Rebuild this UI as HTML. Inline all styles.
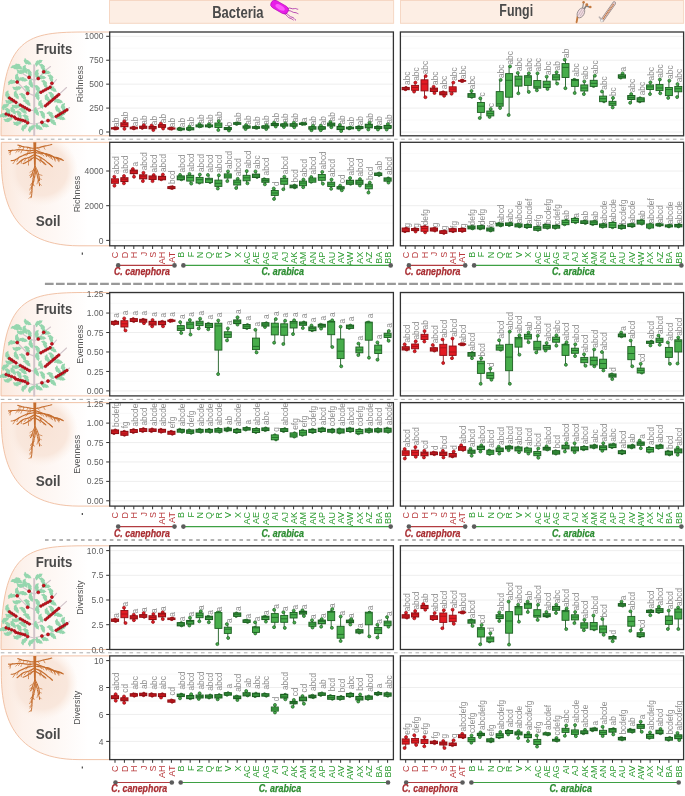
<!DOCTYPE html><html><head><meta charset="utf-8"><style>
html,body{margin:0;padding:0;background:#fff;width:685px;height:796px;overflow:hidden}
svg{display:block;will-change:transform}
text{font-family:"Liberation Sans",sans-serif}
</style></head><body>
<svg width="685" height="796" viewBox="0 0 685 796">
<defs>
<linearGradient id="pg" x1="0" y1="0" x2="1" y2="0">
<stop offset="0" stop-color="#fbe8dc"/><stop offset="0.2" stop-color="#fdf2ec"/><stop offset="0.5" stop-color="#fef8f5"/><stop offset="0.8" stop-color="#ffffff"/></linearGradient>
<radialGradient id="glow" cx="0.5" cy="0.5" r="0.5">
<stop offset="0" stop-color="#f8e3d6"/><stop offset="0.7" stop-color="#f9e7dc"/><stop offset="1" stop-color="#fcf0e8" stop-opacity="0"/></radialGradient>
</defs>
<rect x="109.5" y="0.5" width="284.1" height="22.8" fill="#fdeee4" stroke="#f6d7c4" stroke-width="1"/>
<rect x="400.5" y="0.5" width="283.1" height="22.8" fill="#fdeee4" stroke="#f6d7c4" stroke-width="1"/>
<text x="212.2" y="17.6" font-size="15.8" font-weight="bold" fill="#4a4a4a" textLength="51.4" lengthAdjust="spacingAndGlyphs">Bacteria</text>
<text x="499.3" y="16.0" font-size="15.8" font-weight="bold" fill="#4a4a4a" textLength="33.8" lengthAdjust="spacingAndGlyphs">Fungi</text>
<defs><g id="tree"><line x1="34.2" y1="32.4" x2="34.2" y2="104" stroke="#d2c4ca" stroke-width="2.0"/>
<line x1="34.2" y1="48.5" x2="29.1" y2="45.4" stroke="#d2c4ca" stroke-width="1.15" stroke-linecap="round"/>
<line x1="34.2" y1="48.5" x2="38.3" y2="46.5" stroke="#d2c4ca" stroke-width="1.15" stroke-linecap="round"/>
<line x1="34.2" y1="63.6" x2="27.6" y2="61.0" stroke="#d2c4ca" stroke-width="1.15" stroke-linecap="round"/>
<line x1="34.2" y1="63.6" x2="40.9" y2="60.3" stroke="#d2c4ca" stroke-width="1.15" stroke-linecap="round"/>
<line x1="34.2" y1="78.4" x2="29.6" y2="78.4" stroke="#d2c4ca" stroke-width="1.15" stroke-linecap="round"/>
<line x1="34.2" y1="78.4" x2="45.5" y2="73.8" stroke="#d2c4ca" stroke-width="1.15" stroke-linecap="round"/>
<line x1="34.2" y1="92.2" x2="27.6" y2="90.7" stroke="#d2c4ca" stroke-width="1.15" stroke-linecap="round"/>
<line x1="34.2" y1="92.2" x2="41.9" y2="90.2" stroke="#d2c4ca" stroke-width="1.15" stroke-linecap="round"/>
<line x1="41.9" y1="90.2" x2="48.0" y2="88.6" stroke="#d2c4ca" stroke-width="1.15" stroke-linecap="round"/>
<line x1="29.1" y1="45.4" x2="22.5" y2="41.5" stroke="#d2c4ca" stroke-width="1.15" stroke-linecap="round"/>
<line x1="38.3" y1="46.5" x2="43.7" y2="39.8" stroke="#d2c4ca" stroke-width="1.15" stroke-linecap="round"/>
<line x1="43.7" y1="39.8" x2="50.5" y2="34.5" stroke="#d2c4ca" stroke-width="1.15" stroke-linecap="round"/>
<line x1="27.6" y1="61.0" x2="17.2" y2="50.0" stroke="#d2c4ca" stroke-width="1.15" stroke-linecap="round"/>
<line x1="40.9" y1="60.3" x2="50.1" y2="55.2" stroke="#d2c4ca" stroke-width="1.15" stroke-linecap="round"/>
<line x1="50.1" y1="55.2" x2="56.5" y2="47.5" stroke="#d2c4ca" stroke-width="1.15" stroke-linecap="round"/>
<line x1="29.6" y1="78.4" x2="9.7" y2="65.6" stroke="#d2c4ca" stroke-width="1.15" stroke-linecap="round"/>
<line x1="45.5" y1="73.8" x2="58.8" y2="62.6" stroke="#d2c4ca" stroke-width="1.15" stroke-linecap="round"/>
<line x1="58.8" y1="62.6" x2="66.5" y2="55.5" stroke="#d2c4ca" stroke-width="1.15" stroke-linecap="round"/>
<line x1="27.6" y1="90.7" x2="6.1" y2="82.0" stroke="#d2c4ca" stroke-width="1.15" stroke-linecap="round"/>
<line x1="48.0" y1="88.6" x2="66.9" y2="77.9" stroke="#d2c4ca" stroke-width="1.15" stroke-linecap="round"/>
<line x1="66.9" y1="77.9" x2="69.5" y2="75.5" stroke="#d2c4ca" stroke-width="1.15" stroke-linecap="round"/>
<defs><path id="leaf" d="M-4.60,-0.00 L-3.29,-1.06 L-1.97,-1.30 L-0.66,-2.20 L0.66,-1.58 L1.97,-1.80 L3.29,-0.76 L4.60,-0.00 L4.60,0.00 L3.29,0.76 L1.97,1.80 L0.66,1.58 L-0.66,2.20 L-1.97,1.30 L-3.29,1.06 L-4.60,0.00Z" fill="#95d6ae"/></defs>
<use href="#leaf" transform="translate(25.66,29.27) rotate(78) scale(0.75)"/>
<use href="#leaf" transform="translate(27.6,30.3) rotate(28)"/>
<use href="#leaf" transform="translate(36.89,31.40) rotate(-82) scale(0.75)"/>
<use href="#leaf" transform="translate(38.8,30.3) rotate(-30)"/>
<use href="#leaf" transform="translate(17.21,33.29) rotate(-8) scale(0.75)"/>
<use href="#leaf" transform="translate(18.9,34.7) rotate(40)"/>
<use href="#leaf" transform="translate(13.73,34.75) rotate(-17) scale(0.75)"/>
<use href="#leaf" transform="translate(15.8,35.5) rotate(20)"/>
<use href="#leaf" transform="translate(24.07,35.81) rotate(117) scale(0.75)"/>
<use href="#leaf" transform="translate(25.0,37.8) rotate(65)"/>
<use href="#leaf" transform="translate(19.31,39.99) rotate(41) scale(0.75)"/>
<use href="#leaf" transform="translate(21.5,39.8) rotate(-5)"/>
<use href="#leaf" transform="translate(29.03,39.27) rotate(40) scale(0.75)"/>
<use href="#leaf" transform="translate(29.6,41.4) rotate(75)"/>
<use href="#leaf" transform="translate(41.97,33.71) rotate(22) scale(0.75)"/>
<use href="#leaf" transform="translate(42.9,35.7) rotate(65)"/>
<use href="#leaf" transform="translate(44.32,39.99) rotate(-45) scale(0.75)"/>
<use href="#leaf" transform="translate(46.5,40.3) rotate(8)"/>
<use href="#leaf" transform="translate(36.61,40.21) rotate(123) scale(0.75)"/>
<use href="#leaf" transform="translate(36.8,42.4) rotate(85)"/>
<use href="#leaf" transform="translate(39.71,45.21) rotate(-33) scale(0.75)"/>
<use href="#leaf" transform="translate(41.9,45.4) rotate(5)"/>
<use href="#leaf" transform="translate(16.65,44.43) rotate(108) scale(0.75)"/>
<use href="#leaf" transform="translate(17.4,46.5) rotate(70)"/>
<use href="#leaf" transform="translate(10.11,50.19) rotate(-59) scale(0.75)"/>
<use href="#leaf" transform="translate(12.3,50.0) rotate(-5)"/>
<use href="#leaf" transform="translate(21.37,46.93) rotate(-24) scale(0.75)"/>
<use href="#leaf" transform="translate(23.5,47.5) rotate(15)"/>
<use href="#leaf" transform="translate(50.53,44.37) rotate(21) scale(0.75)"/>
<use href="#leaf" transform="translate(51.1,46.5) rotate(75)"/>
<use href="#leaf" transform="translate(26.67,55.21) rotate(13) scale(0.75)"/>
<use href="#leaf" transform="translate(27.6,57.2) rotate(65)"/>
<use href="#leaf" transform="translate(15.23,56.58) rotate(31) scale(0.75)"/>
<use href="#leaf" transform="translate(17.4,56.2) rotate(-10)"/>
<use href="#leaf" transform="translate(44.25,50.03) rotate(24) scale(0.75)"/>
<use href="#leaf" transform="translate(45.0,52.1) rotate(70)"/>
<use href="#leaf" transform="translate(37.05,55.13) rotate(31) scale(0.75)"/>
<use href="#leaf" transform="translate(37.8,57.2) rotate(70)"/>
<use href="#leaf" transform="translate(51.30,55.94) rotate(-19) scale(0.75)"/>
<use href="#leaf" transform="translate(53.1,57.2) rotate(35)"/>
<use href="#leaf" transform="translate(6.95,61.53) rotate(111) scale(0.75)"/>
<use href="#leaf" transform="translate(7.7,63.6) rotate(70)"/>
<use href="#leaf" transform="translate(15.30,61.69) rotate(103) scale(0.75)"/>
<use href="#leaf" transform="translate(16.4,63.6) rotate(60)"/>
<use href="#leaf" transform="translate(22.24,62.80) rotate(15) scale(0.75)"/>
<use href="#leaf" transform="translate(23.5,64.6) rotate(55)"/>
<use href="#leaf" transform="translate(8.02,70.01) rotate(33) scale(0.75)"/>
<use href="#leaf" transform="translate(10.2,69.7) rotate(-8)"/>
<use href="#leaf" transform="translate(26.19,69.01) rotate(3) scale(0.75)"/>
<use href="#leaf" transform="translate(27.6,70.7) rotate(50)"/>
<use href="#leaf" transform="translate(14.72,74.61) rotate(28) scale(0.75)"/>
<use href="#leaf" transform="translate(16.9,74.3) rotate(-8)"/>
<use href="#leaf" transform="translate(39.97,70.81) rotate(116) scale(0.75)"/>
<use href="#leaf" transform="translate(40.9,72.8) rotate(65)"/>
<use href="#leaf" transform="translate(46.24,64.90) rotate(104) scale(0.75)"/>
<use href="#leaf" transform="translate(47.5,66.7) rotate(55)"/>
<use href="#leaf" transform="translate(56.67,68.63) rotate(-30) scale(0.75)"/>
<use href="#leaf" transform="translate(58.8,69.2) rotate(15)"/>
<use href="#leaf" transform="translate(21.81,77.49) rotate(4) scale(0.75)"/>
<use href="#leaf" transform="translate(23.5,78.9) rotate(40)"/>
<use href="#leaf" transform="translate(7.45,77.83) rotate(16) scale(0.75)"/>
<use href="#leaf" transform="translate(8.2,79.9) rotate(70)"/>
<use href="#leaf" transform="translate(12.04,77.10) rotate(107) scale(0.75)"/>
<use href="#leaf" transform="translate(13.3,78.9) rotate(55)"/>
<use href="#leaf" transform="translate(1.91,83.31) rotate(-41) scale(0.75)"/>
<use href="#leaf" transform="translate(4.1,83.5) rotate(5)"/>
<use href="#leaf" transform="translate(6.63,88.35) rotate(22) scale(0.75)"/>
<use href="#leaf" transform="translate(8.7,87.6) rotate(-20)"/>
<use href="#leaf" transform="translate(18.47,80.51) rotate(21) scale(0.75)"/>
<use href="#leaf" transform="translate(19.4,82.5) rotate(65)"/>
<use href="#leaf" transform="translate(25.50,84.19) rotate(13) scale(0.75)"/>
<use href="#leaf" transform="translate(26.6,86.1) rotate(60)"/>
<use href="#leaf" transform="translate(42.15,80.93) rotate(33) scale(0.75)"/>
<use href="#leaf" transform="translate(42.9,83.0) rotate(70)"/>
<use href="#leaf" transform="translate(49.84,81.20) rotate(1) scale(0.75)"/>
<use href="#leaf" transform="translate(51.1,83.0) rotate(55)"/>
<use href="#leaf" transform="translate(56.79,76.21) rotate(92) scale(0.75)"/>
<use href="#leaf" transform="translate(58.2,77.9) rotate(50)"/>
<use href="#leaf" transform="translate(62.83,73.77) rotate(128) scale(0.75)"/>
<use href="#leaf" transform="translate(63.4,75.9) rotate(75)"/>
<use href="#leaf" transform="translate(15.77,91.77) rotate(36) scale(0.75)"/>
<use href="#leaf" transform="translate(17.9,91.2) rotate(-15)"/>
<use href="#leaf" transform="translate(22.94,96.36) rotate(-92) scale(0.75)"/>
<use href="#leaf" transform="translate(24.5,94.8) rotate(-45)"/>
<use href="#leaf" transform="translate(42.93,92.45) rotate(72) scale(0.75)"/>
<use href="#leaf" transform="translate(45.0,93.2) rotate(20)"/>
<use href="#leaf" transform="translate(51.54,88.64) rotate(1) scale(0.75)"/>
<use href="#leaf" transform="translate(53.1,90.2) rotate(45)"/>
<use href="#leaf" transform="translate(59.17,85.53) rotate(-24) scale(0.75)"/>
<use href="#leaf" transform="translate(61.3,86.1) rotate(15)"/>
<use href="#leaf" transform="translate(36.93,62.37) rotate(128) scale(0.75)"/>
<use href="#leaf" transform="translate(37.5,64.5) rotate(75)"/>
<use href="#leaf" transform="translate(30.25,49.93) rotate(111) scale(0.75)"/>
<use href="#leaf" transform="translate(31.0,52.0) rotate(70)"/>
<use href="#leaf" transform="translate(51.25,61.93) rotate(29) scale(0.75)"/>
<use href="#leaf" transform="translate(52.0,64.0) rotate(70)"/>
<use href="#leaf" transform="translate(35.40,78.09) rotate(101) scale(0.75)"/>
<use href="#leaf" transform="translate(36.5,80.0) rotate(60)"/>
<use href="#leaf" transform="translate(29.81,97.41) rotate(-88) scale(0.75)"/>
<use href="#leaf" transform="translate(31.5,96.0) rotate(-40)"/>
<use href="#leaf" transform="translate(37.09,94.40) rotate(85) scale(0.75)"/>
<use href="#leaf" transform="translate(39.0,95.5) rotate(30)"/>
<use href="#leaf" transform="translate(3.59,75.10) rotate(-79) scale(0.75)"/>
<use href="#leaf" transform="translate(5.5,74.0) rotate(-30)"/>
<use href="#leaf" transform="translate(59.93,82.75) rotate(-75) scale(0.75)"/>
<use href="#leaf" transform="translate(62.0,82.0) rotate(-20)"/>
<circle cx="29.1" cy="45.4" r="1.55" fill="#cf101b" stroke="#850810" stroke-width="0.5"/>
<circle cx="38.3" cy="46.5" r="1.55" fill="#cf101b" stroke="#850810" stroke-width="0.5"/>
<circle cx="43.7" cy="39.8" r="1.55" fill="#cf101b" stroke="#850810" stroke-width="0.5"/>
<circle cx="17.2" cy="50.0" r="1.55" fill="#cf101b" stroke="#850810" stroke-width="0.5"/>
<circle cx="51.9" cy="51.3" r="1.55" fill="#cf101b" stroke="#850810" stroke-width="0.5"/>
<circle cx="27.6" cy="61.4" r="1.55" fill="#cf101b" stroke="#850810" stroke-width="0.5"/>
<circle cx="27.6" cy="90.7" r="1.55" fill="#cf101b" stroke="#850810" stroke-width="0.5"/>
<circle cx="41.9" cy="90.2" r="1.55" fill="#cf101b" stroke="#850810" stroke-width="0.5"/>
<circle cx="48.0" cy="88.6" r="1.55" fill="#cf101b" stroke="#850810" stroke-width="0.5"/>
<circle cx="40.90" cy="60.30" r="1.35" fill="#cf101b" stroke="#850810" stroke-width="0.6"/>
<circle cx="43.20" cy="59.02" r="1.35" fill="#cf101b" stroke="#850810" stroke-width="0.6"/>
<circle cx="45.50" cy="57.75" r="1.35" fill="#cf101b" stroke="#850810" stroke-width="0.6"/>
<circle cx="47.80" cy="56.48" r="1.35" fill="#cf101b" stroke="#850810" stroke-width="0.6"/>
<circle cx="50.10" cy="55.20" r="1.35" fill="#cf101b" stroke="#850810" stroke-width="0.6"/>
<circle cx="9.50" cy="66.00" r="1.35" fill="#cf101b" stroke="#850810" stroke-width="0.6"/>
<circle cx="11.67" cy="67.47" r="1.35" fill="#cf101b" stroke="#850810" stroke-width="0.6"/>
<circle cx="13.83" cy="68.93" r="1.35" fill="#cf101b" stroke="#850810" stroke-width="0.6"/>
<circle cx="16.00" cy="70.40" r="1.35" fill="#cf101b" stroke="#850810" stroke-width="0.6"/>
<circle cx="20.30" cy="73.00" r="1.35" fill="#cf101b" stroke="#850810" stroke-width="0.6"/>
<circle cx="22.57" cy="74.30" r="1.35" fill="#cf101b" stroke="#850810" stroke-width="0.6"/>
<circle cx="24.85" cy="75.60" r="1.35" fill="#cf101b" stroke="#850810" stroke-width="0.6"/>
<circle cx="27.12" cy="76.90" r="1.35" fill="#cf101b" stroke="#850810" stroke-width="0.6"/>
<circle cx="29.40" cy="78.20" r="1.35" fill="#cf101b" stroke="#850810" stroke-width="0.6"/>
<circle cx="45.50" cy="73.80" r="1.35" fill="#cf101b" stroke="#850810" stroke-width="0.6"/>
<circle cx="47.40" cy="72.20" r="1.35" fill="#cf101b" stroke="#850810" stroke-width="0.6"/>
<circle cx="49.30" cy="70.60" r="1.35" fill="#cf101b" stroke="#850810" stroke-width="0.6"/>
<circle cx="51.20" cy="69.00" r="1.35" fill="#cf101b" stroke="#850810" stroke-width="0.6"/>
<circle cx="53.10" cy="67.40" r="1.35" fill="#cf101b" stroke="#850810" stroke-width="0.6"/>
<circle cx="55.00" cy="65.80" r="1.35" fill="#cf101b" stroke="#850810" stroke-width="0.6"/>
<circle cx="56.90" cy="64.20" r="1.35" fill="#cf101b" stroke="#850810" stroke-width="0.6"/>
<circle cx="58.80" cy="62.60" r="1.35" fill="#cf101b" stroke="#850810" stroke-width="0.6"/>
<circle cx="6.10" cy="82.00" r="1.35" fill="#cf101b" stroke="#850810" stroke-width="0.6"/>
<circle cx="8.83" cy="83.00" r="1.35" fill="#cf101b" stroke="#850810" stroke-width="0.6"/>
<circle cx="11.57" cy="84.00" r="1.35" fill="#cf101b" stroke="#850810" stroke-width="0.6"/>
<circle cx="14.30" cy="85.00" r="1.35" fill="#cf101b" stroke="#850810" stroke-width="0.6"/>
<circle cx="15.80" cy="86.60" r="1.35" fill="#cf101b" stroke="#850810" stroke-width="0.6"/>
<circle cx="18.10" cy="87.22" r="1.35" fill="#cf101b" stroke="#850810" stroke-width="0.6"/>
<circle cx="20.40" cy="87.85" r="1.35" fill="#cf101b" stroke="#850810" stroke-width="0.6"/>
<circle cx="22.70" cy="88.47" r="1.35" fill="#cf101b" stroke="#850810" stroke-width="0.6"/>
<circle cx="25.00" cy="89.10" r="1.35" fill="#cf101b" stroke="#850810" stroke-width="0.6"/>
<circle cx="56.20" cy="84.50" r="1.35" fill="#cf101b" stroke="#850810" stroke-width="0.6"/>
<circle cx="58.34" cy="83.18" r="1.35" fill="#cf101b" stroke="#850810" stroke-width="0.6"/>
<circle cx="60.48" cy="81.86" r="1.35" fill="#cf101b" stroke="#850810" stroke-width="0.6"/>
<circle cx="62.62" cy="80.54" r="1.35" fill="#cf101b" stroke="#850810" stroke-width="0.6"/>
<circle cx="64.76" cy="79.22" r="1.35" fill="#cf101b" stroke="#850810" stroke-width="0.6"/>
<circle cx="66.90" cy="77.90" r="1.35" fill="#cf101b" stroke="#850810" stroke-width="0.6"/></g><g id="root"><path d="M33.3,0 L36.3,0 L36.0,10 L35.8,22 L35.4,30 L34.6,30 L34.0,22 L33.6,10 Z" fill="#c56d2e"/>
<path d="M34.40,6.00 L32.28,5.91 L30.18,5.56 L28.11,5.10 L26.02,4.68 L23.90,4.52 L21.83,4.04 L19.82,3.36 L17.78,2.77" fill="none" stroke="#c56d2e" stroke-width="1.15" stroke-linecap="round" stroke-linejoin="round"/>
<path d="M30.18,5.56 L30.06,6.53 L30.12,7.50 L30.01,8.47" fill="none" stroke="#c56d2e" stroke-width="0.75" stroke-linecap="round" stroke-linejoin="round"/>
<path d="M28.11,5.10 L27.79,5.72 L27.46,6.34 L27.09,6.94" fill="none" stroke="#c56d2e" stroke-width="0.75" stroke-linecap="round" stroke-linejoin="round"/>
<path d="M23.90,4.52 L23.69,5.58 L23.25,6.56 L22.88,7.58" fill="none" stroke="#c56d2e" stroke-width="0.75" stroke-linecap="round" stroke-linejoin="round"/>
<path d="M21.83,4.04 L21.23,4.52 L20.67,5.05 L20.11,5.58" fill="none" stroke="#c56d2e" stroke-width="0.75" stroke-linecap="round" stroke-linejoin="round"/>
<path d="M19.82,3.36 L19.59,4.15 L19.20,4.87 L18.89,5.63" fill="none" stroke="#c56d2e" stroke-width="0.75" stroke-linecap="round" stroke-linejoin="round"/>
<path d="M34.40,8.00 L32.40,8.06 L30.43,8.42 L28.43,8.39 L26.45,8.16 L24.46,7.91 L22.48,7.64 L20.49,7.50 L18.49,7.33 L16.51,7.61 L14.54,7.91 L12.54,7.94 L10.57,8.30 L8.57,8.29" fill="none" stroke="#c56d2e" stroke-width="1.15" stroke-linecap="round" stroke-linejoin="round"/>
<path d="M30.43,8.42 L30.10,9.41 L29.56,10.31 L29.12,11.25" fill="none" stroke="#c56d2e" stroke-width="0.75" stroke-linecap="round" stroke-linejoin="round"/>
<path d="M28.43,8.39 L28.00,9.58 L27.64,10.79 L27.35,12.02" fill="none" stroke="#c56d2e" stroke-width="0.75" stroke-linecap="round" stroke-linejoin="round"/>
<path d="M22.48,7.64 L21.83,8.57 L21.32,9.58 L20.90,10.63" fill="none" stroke="#c56d2e" stroke-width="0.75" stroke-linecap="round" stroke-linejoin="round"/>
<path d="M20.49,7.50 L19.77,8.13 L19.10,8.82 L18.54,9.59" fill="none" stroke="#c56d2e" stroke-width="0.75" stroke-linecap="round" stroke-linejoin="round"/>
<path d="M18.49,7.33 L17.67,8.35 L16.76,9.30 L15.80,10.20" fill="none" stroke="#c56d2e" stroke-width="0.75" stroke-linecap="round" stroke-linejoin="round"/>
<path d="M12.54,7.94 L11.39,8.86 L10.12,9.60 L8.91,10.43" fill="none" stroke="#c56d2e" stroke-width="0.75" stroke-linecap="round" stroke-linejoin="round"/>
<path d="M10.57,8.30 L10.36,9.68 L10.32,11.07 L9.99,12.43" fill="none" stroke="#c56d2e" stroke-width="0.75" stroke-linecap="round" stroke-linejoin="round"/>
<path d="M34.40,10.00 L32.35,10.36 L30.31,10.80 L28.24,11.03 L26.28,11.73 L24.37,12.56 L22.49,13.47 L20.59,14.32 L18.76,15.32 L17.03,16.48 L15.25,17.56 L13.26,18.17 L11.19,18.38" fill="none" stroke="#c56d2e" stroke-width="1.15" stroke-linecap="round" stroke-linejoin="round"/>
<path d="M28.24,11.03 L27.36,11.69 L26.63,12.52 L25.97,13.40" fill="none" stroke="#c56d2e" stroke-width="0.75" stroke-linecap="round" stroke-linejoin="round"/>
<path d="M18.76,15.32 L18.14,16.54 L17.47,17.75 L16.90,18.99" fill="none" stroke="#c56d2e" stroke-width="0.75" stroke-linecap="round" stroke-linejoin="round"/>
<path d="M15.25,17.56 L14.63,18.88 L13.88,20.13 L13.02,21.32" fill="none" stroke="#c56d2e" stroke-width="0.75" stroke-linecap="round" stroke-linejoin="round"/>
<path d="M34.40,12.50 L32.55,13.25 L30.78,14.20 L29.03,15.16 L27.12,15.74 L25.15,16.10 L23.31,16.89 L21.63,17.97 L20.07,19.22 L18.63,20.61 L17.06,21.85" fill="none" stroke="#c56d2e" stroke-width="1.15" stroke-linecap="round" stroke-linejoin="round"/>
<path d="M32.55,13.25 L31.84,14.24 L31.07,15.17 L30.34,16.14" fill="none" stroke="#c56d2e" stroke-width="0.75" stroke-linecap="round" stroke-linejoin="round"/>
<path d="M29.03,15.16 L28.89,15.97 L28.68,16.76 L28.46,17.55" fill="none" stroke="#c56d2e" stroke-width="0.75" stroke-linecap="round" stroke-linejoin="round"/>
<path d="M27.12,15.74 L26.17,16.76 L25.14,17.71 L24.38,18.88" fill="none" stroke="#c56d2e" stroke-width="0.75" stroke-linecap="round" stroke-linejoin="round"/>
<path d="M23.31,16.89 L22.75,17.48 L22.26,18.13 L21.71,18.73" fill="none" stroke="#c56d2e" stroke-width="0.75" stroke-linecap="round" stroke-linejoin="round"/>
<path d="M21.63,17.97 L21.58,18.96 L21.36,19.93 L21.25,20.91" fill="none" stroke="#c56d2e" stroke-width="0.75" stroke-linecap="round" stroke-linejoin="round"/>
<path d="M34.40,15.00 L32.42,15.88 L30.68,17.17 L28.87,18.36 L27.06,19.55 L25.15,20.58 L23.11,21.32" fill="none" stroke="#c56d2e" stroke-width="1.15" stroke-linecap="round" stroke-linejoin="round"/>
<path d="M32.42,15.88 L31.74,16.75 L31.23,17.73 L30.55,18.61" fill="none" stroke="#c56d2e" stroke-width="0.75" stroke-linecap="round" stroke-linejoin="round"/>
<path d="M28.87,18.36 L28.59,19.83 L28.49,21.32 L28.49,22.81" fill="none" stroke="#c56d2e" stroke-width="0.75" stroke-linecap="round" stroke-linejoin="round"/>
<path d="M35.20,6.00 L37.28,5.59 L39.39,5.29 L41.39,4.58 L43.46,4.11 L45.53,3.62 L47.61,3.19 L49.68,2.70 L51.74,2.16" fill="none" stroke="#c56d2e" stroke-width="1.15" stroke-linecap="round" stroke-linejoin="round"/>
<path d="M37.28,5.59 L38.11,6.20 L38.86,6.90 L39.52,7.69" fill="none" stroke="#c56d2e" stroke-width="0.75" stroke-linecap="round" stroke-linejoin="round"/>
<path d="M43.46,4.11 L44.00,5.04 L44.37,6.05 L44.97,6.93" fill="none" stroke="#c56d2e" stroke-width="0.75" stroke-linecap="round" stroke-linejoin="round"/>
<path d="M35.20,8.00 L37.12,8.58 L39.00,9.26 L40.89,9.89 L42.76,10.60 L44.64,11.28 L46.47,12.09 L48.32,12.86 L50.18,13.60 L52.14,13.99 L54.02,14.65 L55.97,15.10 L57.92,15.57 L59.81,16.22 L61.61,17.08 L63.34,18.09" fill="none" stroke="#c56d2e" stroke-width="1.15" stroke-linecap="round" stroke-linejoin="round"/>
<path d="M37.12,8.58 L37.69,9.30 L38.35,9.95 L38.96,10.65" fill="none" stroke="#c56d2e" stroke-width="0.75" stroke-linecap="round" stroke-linejoin="round"/>
<path d="M39.00,9.26 L39.74,10.50 L40.55,11.71 L41.55,12.77" fill="none" stroke="#c56d2e" stroke-width="0.75" stroke-linecap="round" stroke-linejoin="round"/>
<path d="M44.64,11.28 L45.26,12.31 L45.99,13.27 L46.53,14.34" fill="none" stroke="#c56d2e" stroke-width="0.75" stroke-linecap="round" stroke-linejoin="round"/>
<path d="M46.47,12.09 L47.46,13.04 L48.34,14.09 L49.32,15.05" fill="none" stroke="#c56d2e" stroke-width="0.75" stroke-linecap="round" stroke-linejoin="round"/>
<path d="M50.18,13.60 L50.98,14.81 L51.81,16.00 L52.57,17.23" fill="none" stroke="#c56d2e" stroke-width="0.75" stroke-linecap="round" stroke-linejoin="round"/>
<path d="M52.14,13.99 L52.86,14.66 L53.65,15.26 L54.26,16.03" fill="none" stroke="#c56d2e" stroke-width="0.75" stroke-linecap="round" stroke-linejoin="round"/>
<path d="M54.02,14.65 L54.25,16.08 L54.78,17.43 L55.24,18.80" fill="none" stroke="#c56d2e" stroke-width="0.75" stroke-linecap="round" stroke-linejoin="round"/>
<path d="M55.97,15.10 L56.57,16.20 L57.33,17.19 L57.98,18.26" fill="none" stroke="#c56d2e" stroke-width="0.75" stroke-linecap="round" stroke-linejoin="round"/>
<path d="M57.92,15.57 L58.40,16.50 L58.97,17.37 L59.67,18.15" fill="none" stroke="#c56d2e" stroke-width="0.75" stroke-linecap="round" stroke-linejoin="round"/>
<path d="M35.20,10.00 L37.12,10.57 L39.10,10.79 L41.10,10.89 L43.09,11.07 L45.06,11.42 L47.05,11.64 L48.97,12.20 L50.80,13.01 L52.52,14.02 L54.18,15.15 L56.09,15.73 L57.99,16.36 L59.97,16.65 L61.85,17.33" fill="none" stroke="#c56d2e" stroke-width="1.15" stroke-linecap="round" stroke-linejoin="round"/>
<path d="M41.10,10.89 L42.05,11.84 L42.97,12.83 L43.93,13.77" fill="none" stroke="#c56d2e" stroke-width="0.75" stroke-linecap="round" stroke-linejoin="round"/>
<path d="M45.06,11.42 L45.71,12.13 L46.30,12.89 L46.77,13.73" fill="none" stroke="#c56d2e" stroke-width="0.75" stroke-linecap="round" stroke-linejoin="round"/>
<path d="M47.05,11.64 L47.80,12.44 L48.65,13.12 L49.54,13.75" fill="none" stroke="#c56d2e" stroke-width="0.75" stroke-linecap="round" stroke-linejoin="round"/>
<path d="M48.97,12.20 L49.72,12.97 L50.45,13.77 L51.30,14.43" fill="none" stroke="#c56d2e" stroke-width="0.75" stroke-linecap="round" stroke-linejoin="round"/>
<path d="M50.80,13.01 L51.00,14.10 L51.10,15.22 L51.12,16.33" fill="none" stroke="#c56d2e" stroke-width="0.75" stroke-linecap="round" stroke-linejoin="round"/>
<path d="M54.18,15.15 L54.51,15.92 L54.83,16.70 L55.10,17.50" fill="none" stroke="#c56d2e" stroke-width="0.75" stroke-linecap="round" stroke-linejoin="round"/>
<path d="M57.99,16.36 L58.45,17.33 L58.74,18.37 L58.91,19.44" fill="none" stroke="#c56d2e" stroke-width="0.75" stroke-linecap="round" stroke-linejoin="round"/>
<path d="M35.20,12.50 L37.05,13.49 L39.02,14.21 L40.88,15.19 L42.59,16.41 L44.37,17.53 L46.01,18.84 L47.53,20.29 L49.26,21.48 L50.85,22.85 L52.35,24.33" fill="none" stroke="#c56d2e" stroke-width="1.15" stroke-linecap="round" stroke-linejoin="round"/>
<path d="M39.02,14.21 L39.64,15.22 L40.18,16.27 L40.70,17.32" fill="none" stroke="#c56d2e" stroke-width="0.75" stroke-linecap="round" stroke-linejoin="round"/>
<path d="M40.88,15.19 L40.87,16.31 L41.05,17.41 L41.00,18.52" fill="none" stroke="#c56d2e" stroke-width="0.75" stroke-linecap="round" stroke-linejoin="round"/>
<path d="M49.26,21.48 L50.06,22.08 L50.84,22.73 L51.50,23.48" fill="none" stroke="#c56d2e" stroke-width="0.75" stroke-linecap="round" stroke-linejoin="round"/>
<path d="M50.85,22.85 L51.34,23.33 L51.82,23.83 L52.38,24.23" fill="none" stroke="#c56d2e" stroke-width="0.75" stroke-linecap="round" stroke-linejoin="round"/>
<path d="M35.20,15.00 L36.91,16.32 L38.79,17.41 L40.79,18.24 L42.54,19.52 L44.30,20.79 L45.85,22.29" fill="none" stroke="#c56d2e" stroke-width="1.15" stroke-linecap="round" stroke-linejoin="round"/>
<path d="M38.79,17.41 L39.39,18.23 L39.92,19.10 L40.40,20.00" fill="none" stroke="#c56d2e" stroke-width="0.75" stroke-linecap="round" stroke-linejoin="round"/>
<path d="M42.54,19.52 L43.05,20.36 L43.62,21.15 L44.16,21.97" fill="none" stroke="#c56d2e" stroke-width="0.75" stroke-linecap="round" stroke-linejoin="round"/>
<path d="M35.00,28.00 L35.22,29.99 L35.07,31.98 L34.85,33.97 L34.43,35.92 L33.92,37.86 L33.37,39.78 L32.59,41.62 L32.12,43.57 L31.85,45.55 L32.01,47.54 L31.94,49.54 L31.78,51.54 L31.57,53.52 L31.00,55.44" fill="none" stroke="#c56d2e" stroke-width="1.00" stroke-linecap="round" stroke-linejoin="round"/>
<path d="M35.22,29.99 L35.92,30.88 L36.58,31.79 L37.44,32.52" fill="none" stroke="#c56d2e" stroke-width="0.65" stroke-linecap="round" stroke-linejoin="round"/>
<path d="M34.85,33.97 L34.17,34.69 L33.48,35.41 L32.76,36.08" fill="none" stroke="#c56d2e" stroke-width="0.65" stroke-linecap="round" stroke-linejoin="round"/>
<path d="M33.37,39.78 L32.70,40.59 L31.88,41.25 L31.05,41.89" fill="none" stroke="#c56d2e" stroke-width="0.65" stroke-linecap="round" stroke-linejoin="round"/>
<path d="M32.59,41.62 L33.25,42.20 L33.81,42.87 L34.25,43.63" fill="none" stroke="#c56d2e" stroke-width="0.65" stroke-linecap="round" stroke-linejoin="round"/>
<path d="M32.12,43.57 L31.46,44.44 L30.67,45.20 L29.89,45.96" fill="none" stroke="#c56d2e" stroke-width="0.65" stroke-linecap="round" stroke-linejoin="round"/>
<path d="M31.85,45.55 L31.11,46.36 L30.22,47.02 L29.39,47.74" fill="none" stroke="#c56d2e" stroke-width="0.65" stroke-linecap="round" stroke-linejoin="round"/>
<path d="M32.01,47.54 L31.35,48.66 L30.69,49.78 L29.84,50.76" fill="none" stroke="#c56d2e" stroke-width="0.65" stroke-linecap="round" stroke-linejoin="round"/>
<path d="M31.94,49.54 L31.19,50.37 L30.48,51.22 L29.92,52.19" fill="none" stroke="#c56d2e" stroke-width="0.65" stroke-linecap="round" stroke-linejoin="round"/>
<path d="M31.57,53.52 L30.69,54.33 L29.79,55.13 L28.99,56.02" fill="none" stroke="#c56d2e" stroke-width="0.65" stroke-linecap="round" stroke-linejoin="round"/>
<path d="M35.00,27.00 L34.33,28.89 L34.11,30.87 L33.69,32.83 L33.30,34.79 L33.10,36.78 L32.75,38.75 L32.30,40.70 L32.17,42.69 L31.93,44.68 L31.88,46.68" fill="none" stroke="#c56d2e" stroke-width="1.00" stroke-linecap="round" stroke-linejoin="round"/>
<path d="M34.11,30.87 L33.10,31.94 L32.21,33.11 L31.50,34.40" fill="none" stroke="#c56d2e" stroke-width="0.65" stroke-linecap="round" stroke-linejoin="round"/>
<path d="M33.69,32.83 L33.90,33.56 L34.21,34.25 L34.51,34.95" fill="none" stroke="#c56d2e" stroke-width="0.65" stroke-linecap="round" stroke-linejoin="round"/>
<path d="M33.10,36.78 L33.48,37.41 L33.82,38.07 L34.24,38.67" fill="none" stroke="#c56d2e" stroke-width="0.65" stroke-linecap="round" stroke-linejoin="round"/>
<path d="M32.75,38.75 L33.12,40.17 L33.44,41.60 L33.62,43.05" fill="none" stroke="#c56d2e" stroke-width="0.65" stroke-linecap="round" stroke-linejoin="round"/>
<path d="M32.30,40.70 L31.60,41.42 L30.94,42.17 L30.44,43.05" fill="none" stroke="#c56d2e" stroke-width="0.65" stroke-linecap="round" stroke-linejoin="round"/>
<path d="M35.40,26.00 L35.93,27.93 L36.42,29.87 L37.04,31.77 L37.32,33.75 L37.78,35.70 L38.30,37.63 L38.77,39.57 L39.37,41.48 L39.57,43.47" fill="none" stroke="#c56d2e" stroke-width="1.00" stroke-linecap="round" stroke-linejoin="round"/>
<path d="M35.93,27.93 L36.46,28.45 L36.91,29.04 L37.31,29.67" fill="none" stroke="#c56d2e" stroke-width="0.65" stroke-linecap="round" stroke-linejoin="round"/>
<path d="M36.42,29.87 L36.00,30.65 L35.48,31.38 L35.15,32.21" fill="none" stroke="#c56d2e" stroke-width="0.65" stroke-linecap="round" stroke-linejoin="round"/>
<path d="M38.30,37.63 L37.73,38.91 L37.43,40.28 L37.00,41.61" fill="none" stroke="#c56d2e" stroke-width="0.65" stroke-linecap="round" stroke-linejoin="round"/>
<path d="M39.37,41.48 L40.06,41.95 L40.77,42.39 L41.36,42.97" fill="none" stroke="#c56d2e" stroke-width="0.65" stroke-linecap="round" stroke-linejoin="round"/>
<path d="M34.80,24.00 L34.17,25.90 L33.38,27.73 L32.80,29.65 L32.05,31.50 L31.33,33.37 L30.44,35.16" fill="none" stroke="#c56d2e" stroke-width="1.00" stroke-linecap="round" stroke-linejoin="round"/>
<path d="M33.38,27.73 L32.18,28.49 L30.98,29.25 L29.87,30.12" fill="none" stroke="#c56d2e" stroke-width="0.65" stroke-linecap="round" stroke-linejoin="round"/>
<path d="M32.80,29.65 L32.90,30.94 L32.93,32.23 L33.23,33.48" fill="none" stroke="#c56d2e" stroke-width="0.65" stroke-linecap="round" stroke-linejoin="round"/>
<path d="M32.05,31.50 L31.16,31.92 L30.36,32.50 L29.59,33.11" fill="none" stroke="#c56d2e" stroke-width="0.65" stroke-linecap="round" stroke-linejoin="round"/>
<path d="M35.30,24.00 L36.21,25.94 L37.23,27.82 L37.93,29.85 L38.55,31.90 L39.01,33.99 L39.33,36.11 L39.49,38.25" fill="none" stroke="#c56d2e" stroke-width="1.00" stroke-linecap="round" stroke-linejoin="round"/>
<path d="M38.55,31.90 L39.70,32.27 L40.83,32.73 L41.99,33.07" fill="none" stroke="#c56d2e" stroke-width="0.65" stroke-linecap="round" stroke-linejoin="round"/>
<path d="M39.01,33.99 L38.79,35.24 L38.78,36.50 L38.93,37.75" fill="none" stroke="#c56d2e" stroke-width="0.65" stroke-linecap="round" stroke-linejoin="round"/>
<path d="M39.33,36.11 L39.99,36.48 L40.69,36.80 L41.38,37.11" fill="none" stroke="#c56d2e" stroke-width="0.65" stroke-linecap="round" stroke-linejoin="round"/></g></defs>
<path d="M110,32.0 L88,32.0 C27,32.0 1,35.0 1,134.8 L1,135.8 L110,135.8 Z" fill="url(#pg)"/>
<path d="M110,32.0 L88,32.0 C27,32.0 1,35.0 1,134.8 L1,135.8 L110,135.8" fill="none" stroke="#efbc9e" stroke-width="0.9"/>
<use href="#tree" transform="translate(0,32.0)"/>
<text x="35.7" y="53.6" font-size="14.2" font-weight="bold" fill="#4a4a4a" textLength="36.6" lengthAdjust="spacingAndGlyphs">Fruits</text>
<path d="M110,292.5 L88,292.5 C27,292.5 1,295.5 1,394.9 L1,395.9 L110,395.9 Z" fill="url(#pg)"/>
<path d="M110,292.5 L88,292.5 C27,292.5 1,295.5 1,394.9 L1,395.9 L110,395.9" fill="none" stroke="#efbc9e" stroke-width="0.9"/>
<use href="#tree" transform="translate(0,292.5)"/>
<text x="35.7" y="314.1" font-size="14.2" font-weight="bold" fill="#4a4a4a" textLength="36.6" lengthAdjust="spacingAndGlyphs">Fruits</text>
<path d="M110,545.8 L88,545.8 C27,545.8 1,548.8 1,648.5 L1,649.5 L110,649.5 Z" fill="url(#pg)"/>
<path d="M110,545.8 L88,545.8 C27,545.8 1,548.8 1,648.5 L1,649.5 L110,649.5" fill="none" stroke="#efbc9e" stroke-width="0.9"/>
<use href="#tree" transform="translate(0,545.8)"/>
<text x="35.7" y="567.4" font-size="14.2" font-weight="bold" fill="#4a4a4a" textLength="36.6" lengthAdjust="spacingAndGlyphs">Fruits</text>
<path d="M110,142.3 L1.3,142.3 L1.3,156.8 C1.3,191.8 6,245.8 79,245.8 L110,245.8 Z" fill="url(#pg)"/>
<circle cx="42" cy="170.3" r="36" fill="url(#glow)"/>
<path d="M110,142.3 L1.3,142.3 L1.3,156.8 C1.3,191.8 6,245.8 79,245.8 L110,245.8" fill="none" stroke="#efbc9e" stroke-width="0.9"/>
<use href="#root" transform="translate(0,142.3)"/>
<text x="35.8" y="225.5" font-size="14.3" font-weight="bold" fill="#4a4a4a" textLength="24.8" lengthAdjust="spacingAndGlyphs">Soil</text>
<path d="M110,402.6 L1.3,402.6 L1.3,417.1 C1.3,452.1 6,506.1 79,506.1 L110,506.1 Z" fill="url(#pg)"/>
<circle cx="42" cy="430.6" r="36" fill="url(#glow)"/>
<path d="M110,402.6 L1.3,402.6 L1.3,417.1 C1.3,452.1 6,506.1 79,506.1 L110,506.1" fill="none" stroke="#efbc9e" stroke-width="0.9"/>
<use href="#root" transform="translate(0,402.6)"/>
<text x="35.8" y="485.8" font-size="14.3" font-weight="bold" fill="#4a4a4a" textLength="24.8" lengthAdjust="spacingAndGlyphs">Soil</text>
<path d="M110,655.9 L1.3,655.9 L1.3,670.6 C1.3,705.6 6,759.6 79,759.6 L110,759.6 Z" fill="url(#pg)"/>
<circle cx="42" cy="683.9" r="36" fill="url(#glow)"/>
<path d="M110,655.9 L1.3,655.9 L1.3,670.6 C1.3,705.6 6,759.6 79,759.6 L110,759.6" fill="none" stroke="#efbc9e" stroke-width="0.9"/>
<use href="#root" transform="translate(0,655.9)"/>
<text x="35.8" y="739.1" font-size="14.3" font-weight="bold" fill="#4a4a4a" textLength="24.8" lengthAdjust="spacingAndGlyphs">Soil</text>
<rect x="109.7" y="32.0" width="283.70" height="103.80" fill="#fff"/>
<line x1="109.7" x2="393.4" y1="120.04" y2="120.04" stroke="#f5f5f5" stroke-width="0.6"/>
<line x1="109.7" x2="393.4" y1="96.11" y2="96.11" stroke="#f5f5f5" stroke-width="0.6"/>
<line x1="109.7" x2="393.4" y1="72.19" y2="72.19" stroke="#f5f5f5" stroke-width="0.6"/>
<line x1="109.7" x2="393.4" y1="48.26" y2="48.26" stroke="#f5f5f5" stroke-width="0.6"/>
<line x1="109.7" x2="393.4" y1="132.00" y2="132.00" stroke="#ececec" stroke-width="0.9"/>
<line x1="109.7" x2="393.4" y1="108.08" y2="108.08" stroke="#ececec" stroke-width="0.9"/>
<line x1="109.7" x2="393.4" y1="84.15" y2="84.15" stroke="#ececec" stroke-width="0.9"/>
<line x1="109.7" x2="393.4" y1="60.22" y2="60.22" stroke="#ececec" stroke-width="0.9"/>
<line x1="109.7" x2="393.4" y1="36.30" y2="36.30" stroke="#ececec" stroke-width="0.9"/>
<rect x="400.4" y="32.0" width="283.20" height="103.80" fill="#fff"/>
<line x1="400.4" x2="683.6" y1="120.04" y2="120.04" stroke="#f5f5f5" stroke-width="0.6"/>
<line x1="400.4" x2="683.6" y1="96.11" y2="96.11" stroke="#f5f5f5" stroke-width="0.6"/>
<line x1="400.4" x2="683.6" y1="72.19" y2="72.19" stroke="#f5f5f5" stroke-width="0.6"/>
<line x1="400.4" x2="683.6" y1="48.26" y2="48.26" stroke="#f5f5f5" stroke-width="0.6"/>
<line x1="400.4" x2="683.6" y1="132.00" y2="132.00" stroke="#ececec" stroke-width="0.9"/>
<line x1="400.4" x2="683.6" y1="108.08" y2="108.08" stroke="#ececec" stroke-width="0.9"/>
<line x1="400.4" x2="683.6" y1="84.15" y2="84.15" stroke="#ececec" stroke-width="0.9"/>
<line x1="400.4" x2="683.6" y1="60.22" y2="60.22" stroke="#ececec" stroke-width="0.9"/>
<line x1="400.4" x2="683.6" y1="36.30" y2="36.30" stroke="#ececec" stroke-width="0.9"/>
<rect x="109.7" y="142.3" width="283.70" height="103.50" fill="#fff"/>
<line x1="109.7" x2="393.4" y1="223.05" y2="223.05" stroke="#f5f5f5" stroke-width="0.6"/>
<line x1="109.7" x2="393.4" y1="188.35" y2="188.35" stroke="#f5f5f5" stroke-width="0.6"/>
<line x1="109.7" x2="393.4" y1="153.65" y2="153.65" stroke="#f5f5f5" stroke-width="0.6"/>
<line x1="109.7" x2="393.4" y1="240.40" y2="240.40" stroke="#ececec" stroke-width="0.9"/>
<line x1="109.7" x2="393.4" y1="205.70" y2="205.70" stroke="#ececec" stroke-width="0.9"/>
<line x1="109.7" x2="393.4" y1="171.00" y2="171.00" stroke="#ececec" stroke-width="0.9"/>
<rect x="400.4" y="142.3" width="283.20" height="103.50" fill="#fff"/>
<line x1="400.4" x2="683.6" y1="223.05" y2="223.05" stroke="#f5f5f5" stroke-width="0.6"/>
<line x1="400.4" x2="683.6" y1="188.35" y2="188.35" stroke="#f5f5f5" stroke-width="0.6"/>
<line x1="400.4" x2="683.6" y1="153.65" y2="153.65" stroke="#f5f5f5" stroke-width="0.6"/>
<line x1="400.4" x2="683.6" y1="240.40" y2="240.40" stroke="#ececec" stroke-width="0.9"/>
<line x1="400.4" x2="683.6" y1="205.70" y2="205.70" stroke="#ececec" stroke-width="0.9"/>
<line x1="400.4" x2="683.6" y1="171.00" y2="171.00" stroke="#ececec" stroke-width="0.9"/>
<rect x="109.7" y="292.5" width="283.70" height="103.40" fill="#fff"/>
<line x1="109.7" x2="393.4" y1="381.17" y2="381.17" stroke="#f5f5f5" stroke-width="0.6"/>
<line x1="109.7" x2="393.4" y1="361.71" y2="361.71" stroke="#f5f5f5" stroke-width="0.6"/>
<line x1="109.7" x2="393.4" y1="342.25" y2="342.25" stroke="#f5f5f5" stroke-width="0.6"/>
<line x1="109.7" x2="393.4" y1="322.79" y2="322.79" stroke="#f5f5f5" stroke-width="0.6"/>
<line x1="109.7" x2="393.4" y1="303.33" y2="303.33" stroke="#f5f5f5" stroke-width="0.6"/>
<line x1="109.7" x2="393.4" y1="390.90" y2="390.90" stroke="#ececec" stroke-width="0.9"/>
<line x1="109.7" x2="393.4" y1="371.44" y2="371.44" stroke="#ececec" stroke-width="0.9"/>
<line x1="109.7" x2="393.4" y1="351.98" y2="351.98" stroke="#ececec" stroke-width="0.9"/>
<line x1="109.7" x2="393.4" y1="332.52" y2="332.52" stroke="#ececec" stroke-width="0.9"/>
<line x1="109.7" x2="393.4" y1="313.06" y2="313.06" stroke="#ececec" stroke-width="0.9"/>
<line x1="109.7" x2="393.4" y1="293.60" y2="293.60" stroke="#ececec" stroke-width="0.9"/>
<rect x="400.4" y="292.5" width="283.20" height="103.40" fill="#fff"/>
<line x1="400.4" x2="683.6" y1="381.17" y2="381.17" stroke="#f5f5f5" stroke-width="0.6"/>
<line x1="400.4" x2="683.6" y1="361.71" y2="361.71" stroke="#f5f5f5" stroke-width="0.6"/>
<line x1="400.4" x2="683.6" y1="342.25" y2="342.25" stroke="#f5f5f5" stroke-width="0.6"/>
<line x1="400.4" x2="683.6" y1="322.79" y2="322.79" stroke="#f5f5f5" stroke-width="0.6"/>
<line x1="400.4" x2="683.6" y1="303.33" y2="303.33" stroke="#f5f5f5" stroke-width="0.6"/>
<line x1="400.4" x2="683.6" y1="390.90" y2="390.90" stroke="#ececec" stroke-width="0.9"/>
<line x1="400.4" x2="683.6" y1="371.44" y2="371.44" stroke="#ececec" stroke-width="0.9"/>
<line x1="400.4" x2="683.6" y1="351.98" y2="351.98" stroke="#ececec" stroke-width="0.9"/>
<line x1="400.4" x2="683.6" y1="332.52" y2="332.52" stroke="#ececec" stroke-width="0.9"/>
<line x1="400.4" x2="683.6" y1="313.06" y2="313.06" stroke="#ececec" stroke-width="0.9"/>
<line x1="400.4" x2="683.6" y1="293.60" y2="293.60" stroke="#ececec" stroke-width="0.9"/>
<rect x="109.7" y="402.6" width="283.70" height="103.50" fill="#fff"/>
<line x1="109.7" x2="393.4" y1="491.09" y2="491.09" stroke="#f5f5f5" stroke-width="0.6"/>
<line x1="109.7" x2="393.4" y1="471.67" y2="471.67" stroke="#f5f5f5" stroke-width="0.6"/>
<line x1="109.7" x2="393.4" y1="452.25" y2="452.25" stroke="#f5f5f5" stroke-width="0.6"/>
<line x1="109.7" x2="393.4" y1="432.83" y2="432.83" stroke="#f5f5f5" stroke-width="0.6"/>
<line x1="109.7" x2="393.4" y1="413.41" y2="413.41" stroke="#f5f5f5" stroke-width="0.6"/>
<line x1="109.7" x2="393.4" y1="500.80" y2="500.80" stroke="#ececec" stroke-width="0.9"/>
<line x1="109.7" x2="393.4" y1="481.38" y2="481.38" stroke="#ececec" stroke-width="0.9"/>
<line x1="109.7" x2="393.4" y1="461.96" y2="461.96" stroke="#ececec" stroke-width="0.9"/>
<line x1="109.7" x2="393.4" y1="442.54" y2="442.54" stroke="#ececec" stroke-width="0.9"/>
<line x1="109.7" x2="393.4" y1="423.12" y2="423.12" stroke="#ececec" stroke-width="0.9"/>
<line x1="109.7" x2="393.4" y1="403.70" y2="403.70" stroke="#ececec" stroke-width="0.9"/>
<rect x="400.4" y="402.6" width="283.20" height="103.50" fill="#fff"/>
<line x1="400.4" x2="683.6" y1="491.09" y2="491.09" stroke="#f5f5f5" stroke-width="0.6"/>
<line x1="400.4" x2="683.6" y1="471.67" y2="471.67" stroke="#f5f5f5" stroke-width="0.6"/>
<line x1="400.4" x2="683.6" y1="452.25" y2="452.25" stroke="#f5f5f5" stroke-width="0.6"/>
<line x1="400.4" x2="683.6" y1="432.83" y2="432.83" stroke="#f5f5f5" stroke-width="0.6"/>
<line x1="400.4" x2="683.6" y1="413.41" y2="413.41" stroke="#f5f5f5" stroke-width="0.6"/>
<line x1="400.4" x2="683.6" y1="500.80" y2="500.80" stroke="#ececec" stroke-width="0.9"/>
<line x1="400.4" x2="683.6" y1="481.38" y2="481.38" stroke="#ececec" stroke-width="0.9"/>
<line x1="400.4" x2="683.6" y1="461.96" y2="461.96" stroke="#ececec" stroke-width="0.9"/>
<line x1="400.4" x2="683.6" y1="442.54" y2="442.54" stroke="#ececec" stroke-width="0.9"/>
<line x1="400.4" x2="683.6" y1="423.12" y2="423.12" stroke="#ececec" stroke-width="0.9"/>
<line x1="400.4" x2="683.6" y1="403.70" y2="403.70" stroke="#ececec" stroke-width="0.9"/>
<rect x="109.7" y="545.8" width="283.70" height="103.70" fill="#fff"/>
<line x1="109.7" x2="393.4" y1="637.05" y2="637.05" stroke="#f5f5f5" stroke-width="0.6"/>
<line x1="109.7" x2="393.4" y1="612.35" y2="612.35" stroke="#f5f5f5" stroke-width="0.6"/>
<line x1="109.7" x2="393.4" y1="587.65" y2="587.65" stroke="#f5f5f5" stroke-width="0.6"/>
<line x1="109.7" x2="393.4" y1="562.95" y2="562.95" stroke="#f5f5f5" stroke-width="0.6"/>
<line x1="109.7" x2="393.4" y1="649.40" y2="649.40" stroke="#ececec" stroke-width="0.9"/>
<line x1="109.7" x2="393.4" y1="624.70" y2="624.70" stroke="#ececec" stroke-width="0.9"/>
<line x1="109.7" x2="393.4" y1="600.00" y2="600.00" stroke="#ececec" stroke-width="0.9"/>
<line x1="109.7" x2="393.4" y1="575.30" y2="575.30" stroke="#ececec" stroke-width="0.9"/>
<line x1="109.7" x2="393.4" y1="550.60" y2="550.60" stroke="#ececec" stroke-width="0.9"/>
<rect x="400.4" y="545.8" width="283.20" height="103.70" fill="#fff"/>
<line x1="400.4" x2="683.6" y1="637.05" y2="637.05" stroke="#f5f5f5" stroke-width="0.6"/>
<line x1="400.4" x2="683.6" y1="612.35" y2="612.35" stroke="#f5f5f5" stroke-width="0.6"/>
<line x1="400.4" x2="683.6" y1="587.65" y2="587.65" stroke="#f5f5f5" stroke-width="0.6"/>
<line x1="400.4" x2="683.6" y1="562.95" y2="562.95" stroke="#f5f5f5" stroke-width="0.6"/>
<line x1="400.4" x2="683.6" y1="649.40" y2="649.40" stroke="#ececec" stroke-width="0.9"/>
<line x1="400.4" x2="683.6" y1="624.70" y2="624.70" stroke="#ececec" stroke-width="0.9"/>
<line x1="400.4" x2="683.6" y1="600.00" y2="600.00" stroke="#ececec" stroke-width="0.9"/>
<line x1="400.4" x2="683.6" y1="575.30" y2="575.30" stroke="#ececec" stroke-width="0.9"/>
<line x1="400.4" x2="683.6" y1="550.60" y2="550.60" stroke="#ececec" stroke-width="0.9"/>
<rect x="109.7" y="655.9" width="283.70" height="103.70" fill="#fff"/>
<line x1="109.7" x2="393.4" y1="754.87" y2="754.87" stroke="#f5f5f5" stroke-width="0.6"/>
<line x1="109.7" x2="393.4" y1="727.93" y2="727.93" stroke="#f5f5f5" stroke-width="0.6"/>
<line x1="109.7" x2="393.4" y1="701.00" y2="701.00" stroke="#f5f5f5" stroke-width="0.6"/>
<line x1="109.7" x2="393.4" y1="674.07" y2="674.07" stroke="#f5f5f5" stroke-width="0.6"/>
<line x1="109.7" x2="393.4" y1="741.40" y2="741.40" stroke="#ececec" stroke-width="0.9"/>
<line x1="109.7" x2="393.4" y1="714.47" y2="714.47" stroke="#ececec" stroke-width="0.9"/>
<line x1="109.7" x2="393.4" y1="687.53" y2="687.53" stroke="#ececec" stroke-width="0.9"/>
<line x1="109.7" x2="393.4" y1="660.60" y2="660.60" stroke="#ececec" stroke-width="0.9"/>
<rect x="400.4" y="655.9" width="283.20" height="103.70" fill="#fff"/>
<line x1="400.4" x2="683.6" y1="754.87" y2="754.87" stroke="#f5f5f5" stroke-width="0.6"/>
<line x1="400.4" x2="683.6" y1="727.93" y2="727.93" stroke="#f5f5f5" stroke-width="0.6"/>
<line x1="400.4" x2="683.6" y1="701.00" y2="701.00" stroke="#f5f5f5" stroke-width="0.6"/>
<line x1="400.4" x2="683.6" y1="674.07" y2="674.07" stroke="#f5f5f5" stroke-width="0.6"/>
<line x1="400.4" x2="683.6" y1="741.40" y2="741.40" stroke="#ececec" stroke-width="0.9"/>
<line x1="400.4" x2="683.6" y1="714.47" y2="714.47" stroke="#ececec" stroke-width="0.9"/>
<line x1="400.4" x2="683.6" y1="687.53" y2="687.53" stroke="#ececec" stroke-width="0.9"/>
<line x1="400.4" x2="683.6" y1="660.60" y2="660.60" stroke="#ececec" stroke-width="0.9"/>
<line x1="106.2" x2="109.4" y1="132.00" y2="132.00" stroke="#333" stroke-width="1"/>
<text x="103.4" y="135.10" font-size="9" fill="#5e5e5e" text-anchor="end" textLength="4.73" lengthAdjust="spacingAndGlyphs">0</text>
<line x1="106.2" x2="109.4" y1="108.08" y2="108.08" stroke="#333" stroke-width="1"/>
<text x="103.4" y="111.17" font-size="9" fill="#5e5e5e" text-anchor="end" textLength="14.19" lengthAdjust="spacingAndGlyphs">250</text>
<line x1="106.2" x2="109.4" y1="84.15" y2="84.15" stroke="#333" stroke-width="1"/>
<text x="103.4" y="87.25" font-size="9" fill="#5e5e5e" text-anchor="end" textLength="14.19" lengthAdjust="spacingAndGlyphs">500</text>
<line x1="106.2" x2="109.4" y1="60.22" y2="60.22" stroke="#333" stroke-width="1"/>
<text x="103.4" y="63.32" font-size="9" fill="#5e5e5e" text-anchor="end" textLength="14.19" lengthAdjust="spacingAndGlyphs">750</text>
<line x1="106.2" x2="109.4" y1="36.30" y2="36.30" stroke="#333" stroke-width="1"/>
<text x="103.4" y="39.40" font-size="9" fill="#5e5e5e" text-anchor="end" textLength="18.92" lengthAdjust="spacingAndGlyphs">1000</text>
<text transform="translate(82.9,83.90) rotate(-90)" font-size="8.9" fill="#505050" text-anchor="middle">Richness</text>
<line x1="106.2" x2="109.4" y1="240.40" y2="240.40" stroke="#333" stroke-width="1"/>
<text x="103.4" y="243.50" font-size="9" fill="#5e5e5e" text-anchor="end" textLength="4.73" lengthAdjust="spacingAndGlyphs">0</text>
<line x1="106.2" x2="109.4" y1="205.70" y2="205.70" stroke="#333" stroke-width="1"/>
<text x="103.4" y="208.80" font-size="9" fill="#5e5e5e" text-anchor="end" textLength="18.92" lengthAdjust="spacingAndGlyphs">2000</text>
<line x1="106.2" x2="109.4" y1="171.00" y2="171.00" stroke="#333" stroke-width="1"/>
<text x="103.4" y="174.10" font-size="9" fill="#5e5e5e" text-anchor="end" textLength="18.92" lengthAdjust="spacingAndGlyphs">4000</text>
<text transform="translate(79.9,194.05) rotate(-90)" font-size="8.9" fill="#505050" text-anchor="middle">Richness</text>
<line x1="106.2" x2="109.4" y1="390.90" y2="390.90" stroke="#333" stroke-width="1"/>
<text x="103.4" y="394.00" font-size="9" fill="#5e5e5e" text-anchor="end" textLength="16.55" lengthAdjust="spacingAndGlyphs">0.00</text>
<line x1="106.2" x2="109.4" y1="371.44" y2="371.44" stroke="#333" stroke-width="1"/>
<text x="103.4" y="374.54" font-size="9" fill="#5e5e5e" text-anchor="end" textLength="16.55" lengthAdjust="spacingAndGlyphs">0.25</text>
<line x1="106.2" x2="109.4" y1="351.98" y2="351.98" stroke="#333" stroke-width="1"/>
<text x="103.4" y="355.08" font-size="9" fill="#5e5e5e" text-anchor="end" textLength="16.55" lengthAdjust="spacingAndGlyphs">0.50</text>
<line x1="106.2" x2="109.4" y1="332.52" y2="332.52" stroke="#333" stroke-width="1"/>
<text x="103.4" y="335.62" font-size="9" fill="#5e5e5e" text-anchor="end" textLength="16.55" lengthAdjust="spacingAndGlyphs">0.75</text>
<line x1="106.2" x2="109.4" y1="313.06" y2="313.06" stroke="#333" stroke-width="1"/>
<text x="103.4" y="316.16" font-size="9" fill="#5e5e5e" text-anchor="end" textLength="16.55" lengthAdjust="spacingAndGlyphs">1.00</text>
<line x1="106.2" x2="109.4" y1="293.60" y2="293.60" stroke="#333" stroke-width="1"/>
<text x="103.4" y="296.70" font-size="9" fill="#5e5e5e" text-anchor="end" textLength="16.55" lengthAdjust="spacingAndGlyphs">1.25</text>
<text transform="translate(82.9,344.20) rotate(-90)" font-size="8.9" fill="#505050" text-anchor="middle">Evenness</text>
<line x1="106.2" x2="109.4" y1="500.80" y2="500.80" stroke="#333" stroke-width="1"/>
<text x="103.4" y="503.90" font-size="9" fill="#5e5e5e" text-anchor="end" textLength="16.55" lengthAdjust="spacingAndGlyphs">0.00</text>
<line x1="106.2" x2="109.4" y1="481.38" y2="481.38" stroke="#333" stroke-width="1"/>
<text x="103.4" y="484.48" font-size="9" fill="#5e5e5e" text-anchor="end" textLength="16.55" lengthAdjust="spacingAndGlyphs">0.25</text>
<line x1="106.2" x2="109.4" y1="461.96" y2="461.96" stroke="#333" stroke-width="1"/>
<text x="103.4" y="465.06" font-size="9" fill="#5e5e5e" text-anchor="end" textLength="16.55" lengthAdjust="spacingAndGlyphs">0.50</text>
<line x1="106.2" x2="109.4" y1="442.54" y2="442.54" stroke="#333" stroke-width="1"/>
<text x="103.4" y="445.64" font-size="9" fill="#5e5e5e" text-anchor="end" textLength="16.55" lengthAdjust="spacingAndGlyphs">0.75</text>
<line x1="106.2" x2="109.4" y1="423.12" y2="423.12" stroke="#333" stroke-width="1"/>
<text x="103.4" y="426.22" font-size="9" fill="#5e5e5e" text-anchor="end" textLength="16.55" lengthAdjust="spacingAndGlyphs">1.00</text>
<line x1="106.2" x2="109.4" y1="403.70" y2="403.70" stroke="#333" stroke-width="1"/>
<text x="103.4" y="406.80" font-size="9" fill="#5e5e5e" text-anchor="end" textLength="16.55" lengthAdjust="spacingAndGlyphs">1.25</text>
<text transform="translate(79.9,454.35) rotate(-90)" font-size="8.9" fill="#505050" text-anchor="middle">Evenness</text>
<line x1="106.2" x2="109.4" y1="649.40" y2="649.40" stroke="#333" stroke-width="1"/>
<text x="103.4" y="652.50" font-size="9" fill="#5e5e5e" text-anchor="end" textLength="11.82" lengthAdjust="spacingAndGlyphs">0.0</text>
<line x1="106.2" x2="109.4" y1="624.70" y2="624.70" stroke="#333" stroke-width="1"/>
<text x="103.4" y="627.80" font-size="9" fill="#5e5e5e" text-anchor="end" textLength="11.82" lengthAdjust="spacingAndGlyphs">2.5</text>
<line x1="106.2" x2="109.4" y1="600.00" y2="600.00" stroke="#333" stroke-width="1"/>
<text x="103.4" y="603.10" font-size="9" fill="#5e5e5e" text-anchor="end" textLength="11.82" lengthAdjust="spacingAndGlyphs">5.0</text>
<line x1="106.2" x2="109.4" y1="575.30" y2="575.30" stroke="#333" stroke-width="1"/>
<text x="103.4" y="578.40" font-size="9" fill="#5e5e5e" text-anchor="end" textLength="11.82" lengthAdjust="spacingAndGlyphs">7.5</text>
<line x1="106.2" x2="109.4" y1="550.60" y2="550.60" stroke="#333" stroke-width="1"/>
<text x="103.4" y="553.70" font-size="9" fill="#5e5e5e" text-anchor="end" textLength="16.55" lengthAdjust="spacingAndGlyphs">10.0</text>
<text transform="translate(82.9,597.65) rotate(-90)" font-size="8.9" fill="#505050" text-anchor="middle">Diversity</text>
<line x1="106.2" x2="109.4" y1="741.40" y2="741.40" stroke="#333" stroke-width="1"/>
<text x="103.4" y="744.50" font-size="9" fill="#5e5e5e" text-anchor="end" textLength="4.73" lengthAdjust="spacingAndGlyphs">4</text>
<line x1="106.2" x2="109.4" y1="714.47" y2="714.47" stroke="#333" stroke-width="1"/>
<text x="103.4" y="717.57" font-size="9" fill="#5e5e5e" text-anchor="end" textLength="4.73" lengthAdjust="spacingAndGlyphs">6</text>
<line x1="106.2" x2="109.4" y1="687.53" y2="687.53" stroke="#333" stroke-width="1"/>
<text x="103.4" y="690.63" font-size="9" fill="#5e5e5e" text-anchor="end" textLength="4.73" lengthAdjust="spacingAndGlyphs">8</text>
<line x1="106.2" x2="109.4" y1="660.60" y2="660.60" stroke="#333" stroke-width="1"/>
<text x="103.4" y="663.70" font-size="9" fill="#5e5e5e" text-anchor="end" textLength="9.46" lengthAdjust="spacingAndGlyphs">10</text>
<text transform="translate(79.9,707.75) rotate(-90)" font-size="8.9" fill="#505050" text-anchor="middle">Diversity</text>
<line x1="115.00" x2="115.00" y1="245.8" y2="249.0" stroke="#333" stroke-width="1"/>
<text transform="translate(118.30,251.8) rotate(-90)" font-size="9" fill="#b8393c" text-anchor="end">C</text>
<line x1="124.40" x2="124.40" y1="245.8" y2="249.0" stroke="#333" stroke-width="1"/>
<text transform="translate(127.70,251.8) rotate(-90)" font-size="9" fill="#b8393c" text-anchor="end">D</text>
<line x1="133.80" x2="133.80" y1="245.8" y2="249.0" stroke="#333" stroke-width="1"/>
<text transform="translate(137.10,251.8) rotate(-90)" font-size="9" fill="#b8393c" text-anchor="end">H</text>
<line x1="143.20" x2="143.20" y1="245.8" y2="249.0" stroke="#333" stroke-width="1"/>
<text transform="translate(146.50,251.8) rotate(-90)" font-size="9" fill="#b8393c" text-anchor="end">J</text>
<line x1="152.60" x2="152.60" y1="245.8" y2="249.0" stroke="#333" stroke-width="1"/>
<text transform="translate(155.90,251.8) rotate(-90)" font-size="9" fill="#b8393c" text-anchor="end">S</text>
<line x1="162.00" x2="162.00" y1="245.8" y2="249.0" stroke="#333" stroke-width="1"/>
<text transform="translate(165.30,251.8) rotate(-90)" font-size="9" fill="#b8393c" text-anchor="end">AH</text>
<line x1="171.40" x2="171.40" y1="245.8" y2="249.0" stroke="#333" stroke-width="1"/>
<text transform="translate(174.70,251.8) rotate(-90)" font-size="9" fill="#b8393c" text-anchor="end">AT</text>
<line x1="180.80" x2="180.80" y1="245.8" y2="249.0" stroke="#333" stroke-width="1"/>
<text transform="translate(184.10,251.8) rotate(-90)" font-size="9" fill="#2a9a2e" text-anchor="end">B</text>
<line x1="190.20" x2="190.20" y1="245.8" y2="249.0" stroke="#333" stroke-width="1"/>
<text transform="translate(193.50,251.8) rotate(-90)" font-size="9" fill="#2a9a2e" text-anchor="end">F</text>
<line x1="199.60" x2="199.60" y1="245.8" y2="249.0" stroke="#333" stroke-width="1"/>
<text transform="translate(202.90,251.8) rotate(-90)" font-size="9" fill="#2a9a2e" text-anchor="end">N</text>
<line x1="209.00" x2="209.00" y1="245.8" y2="249.0" stroke="#333" stroke-width="1"/>
<text transform="translate(212.30,251.8) rotate(-90)" font-size="9" fill="#2a9a2e" text-anchor="end">Q</text>
<line x1="218.40" x2="218.40" y1="245.8" y2="249.0" stroke="#333" stroke-width="1"/>
<text transform="translate(221.70,251.8) rotate(-90)" font-size="9" fill="#2a9a2e" text-anchor="end">R</text>
<line x1="227.80" x2="227.80" y1="245.8" y2="249.0" stroke="#333" stroke-width="1"/>
<text transform="translate(231.10,251.8) rotate(-90)" font-size="9" fill="#2a9a2e" text-anchor="end">V</text>
<line x1="237.20" x2="237.20" y1="245.8" y2="249.0" stroke="#333" stroke-width="1"/>
<text transform="translate(240.50,251.8) rotate(-90)" font-size="9" fill="#2a9a2e" text-anchor="end">X</text>
<line x1="246.60" x2="246.60" y1="245.8" y2="249.0" stroke="#333" stroke-width="1"/>
<text transform="translate(249.90,251.8) rotate(-90)" font-size="9" fill="#2a9a2e" text-anchor="end">AC</text>
<line x1="256.00" x2="256.00" y1="245.8" y2="249.0" stroke="#333" stroke-width="1"/>
<text transform="translate(259.30,251.8) rotate(-90)" font-size="9" fill="#2a9a2e" text-anchor="end">AE</text>
<line x1="265.40" x2="265.40" y1="245.8" y2="249.0" stroke="#333" stroke-width="1"/>
<text transform="translate(268.70,251.8) rotate(-90)" font-size="9" fill="#2a9a2e" text-anchor="end">AG</text>
<line x1="274.80" x2="274.80" y1="245.8" y2="249.0" stroke="#333" stroke-width="1"/>
<text transform="translate(278.10,251.8) rotate(-90)" font-size="9" fill="#2a9a2e" text-anchor="end">AI</text>
<line x1="284.20" x2="284.20" y1="245.8" y2="249.0" stroke="#333" stroke-width="1"/>
<text transform="translate(287.50,251.8) rotate(-90)" font-size="9" fill="#2a9a2e" text-anchor="end">AJ</text>
<line x1="293.60" x2="293.60" y1="245.8" y2="249.0" stroke="#333" stroke-width="1"/>
<text transform="translate(296.90,251.8) rotate(-90)" font-size="9" fill="#2a9a2e" text-anchor="end">AK</text>
<line x1="303.00" x2="303.00" y1="245.8" y2="249.0" stroke="#333" stroke-width="1"/>
<text transform="translate(306.30,251.8) rotate(-90)" font-size="9" fill="#2a9a2e" text-anchor="end">AM</text>
<line x1="312.40" x2="312.40" y1="245.8" y2="249.0" stroke="#333" stroke-width="1"/>
<text transform="translate(315.70,251.8) rotate(-90)" font-size="9" fill="#2a9a2e" text-anchor="end">AN</text>
<line x1="321.80" x2="321.80" y1="245.8" y2="249.0" stroke="#333" stroke-width="1"/>
<text transform="translate(325.10,251.8) rotate(-90)" font-size="9" fill="#2a9a2e" text-anchor="end">AP</text>
<line x1="331.20" x2="331.20" y1="245.8" y2="249.0" stroke="#333" stroke-width="1"/>
<text transform="translate(334.50,251.8) rotate(-90)" font-size="9" fill="#2a9a2e" text-anchor="end">AU</text>
<line x1="340.60" x2="340.60" y1="245.8" y2="249.0" stroke="#333" stroke-width="1"/>
<text transform="translate(343.90,251.8) rotate(-90)" font-size="9" fill="#2a9a2e" text-anchor="end">AV</text>
<line x1="350.00" x2="350.00" y1="245.8" y2="249.0" stroke="#333" stroke-width="1"/>
<text transform="translate(353.30,251.8) rotate(-90)" font-size="9" fill="#2a9a2e" text-anchor="end">AW</text>
<line x1="359.40" x2="359.40" y1="245.8" y2="249.0" stroke="#333" stroke-width="1"/>
<text transform="translate(362.70,251.8) rotate(-90)" font-size="9" fill="#2a9a2e" text-anchor="end">AX</text>
<line x1="368.80" x2="368.80" y1="245.8" y2="249.0" stroke="#333" stroke-width="1"/>
<text transform="translate(372.10,251.8) rotate(-90)" font-size="9" fill="#2a9a2e" text-anchor="end">AZ</text>
<line x1="378.20" x2="378.20" y1="245.8" y2="249.0" stroke="#333" stroke-width="1"/>
<text transform="translate(381.50,251.8) rotate(-90)" font-size="9" fill="#2a9a2e" text-anchor="end">BA</text>
<line x1="387.60" x2="387.60" y1="245.8" y2="249.0" stroke="#333" stroke-width="1"/>
<text transform="translate(390.90,251.8) rotate(-90)" font-size="9" fill="#2a9a2e" text-anchor="end">BB</text>
<line x1="118.20" x2="174.50" y1="265.4" y2="265.4" stroke="#b23c40" stroke-width="1.2"/>
<line x1="183.40" x2="390.70" y1="265.4" y2="265.4" stroke="#3ea043" stroke-width="1.2"/>
<circle cx="118.20" cy="265.4" r="2.3" fill="#5c5c5c"/>
<circle cx="174.50" cy="265.4" r="2.3" fill="#5c5c5c"/>
<circle cx="183.40" cy="265.4" r="2.3" fill="#5c5c5c"/>
<circle cx="390.70" cy="265.4" r="2.3" fill="#5c5c5c"/>
<text x="114.00" y="274.8" font-size="10" font-weight="bold" font-style="italic" fill="#a82c31" stroke="#a82c31" stroke-width="0.25" textLength="55.8" lengthAdjust="spacingAndGlyphs">C. canephora</text>
<text x="261.40" y="274.8" font-size="10" font-weight="bold" font-style="italic" fill="#2b8c30" stroke="#2b8c30" stroke-width="0.25" textLength="42.6" lengthAdjust="spacingAndGlyphs">C. arabica</text>
<line x1="405.70" x2="405.70" y1="245.8" y2="249.0" stroke="#333" stroke-width="1"/>
<text transform="translate(409.00,251.8) rotate(-90)" font-size="9" fill="#b8393c" text-anchor="end">C</text>
<line x1="415.10" x2="415.10" y1="245.8" y2="249.0" stroke="#333" stroke-width="1"/>
<text transform="translate(418.40,251.8) rotate(-90)" font-size="9" fill="#b8393c" text-anchor="end">D</text>
<line x1="424.50" x2="424.50" y1="245.8" y2="249.0" stroke="#333" stroke-width="1"/>
<text transform="translate(427.80,251.8) rotate(-90)" font-size="9" fill="#b8393c" text-anchor="end">H</text>
<line x1="433.90" x2="433.90" y1="245.8" y2="249.0" stroke="#333" stroke-width="1"/>
<text transform="translate(437.20,251.8) rotate(-90)" font-size="9" fill="#b8393c" text-anchor="end">J</text>
<line x1="443.30" x2="443.30" y1="245.8" y2="249.0" stroke="#333" stroke-width="1"/>
<text transform="translate(446.60,251.8) rotate(-90)" font-size="9" fill="#b8393c" text-anchor="end">S</text>
<line x1="452.70" x2="452.70" y1="245.8" y2="249.0" stroke="#333" stroke-width="1"/>
<text transform="translate(456.00,251.8) rotate(-90)" font-size="9" fill="#b8393c" text-anchor="end">AH</text>
<line x1="462.10" x2="462.10" y1="245.8" y2="249.0" stroke="#333" stroke-width="1"/>
<text transform="translate(465.40,251.8) rotate(-90)" font-size="9" fill="#b8393c" text-anchor="end">AT</text>
<line x1="471.50" x2="471.50" y1="245.8" y2="249.0" stroke="#333" stroke-width="1"/>
<text transform="translate(474.80,251.8) rotate(-90)" font-size="9" fill="#2a9a2e" text-anchor="end">B</text>
<line x1="480.90" x2="480.90" y1="245.8" y2="249.0" stroke="#333" stroke-width="1"/>
<text transform="translate(484.20,251.8) rotate(-90)" font-size="9" fill="#2a9a2e" text-anchor="end">F</text>
<line x1="490.30" x2="490.30" y1="245.8" y2="249.0" stroke="#333" stroke-width="1"/>
<text transform="translate(493.60,251.8) rotate(-90)" font-size="9" fill="#2a9a2e" text-anchor="end">N</text>
<line x1="499.70" x2="499.70" y1="245.8" y2="249.0" stroke="#333" stroke-width="1"/>
<text transform="translate(503.00,251.8) rotate(-90)" font-size="9" fill="#2a9a2e" text-anchor="end">Q</text>
<line x1="509.10" x2="509.10" y1="245.8" y2="249.0" stroke="#333" stroke-width="1"/>
<text transform="translate(512.40,251.8) rotate(-90)" font-size="9" fill="#2a9a2e" text-anchor="end">R</text>
<line x1="518.50" x2="518.50" y1="245.8" y2="249.0" stroke="#333" stroke-width="1"/>
<text transform="translate(521.80,251.8) rotate(-90)" font-size="9" fill="#2a9a2e" text-anchor="end">V</text>
<line x1="527.90" x2="527.90" y1="245.8" y2="249.0" stroke="#333" stroke-width="1"/>
<text transform="translate(531.20,251.8) rotate(-90)" font-size="9" fill="#2a9a2e" text-anchor="end">X</text>
<line x1="537.30" x2="537.30" y1="245.8" y2="249.0" stroke="#333" stroke-width="1"/>
<text transform="translate(540.60,251.8) rotate(-90)" font-size="9" fill="#2a9a2e" text-anchor="end">AC</text>
<line x1="546.70" x2="546.70" y1="245.8" y2="249.0" stroke="#333" stroke-width="1"/>
<text transform="translate(550.00,251.8) rotate(-90)" font-size="9" fill="#2a9a2e" text-anchor="end">AE</text>
<line x1="556.10" x2="556.10" y1="245.8" y2="249.0" stroke="#333" stroke-width="1"/>
<text transform="translate(559.40,251.8) rotate(-90)" font-size="9" fill="#2a9a2e" text-anchor="end">AG</text>
<line x1="565.50" x2="565.50" y1="245.8" y2="249.0" stroke="#333" stroke-width="1"/>
<text transform="translate(568.80,251.8) rotate(-90)" font-size="9" fill="#2a9a2e" text-anchor="end">AI</text>
<line x1="574.90" x2="574.90" y1="245.8" y2="249.0" stroke="#333" stroke-width="1"/>
<text transform="translate(578.20,251.8) rotate(-90)" font-size="9" fill="#2a9a2e" text-anchor="end">AJ</text>
<line x1="584.30" x2="584.30" y1="245.8" y2="249.0" stroke="#333" stroke-width="1"/>
<text transform="translate(587.60,251.8) rotate(-90)" font-size="9" fill="#2a9a2e" text-anchor="end">AK</text>
<line x1="593.70" x2="593.70" y1="245.8" y2="249.0" stroke="#333" stroke-width="1"/>
<text transform="translate(597.00,251.8) rotate(-90)" font-size="9" fill="#2a9a2e" text-anchor="end">AM</text>
<line x1="603.10" x2="603.10" y1="245.8" y2="249.0" stroke="#333" stroke-width="1"/>
<text transform="translate(606.40,251.8) rotate(-90)" font-size="9" fill="#2a9a2e" text-anchor="end">AN</text>
<line x1="612.50" x2="612.50" y1="245.8" y2="249.0" stroke="#333" stroke-width="1"/>
<text transform="translate(615.80,251.8) rotate(-90)" font-size="9" fill="#2a9a2e" text-anchor="end">AP</text>
<line x1="621.90" x2="621.90" y1="245.8" y2="249.0" stroke="#333" stroke-width="1"/>
<text transform="translate(625.20,251.8) rotate(-90)" font-size="9" fill="#2a9a2e" text-anchor="end">AU</text>
<line x1="631.30" x2="631.30" y1="245.8" y2="249.0" stroke="#333" stroke-width="1"/>
<text transform="translate(634.60,251.8) rotate(-90)" font-size="9" fill="#2a9a2e" text-anchor="end">AV</text>
<line x1="640.70" x2="640.70" y1="245.8" y2="249.0" stroke="#333" stroke-width="1"/>
<text transform="translate(644.00,251.8) rotate(-90)" font-size="9" fill="#2a9a2e" text-anchor="end">AW</text>
<line x1="650.10" x2="650.10" y1="245.8" y2="249.0" stroke="#333" stroke-width="1"/>
<text transform="translate(653.40,251.8) rotate(-90)" font-size="9" fill="#2a9a2e" text-anchor="end">AX</text>
<line x1="659.50" x2="659.50" y1="245.8" y2="249.0" stroke="#333" stroke-width="1"/>
<text transform="translate(662.80,251.8) rotate(-90)" font-size="9" fill="#2a9a2e" text-anchor="end">AZ</text>
<line x1="668.90" x2="668.90" y1="245.8" y2="249.0" stroke="#333" stroke-width="1"/>
<text transform="translate(672.20,251.8) rotate(-90)" font-size="9" fill="#2a9a2e" text-anchor="end">BA</text>
<line x1="678.30" x2="678.30" y1="245.8" y2="249.0" stroke="#333" stroke-width="1"/>
<text transform="translate(681.60,251.8) rotate(-90)" font-size="9" fill="#2a9a2e" text-anchor="end">BB</text>
<line x1="408.90" x2="465.20" y1="265.4" y2="265.4" stroke="#b23c40" stroke-width="1.2"/>
<line x1="474.10" x2="681.40" y1="265.4" y2="265.4" stroke="#3ea043" stroke-width="1.2"/>
<circle cx="408.90" cy="265.4" r="2.3" fill="#5c5c5c"/>
<circle cx="465.20" cy="265.4" r="2.3" fill="#5c5c5c"/>
<circle cx="474.10" cy="265.4" r="2.3" fill="#5c5c5c"/>
<circle cx="681.40" cy="265.4" r="2.3" fill="#5c5c5c"/>
<text x="404.70" y="274.8" font-size="10" font-weight="bold" font-style="italic" fill="#a82c31" stroke="#a82c31" stroke-width="0.25" textLength="55.8" lengthAdjust="spacingAndGlyphs">C. canephora</text>
<text x="552.10" y="274.8" font-size="10" font-weight="bold" font-style="italic" fill="#2b8c30" stroke="#2b8c30" stroke-width="0.25" textLength="42.6" lengthAdjust="spacingAndGlyphs">C. arabica</text>
<line x1="82.3" x2="82.3" y1="252.60000000000002" y2="254.8" stroke="#333" stroke-width="1.1"/>
<line x1="115.00" x2="115.00" y1="506.1" y2="509.3" stroke="#333" stroke-width="1"/>
<text transform="translate(118.30,512.1) rotate(-90)" font-size="9" fill="#b8393c" text-anchor="end">C</text>
<line x1="124.40" x2="124.40" y1="506.1" y2="509.3" stroke="#333" stroke-width="1"/>
<text transform="translate(127.70,512.1) rotate(-90)" font-size="9" fill="#b8393c" text-anchor="end">D</text>
<line x1="133.80" x2="133.80" y1="506.1" y2="509.3" stroke="#333" stroke-width="1"/>
<text transform="translate(137.10,512.1) rotate(-90)" font-size="9" fill="#b8393c" text-anchor="end">H</text>
<line x1="143.20" x2="143.20" y1="506.1" y2="509.3" stroke="#333" stroke-width="1"/>
<text transform="translate(146.50,512.1) rotate(-90)" font-size="9" fill="#b8393c" text-anchor="end">J</text>
<line x1="152.60" x2="152.60" y1="506.1" y2="509.3" stroke="#333" stroke-width="1"/>
<text transform="translate(155.90,512.1) rotate(-90)" font-size="9" fill="#b8393c" text-anchor="end">S</text>
<line x1="162.00" x2="162.00" y1="506.1" y2="509.3" stroke="#333" stroke-width="1"/>
<text transform="translate(165.30,512.1) rotate(-90)" font-size="9" fill="#b8393c" text-anchor="end">AH</text>
<line x1="171.40" x2="171.40" y1="506.1" y2="509.3" stroke="#333" stroke-width="1"/>
<text transform="translate(174.70,512.1) rotate(-90)" font-size="9" fill="#b8393c" text-anchor="end">AT</text>
<line x1="180.80" x2="180.80" y1="506.1" y2="509.3" stroke="#333" stroke-width="1"/>
<text transform="translate(184.10,512.1) rotate(-90)" font-size="9" fill="#2a9a2e" text-anchor="end">B</text>
<line x1="190.20" x2="190.20" y1="506.1" y2="509.3" stroke="#333" stroke-width="1"/>
<text transform="translate(193.50,512.1) rotate(-90)" font-size="9" fill="#2a9a2e" text-anchor="end">F</text>
<line x1="199.60" x2="199.60" y1="506.1" y2="509.3" stroke="#333" stroke-width="1"/>
<text transform="translate(202.90,512.1) rotate(-90)" font-size="9" fill="#2a9a2e" text-anchor="end">N</text>
<line x1="209.00" x2="209.00" y1="506.1" y2="509.3" stroke="#333" stroke-width="1"/>
<text transform="translate(212.30,512.1) rotate(-90)" font-size="9" fill="#2a9a2e" text-anchor="end">Q</text>
<line x1="218.40" x2="218.40" y1="506.1" y2="509.3" stroke="#333" stroke-width="1"/>
<text transform="translate(221.70,512.1) rotate(-90)" font-size="9" fill="#2a9a2e" text-anchor="end">R</text>
<line x1="227.80" x2="227.80" y1="506.1" y2="509.3" stroke="#333" stroke-width="1"/>
<text transform="translate(231.10,512.1) rotate(-90)" font-size="9" fill="#2a9a2e" text-anchor="end">V</text>
<line x1="237.20" x2="237.20" y1="506.1" y2="509.3" stroke="#333" stroke-width="1"/>
<text transform="translate(240.50,512.1) rotate(-90)" font-size="9" fill="#2a9a2e" text-anchor="end">X</text>
<line x1="246.60" x2="246.60" y1="506.1" y2="509.3" stroke="#333" stroke-width="1"/>
<text transform="translate(249.90,512.1) rotate(-90)" font-size="9" fill="#2a9a2e" text-anchor="end">AC</text>
<line x1="256.00" x2="256.00" y1="506.1" y2="509.3" stroke="#333" stroke-width="1"/>
<text transform="translate(259.30,512.1) rotate(-90)" font-size="9" fill="#2a9a2e" text-anchor="end">AE</text>
<line x1="265.40" x2="265.40" y1="506.1" y2="509.3" stroke="#333" stroke-width="1"/>
<text transform="translate(268.70,512.1) rotate(-90)" font-size="9" fill="#2a9a2e" text-anchor="end">AG</text>
<line x1="274.80" x2="274.80" y1="506.1" y2="509.3" stroke="#333" stroke-width="1"/>
<text transform="translate(278.10,512.1) rotate(-90)" font-size="9" fill="#2a9a2e" text-anchor="end">AI</text>
<line x1="284.20" x2="284.20" y1="506.1" y2="509.3" stroke="#333" stroke-width="1"/>
<text transform="translate(287.50,512.1) rotate(-90)" font-size="9" fill="#2a9a2e" text-anchor="end">AJ</text>
<line x1="293.60" x2="293.60" y1="506.1" y2="509.3" stroke="#333" stroke-width="1"/>
<text transform="translate(296.90,512.1) rotate(-90)" font-size="9" fill="#2a9a2e" text-anchor="end">AK</text>
<line x1="303.00" x2="303.00" y1="506.1" y2="509.3" stroke="#333" stroke-width="1"/>
<text transform="translate(306.30,512.1) rotate(-90)" font-size="9" fill="#2a9a2e" text-anchor="end">AM</text>
<line x1="312.40" x2="312.40" y1="506.1" y2="509.3" stroke="#333" stroke-width="1"/>
<text transform="translate(315.70,512.1) rotate(-90)" font-size="9" fill="#2a9a2e" text-anchor="end">AN</text>
<line x1="321.80" x2="321.80" y1="506.1" y2="509.3" stroke="#333" stroke-width="1"/>
<text transform="translate(325.10,512.1) rotate(-90)" font-size="9" fill="#2a9a2e" text-anchor="end">AP</text>
<line x1="331.20" x2="331.20" y1="506.1" y2="509.3" stroke="#333" stroke-width="1"/>
<text transform="translate(334.50,512.1) rotate(-90)" font-size="9" fill="#2a9a2e" text-anchor="end">AU</text>
<line x1="340.60" x2="340.60" y1="506.1" y2="509.3" stroke="#333" stroke-width="1"/>
<text transform="translate(343.90,512.1) rotate(-90)" font-size="9" fill="#2a9a2e" text-anchor="end">AV</text>
<line x1="350.00" x2="350.00" y1="506.1" y2="509.3" stroke="#333" stroke-width="1"/>
<text transform="translate(353.30,512.1) rotate(-90)" font-size="9" fill="#2a9a2e" text-anchor="end">AW</text>
<line x1="359.40" x2="359.40" y1="506.1" y2="509.3" stroke="#333" stroke-width="1"/>
<text transform="translate(362.70,512.1) rotate(-90)" font-size="9" fill="#2a9a2e" text-anchor="end">AX</text>
<line x1="368.80" x2="368.80" y1="506.1" y2="509.3" stroke="#333" stroke-width="1"/>
<text transform="translate(372.10,512.1) rotate(-90)" font-size="9" fill="#2a9a2e" text-anchor="end">AZ</text>
<line x1="378.20" x2="378.20" y1="506.1" y2="509.3" stroke="#333" stroke-width="1"/>
<text transform="translate(381.50,512.1) rotate(-90)" font-size="9" fill="#2a9a2e" text-anchor="end">BA</text>
<line x1="387.60" x2="387.60" y1="506.1" y2="509.3" stroke="#333" stroke-width="1"/>
<text transform="translate(390.90,512.1) rotate(-90)" font-size="9" fill="#2a9a2e" text-anchor="end">BB</text>
<line x1="118.20" x2="174.50" y1="526.6" y2="526.6" stroke="#b23c40" stroke-width="1.2"/>
<line x1="183.40" x2="390.70" y1="526.6" y2="526.6" stroke="#3ea043" stroke-width="1.2"/>
<circle cx="118.20" cy="526.6" r="2.3" fill="#5c5c5c"/>
<circle cx="174.50" cy="526.6" r="2.3" fill="#5c5c5c"/>
<circle cx="183.40" cy="526.6" r="2.3" fill="#5c5c5c"/>
<circle cx="390.70" cy="526.6" r="2.3" fill="#5c5c5c"/>
<text x="114.00" y="536.5" font-size="10" font-weight="bold" font-style="italic" fill="#a82c31" stroke="#a82c31" stroke-width="0.25" textLength="55.8" lengthAdjust="spacingAndGlyphs">C. canephora</text>
<text x="261.40" y="536.5" font-size="10" font-weight="bold" font-style="italic" fill="#2b8c30" stroke="#2b8c30" stroke-width="0.25" textLength="42.6" lengthAdjust="spacingAndGlyphs">C. arabica</text>
<line x1="405.70" x2="405.70" y1="506.1" y2="509.3" stroke="#333" stroke-width="1"/>
<text transform="translate(409.00,512.1) rotate(-90)" font-size="9" fill="#b8393c" text-anchor="end">C</text>
<line x1="415.10" x2="415.10" y1="506.1" y2="509.3" stroke="#333" stroke-width="1"/>
<text transform="translate(418.40,512.1) rotate(-90)" font-size="9" fill="#b8393c" text-anchor="end">D</text>
<line x1="424.50" x2="424.50" y1="506.1" y2="509.3" stroke="#333" stroke-width="1"/>
<text transform="translate(427.80,512.1) rotate(-90)" font-size="9" fill="#b8393c" text-anchor="end">H</text>
<line x1="433.90" x2="433.90" y1="506.1" y2="509.3" stroke="#333" stroke-width="1"/>
<text transform="translate(437.20,512.1) rotate(-90)" font-size="9" fill="#b8393c" text-anchor="end">J</text>
<line x1="443.30" x2="443.30" y1="506.1" y2="509.3" stroke="#333" stroke-width="1"/>
<text transform="translate(446.60,512.1) rotate(-90)" font-size="9" fill="#b8393c" text-anchor="end">S</text>
<line x1="452.70" x2="452.70" y1="506.1" y2="509.3" stroke="#333" stroke-width="1"/>
<text transform="translate(456.00,512.1) rotate(-90)" font-size="9" fill="#b8393c" text-anchor="end">AH</text>
<line x1="462.10" x2="462.10" y1="506.1" y2="509.3" stroke="#333" stroke-width="1"/>
<text transform="translate(465.40,512.1) rotate(-90)" font-size="9" fill="#b8393c" text-anchor="end">AT</text>
<line x1="471.50" x2="471.50" y1="506.1" y2="509.3" stroke="#333" stroke-width="1"/>
<text transform="translate(474.80,512.1) rotate(-90)" font-size="9" fill="#2a9a2e" text-anchor="end">B</text>
<line x1="480.90" x2="480.90" y1="506.1" y2="509.3" stroke="#333" stroke-width="1"/>
<text transform="translate(484.20,512.1) rotate(-90)" font-size="9" fill="#2a9a2e" text-anchor="end">F</text>
<line x1="490.30" x2="490.30" y1="506.1" y2="509.3" stroke="#333" stroke-width="1"/>
<text transform="translate(493.60,512.1) rotate(-90)" font-size="9" fill="#2a9a2e" text-anchor="end">N</text>
<line x1="499.70" x2="499.70" y1="506.1" y2="509.3" stroke="#333" stroke-width="1"/>
<text transform="translate(503.00,512.1) rotate(-90)" font-size="9" fill="#2a9a2e" text-anchor="end">Q</text>
<line x1="509.10" x2="509.10" y1="506.1" y2="509.3" stroke="#333" stroke-width="1"/>
<text transform="translate(512.40,512.1) rotate(-90)" font-size="9" fill="#2a9a2e" text-anchor="end">R</text>
<line x1="518.50" x2="518.50" y1="506.1" y2="509.3" stroke="#333" stroke-width="1"/>
<text transform="translate(521.80,512.1) rotate(-90)" font-size="9" fill="#2a9a2e" text-anchor="end">V</text>
<line x1="527.90" x2="527.90" y1="506.1" y2="509.3" stroke="#333" stroke-width="1"/>
<text transform="translate(531.20,512.1) rotate(-90)" font-size="9" fill="#2a9a2e" text-anchor="end">X</text>
<line x1="537.30" x2="537.30" y1="506.1" y2="509.3" stroke="#333" stroke-width="1"/>
<text transform="translate(540.60,512.1) rotate(-90)" font-size="9" fill="#2a9a2e" text-anchor="end">AC</text>
<line x1="546.70" x2="546.70" y1="506.1" y2="509.3" stroke="#333" stroke-width="1"/>
<text transform="translate(550.00,512.1) rotate(-90)" font-size="9" fill="#2a9a2e" text-anchor="end">AE</text>
<line x1="556.10" x2="556.10" y1="506.1" y2="509.3" stroke="#333" stroke-width="1"/>
<text transform="translate(559.40,512.1) rotate(-90)" font-size="9" fill="#2a9a2e" text-anchor="end">AG</text>
<line x1="565.50" x2="565.50" y1="506.1" y2="509.3" stroke="#333" stroke-width="1"/>
<text transform="translate(568.80,512.1) rotate(-90)" font-size="9" fill="#2a9a2e" text-anchor="end">AI</text>
<line x1="574.90" x2="574.90" y1="506.1" y2="509.3" stroke="#333" stroke-width="1"/>
<text transform="translate(578.20,512.1) rotate(-90)" font-size="9" fill="#2a9a2e" text-anchor="end">AJ</text>
<line x1="584.30" x2="584.30" y1="506.1" y2="509.3" stroke="#333" stroke-width="1"/>
<text transform="translate(587.60,512.1) rotate(-90)" font-size="9" fill="#2a9a2e" text-anchor="end">AK</text>
<line x1="593.70" x2="593.70" y1="506.1" y2="509.3" stroke="#333" stroke-width="1"/>
<text transform="translate(597.00,512.1) rotate(-90)" font-size="9" fill="#2a9a2e" text-anchor="end">AM</text>
<line x1="603.10" x2="603.10" y1="506.1" y2="509.3" stroke="#333" stroke-width="1"/>
<text transform="translate(606.40,512.1) rotate(-90)" font-size="9" fill="#2a9a2e" text-anchor="end">AN</text>
<line x1="612.50" x2="612.50" y1="506.1" y2="509.3" stroke="#333" stroke-width="1"/>
<text transform="translate(615.80,512.1) rotate(-90)" font-size="9" fill="#2a9a2e" text-anchor="end">AP</text>
<line x1="621.90" x2="621.90" y1="506.1" y2="509.3" stroke="#333" stroke-width="1"/>
<text transform="translate(625.20,512.1) rotate(-90)" font-size="9" fill="#2a9a2e" text-anchor="end">AU</text>
<line x1="631.30" x2="631.30" y1="506.1" y2="509.3" stroke="#333" stroke-width="1"/>
<text transform="translate(634.60,512.1) rotate(-90)" font-size="9" fill="#2a9a2e" text-anchor="end">AV</text>
<line x1="640.70" x2="640.70" y1="506.1" y2="509.3" stroke="#333" stroke-width="1"/>
<text transform="translate(644.00,512.1) rotate(-90)" font-size="9" fill="#2a9a2e" text-anchor="end">AW</text>
<line x1="650.10" x2="650.10" y1="506.1" y2="509.3" stroke="#333" stroke-width="1"/>
<text transform="translate(653.40,512.1) rotate(-90)" font-size="9" fill="#2a9a2e" text-anchor="end">AX</text>
<line x1="659.50" x2="659.50" y1="506.1" y2="509.3" stroke="#333" stroke-width="1"/>
<text transform="translate(662.80,512.1) rotate(-90)" font-size="9" fill="#2a9a2e" text-anchor="end">AZ</text>
<line x1="668.90" x2="668.90" y1="506.1" y2="509.3" stroke="#333" stroke-width="1"/>
<text transform="translate(672.20,512.1) rotate(-90)" font-size="9" fill="#2a9a2e" text-anchor="end">BA</text>
<line x1="678.30" x2="678.30" y1="506.1" y2="509.3" stroke="#333" stroke-width="1"/>
<text transform="translate(681.60,512.1) rotate(-90)" font-size="9" fill="#2a9a2e" text-anchor="end">BB</text>
<line x1="408.90" x2="465.20" y1="526.6" y2="526.6" stroke="#b23c40" stroke-width="1.2"/>
<line x1="474.10" x2="681.40" y1="526.6" y2="526.6" stroke="#3ea043" stroke-width="1.2"/>
<circle cx="408.90" cy="526.6" r="2.3" fill="#5c5c5c"/>
<circle cx="465.20" cy="526.6" r="2.3" fill="#5c5c5c"/>
<circle cx="474.10" cy="526.6" r="2.3" fill="#5c5c5c"/>
<circle cx="681.40" cy="526.6" r="2.3" fill="#5c5c5c"/>
<text x="404.70" y="536.5" font-size="10" font-weight="bold" font-style="italic" fill="#a82c31" stroke="#a82c31" stroke-width="0.25" textLength="55.8" lengthAdjust="spacingAndGlyphs">C. canephora</text>
<text x="552.10" y="536.5" font-size="10" font-weight="bold" font-style="italic" fill="#2b8c30" stroke="#2b8c30" stroke-width="0.25" textLength="42.6" lengthAdjust="spacingAndGlyphs">C. arabica</text>
<line x1="82.3" x2="82.3" y1="512.9" y2="515.1" stroke="#333" stroke-width="1.1"/>
<line x1="115.00" x2="115.00" y1="759.6" y2="762.8000000000001" stroke="#333" stroke-width="1"/>
<text transform="translate(118.30,765.6) rotate(-90)" font-size="9" fill="#b8393c" text-anchor="end">C</text>
<line x1="124.40" x2="124.40" y1="759.6" y2="762.8000000000001" stroke="#333" stroke-width="1"/>
<text transform="translate(127.70,765.6) rotate(-90)" font-size="9" fill="#b8393c" text-anchor="end">D</text>
<line x1="133.80" x2="133.80" y1="759.6" y2="762.8000000000001" stroke="#333" stroke-width="1"/>
<text transform="translate(137.10,765.6) rotate(-90)" font-size="9" fill="#b8393c" text-anchor="end">H</text>
<line x1="143.20" x2="143.20" y1="759.6" y2="762.8000000000001" stroke="#333" stroke-width="1"/>
<text transform="translate(146.50,765.6) rotate(-90)" font-size="9" fill="#b8393c" text-anchor="end">J</text>
<line x1="152.60" x2="152.60" y1="759.6" y2="762.8000000000001" stroke="#333" stroke-width="1"/>
<text transform="translate(155.90,765.6) rotate(-90)" font-size="9" fill="#b8393c" text-anchor="end">S</text>
<line x1="162.00" x2="162.00" y1="759.6" y2="762.8000000000001" stroke="#333" stroke-width="1"/>
<text transform="translate(165.30,765.6) rotate(-90)" font-size="9" fill="#b8393c" text-anchor="end">AH</text>
<line x1="171.40" x2="171.40" y1="759.6" y2="762.8000000000001" stroke="#333" stroke-width="1"/>
<text transform="translate(174.70,765.6) rotate(-90)" font-size="9" fill="#b8393c" text-anchor="end">AT</text>
<line x1="180.80" x2="180.80" y1="759.6" y2="762.8000000000001" stroke="#333" stroke-width="1"/>
<text transform="translate(184.10,765.6) rotate(-90)" font-size="9" fill="#2a9a2e" text-anchor="end">B</text>
<line x1="190.20" x2="190.20" y1="759.6" y2="762.8000000000001" stroke="#333" stroke-width="1"/>
<text transform="translate(193.50,765.6) rotate(-90)" font-size="9" fill="#2a9a2e" text-anchor="end">F</text>
<line x1="199.60" x2="199.60" y1="759.6" y2="762.8000000000001" stroke="#333" stroke-width="1"/>
<text transform="translate(202.90,765.6) rotate(-90)" font-size="9" fill="#2a9a2e" text-anchor="end">N</text>
<line x1="209.00" x2="209.00" y1="759.6" y2="762.8000000000001" stroke="#333" stroke-width="1"/>
<text transform="translate(212.30,765.6) rotate(-90)" font-size="9" fill="#2a9a2e" text-anchor="end">Q</text>
<line x1="218.40" x2="218.40" y1="759.6" y2="762.8000000000001" stroke="#333" stroke-width="1"/>
<text transform="translate(221.70,765.6) rotate(-90)" font-size="9" fill="#2a9a2e" text-anchor="end">R</text>
<line x1="227.80" x2="227.80" y1="759.6" y2="762.8000000000001" stroke="#333" stroke-width="1"/>
<text transform="translate(231.10,765.6) rotate(-90)" font-size="9" fill="#2a9a2e" text-anchor="end">V</text>
<line x1="237.20" x2="237.20" y1="759.6" y2="762.8000000000001" stroke="#333" stroke-width="1"/>
<text transform="translate(240.50,765.6) rotate(-90)" font-size="9" fill="#2a9a2e" text-anchor="end">X</text>
<line x1="246.60" x2="246.60" y1="759.6" y2="762.8000000000001" stroke="#333" stroke-width="1"/>
<text transform="translate(249.90,765.6) rotate(-90)" font-size="9" fill="#2a9a2e" text-anchor="end">AC</text>
<line x1="256.00" x2="256.00" y1="759.6" y2="762.8000000000001" stroke="#333" stroke-width="1"/>
<text transform="translate(259.30,765.6) rotate(-90)" font-size="9" fill="#2a9a2e" text-anchor="end">AE</text>
<line x1="265.40" x2="265.40" y1="759.6" y2="762.8000000000001" stroke="#333" stroke-width="1"/>
<text transform="translate(268.70,765.6) rotate(-90)" font-size="9" fill="#2a9a2e" text-anchor="end">AG</text>
<line x1="274.80" x2="274.80" y1="759.6" y2="762.8000000000001" stroke="#333" stroke-width="1"/>
<text transform="translate(278.10,765.6) rotate(-90)" font-size="9" fill="#2a9a2e" text-anchor="end">AI</text>
<line x1="284.20" x2="284.20" y1="759.6" y2="762.8000000000001" stroke="#333" stroke-width="1"/>
<text transform="translate(287.50,765.6) rotate(-90)" font-size="9" fill="#2a9a2e" text-anchor="end">AJ</text>
<line x1="293.60" x2="293.60" y1="759.6" y2="762.8000000000001" stroke="#333" stroke-width="1"/>
<text transform="translate(296.90,765.6) rotate(-90)" font-size="9" fill="#2a9a2e" text-anchor="end">AK</text>
<line x1="303.00" x2="303.00" y1="759.6" y2="762.8000000000001" stroke="#333" stroke-width="1"/>
<text transform="translate(306.30,765.6) rotate(-90)" font-size="9" fill="#2a9a2e" text-anchor="end">AM</text>
<line x1="312.40" x2="312.40" y1="759.6" y2="762.8000000000001" stroke="#333" stroke-width="1"/>
<text transform="translate(315.70,765.6) rotate(-90)" font-size="9" fill="#2a9a2e" text-anchor="end">AN</text>
<line x1="321.80" x2="321.80" y1="759.6" y2="762.8000000000001" stroke="#333" stroke-width="1"/>
<text transform="translate(325.10,765.6) rotate(-90)" font-size="9" fill="#2a9a2e" text-anchor="end">AP</text>
<line x1="331.20" x2="331.20" y1="759.6" y2="762.8000000000001" stroke="#333" stroke-width="1"/>
<text transform="translate(334.50,765.6) rotate(-90)" font-size="9" fill="#2a9a2e" text-anchor="end">AU</text>
<line x1="340.60" x2="340.60" y1="759.6" y2="762.8000000000001" stroke="#333" stroke-width="1"/>
<text transform="translate(343.90,765.6) rotate(-90)" font-size="9" fill="#2a9a2e" text-anchor="end">AV</text>
<line x1="350.00" x2="350.00" y1="759.6" y2="762.8000000000001" stroke="#333" stroke-width="1"/>
<text transform="translate(353.30,765.6) rotate(-90)" font-size="9" fill="#2a9a2e" text-anchor="end">AW</text>
<line x1="359.40" x2="359.40" y1="759.6" y2="762.8000000000001" stroke="#333" stroke-width="1"/>
<text transform="translate(362.70,765.6) rotate(-90)" font-size="9" fill="#2a9a2e" text-anchor="end">AX</text>
<line x1="368.80" x2="368.80" y1="759.6" y2="762.8000000000001" stroke="#333" stroke-width="1"/>
<text transform="translate(372.10,765.6) rotate(-90)" font-size="9" fill="#2a9a2e" text-anchor="end">AZ</text>
<line x1="378.20" x2="378.20" y1="759.6" y2="762.8000000000001" stroke="#333" stroke-width="1"/>
<text transform="translate(381.50,765.6) rotate(-90)" font-size="9" fill="#2a9a2e" text-anchor="end">BA</text>
<line x1="387.60" x2="387.60" y1="759.6" y2="762.8000000000001" stroke="#333" stroke-width="1"/>
<text transform="translate(390.90,765.6) rotate(-90)" font-size="9" fill="#2a9a2e" text-anchor="end">BB</text>
<line x1="115.50" x2="171.80" y1="782.5" y2="782.5" stroke="#b23c40" stroke-width="1.2"/>
<line x1="180.70" x2="388.00" y1="782.5" y2="782.5" stroke="#3ea043" stroke-width="1.2"/>
<circle cx="115.50" cy="782.5" r="2.3" fill="#5c5c5c"/>
<circle cx="171.80" cy="782.5" r="2.3" fill="#5c5c5c"/>
<circle cx="180.70" cy="782.5" r="2.3" fill="#5c5c5c"/>
<circle cx="388.00" cy="782.5" r="2.3" fill="#5c5c5c"/>
<text x="111.30" y="792.4" font-size="10" font-weight="bold" font-style="italic" fill="#a82c31" stroke="#a82c31" stroke-width="0.25" textLength="55.8" lengthAdjust="spacingAndGlyphs">C. canephora</text>
<text x="258.70" y="792.4" font-size="10" font-weight="bold" font-style="italic" fill="#2b8c30" stroke="#2b8c30" stroke-width="0.25" textLength="42.6" lengthAdjust="spacingAndGlyphs">C. arabica</text>
<line x1="405.70" x2="405.70" y1="759.6" y2="762.8000000000001" stroke="#333" stroke-width="1"/>
<text transform="translate(409.00,765.6) rotate(-90)" font-size="9" fill="#b8393c" text-anchor="end">C</text>
<line x1="415.10" x2="415.10" y1="759.6" y2="762.8000000000001" stroke="#333" stroke-width="1"/>
<text transform="translate(418.40,765.6) rotate(-90)" font-size="9" fill="#b8393c" text-anchor="end">D</text>
<line x1="424.50" x2="424.50" y1="759.6" y2="762.8000000000001" stroke="#333" stroke-width="1"/>
<text transform="translate(427.80,765.6) rotate(-90)" font-size="9" fill="#b8393c" text-anchor="end">H</text>
<line x1="433.90" x2="433.90" y1="759.6" y2="762.8000000000001" stroke="#333" stroke-width="1"/>
<text transform="translate(437.20,765.6) rotate(-90)" font-size="9" fill="#b8393c" text-anchor="end">J</text>
<line x1="443.30" x2="443.30" y1="759.6" y2="762.8000000000001" stroke="#333" stroke-width="1"/>
<text transform="translate(446.60,765.6) rotate(-90)" font-size="9" fill="#b8393c" text-anchor="end">S</text>
<line x1="452.70" x2="452.70" y1="759.6" y2="762.8000000000001" stroke="#333" stroke-width="1"/>
<text transform="translate(456.00,765.6) rotate(-90)" font-size="9" fill="#b8393c" text-anchor="end">AH</text>
<line x1="462.10" x2="462.10" y1="759.6" y2="762.8000000000001" stroke="#333" stroke-width="1"/>
<text transform="translate(465.40,765.6) rotate(-90)" font-size="9" fill="#b8393c" text-anchor="end">AT</text>
<line x1="471.50" x2="471.50" y1="759.6" y2="762.8000000000001" stroke="#333" stroke-width="1"/>
<text transform="translate(474.80,765.6) rotate(-90)" font-size="9" fill="#2a9a2e" text-anchor="end">B</text>
<line x1="480.90" x2="480.90" y1="759.6" y2="762.8000000000001" stroke="#333" stroke-width="1"/>
<text transform="translate(484.20,765.6) rotate(-90)" font-size="9" fill="#2a9a2e" text-anchor="end">F</text>
<line x1="490.30" x2="490.30" y1="759.6" y2="762.8000000000001" stroke="#333" stroke-width="1"/>
<text transform="translate(493.60,765.6) rotate(-90)" font-size="9" fill="#2a9a2e" text-anchor="end">N</text>
<line x1="499.70" x2="499.70" y1="759.6" y2="762.8000000000001" stroke="#333" stroke-width="1"/>
<text transform="translate(503.00,765.6) rotate(-90)" font-size="9" fill="#2a9a2e" text-anchor="end">Q</text>
<line x1="509.10" x2="509.10" y1="759.6" y2="762.8000000000001" stroke="#333" stroke-width="1"/>
<text transform="translate(512.40,765.6) rotate(-90)" font-size="9" fill="#2a9a2e" text-anchor="end">R</text>
<line x1="518.50" x2="518.50" y1="759.6" y2="762.8000000000001" stroke="#333" stroke-width="1"/>
<text transform="translate(521.80,765.6) rotate(-90)" font-size="9" fill="#2a9a2e" text-anchor="end">V</text>
<line x1="527.90" x2="527.90" y1="759.6" y2="762.8000000000001" stroke="#333" stroke-width="1"/>
<text transform="translate(531.20,765.6) rotate(-90)" font-size="9" fill="#2a9a2e" text-anchor="end">X</text>
<line x1="537.30" x2="537.30" y1="759.6" y2="762.8000000000001" stroke="#333" stroke-width="1"/>
<text transform="translate(540.60,765.6) rotate(-90)" font-size="9" fill="#2a9a2e" text-anchor="end">AC</text>
<line x1="546.70" x2="546.70" y1="759.6" y2="762.8000000000001" stroke="#333" stroke-width="1"/>
<text transform="translate(550.00,765.6) rotate(-90)" font-size="9" fill="#2a9a2e" text-anchor="end">AE</text>
<line x1="556.10" x2="556.10" y1="759.6" y2="762.8000000000001" stroke="#333" stroke-width="1"/>
<text transform="translate(559.40,765.6) rotate(-90)" font-size="9" fill="#2a9a2e" text-anchor="end">AG</text>
<line x1="565.50" x2="565.50" y1="759.6" y2="762.8000000000001" stroke="#333" stroke-width="1"/>
<text transform="translate(568.80,765.6) rotate(-90)" font-size="9" fill="#2a9a2e" text-anchor="end">AI</text>
<line x1="574.90" x2="574.90" y1="759.6" y2="762.8000000000001" stroke="#333" stroke-width="1"/>
<text transform="translate(578.20,765.6) rotate(-90)" font-size="9" fill="#2a9a2e" text-anchor="end">AJ</text>
<line x1="584.30" x2="584.30" y1="759.6" y2="762.8000000000001" stroke="#333" stroke-width="1"/>
<text transform="translate(587.60,765.6) rotate(-90)" font-size="9" fill="#2a9a2e" text-anchor="end">AK</text>
<line x1="593.70" x2="593.70" y1="759.6" y2="762.8000000000001" stroke="#333" stroke-width="1"/>
<text transform="translate(597.00,765.6) rotate(-90)" font-size="9" fill="#2a9a2e" text-anchor="end">AM</text>
<line x1="603.10" x2="603.10" y1="759.6" y2="762.8000000000001" stroke="#333" stroke-width="1"/>
<text transform="translate(606.40,765.6) rotate(-90)" font-size="9" fill="#2a9a2e" text-anchor="end">AN</text>
<line x1="612.50" x2="612.50" y1="759.6" y2="762.8000000000001" stroke="#333" stroke-width="1"/>
<text transform="translate(615.80,765.6) rotate(-90)" font-size="9" fill="#2a9a2e" text-anchor="end">AP</text>
<line x1="621.90" x2="621.90" y1="759.6" y2="762.8000000000001" stroke="#333" stroke-width="1"/>
<text transform="translate(625.20,765.6) rotate(-90)" font-size="9" fill="#2a9a2e" text-anchor="end">AU</text>
<line x1="631.30" x2="631.30" y1="759.6" y2="762.8000000000001" stroke="#333" stroke-width="1"/>
<text transform="translate(634.60,765.6) rotate(-90)" font-size="9" fill="#2a9a2e" text-anchor="end">AV</text>
<line x1="640.70" x2="640.70" y1="759.6" y2="762.8000000000001" stroke="#333" stroke-width="1"/>
<text transform="translate(644.00,765.6) rotate(-90)" font-size="9" fill="#2a9a2e" text-anchor="end">AW</text>
<line x1="650.10" x2="650.10" y1="759.6" y2="762.8000000000001" stroke="#333" stroke-width="1"/>
<text transform="translate(653.40,765.6) rotate(-90)" font-size="9" fill="#2a9a2e" text-anchor="end">AX</text>
<line x1="659.50" x2="659.50" y1="759.6" y2="762.8000000000001" stroke="#333" stroke-width="1"/>
<text transform="translate(662.80,765.6) rotate(-90)" font-size="9" fill="#2a9a2e" text-anchor="end">AZ</text>
<line x1="668.90" x2="668.90" y1="759.6" y2="762.8000000000001" stroke="#333" stroke-width="1"/>
<text transform="translate(672.20,765.6) rotate(-90)" font-size="9" fill="#2a9a2e" text-anchor="end">BA</text>
<line x1="678.30" x2="678.30" y1="759.6" y2="762.8000000000001" stroke="#333" stroke-width="1"/>
<text transform="translate(681.60,765.6) rotate(-90)" font-size="9" fill="#2a9a2e" text-anchor="end">BB</text>
<line x1="406.20" x2="462.50" y1="782.5" y2="782.5" stroke="#b23c40" stroke-width="1.2"/>
<line x1="471.40" x2="678.70" y1="782.5" y2="782.5" stroke="#3ea043" stroke-width="1.2"/>
<circle cx="406.20" cy="782.5" r="2.3" fill="#5c5c5c"/>
<circle cx="462.50" cy="782.5" r="2.3" fill="#5c5c5c"/>
<circle cx="471.40" cy="782.5" r="2.3" fill="#5c5c5c"/>
<circle cx="678.70" cy="782.5" r="2.3" fill="#5c5c5c"/>
<text x="402.00" y="792.4" font-size="10" font-weight="bold" font-style="italic" fill="#a82c31" stroke="#a82c31" stroke-width="0.25" textLength="55.8" lengthAdjust="spacingAndGlyphs">C. canephora</text>
<text x="549.40" y="792.4" font-size="10" font-weight="bold" font-style="italic" fill="#2b8c30" stroke="#2b8c30" stroke-width="0.25" textLength="42.6" lengthAdjust="spacingAndGlyphs">C. arabica</text>
<line x1="82.3" x2="82.3" y1="766.4" y2="768.6" stroke="#333" stroke-width="1.1"/>
<line x1="0" x2="685" y1="139.2" y2="139.2" stroke="#adadad" stroke-width="1" stroke-dasharray="3.6 3.55" stroke-dashoffset="-0.8"/>
<line x1="0" x2="685" y1="399.4" y2="399.4" stroke="#adadad" stroke-width="1" stroke-dasharray="3.6 3.55" stroke-dashoffset="-0.8"/>
<line x1="0" x2="685" y1="652.8" y2="652.8" stroke="#adadad" stroke-width="1" stroke-dasharray="3.6 3.55" stroke-dashoffset="-0.8"/>
<line x1="44.9" x2="683" y1="283.9" y2="283.9" stroke="#999" stroke-width="2.2" stroke-dasharray="8.74 2.3"/>
<line x1="45" x2="683" y1="540.0" y2="540.0" stroke="#9c9c9c" stroke-width="1.4" stroke-dasharray="3.6 3.6"/>
<g transform="translate(279.6,7.1) rotate(30)">
<rect x="-9.6" y="-4.1" width="19.2" height="8.2" rx="4.1" fill="#e81ee8" stroke="#b312b3" stroke-width="0.6"/>
<ellipse cx="0.6" cy="0" rx="5.2" ry="2.3" fill="#fb5cfb"/>
</g>
<path d="M287.6,8.6 C290,6.8 292,9.8 294.5,8.6 C296,8 297,9.6 298.2,9.2 M288.2,10.6 C291,10.2 292.5,12.8 295,12.6 C296.5,12.5 297.3,13.6 298.4,13.8 M285.8,12.9 C288.5,14.5 289.5,17 292,17.2 C293.8,17.4 294.5,19.4 296,20.4 M284.6,13.4 C287,15.4 287.6,17.6 290,18.2 C291.8,18.6 292.6,19.6 293.6,20.2" fill="none" stroke="#a21aa2" stroke-width="0.75"/>
<g>
<path d="M582.6,8.5 L583.5,2.6" stroke="#8a8282" stroke-width="1.1"/>
<path d="M583.8,9.5 L586.3,5.8 L589.8,7.2" stroke="#858080" stroke-width="1.6" fill="none" stroke-linejoin="round"/>
<circle cx="583.6" cy="2.3" r="1.25" fill="#c47a40"/>
<circle cx="586.8" cy="4.8" r="1.45" fill="#c47a40"/>
<circle cx="590.3" cy="7.0" r="1.3" fill="#c47a40"/>
<path d="M577.6,16.6 L576.6,22.2" stroke="#c47a40" stroke-width="1.9" stroke-linecap="round"/>
<ellipse cx="580.9" cy="12.9" rx="5.3" ry="3.3" transform="rotate(-62 580.9 12.9)" fill="#f2dae2" stroke="#7f7a7a" stroke-width="0.7"/>
<path d="M578.2,15.6 L582.4,8.6 M580.2,16.2 L583.9,10" stroke="#9a9090" stroke-width="0.45" fill="none"/>
<path d="M602.2,20.2 L614.2,3.2" stroke="#8a8080" stroke-width="3.6" stroke-linecap="round"/>
<path d="M602.2,20.2 L614.2,3.2" stroke="#e2c8c8" stroke-width="2.4" stroke-linecap="round"/>
<path d="M603,19 L613.6,4.2" stroke="#c27a42" stroke-width="1.5" stroke-dasharray="1.3 0.6"/>
<path d="M599.4,17.2 L601.8,19.8" stroke="#b8b0b0" stroke-width="1.6" stroke-linecap="round"/>
<circle cx="601.8" cy="20.8" r="1.3" fill="#f6f6f6" stroke="#bbb" stroke-width="0.4"/>
</g>
<defs>
<clipPath id="cpRFB"><rect x="109.7" y="32.0" width="283.70" height="103.80"/></clipPath>
<clipPath id="cpRFF"><rect x="400.4" y="32.0" width="283.20" height="103.80"/></clipPath>
<clipPath id="cpRSB"><rect x="109.7" y="142.3" width="283.70" height="103.50"/></clipPath>
<clipPath id="cpRSF"><rect x="400.4" y="142.3" width="283.20" height="103.50"/></clipPath>
<clipPath id="cpEFB"><rect x="109.7" y="292.5" width="283.70" height="103.40"/></clipPath>
<clipPath id="cpEFF"><rect x="400.4" y="292.5" width="283.20" height="103.40"/></clipPath>
<clipPath id="cpESB"><rect x="109.7" y="402.6" width="283.70" height="103.50"/></clipPath>
<clipPath id="cpESF"><rect x="400.4" y="402.6" width="283.20" height="103.50"/></clipPath>
<clipPath id="cpDFB"><rect x="109.7" y="545.8" width="283.70" height="103.70"/></clipPath>
<clipPath id="cpDFF"><rect x="400.4" y="545.8" width="283.20" height="103.70"/></clipPath>
<clipPath id="cpDSB"><rect x="109.7" y="655.9" width="283.70" height="103.70"/></clipPath>
<clipPath id="cpDSF"><rect x="400.4" y="655.9" width="283.20" height="103.70"/></clipPath>
</defs>
<g clip-path="url(#cpRFB)">
<line x1="115.00" x2="115.00" y1="128.20" y2="128.50" stroke="#8e0f14" stroke-width="0.9"/>
<circle cx="114.89" cy="128.20" r="1.5" fill="#e31b23" stroke="#8e0f14" stroke-width="0.7"/>
<circle cx="115.14" cy="128.50" r="1.5" fill="#e31b23" stroke="#8e0f14" stroke-width="0.7"/>
<circle cx="116.70" cy="128.30" r="1.5" fill="#e31b23" stroke="#8e0f14" stroke-width="0.7"/>
<rect x="111.50" y="127.80" width="7.0" height="1.10" fill="#e31b23" stroke="#8e0f14" stroke-width="1.15"/>
<line x1="111.50" x2="118.50" y1="128.30" y2="128.30" stroke="#a8141a" stroke-width="1"/>
<text transform="translate(118.90,127.00) rotate(-90)" font-size="8.4" fill="#8c8c8c">ab</text>
<line x1="124.40" x2="124.40" y1="121.20" y2="128.80" stroke="#8e0f14" stroke-width="0.9"/>
<circle cx="124.32" cy="121.20" r="1.5" fill="#e31b23" stroke="#8e0f14" stroke-width="0.7"/>
<circle cx="124.42" cy="128.80" r="1.5" fill="#e31b23" stroke="#8e0f14" stroke-width="0.7"/>
<circle cx="124.75" cy="124.50" r="1.5" fill="#e31b23" stroke="#8e0f14" stroke-width="0.7"/>
<rect x="120.90" y="122.85" width="7.0" height="3.80" fill="#e31b23" stroke="#8e0f14" stroke-width="1.15"/>
<line x1="120.90" x2="127.90" y1="124.50" y2="124.50" stroke="#a8141a" stroke-width="1"/>
<text transform="translate(128.30,120.90) rotate(-90)" font-size="8.4" fill="#8c8c8c">ab</text>
<line x1="133.80" x2="133.80" y1="127.65" y2="128.35" stroke="#8e0f14" stroke-width="0.9"/>
<circle cx="133.04" cy="127.65" r="1.5" fill="#e31b23" stroke="#8e0f14" stroke-width="0.7"/>
<circle cx="133.83" cy="128.35" r="1.5" fill="#e31b23" stroke="#8e0f14" stroke-width="0.7"/>
<circle cx="134.32" cy="128.00" r="1.5" fill="#e31b23" stroke="#8e0f14" stroke-width="0.7"/>
<rect x="130.30" y="127.25" width="7.0" height="1.50" fill="#e31b23" stroke="#8e0f14" stroke-width="1.15"/>
<line x1="130.30" x2="137.30" y1="128.00" y2="128.00" stroke="#a8141a" stroke-width="1"/>
<text transform="translate(137.70,126.20) rotate(-90)" font-size="8.4" fill="#8c8c8c">ab</text>
<line x1="143.20" x2="143.20" y1="125.00" y2="127.85" stroke="#8e0f14" stroke-width="0.9"/>
<circle cx="143.90" cy="125.00" r="1.5" fill="#e31b23" stroke="#8e0f14" stroke-width="0.7"/>
<circle cx="142.23" cy="127.85" r="1.5" fill="#e31b23" stroke="#8e0f14" stroke-width="0.7"/>
<circle cx="142.41" cy="127.50" r="1.5" fill="#e31b23" stroke="#8e0f14" stroke-width="0.7"/>
<rect x="139.70" y="126.25" width="7.0" height="2.00" fill="#e31b23" stroke="#8e0f14" stroke-width="1.15"/>
<line x1="139.70" x2="146.70" y1="127.50" y2="127.50" stroke="#a8141a" stroke-width="1"/>
<text transform="translate(147.10,124.70) rotate(-90)" font-size="8.4" fill="#8c8c8c">ab</text>
<line x1="152.60" x2="152.60" y1="125.50" y2="130.00" stroke="#8e0f14" stroke-width="0.9"/>
<circle cx="151.62" cy="125.50" r="1.5" fill="#e31b23" stroke="#8e0f14" stroke-width="0.7"/>
<circle cx="153.34" cy="130.00" r="1.5" fill="#e31b23" stroke="#8e0f14" stroke-width="0.7"/>
<circle cx="153.37" cy="127.50" r="1.5" fill="#e31b23" stroke="#8e0f14" stroke-width="0.7"/>
<rect x="149.10" y="126.50" width="7.0" height="2.25" fill="#e31b23" stroke="#8e0f14" stroke-width="1.15"/>
<line x1="149.10" x2="156.10" y1="127.50" y2="127.50" stroke="#a8141a" stroke-width="1"/>
<text transform="translate(156.50,125.20) rotate(-90)" font-size="8.4" fill="#8c8c8c">ab</text>
<line x1="162.00" x2="162.00" y1="123.50" y2="128.50" stroke="#8e0f14" stroke-width="0.9"/>
<circle cx="160.90" cy="123.50" r="1.5" fill="#e31b23" stroke="#8e0f14" stroke-width="0.7"/>
<circle cx="163.16" cy="128.50" r="1.5" fill="#e31b23" stroke="#8e0f14" stroke-width="0.7"/>
<circle cx="163.86" cy="126.00" r="1.5" fill="#e31b23" stroke="#8e0f14" stroke-width="0.7"/>
<rect x="158.50" y="124.75" width="7.0" height="2.50" fill="#e31b23" stroke="#8e0f14" stroke-width="1.15"/>
<line x1="158.50" x2="165.50" y1="126.00" y2="126.00" stroke="#a8141a" stroke-width="1"/>
<text transform="translate(165.90,123.20) rotate(-90)" font-size="8.4" fill="#8c8c8c">ab</text>
<line x1="171.40" x2="171.40" y1="128.40" y2="128.60" stroke="#8e0f14" stroke-width="0.9"/>
<circle cx="171.77" cy="128.40" r="1.5" fill="#e31b23" stroke="#8e0f14" stroke-width="0.7"/>
<circle cx="171.68" cy="128.60" r="1.5" fill="#e31b23" stroke="#8e0f14" stroke-width="0.7"/>
<circle cx="170.03" cy="128.50" r="1.5" fill="#e31b23" stroke="#8e0f14" stroke-width="0.7"/>
<rect x="167.90" y="128.00" width="7.0" height="1.00" fill="#e31b23" stroke="#8e0f14" stroke-width="1.15"/>
<line x1="167.90" x2="174.90" y1="128.50" y2="128.50" stroke="#a8141a" stroke-width="1"/>
<text transform="translate(175.30,127.20) rotate(-90)" font-size="8.4" fill="#8c8c8c">ab</text>
<line x1="180.80" x2="180.80" y1="128.65" y2="129.35" stroke="#1d5e22" stroke-width="0.9"/>
<circle cx="179.64" cy="128.65" r="1.5" fill="#47ad4b" stroke="#1d5e22" stroke-width="0.7"/>
<circle cx="180.87" cy="129.35" r="1.5" fill="#47ad4b" stroke="#1d5e22" stroke-width="0.7"/>
<circle cx="179.04" cy="129.00" r="1.5" fill="#47ad4b" stroke="#1d5e22" stroke-width="0.7"/>
<rect x="177.30" y="128.25" width="7.0" height="1.50" fill="#47ad4b" stroke="#1d5e22" stroke-width="1.15"/>
<line x1="177.30" x2="184.30" y1="129.00" y2="129.00" stroke="#23702a" stroke-width="1"/>
<text transform="translate(184.70,127.20) rotate(-90)" font-size="8.4" fill="#8c8c8c">ab</text>
<line x1="190.20" x2="190.20" y1="126.50" y2="129.35" stroke="#1d5e22" stroke-width="0.9"/>
<circle cx="189.46" cy="126.50" r="1.5" fill="#47ad4b" stroke="#1d5e22" stroke-width="0.7"/>
<circle cx="189.58" cy="129.35" r="1.5" fill="#47ad4b" stroke="#1d5e22" stroke-width="0.7"/>
<circle cx="188.32" cy="129.00" r="1.5" fill="#47ad4b" stroke="#1d5e22" stroke-width="0.7"/>
<rect x="186.70" y="127.75" width="7.0" height="2.00" fill="#47ad4b" stroke="#1d5e22" stroke-width="1.15"/>
<line x1="186.70" x2="193.70" y1="129.00" y2="129.00" stroke="#23702a" stroke-width="1"/>
<text transform="translate(194.10,126.20) rotate(-90)" font-size="8.4" fill="#8c8c8c">ab</text>
<line x1="199.60" x2="199.60" y1="124.00" y2="126.35" stroke="#1d5e22" stroke-width="0.9"/>
<circle cx="199.51" cy="124.00" r="1.5" fill="#47ad4b" stroke="#1d5e22" stroke-width="0.7"/>
<circle cx="199.46" cy="126.35" r="1.5" fill="#47ad4b" stroke="#1d5e22" stroke-width="0.7"/>
<circle cx="200.97" cy="126.00" r="1.5" fill="#47ad4b" stroke="#1d5e22" stroke-width="0.7"/>
<rect x="196.10" y="125.00" width="7.0" height="1.75" fill="#47ad4b" stroke="#1d5e22" stroke-width="1.15"/>
<line x1="196.10" x2="203.10" y1="126.00" y2="126.00" stroke="#23702a" stroke-width="1"/>
<text transform="translate(203.50,123.70) rotate(-90)" font-size="8.4" fill="#8c8c8c">ab</text>
<line x1="209.00" x2="209.00" y1="124.00" y2="126.35" stroke="#1d5e22" stroke-width="0.9"/>
<circle cx="209.05" cy="124.00" r="1.5" fill="#47ad4b" stroke="#1d5e22" stroke-width="0.7"/>
<circle cx="209.34" cy="126.35" r="1.5" fill="#47ad4b" stroke="#1d5e22" stroke-width="0.7"/>
<circle cx="209.00" cy="126.00" r="1.5" fill="#47ad4b" stroke="#1d5e22" stroke-width="0.7"/>
<rect x="205.50" y="125.00" width="7.0" height="1.75" fill="#47ad4b" stroke="#1d5e22" stroke-width="1.15"/>
<line x1="205.50" x2="212.50" y1="126.00" y2="126.00" stroke="#23702a" stroke-width="1"/>
<text transform="translate(212.90,123.70) rotate(-90)" font-size="8.4" fill="#8c8c8c">ab</text>
<line x1="218.40" x2="218.40" y1="121.00" y2="130.00" stroke="#1d5e22" stroke-width="0.9"/>
<circle cx="218.79" cy="121.00" r="1.5" fill="#47ad4b" stroke="#1d5e22" stroke-width="0.7"/>
<circle cx="218.30" cy="130.00" r="1.5" fill="#47ad4b" stroke="#1d5e22" stroke-width="0.7"/>
<circle cx="217.51" cy="125.00" r="1.5" fill="#47ad4b" stroke="#1d5e22" stroke-width="0.7"/>
<rect x="214.90" y="123.00" width="7.0" height="4.50" fill="#47ad4b" stroke="#1d5e22" stroke-width="0.9"/>
<line x1="214.90" x2="221.90" y1="125.00" y2="125.00" stroke="#23702a" stroke-width="1"/>
<text transform="translate(222.30,120.70) rotate(-90)" font-size="8.4" fill="#8c8c8c">ab</text>
<line x1="227.80" x2="227.80" y1="128.00" y2="130.50" stroke="#1d5e22" stroke-width="0.9"/>
<circle cx="228.99" cy="128.00" r="1.5" fill="#47ad4b" stroke="#1d5e22" stroke-width="0.7"/>
<circle cx="228.99" cy="130.50" r="1.5" fill="#47ad4b" stroke="#1d5e22" stroke-width="0.7"/>
<circle cx="229.16" cy="128.50" r="1.5" fill="#47ad4b" stroke="#1d5e22" stroke-width="0.7"/>
<rect x="224.30" y="127.60" width="7.0" height="1.90" fill="#47ad4b" stroke="#1d5e22" stroke-width="1.15"/>
<line x1="224.30" x2="231.30" y1="128.50" y2="128.50" stroke="#23702a" stroke-width="1"/>
<text transform="translate(231.70,126.40) rotate(-90)" font-size="8.4" fill="#8c8c8c">b</text>
<line x1="237.20" x2="237.20" y1="123.15" y2="123.85" stroke="#1d5e22" stroke-width="0.9"/>
<circle cx="237.70" cy="123.15" r="1.5" fill="#47ad4b" stroke="#1d5e22" stroke-width="0.7"/>
<circle cx="236.76" cy="123.85" r="1.5" fill="#47ad4b" stroke="#1d5e22" stroke-width="0.7"/>
<circle cx="236.12" cy="123.50" r="1.5" fill="#47ad4b" stroke="#1d5e22" stroke-width="0.7"/>
<rect x="233.70" y="122.75" width="7.0" height="1.50" fill="#47ad4b" stroke="#1d5e22" stroke-width="1.15"/>
<line x1="233.70" x2="240.70" y1="123.50" y2="123.50" stroke="#23702a" stroke-width="1"/>
<text transform="translate(241.10,121.70) rotate(-90)" font-size="8.4" fill="#8c8c8c">ab</text>
<line x1="246.60" x2="246.60" y1="125.00" y2="129.00" stroke="#1d5e22" stroke-width="0.9"/>
<circle cx="246.09" cy="125.00" r="1.5" fill="#47ad4b" stroke="#1d5e22" stroke-width="0.7"/>
<circle cx="245.57" cy="129.00" r="1.5" fill="#47ad4b" stroke="#1d5e22" stroke-width="0.7"/>
<circle cx="247.67" cy="127.00" r="1.5" fill="#47ad4b" stroke="#1d5e22" stroke-width="0.7"/>
<rect x="243.10" y="126.00" width="7.0" height="2.00" fill="#47ad4b" stroke="#1d5e22" stroke-width="1.15"/>
<line x1="243.10" x2="250.10" y1="127.00" y2="127.00" stroke="#23702a" stroke-width="1"/>
<text transform="translate(250.50,124.70) rotate(-90)" font-size="8.4" fill="#8c8c8c">ab</text>
<line x1="256.00" x2="256.00" y1="127.15" y2="127.85" stroke="#1d5e22" stroke-width="0.9"/>
<circle cx="255.76" cy="127.15" r="1.5" fill="#47ad4b" stroke="#1d5e22" stroke-width="0.7"/>
<circle cx="256.83" cy="127.85" r="1.5" fill="#47ad4b" stroke="#1d5e22" stroke-width="0.7"/>
<circle cx="255.55" cy="127.50" r="1.5" fill="#47ad4b" stroke="#1d5e22" stroke-width="0.7"/>
<rect x="252.50" y="126.75" width="7.0" height="1.50" fill="#47ad4b" stroke="#1d5e22" stroke-width="1.15"/>
<line x1="252.50" x2="259.50" y1="127.50" y2="127.50" stroke="#23702a" stroke-width="1"/>
<text transform="translate(259.90,125.70) rotate(-90)" font-size="8.4" fill="#8c8c8c">ab</text>
<line x1="265.40" x2="265.40" y1="125.00" y2="129.00" stroke="#1d5e22" stroke-width="0.9"/>
<circle cx="266.50" cy="125.00" r="1.5" fill="#47ad4b" stroke="#1d5e22" stroke-width="0.7"/>
<circle cx="266.23" cy="129.00" r="1.5" fill="#47ad4b" stroke="#1d5e22" stroke-width="0.7"/>
<circle cx="263.40" cy="127.00" r="1.5" fill="#47ad4b" stroke="#1d5e22" stroke-width="0.7"/>
<rect x="261.90" y="126.00" width="7.0" height="2.00" fill="#47ad4b" stroke="#1d5e22" stroke-width="1.15"/>
<line x1="261.90" x2="268.90" y1="127.00" y2="127.00" stroke="#23702a" stroke-width="1"/>
<text transform="translate(269.30,124.70) rotate(-90)" font-size="8.4" fill="#8c8c8c">ab</text>
<line x1="274.80" x2="274.80" y1="122.50" y2="126.50" stroke="#1d5e22" stroke-width="0.9"/>
<circle cx="274.10" cy="122.50" r="1.5" fill="#47ad4b" stroke="#1d5e22" stroke-width="0.7"/>
<circle cx="275.78" cy="126.50" r="1.5" fill="#47ad4b" stroke="#1d5e22" stroke-width="0.7"/>
<circle cx="274.68" cy="124.50" r="1.5" fill="#47ad4b" stroke="#1d5e22" stroke-width="0.7"/>
<rect x="271.30" y="123.50" width="7.0" height="2.00" fill="#47ad4b" stroke="#1d5e22" stroke-width="1.15"/>
<line x1="271.30" x2="278.30" y1="124.50" y2="124.50" stroke="#23702a" stroke-width="1"/>
<text transform="translate(278.70,122.20) rotate(-90)" font-size="8.4" fill="#8c8c8c">ab</text>
<line x1="284.20" x2="284.20" y1="123.00" y2="127.00" stroke="#1d5e22" stroke-width="0.9"/>
<circle cx="285.35" cy="123.00" r="1.5" fill="#47ad4b" stroke="#1d5e22" stroke-width="0.7"/>
<circle cx="283.95" cy="127.00" r="1.5" fill="#47ad4b" stroke="#1d5e22" stroke-width="0.7"/>
<circle cx="282.49" cy="125.00" r="1.5" fill="#47ad4b" stroke="#1d5e22" stroke-width="0.7"/>
<rect x="280.70" y="124.00" width="7.0" height="2.00" fill="#47ad4b" stroke="#1d5e22" stroke-width="1.15"/>
<line x1="280.70" x2="287.70" y1="125.00" y2="125.00" stroke="#23702a" stroke-width="1"/>
<text transform="translate(288.10,122.70) rotate(-90)" font-size="8.4" fill="#8c8c8c">ab</text>
<line x1="293.60" x2="293.60" y1="122.60" y2="127.20" stroke="#1d5e22" stroke-width="0.9"/>
<circle cx="293.91" cy="122.60" r="1.5" fill="#47ad4b" stroke="#1d5e22" stroke-width="0.7"/>
<circle cx="294.27" cy="127.20" r="1.5" fill="#47ad4b" stroke="#1d5e22" stroke-width="0.7"/>
<circle cx="292.68" cy="125.00" r="1.5" fill="#47ad4b" stroke="#1d5e22" stroke-width="0.7"/>
<rect x="290.10" y="123.80" width="7.0" height="2.30" fill="#47ad4b" stroke="#1d5e22" stroke-width="1.15"/>
<line x1="290.10" x2="297.10" y1="125.00" y2="125.00" stroke="#23702a" stroke-width="1"/>
<text transform="translate(297.50,122.30) rotate(-90)" font-size="8.4" fill="#8c8c8c">ab</text>
<line x1="303.00" x2="303.00" y1="123.60" y2="123.95" stroke="#1d5e22" stroke-width="0.9"/>
<circle cx="302.01" cy="123.60" r="1.5" fill="#47ad4b" stroke="#1d5e22" stroke-width="0.7"/>
<circle cx="302.60" cy="123.95" r="1.5" fill="#47ad4b" stroke="#1d5e22" stroke-width="0.7"/>
<circle cx="304.86" cy="123.80" r="1.5" fill="#47ad4b" stroke="#1d5e22" stroke-width="0.7"/>
<rect x="299.50" y="123.20" width="7.0" height="1.15" fill="#47ad4b" stroke="#1d5e22" stroke-width="1.15"/>
<line x1="299.50" x2="306.50" y1="123.80" y2="123.80" stroke="#23702a" stroke-width="1"/>
<text transform="translate(306.90,122.30) rotate(-90)" font-size="8.4" fill="#8c8c8c">a</text>
<line x1="312.40" x2="312.40" y1="125.60" y2="130.20" stroke="#1d5e22" stroke-width="0.9"/>
<circle cx="313.02" cy="125.60" r="1.5" fill="#47ad4b" stroke="#1d5e22" stroke-width="0.7"/>
<circle cx="311.48" cy="130.20" r="1.5" fill="#47ad4b" stroke="#1d5e22" stroke-width="0.7"/>
<circle cx="311.39" cy="128.00" r="1.5" fill="#47ad4b" stroke="#1d5e22" stroke-width="0.7"/>
<rect x="308.90" y="126.80" width="7.0" height="2.30" fill="#47ad4b" stroke="#1d5e22" stroke-width="1.15"/>
<line x1="308.90" x2="315.90" y1="128.00" y2="128.00" stroke="#23702a" stroke-width="1"/>
<text transform="translate(316.30,125.30) rotate(-90)" font-size="8.4" fill="#8c8c8c">ab</text>
<line x1="321.80" x2="321.80" y1="125.60" y2="130.20" stroke="#1d5e22" stroke-width="0.9"/>
<circle cx="320.84" cy="125.60" r="1.5" fill="#47ad4b" stroke="#1d5e22" stroke-width="0.7"/>
<circle cx="320.74" cy="130.20" r="1.5" fill="#47ad4b" stroke="#1d5e22" stroke-width="0.7"/>
<circle cx="322.99" cy="128.00" r="1.5" fill="#47ad4b" stroke="#1d5e22" stroke-width="0.7"/>
<rect x="318.30" y="126.80" width="7.0" height="2.30" fill="#47ad4b" stroke="#1d5e22" stroke-width="1.15"/>
<line x1="318.30" x2="325.30" y1="128.00" y2="128.00" stroke="#23702a" stroke-width="1"/>
<text transform="translate(325.70,125.30) rotate(-90)" font-size="8.4" fill="#8c8c8c">ab</text>
<line x1="331.20" x2="331.20" y1="121.80" y2="127.20" stroke="#1d5e22" stroke-width="0.9"/>
<circle cx="330.43" cy="121.80" r="1.5" fill="#47ad4b" stroke="#1d5e22" stroke-width="0.7"/>
<circle cx="331.34" cy="127.20" r="1.5" fill="#47ad4b" stroke="#1d5e22" stroke-width="0.7"/>
<circle cx="330.99" cy="124.50" r="1.5" fill="#47ad4b" stroke="#1d5e22" stroke-width="0.7"/>
<rect x="327.70" y="123.15" width="7.0" height="2.70" fill="#47ad4b" stroke="#1d5e22" stroke-width="1.15"/>
<line x1="327.70" x2="334.70" y1="124.50" y2="124.50" stroke="#23702a" stroke-width="1"/>
<text transform="translate(335.10,121.50) rotate(-90)" font-size="8.4" fill="#8c8c8c">ab</text>
<line x1="340.60" x2="340.60" y1="124.90" y2="131.00" stroke="#1d5e22" stroke-width="0.9"/>
<circle cx="339.86" cy="124.90" r="1.5" fill="#47ad4b" stroke="#1d5e22" stroke-width="0.7"/>
<circle cx="341.16" cy="131.00" r="1.5" fill="#47ad4b" stroke="#1d5e22" stroke-width="0.7"/>
<circle cx="339.12" cy="128.00" r="1.5" fill="#47ad4b" stroke="#1d5e22" stroke-width="0.7"/>
<rect x="337.10" y="126.45" width="7.0" height="3.05" fill="#47ad4b" stroke="#1d5e22" stroke-width="1.15"/>
<line x1="337.10" x2="344.10" y1="128.00" y2="128.00" stroke="#23702a" stroke-width="1"/>
<text transform="translate(344.50,124.60) rotate(-90)" font-size="8.4" fill="#8c8c8c">ab</text>
<line x1="350.00" x2="350.00" y1="127.60" y2="128.35" stroke="#1d5e22" stroke-width="0.9"/>
<circle cx="350.34" cy="127.60" r="1.5" fill="#47ad4b" stroke="#1d5e22" stroke-width="0.7"/>
<circle cx="349.08" cy="128.35" r="1.5" fill="#47ad4b" stroke="#1d5e22" stroke-width="0.7"/>
<circle cx="349.68" cy="128.00" r="1.5" fill="#47ad4b" stroke="#1d5e22" stroke-width="0.7"/>
<rect x="346.50" y="127.20" width="7.0" height="1.55" fill="#47ad4b" stroke="#1d5e22" stroke-width="1.15"/>
<line x1="346.50" x2="353.50" y1="128.00" y2="128.00" stroke="#23702a" stroke-width="1"/>
<text transform="translate(353.90,126.10) rotate(-90)" font-size="8.4" fill="#8c8c8c">ab</text>
<line x1="359.40" x2="359.40" y1="126.95" y2="129.50" stroke="#1d5e22" stroke-width="0.9"/>
<circle cx="358.71" cy="126.95" r="1.5" fill="#47ad4b" stroke="#1d5e22" stroke-width="0.7"/>
<circle cx="358.85" cy="129.50" r="1.5" fill="#47ad4b" stroke="#1d5e22" stroke-width="0.7"/>
<circle cx="361.28" cy="127.50" r="1.5" fill="#47ad4b" stroke="#1d5e22" stroke-width="0.7"/>
<rect x="355.90" y="126.55" width="7.0" height="1.95" fill="#47ad4b" stroke="#1d5e22" stroke-width="1.15"/>
<line x1="355.90" x2="362.90" y1="127.50" y2="127.50" stroke="#23702a" stroke-width="1"/>
<text transform="translate(363.30,125.30) rotate(-90)" font-size="8.4" fill="#8c8c8c">ab</text>
<line x1="368.80" x2="368.80" y1="122.60" y2="129.50" stroke="#1d5e22" stroke-width="0.9"/>
<circle cx="369.53" cy="122.60" r="1.5" fill="#47ad4b" stroke="#1d5e22" stroke-width="0.7"/>
<circle cx="368.33" cy="129.50" r="1.5" fill="#47ad4b" stroke="#1d5e22" stroke-width="0.7"/>
<circle cx="370.34" cy="126.00" r="1.5" fill="#47ad4b" stroke="#1d5e22" stroke-width="0.7"/>
<rect x="365.30" y="124.30" width="7.0" height="3.45" fill="#47ad4b" stroke="#1d5e22" stroke-width="1.15"/>
<line x1="365.30" x2="372.30" y1="126.00" y2="126.00" stroke="#23702a" stroke-width="1"/>
<text transform="translate(372.70,122.30) rotate(-90)" font-size="8.4" fill="#8c8c8c">ab</text>
<line x1="378.20" x2="378.20" y1="126.95" y2="129.50" stroke="#1d5e22" stroke-width="0.9"/>
<circle cx="377.51" cy="126.95" r="1.5" fill="#47ad4b" stroke="#1d5e22" stroke-width="0.7"/>
<circle cx="377.95" cy="129.50" r="1.5" fill="#47ad4b" stroke="#1d5e22" stroke-width="0.7"/>
<circle cx="379.62" cy="127.50" r="1.5" fill="#47ad4b" stroke="#1d5e22" stroke-width="0.7"/>
<rect x="374.70" y="126.55" width="7.0" height="1.95" fill="#47ad4b" stroke="#1d5e22" stroke-width="1.15"/>
<line x1="374.70" x2="381.70" y1="127.50" y2="127.50" stroke="#23702a" stroke-width="1"/>
<text transform="translate(382.10,125.30) rotate(-90)" font-size="8.4" fill="#8c8c8c">ab</text>
<line x1="387.60" x2="387.60" y1="124.00" y2="129.50" stroke="#1d5e22" stroke-width="0.9"/>
<circle cx="387.94" cy="124.00" r="1.5" fill="#47ad4b" stroke="#1d5e22" stroke-width="0.7"/>
<circle cx="386.64" cy="129.50" r="1.5" fill="#47ad4b" stroke="#1d5e22" stroke-width="0.7"/>
<circle cx="389.56" cy="127.00" r="1.5" fill="#47ad4b" stroke="#1d5e22" stroke-width="0.7"/>
<rect x="384.10" y="125.50" width="7.0" height="2.75" fill="#47ad4b" stroke="#1d5e22" stroke-width="1.15"/>
<line x1="384.10" x2="391.10" y1="127.00" y2="127.00" stroke="#23702a" stroke-width="1"/>
<text transform="translate(391.50,123.70) rotate(-90)" font-size="8.4" fill="#8c8c8c">ab</text>
</g>
<g clip-path="url(#cpRSB)">
<line x1="115.00" x2="115.00" y1="176.70" y2="185.70" stroke="#8e0f14" stroke-width="0.9"/>
<circle cx="114.31" cy="176.70" r="1.5" fill="#e31b23" stroke="#8e0f14" stroke-width="0.7"/>
<circle cx="114.42" cy="185.70" r="1.5" fill="#e31b23" stroke="#8e0f14" stroke-width="0.7"/>
<circle cx="116.09" cy="181.10" r="1.5" fill="#e31b23" stroke="#8e0f14" stroke-width="0.7"/>
<rect x="111.50" y="178.80" width="7.0" height="4.50" fill="#e31b23" stroke="#8e0f14" stroke-width="0.9"/>
<line x1="111.50" x2="118.50" y1="181.10" y2="181.10" stroke="#a8141a" stroke-width="1"/>
<text transform="translate(118.90,174.20) rotate(-90)" font-size="8.4" fill="#8c8c8c">abcd</text>
<line x1="124.40" x2="124.40" y1="176.00" y2="183.30" stroke="#8e0f14" stroke-width="0.9"/>
<circle cx="123.99" cy="176.00" r="1.5" fill="#e31b23" stroke="#8e0f14" stroke-width="0.7"/>
<circle cx="123.91" cy="183.30" r="1.5" fill="#e31b23" stroke="#8e0f14" stroke-width="0.7"/>
<circle cx="122.69" cy="179.40" r="1.5" fill="#e31b23" stroke="#8e0f14" stroke-width="0.7"/>
<rect x="120.90" y="177.80" width="7.0" height="3.70" fill="#e31b23" stroke="#8e0f14" stroke-width="1.15"/>
<line x1="120.90" x2="127.90" y1="179.40" y2="179.40" stroke="#a8141a" stroke-width="1"/>
<text transform="translate(128.30,173.50) rotate(-90)" font-size="8.4" fill="#8c8c8c">abcd</text>
<line x1="133.80" x2="133.80" y1="169.00" y2="176.70" stroke="#8e0f14" stroke-width="0.9"/>
<circle cx="132.82" cy="169.00" r="1.5" fill="#e31b23" stroke="#8e0f14" stroke-width="0.7"/>
<circle cx="134.00" cy="176.70" r="1.5" fill="#e31b23" stroke="#8e0f14" stroke-width="0.7"/>
<circle cx="132.77" cy="171.80" r="1.5" fill="#e31b23" stroke="#8e0f14" stroke-width="0.7"/>
<rect x="130.30" y="170.20" width="7.0" height="3.40" fill="#e31b23" stroke="#8e0f14" stroke-width="1.15"/>
<line x1="130.30" x2="137.30" y1="171.80" y2="171.80" stroke="#a8141a" stroke-width="1"/>
<text transform="translate(137.70,166.50) rotate(-90)" font-size="8.4" fill="#8c8c8c">a</text>
<line x1="143.20" x2="143.20" y1="172.80" y2="181.10" stroke="#8e0f14" stroke-width="0.9"/>
<circle cx="143.44" cy="172.80" r="1.5" fill="#e31b23" stroke="#8e0f14" stroke-width="0.7"/>
<circle cx="142.89" cy="181.10" r="1.5" fill="#e31b23" stroke="#8e0f14" stroke-width="0.7"/>
<circle cx="143.01" cy="176.70" r="1.5" fill="#e31b23" stroke="#8e0f14" stroke-width="0.7"/>
<rect x="139.70" y="174.90" width="7.0" height="3.90" fill="#e31b23" stroke="#8e0f14" stroke-width="1.15"/>
<line x1="139.70" x2="146.70" y1="176.70" y2="176.70" stroke="#a8141a" stroke-width="1"/>
<text transform="translate(147.10,170.30) rotate(-90)" font-size="8.4" fill="#8c8c8c">abcd</text>
<line x1="152.60" x2="152.60" y1="175.00" y2="181.10" stroke="#8e0f14" stroke-width="0.9"/>
<circle cx="153.70" cy="175.00" r="1.5" fill="#e31b23" stroke="#8e0f14" stroke-width="0.7"/>
<circle cx="152.56" cy="181.10" r="1.5" fill="#e31b23" stroke="#8e0f14" stroke-width="0.7"/>
<circle cx="152.90" cy="177.80" r="1.5" fill="#e31b23" stroke="#8e0f14" stroke-width="0.7"/>
<rect x="149.10" y="176.00" width="7.0" height="3.40" fill="#e31b23" stroke="#8e0f14" stroke-width="1.15"/>
<line x1="149.10" x2="156.10" y1="177.80" y2="177.80" stroke="#a8141a" stroke-width="1"/>
<text transform="translate(156.50,172.50) rotate(-90)" font-size="8.4" fill="#8c8c8c">abcd</text>
<line x1="162.00" x2="162.00" y1="174.60" y2="179.30" stroke="#8e0f14" stroke-width="0.9"/>
<circle cx="162.88" cy="174.60" r="1.5" fill="#e31b23" stroke="#8e0f14" stroke-width="0.7"/>
<circle cx="161.24" cy="179.30" r="1.5" fill="#e31b23" stroke="#8e0f14" stroke-width="0.7"/>
<circle cx="160.62" cy="178.00" r="1.5" fill="#e31b23" stroke="#8e0f14" stroke-width="0.7"/>
<rect x="158.50" y="176.40" width="7.0" height="3.30" fill="#e31b23" stroke="#8e0f14" stroke-width="1.15"/>
<line x1="158.50" x2="165.50" y1="178.00" y2="178.00" stroke="#a8141a" stroke-width="1"/>
<text transform="translate(165.90,172.10) rotate(-90)" font-size="8.4" fill="#8c8c8c">abcd</text>
<line x1="171.40" x2="171.40" y1="187.10" y2="188.10" stroke="#8e0f14" stroke-width="0.9"/>
<circle cx="172.38" cy="187.10" r="1.5" fill="#e31b23" stroke="#8e0f14" stroke-width="0.7"/>
<circle cx="172.16" cy="188.10" r="1.5" fill="#e31b23" stroke="#8e0f14" stroke-width="0.7"/>
<circle cx="170.40" cy="187.50" r="1.5" fill="#e31b23" stroke="#8e0f14" stroke-width="0.7"/>
<rect x="167.90" y="186.70" width="7.0" height="1.80" fill="#e31b23" stroke="#8e0f14" stroke-width="1.15"/>
<line x1="167.90" x2="174.90" y1="187.50" y2="187.50" stroke="#a8141a" stroke-width="1"/>
<text transform="translate(175.30,183.90) rotate(-90)" font-size="8.4" fill="#8c8c8c">bcd</text>
<line x1="180.80" x2="180.80" y1="174.90" y2="179.30" stroke="#1d5e22" stroke-width="0.9"/>
<circle cx="180.06" cy="174.90" r="1.5" fill="#47ad4b" stroke="#1d5e22" stroke-width="0.7"/>
<circle cx="181.37" cy="179.30" r="1.5" fill="#47ad4b" stroke="#1d5e22" stroke-width="0.7"/>
<circle cx="182.56" cy="177.80" r="1.5" fill="#47ad4b" stroke="#1d5e22" stroke-width="0.7"/>
<rect x="177.30" y="176.00" width="7.0" height="3.70" fill="#47ad4b" stroke="#1d5e22" stroke-width="1.15"/>
<line x1="177.30" x2="184.30" y1="177.80" y2="177.80" stroke="#23702a" stroke-width="1"/>
<text transform="translate(184.70,172.40) rotate(-90)" font-size="8.4" fill="#8c8c8c">abcd</text>
<line x1="190.20" x2="190.20" y1="173.90" y2="183.60" stroke="#1d5e22" stroke-width="0.9"/>
<circle cx="189.47" cy="173.90" r="1.5" fill="#47ad4b" stroke="#1d5e22" stroke-width="0.7"/>
<circle cx="191.28" cy="183.60" r="1.5" fill="#47ad4b" stroke="#1d5e22" stroke-width="0.7"/>
<circle cx="191.73" cy="177.50" r="1.5" fill="#47ad4b" stroke="#1d5e22" stroke-width="0.7"/>
<rect x="186.70" y="175.30" width="7.0" height="5.80" fill="#47ad4b" stroke="#1d5e22" stroke-width="0.9"/>
<line x1="186.70" x2="193.70" y1="177.50" y2="177.50" stroke="#23702a" stroke-width="1"/>
<text transform="translate(194.10,171.40) rotate(-90)" font-size="8.4" fill="#8c8c8c">abcd</text>
<line x1="199.60" x2="199.60" y1="174.60" y2="182.60" stroke="#1d5e22" stroke-width="0.9"/>
<circle cx="199.85" cy="174.60" r="1.5" fill="#47ad4b" stroke="#1d5e22" stroke-width="0.7"/>
<circle cx="199.41" cy="182.60" r="1.5" fill="#47ad4b" stroke="#1d5e22" stroke-width="0.7"/>
<circle cx="198.02" cy="179.70" r="1.5" fill="#47ad4b" stroke="#1d5e22" stroke-width="0.7"/>
<rect x="196.10" y="177.40" width="7.0" height="5.60" fill="#47ad4b" stroke="#1d5e22" stroke-width="0.9"/>
<line x1="196.10" x2="203.10" y1="179.70" y2="179.70" stroke="#23702a" stroke-width="1"/>
<text transform="translate(203.50,172.10) rotate(-90)" font-size="8.4" fill="#8c8c8c">abcd</text>
<line x1="209.00" x2="209.00" y1="174.90" y2="182.10" stroke="#1d5e22" stroke-width="0.9"/>
<circle cx="207.89" cy="174.90" r="1.5" fill="#47ad4b" stroke="#1d5e22" stroke-width="0.7"/>
<circle cx="210.11" cy="182.10" r="1.5" fill="#47ad4b" stroke="#1d5e22" stroke-width="0.7"/>
<circle cx="207.95" cy="179.70" r="1.5" fill="#47ad4b" stroke="#1d5e22" stroke-width="0.7"/>
<rect x="205.50" y="178.30" width="7.0" height="4.20" fill="#47ad4b" stroke="#1d5e22" stroke-width="0.9"/>
<line x1="205.50" x2="212.50" y1="179.70" y2="179.70" stroke="#23702a" stroke-width="1"/>
<text transform="translate(212.90,172.40) rotate(-90)" font-size="8.4" fill="#8c8c8c">abcd</text>
<line x1="218.40" x2="218.40" y1="175.30" y2="188.50" stroke="#1d5e22" stroke-width="0.9"/>
<circle cx="218.89" cy="175.30" r="1.5" fill="#47ad4b" stroke="#1d5e22" stroke-width="0.7"/>
<circle cx="217.82" cy="188.50" r="1.5" fill="#47ad4b" stroke="#1d5e22" stroke-width="0.7"/>
<circle cx="219.69" cy="183.30" r="1.5" fill="#47ad4b" stroke="#1d5e22" stroke-width="0.7"/>
<rect x="214.90" y="180.10" width="7.0" height="6.30" fill="#47ad4b" stroke="#1d5e22" stroke-width="0.9"/>
<line x1="214.90" x2="221.90" y1="183.30" y2="183.30" stroke="#23702a" stroke-width="1"/>
<text transform="translate(222.30,172.80) rotate(-90)" font-size="8.4" fill="#8c8c8c">abcd</text>
<line x1="227.80" x2="227.80" y1="171.40" y2="181.10" stroke="#1d5e22" stroke-width="0.9"/>
<circle cx="228.03" cy="171.40" r="1.5" fill="#47ad4b" stroke="#1d5e22" stroke-width="0.7"/>
<circle cx="227.30" cy="181.10" r="1.5" fill="#47ad4b" stroke="#1d5e22" stroke-width="0.7"/>
<circle cx="226.50" cy="176.00" r="1.5" fill="#47ad4b" stroke="#1d5e22" stroke-width="0.7"/>
<rect x="224.30" y="173.90" width="7.0" height="4.10" fill="#47ad4b" stroke="#1d5e22" stroke-width="0.9"/>
<line x1="224.30" x2="231.30" y1="176.00" y2="176.00" stroke="#23702a" stroke-width="1"/>
<text transform="translate(231.70,168.90) rotate(-90)" font-size="8.4" fill="#8c8c8c">abcd</text>
<line x1="237.20" x2="237.20" y1="178.80" y2="188.00" stroke="#1d5e22" stroke-width="0.9"/>
<circle cx="237.73" cy="178.80" r="1.5" fill="#47ad4b" stroke="#1d5e22" stroke-width="0.7"/>
<circle cx="236.17" cy="188.00" r="1.5" fill="#47ad4b" stroke="#1d5e22" stroke-width="0.7"/>
<circle cx="236.11" cy="182.20" r="1.5" fill="#47ad4b" stroke="#1d5e22" stroke-width="0.7"/>
<rect x="233.70" y="180.10" width="7.0" height="4.90" fill="#47ad4b" stroke="#1d5e22" stroke-width="0.9"/>
<line x1="233.70" x2="240.70" y1="182.20" y2="182.20" stroke="#23702a" stroke-width="1"/>
<text transform="translate(241.10,176.30) rotate(-90)" font-size="8.4" fill="#8c8c8c">abcd</text>
<line x1="246.60" x2="246.60" y1="171.10" y2="183.30" stroke="#1d5e22" stroke-width="0.9"/>
<circle cx="246.74" cy="171.10" r="1.5" fill="#47ad4b" stroke="#1d5e22" stroke-width="0.7"/>
<circle cx="247.45" cy="183.30" r="1.5" fill="#47ad4b" stroke="#1d5e22" stroke-width="0.7"/>
<circle cx="247.06" cy="177.80" r="1.5" fill="#47ad4b" stroke="#1d5e22" stroke-width="0.7"/>
<rect x="243.10" y="175.30" width="7.0" height="5.50" fill="#47ad4b" stroke="#1d5e22" stroke-width="0.9"/>
<line x1="243.10" x2="250.10" y1="177.80" y2="177.80" stroke="#23702a" stroke-width="1"/>
<text transform="translate(250.50,168.60) rotate(-90)" font-size="8.4" fill="#8c8c8c">abcd</text>
<line x1="256.00" x2="256.00" y1="171.40" y2="177.00" stroke="#1d5e22" stroke-width="0.9"/>
<circle cx="255.47" cy="171.40" r="1.5" fill="#47ad4b" stroke="#1d5e22" stroke-width="0.7"/>
<circle cx="257.00" cy="177.00" r="1.5" fill="#47ad4b" stroke="#1d5e22" stroke-width="0.7"/>
<circle cx="254.82" cy="176.00" r="1.5" fill="#47ad4b" stroke="#1d5e22" stroke-width="0.7"/>
<rect x="252.50" y="174.20" width="7.0" height="3.20" fill="#47ad4b" stroke="#1d5e22" stroke-width="1.15"/>
<line x1="252.50" x2="259.50" y1="176.00" y2="176.00" stroke="#23702a" stroke-width="1"/>
<text transform="translate(259.90,168.90) rotate(-90)" font-size="8.4" fill="#8c8c8c">abc</text>
<line x1="265.40" x2="265.40" y1="179.20" y2="184.30" stroke="#1d5e22" stroke-width="0.9"/>
<circle cx="264.24" cy="179.20" r="1.5" fill="#47ad4b" stroke="#1d5e22" stroke-width="0.7"/>
<circle cx="264.85" cy="184.30" r="1.5" fill="#47ad4b" stroke="#1d5e22" stroke-width="0.7"/>
<circle cx="265.18" cy="180.50" r="1.5" fill="#47ad4b" stroke="#1d5e22" stroke-width="0.7"/>
<rect x="261.90" y="178.80" width="7.0" height="3.40" fill="#47ad4b" stroke="#1d5e22" stroke-width="1.15"/>
<line x1="261.90" x2="268.90" y1="180.50" y2="180.50" stroke="#23702a" stroke-width="1"/>
<text transform="translate(269.30,175.50) rotate(-90)" font-size="8.4" fill="#8c8c8c">abcd</text>
<line x1="274.80" x2="274.80" y1="188.50" y2="198.90" stroke="#1d5e22" stroke-width="0.9"/>
<circle cx="273.75" cy="188.50" r="1.5" fill="#47ad4b" stroke="#1d5e22" stroke-width="0.7"/>
<circle cx="274.02" cy="198.90" r="1.5" fill="#47ad4b" stroke="#1d5e22" stroke-width="0.7"/>
<circle cx="274.28" cy="193.00" r="1.5" fill="#47ad4b" stroke="#1d5e22" stroke-width="0.7"/>
<rect x="271.30" y="190.50" width="7.0" height="4.90" fill="#47ad4b" stroke="#1d5e22" stroke-width="0.9"/>
<line x1="271.30" x2="278.30" y1="193.00" y2="193.00" stroke="#23702a" stroke-width="1"/>
<text transform="translate(278.70,186.00) rotate(-90)" font-size="8.4" fill="#8c8c8c">d</text>
<line x1="284.20" x2="284.20" y1="176.70" y2="189.20" stroke="#1d5e22" stroke-width="0.9"/>
<circle cx="284.37" cy="176.70" r="1.5" fill="#47ad4b" stroke="#1d5e22" stroke-width="0.7"/>
<circle cx="283.32" cy="189.20" r="1.5" fill="#47ad4b" stroke="#1d5e22" stroke-width="0.7"/>
<circle cx="283.65" cy="181.10" r="1.5" fill="#47ad4b" stroke="#1d5e22" stroke-width="0.7"/>
<rect x="280.70" y="178.30" width="7.0" height="6.00" fill="#47ad4b" stroke="#1d5e22" stroke-width="0.9"/>
<line x1="280.70" x2="287.70" y1="181.10" y2="181.10" stroke="#23702a" stroke-width="1"/>
<text transform="translate(288.10,174.20) rotate(-90)" font-size="8.4" fill="#8c8c8c">abcd</text>
<line x1="293.60" x2="293.60" y1="185.60" y2="187.30" stroke="#1d5e22" stroke-width="0.9"/>
<circle cx="294.54" cy="185.60" r="1.5" fill="#47ad4b" stroke="#1d5e22" stroke-width="0.7"/>
<circle cx="294.75" cy="187.30" r="1.5" fill="#47ad4b" stroke="#1d5e22" stroke-width="0.7"/>
<circle cx="294.23" cy="186.50" r="1.5" fill="#47ad4b" stroke="#1d5e22" stroke-width="0.7"/>
<rect x="290.10" y="185.20" width="7.0" height="2.50" fill="#47ad4b" stroke="#1d5e22" stroke-width="1.15"/>
<line x1="290.10" x2="297.10" y1="186.50" y2="186.50" stroke="#23702a" stroke-width="1"/>
<text transform="translate(297.50,182.50) rotate(-90)" font-size="8.4" fill="#8c8c8c">bcd</text>
<line x1="303.00" x2="303.00" y1="179.60" y2="187.20" stroke="#1d5e22" stroke-width="0.9"/>
<circle cx="303.46" cy="179.60" r="1.5" fill="#47ad4b" stroke="#1d5e22" stroke-width="0.7"/>
<circle cx="303.20" cy="187.20" r="1.5" fill="#47ad4b" stroke="#1d5e22" stroke-width="0.7"/>
<circle cx="301.56" cy="183.10" r="1.5" fill="#47ad4b" stroke="#1d5e22" stroke-width="0.7"/>
<rect x="299.50" y="181.10" width="7.0" height="4.60" fill="#47ad4b" stroke="#1d5e22" stroke-width="0.9"/>
<line x1="299.50" x2="306.50" y1="183.10" y2="183.10" stroke="#23702a" stroke-width="1"/>
<text transform="translate(306.90,177.10) rotate(-90)" font-size="8.4" fill="#8c8c8c">abcd</text>
<line x1="312.40" x2="312.40" y1="177.00" y2="181.80" stroke="#1d5e22" stroke-width="0.9"/>
<circle cx="311.28" cy="177.00" r="1.5" fill="#47ad4b" stroke="#1d5e22" stroke-width="0.7"/>
<circle cx="311.24" cy="181.80" r="1.5" fill="#47ad4b" stroke="#1d5e22" stroke-width="0.7"/>
<circle cx="314.04" cy="180.00" r="1.5" fill="#47ad4b" stroke="#1d5e22" stroke-width="0.7"/>
<rect x="308.90" y="178.00" width="7.0" height="4.20" fill="#47ad4b" stroke="#1d5e22" stroke-width="0.9"/>
<line x1="308.90" x2="315.90" y1="180.00" y2="180.00" stroke="#23702a" stroke-width="1"/>
<text transform="translate(316.30,174.50) rotate(-90)" font-size="8.4" fill="#8c8c8c">abcd</text>
<line x1="321.80" x2="321.80" y1="171.90" y2="183.70" stroke="#1d5e22" stroke-width="0.9"/>
<circle cx="322.28" cy="171.90" r="1.5" fill="#47ad4b" stroke="#1d5e22" stroke-width="0.7"/>
<circle cx="322.91" cy="183.70" r="1.5" fill="#47ad4b" stroke="#1d5e22" stroke-width="0.7"/>
<circle cx="319.89" cy="177.60" r="1.5" fill="#47ad4b" stroke="#1d5e22" stroke-width="0.7"/>
<rect x="318.30" y="174.50" width="7.0" height="5.80" fill="#47ad4b" stroke="#1d5e22" stroke-width="0.9"/>
<line x1="318.30" x2="325.30" y1="177.60" y2="177.60" stroke="#23702a" stroke-width="1"/>
<text transform="translate(325.70,169.40) rotate(-90)" font-size="8.4" fill="#8c8c8c">abcd</text>
<line x1="331.20" x2="331.20" y1="179.60" y2="188.80" stroke="#1d5e22" stroke-width="0.9"/>
<circle cx="331.53" cy="179.60" r="1.5" fill="#47ad4b" stroke="#1d5e22" stroke-width="0.7"/>
<circle cx="331.16" cy="188.80" r="1.5" fill="#47ad4b" stroke="#1d5e22" stroke-width="0.7"/>
<circle cx="332.12" cy="184.20" r="1.5" fill="#47ad4b" stroke="#1d5e22" stroke-width="0.7"/>
<rect x="327.70" y="182.20" width="7.0" height="4.30" fill="#47ad4b" stroke="#1d5e22" stroke-width="0.9"/>
<line x1="327.70" x2="334.70" y1="184.20" y2="184.20" stroke="#23702a" stroke-width="1"/>
<text transform="translate(335.10,177.10) rotate(-90)" font-size="8.4" fill="#8c8c8c">abcd</text>
<line x1="340.60" x2="340.60" y1="185.70" y2="190.30" stroke="#1d5e22" stroke-width="0.9"/>
<circle cx="340.17" cy="185.70" r="1.5" fill="#47ad4b" stroke="#1d5e22" stroke-width="0.7"/>
<circle cx="341.80" cy="190.30" r="1.5" fill="#47ad4b" stroke="#1d5e22" stroke-width="0.7"/>
<circle cx="338.90" cy="187.70" r="1.5" fill="#47ad4b" stroke="#1d5e22" stroke-width="0.7"/>
<rect x="337.10" y="186.80" width="7.0" height="2.00" fill="#47ad4b" stroke="#1d5e22" stroke-width="1.15"/>
<line x1="337.10" x2="344.10" y1="187.70" y2="187.70" stroke="#23702a" stroke-width="1"/>
<text transform="translate(344.50,183.20) rotate(-90)" font-size="8.4" fill="#8c8c8c">cd</text>
<line x1="350.00" x2="350.00" y1="178.00" y2="183.80" stroke="#1d5e22" stroke-width="0.9"/>
<circle cx="350.11" cy="178.00" r="1.5" fill="#47ad4b" stroke="#1d5e22" stroke-width="0.7"/>
<circle cx="350.57" cy="183.80" r="1.5" fill="#47ad4b" stroke="#1d5e22" stroke-width="0.7"/>
<circle cx="351.60" cy="182.20" r="1.5" fill="#47ad4b" stroke="#1d5e22" stroke-width="0.7"/>
<rect x="346.50" y="180.30" width="7.0" height="3.90" fill="#47ad4b" stroke="#1d5e22" stroke-width="1.15"/>
<line x1="346.50" x2="353.50" y1="182.20" y2="182.20" stroke="#23702a" stroke-width="1"/>
<text transform="translate(353.90,175.50) rotate(-90)" font-size="8.4" fill="#8c8c8c">abcd</text>
<line x1="359.40" x2="359.40" y1="179.10" y2="185.50" stroke="#1d5e22" stroke-width="0.9"/>
<circle cx="359.97" cy="179.10" r="1.5" fill="#47ad4b" stroke="#1d5e22" stroke-width="0.7"/>
<circle cx="359.89" cy="185.50" r="1.5" fill="#47ad4b" stroke="#1d5e22" stroke-width="0.7"/>
<circle cx="360.57" cy="182.20" r="1.5" fill="#47ad4b" stroke="#1d5e22" stroke-width="0.7"/>
<rect x="355.90" y="180.30" width="7.0" height="3.90" fill="#47ad4b" stroke="#1d5e22" stroke-width="1.15"/>
<line x1="355.90" x2="362.90" y1="182.20" y2="182.20" stroke="#23702a" stroke-width="1"/>
<text transform="translate(363.30,176.60) rotate(-90)" font-size="8.4" fill="#8c8c8c">abcd</text>
<line x1="368.80" x2="368.80" y1="182.60" y2="192.60" stroke="#1d5e22" stroke-width="0.9"/>
<circle cx="369.80" cy="182.60" r="1.5" fill="#47ad4b" stroke="#1d5e22" stroke-width="0.7"/>
<circle cx="368.44" cy="192.60" r="1.5" fill="#47ad4b" stroke="#1d5e22" stroke-width="0.7"/>
<circle cx="369.54" cy="186.10" r="1.5" fill="#47ad4b" stroke="#1d5e22" stroke-width="0.7"/>
<rect x="365.30" y="184.20" width="7.0" height="4.60" fill="#47ad4b" stroke="#1d5e22" stroke-width="0.9"/>
<line x1="365.30" x2="372.30" y1="186.10" y2="186.10" stroke="#23702a" stroke-width="1"/>
<text transform="translate(372.70,180.10) rotate(-90)" font-size="8.4" fill="#8c8c8c">bcd</text>
<line x1="378.20" x2="378.20" y1="173.50" y2="175.00" stroke="#1d5e22" stroke-width="0.9"/>
<circle cx="379.16" cy="173.50" r="1.5" fill="#47ad4b" stroke="#1d5e22" stroke-width="0.7"/>
<circle cx="379.09" cy="175.00" r="1.5" fill="#47ad4b" stroke="#1d5e22" stroke-width="0.7"/>
<circle cx="377.87" cy="174.20" r="1.5" fill="#47ad4b" stroke="#1d5e22" stroke-width="0.7"/>
<rect x="374.70" y="173.10" width="7.0" height="2.30" fill="#47ad4b" stroke="#1d5e22" stroke-width="1.15"/>
<line x1="374.70" x2="381.70" y1="174.20" y2="174.20" stroke="#23702a" stroke-width="1"/>
<text transform="translate(382.10,170.20) rotate(-90)" font-size="8.4" fill="#8c8c8c">ab</text>
<line x1="387.60" x2="387.60" y1="178.40" y2="182.60" stroke="#1d5e22" stroke-width="0.9"/>
<circle cx="388.30" cy="178.40" r="1.5" fill="#47ad4b" stroke="#1d5e22" stroke-width="0.7"/>
<circle cx="388.47" cy="182.60" r="1.5" fill="#47ad4b" stroke="#1d5e22" stroke-width="0.7"/>
<circle cx="387.89" cy="179.20" r="1.5" fill="#47ad4b" stroke="#1d5e22" stroke-width="0.7"/>
<rect x="384.10" y="178.00" width="7.0" height="3.10" fill="#47ad4b" stroke="#1d5e22" stroke-width="1.15"/>
<line x1="384.10" x2="391.10" y1="179.20" y2="179.20" stroke="#23702a" stroke-width="1"/>
<text transform="translate(391.50,175.10) rotate(-90)" font-size="8.4" fill="#8c8c8c">abcd</text>
</g>
<g clip-path="url(#cpRFF)">
<line x1="405.70" x2="405.70" y1="87.90" y2="89.20" stroke="#8e0f14" stroke-width="0.9"/>
<circle cx="406.00" cy="87.90" r="1.5" fill="#e31b23" stroke="#8e0f14" stroke-width="0.7"/>
<circle cx="405.42" cy="89.20" r="1.5" fill="#e31b23" stroke="#8e0f14" stroke-width="0.7"/>
<circle cx="406.03" cy="88.60" r="1.5" fill="#e31b23" stroke="#8e0f14" stroke-width="0.7"/>
<rect x="402.20" y="87.50" width="7.0" height="2.10" fill="#e31b23" stroke="#8e0f14" stroke-width="1.15"/>
<line x1="402.20" x2="409.20" y1="88.60" y2="88.60" stroke="#a8141a" stroke-width="1"/>
<text transform="translate(409.60,85.00) rotate(-90)" font-size="8.4" fill="#8c8c8c">abc</text>
<line x1="415.10" x2="415.10" y1="82.60" y2="91.60" stroke="#8e0f14" stroke-width="0.9"/>
<circle cx="415.36" cy="82.60" r="1.5" fill="#e31b23" stroke="#8e0f14" stroke-width="0.7"/>
<circle cx="414.09" cy="91.60" r="1.5" fill="#e31b23" stroke="#8e0f14" stroke-width="0.7"/>
<circle cx="415.66" cy="87.50" r="1.5" fill="#e31b23" stroke="#8e0f14" stroke-width="0.7"/>
<rect x="411.60" y="85.40" width="7.0" height="4.90" fill="#e31b23" stroke="#8e0f14" stroke-width="0.9"/>
<line x1="411.60" x2="418.60" y1="87.50" y2="87.50" stroke="#a8141a" stroke-width="1"/>
<text transform="translate(419.00,80.80) rotate(-90)" font-size="8.4" fill="#8c8c8c">abc</text>
<line x1="424.50" x2="424.50" y1="76.10" y2="97.20" stroke="#8e0f14" stroke-width="0.9"/>
<circle cx="425.68" cy="76.10" r="1.5" fill="#e31b23" stroke="#8e0f14" stroke-width="0.7"/>
<circle cx="425.41" cy="97.20" r="1.5" fill="#e31b23" stroke="#8e0f14" stroke-width="0.7"/>
<circle cx="425.41" cy="84.00" r="1.5" fill="#e31b23" stroke="#8e0f14" stroke-width="0.7"/>
<rect x="421.00" y="79.80" width="7.0" height="11.10" fill="#e31b23" stroke="#8e0f14" stroke-width="0.9"/>
<line x1="421.00" x2="428.00" y1="84.00" y2="84.00" stroke="#a8141a" stroke-width="1"/>
<text transform="translate(428.40,74.30) rotate(-90)" font-size="8.4" fill="#8c8c8c">abc</text>
<line x1="433.90" x2="433.90" y1="86.80" y2="93.00" stroke="#8e0f14" stroke-width="0.9"/>
<circle cx="433.63" cy="86.80" r="1.5" fill="#e31b23" stroke="#8e0f14" stroke-width="0.7"/>
<circle cx="434.46" cy="93.00" r="1.5" fill="#e31b23" stroke="#8e0f14" stroke-width="0.7"/>
<circle cx="434.22" cy="89.60" r="1.5" fill="#e31b23" stroke="#8e0f14" stroke-width="0.7"/>
<rect x="430.40" y="88.20" width="7.0" height="3.20" fill="#e31b23" stroke="#8e0f14" stroke-width="1.15"/>
<line x1="430.40" x2="437.40" y1="89.60" y2="89.60" stroke="#a8141a" stroke-width="1"/>
<text transform="translate(437.80,85.00) rotate(-90)" font-size="8.4" fill="#8c8c8c">abc</text>
<line x1="443.30" x2="443.30" y1="92.30" y2="95.80" stroke="#8e0f14" stroke-width="0.9"/>
<circle cx="443.16" cy="92.30" r="1.5" fill="#e31b23" stroke="#8e0f14" stroke-width="0.7"/>
<circle cx="444.11" cy="95.80" r="1.5" fill="#e31b23" stroke="#8e0f14" stroke-width="0.7"/>
<circle cx="441.64" cy="93.30" r="1.5" fill="#e31b23" stroke="#8e0f14" stroke-width="0.7"/>
<rect x="439.80" y="91.90" width="7.0" height="2.80" fill="#e31b23" stroke="#8e0f14" stroke-width="1.15"/>
<line x1="439.80" x2="446.80" y1="93.30" y2="93.30" stroke="#a8141a" stroke-width="1"/>
<text transform="translate(447.20,89.20) rotate(-90)" font-size="8.4" fill="#8c8c8c">abc</text>
<line x1="452.70" x2="452.70" y1="82.60" y2="93.70" stroke="#8e0f14" stroke-width="0.9"/>
<circle cx="453.30" cy="82.60" r="1.5" fill="#e31b23" stroke="#8e0f14" stroke-width="0.7"/>
<circle cx="451.57" cy="93.70" r="1.5" fill="#e31b23" stroke="#8e0f14" stroke-width="0.7"/>
<circle cx="453.11" cy="89.10" r="1.5" fill="#e31b23" stroke="#8e0f14" stroke-width="0.7"/>
<rect x="449.20" y="86.80" width="7.0" height="5.10" fill="#e31b23" stroke="#8e0f14" stroke-width="0.9"/>
<line x1="449.20" x2="456.20" y1="89.10" y2="89.10" stroke="#a8141a" stroke-width="1"/>
<text transform="translate(456.60,80.80) rotate(-90)" font-size="8.4" fill="#8c8c8c">abc</text>
<line x1="462.10" x2="462.10" y1="80.80" y2="80.80" stroke="#8e0f14" stroke-width="0.9"/>
<circle cx="462.05" cy="80.80" r="1.5" fill="#e31b23" stroke="#8e0f14" stroke-width="0.7"/>
<circle cx="461.45" cy="80.80" r="1.5" fill="#e31b23" stroke="#8e0f14" stroke-width="0.7"/>
<circle cx="462.89" cy="80.80" r="1.5" fill="#e31b23" stroke="#8e0f14" stroke-width="0.7"/>
<rect x="458.60" y="80.50" width="7.0" height="0.60" fill="#e31b23" stroke="#8e0f14" stroke-width="1.15"/>
<line x1="458.60" x2="465.60" y1="80.80" y2="80.80" stroke="#a8141a" stroke-width="1"/>
<text transform="translate(466.00,79.00) rotate(-90)" font-size="8.4" fill="#8c8c8c">abc</text>
<line x1="471.50" x2="471.50" y1="91.00" y2="96.80" stroke="#1d5e22" stroke-width="0.9"/>
<circle cx="471.49" cy="91.00" r="1.5" fill="#47ad4b" stroke="#1d5e22" stroke-width="0.7"/>
<circle cx="471.77" cy="96.80" r="1.5" fill="#47ad4b" stroke="#1d5e22" stroke-width="0.7"/>
<circle cx="473.18" cy="95.10" r="1.5" fill="#47ad4b" stroke="#1d5e22" stroke-width="0.7"/>
<rect x="468.00" y="93.70" width="7.0" height="3.50" fill="#47ad4b" stroke="#1d5e22" stroke-width="1.15"/>
<line x1="468.00" x2="475.00" y1="95.10" y2="95.10" stroke="#23702a" stroke-width="1"/>
<text transform="translate(475.40,89.20) rotate(-90)" font-size="8.4" fill="#8c8c8c">abc</text>
<line x1="480.90" x2="480.90" y1="98.30" y2="118.00" stroke="#1d5e22" stroke-width="0.9"/>
<circle cx="480.31" cy="98.30" r="1.5" fill="#47ad4b" stroke="#1d5e22" stroke-width="0.7"/>
<circle cx="479.73" cy="118.00" r="1.5" fill="#47ad4b" stroke="#1d5e22" stroke-width="0.7"/>
<circle cx="480.10" cy="106.20" r="1.5" fill="#47ad4b" stroke="#1d5e22" stroke-width="0.7"/>
<rect x="477.40" y="102.50" width="7.0" height="9.90" fill="#47ad4b" stroke="#1d5e22" stroke-width="0.9"/>
<line x1="477.40" x2="484.40" y1="106.20" y2="106.20" stroke="#23702a" stroke-width="1"/>
<text transform="translate(484.80,96.50) rotate(-90)" font-size="8.4" fill="#8c8c8c">c</text>
<line x1="490.30" x2="490.30" y1="109.00" y2="116.90" stroke="#1d5e22" stroke-width="0.9"/>
<circle cx="490.73" cy="109.00" r="1.5" fill="#47ad4b" stroke="#1d5e22" stroke-width="0.7"/>
<circle cx="489.59" cy="116.90" r="1.5" fill="#47ad4b" stroke="#1d5e22" stroke-width="0.7"/>
<circle cx="488.98" cy="113.60" r="1.5" fill="#47ad4b" stroke="#1d5e22" stroke-width="0.7"/>
<rect x="486.80" y="111.00" width="7.0" height="4.90" fill="#47ad4b" stroke="#1d5e22" stroke-width="0.9"/>
<line x1="486.80" x2="493.80" y1="113.60" y2="113.60" stroke="#23702a" stroke-width="1"/>
<text transform="translate(494.20,107.20) rotate(-90)" font-size="8.4" fill="#8c8c8c">c</text>
<line x1="499.70" x2="499.70" y1="79.90" y2="108.00" stroke="#1d5e22" stroke-width="0.9"/>
<circle cx="500.67" cy="79.90" r="1.5" fill="#47ad4b" stroke="#1d5e22" stroke-width="0.7"/>
<circle cx="500.08" cy="108.00" r="1.5" fill="#47ad4b" stroke="#1d5e22" stroke-width="0.7"/>
<circle cx="499.47" cy="103.80" r="1.5" fill="#47ad4b" stroke="#1d5e22" stroke-width="0.7"/>
<rect x="496.20" y="91.60" width="7.0" height="14.60" fill="#47ad4b" stroke="#1d5e22" stroke-width="0.9"/>
<line x1="496.20" x2="503.20" y1="103.80" y2="103.80" stroke="#23702a" stroke-width="1"/>
<text transform="translate(503.60,78.10) rotate(-90)" font-size="8.4" fill="#8c8c8c">abc</text>
<line x1="509.10" x2="509.10" y1="66.40" y2="115.00" stroke="#1d5e22" stroke-width="0.9"/>
<circle cx="510.04" cy="66.40" r="1.5" fill="#47ad4b" stroke="#1d5e22" stroke-width="0.7"/>
<circle cx="508.68" cy="115.00" r="1.5" fill="#47ad4b" stroke="#1d5e22" stroke-width="0.7"/>
<circle cx="509.76" cy="80.30" r="1.5" fill="#47ad4b" stroke="#1d5e22" stroke-width="0.7"/>
<rect x="505.60" y="73.60" width="7.0" height="23.60" fill="#47ad4b" stroke="#1d5e22" stroke-width="0.9"/>
<line x1="505.60" x2="512.60" y1="80.30" y2="80.30" stroke="#23702a" stroke-width="1"/>
<text transform="translate(513.00,64.60) rotate(-90)" font-size="8.4" fill="#8c8c8c">abc</text>
<line x1="518.50" x2="518.50" y1="72.90" y2="93.30" stroke="#1d5e22" stroke-width="0.9"/>
<circle cx="517.78" cy="72.90" r="1.5" fill="#47ad4b" stroke="#1d5e22" stroke-width="0.7"/>
<circle cx="518.33" cy="93.30" r="1.5" fill="#47ad4b" stroke="#1d5e22" stroke-width="0.7"/>
<circle cx="519.72" cy="79.20" r="1.5" fill="#47ad4b" stroke="#1d5e22" stroke-width="0.7"/>
<rect x="515.00" y="76.10" width="7.0" height="10.00" fill="#47ad4b" stroke="#1d5e22" stroke-width="0.9"/>
<line x1="515.00" x2="522.00" y1="79.20" y2="79.20" stroke="#23702a" stroke-width="1"/>
<text transform="translate(522.40,71.10) rotate(-90)" font-size="8.4" fill="#8c8c8c">abc</text>
<line x1="527.90" x2="527.90" y1="73.30" y2="91.90" stroke="#1d5e22" stroke-width="0.9"/>
<circle cx="528.89" cy="73.30" r="1.5" fill="#47ad4b" stroke="#1d5e22" stroke-width="0.7"/>
<circle cx="528.81" cy="91.90" r="1.5" fill="#47ad4b" stroke="#1d5e22" stroke-width="0.7"/>
<circle cx="527.44" cy="77.10" r="1.5" fill="#47ad4b" stroke="#1d5e22" stroke-width="0.7"/>
<rect x="524.40" y="75.70" width="7.0" height="9.70" fill="#47ad4b" stroke="#1d5e22" stroke-width="0.9"/>
<line x1="524.40" x2="531.40" y1="77.10" y2="77.10" stroke="#23702a" stroke-width="1"/>
<text transform="translate(531.80,71.50) rotate(-90)" font-size="8.4" fill="#8c8c8c">abc</text>
<line x1="537.30" x2="537.30" y1="73.30" y2="90.30" stroke="#1d5e22" stroke-width="0.9"/>
<circle cx="537.50" cy="73.30" r="1.5" fill="#47ad4b" stroke="#1d5e22" stroke-width="0.7"/>
<circle cx="536.86" cy="90.30" r="1.5" fill="#47ad4b" stroke="#1d5e22" stroke-width="0.7"/>
<circle cx="535.84" cy="86.80" r="1.5" fill="#47ad4b" stroke="#1d5e22" stroke-width="0.7"/>
<rect x="533.80" y="80.50" width="7.0" height="7.70" fill="#47ad4b" stroke="#1d5e22" stroke-width="0.9"/>
<line x1="533.80" x2="540.80" y1="86.80" y2="86.80" stroke="#23702a" stroke-width="1"/>
<text transform="translate(541.20,71.50) rotate(-90)" font-size="8.4" fill="#8c8c8c">abc</text>
<line x1="546.70" x2="546.70" y1="76.70" y2="88.90" stroke="#1d5e22" stroke-width="0.9"/>
<circle cx="546.69" cy="76.70" r="1.5" fill="#47ad4b" stroke="#1d5e22" stroke-width="0.7"/>
<circle cx="547.51" cy="88.90" r="1.5" fill="#47ad4b" stroke="#1d5e22" stroke-width="0.7"/>
<circle cx="548.09" cy="84.40" r="1.5" fill="#47ad4b" stroke="#1d5e22" stroke-width="0.7"/>
<rect x="543.20" y="81.20" width="7.0" height="6.30" fill="#47ad4b" stroke="#1d5e22" stroke-width="0.9"/>
<line x1="543.20" x2="550.20" y1="84.40" y2="84.40" stroke="#23702a" stroke-width="1"/>
<text transform="translate(550.60,74.90) rotate(-90)" font-size="8.4" fill="#8c8c8c">abc</text>
<line x1="556.10" x2="556.10" y1="72.20" y2="83.60" stroke="#1d5e22" stroke-width="0.9"/>
<circle cx="556.61" cy="72.20" r="1.5" fill="#47ad4b" stroke="#1d5e22" stroke-width="0.7"/>
<circle cx="557.18" cy="83.60" r="1.5" fill="#47ad4b" stroke="#1d5e22" stroke-width="0.7"/>
<circle cx="555.21" cy="77.10" r="1.5" fill="#47ad4b" stroke="#1d5e22" stroke-width="0.7"/>
<rect x="552.60" y="74.70" width="7.0" height="5.20" fill="#47ad4b" stroke="#1d5e22" stroke-width="0.9"/>
<line x1="552.60" x2="559.60" y1="77.10" y2="77.10" stroke="#23702a" stroke-width="1"/>
<text transform="translate(560.00,70.40) rotate(-90)" font-size="8.4" fill="#8c8c8c">ab</text>
<line x1="565.50" x2="565.50" y1="59.70" y2="88.20" stroke="#1d5e22" stroke-width="0.9"/>
<circle cx="564.71" cy="59.70" r="1.5" fill="#47ad4b" stroke="#1d5e22" stroke-width="0.7"/>
<circle cx="565.38" cy="88.20" r="1.5" fill="#47ad4b" stroke="#1d5e22" stroke-width="0.7"/>
<circle cx="564.60" cy="67.40" r="1.5" fill="#47ad4b" stroke="#1d5e22" stroke-width="0.7"/>
<rect x="562.00" y="63.60" width="7.0" height="13.90" fill="#47ad4b" stroke="#1d5e22" stroke-width="0.9"/>
<line x1="562.00" x2="569.00" y1="67.40" y2="67.40" stroke="#23702a" stroke-width="1"/>
<text transform="translate(569.40,57.90) rotate(-90)" font-size="8.4" fill="#8c8c8c">ab</text>
<line x1="574.90" x2="574.90" y1="79.80" y2="93.00" stroke="#1d5e22" stroke-width="0.9"/>
<circle cx="574.21" cy="79.80" r="1.5" fill="#47ad4b" stroke="#1d5e22" stroke-width="0.7"/>
<circle cx="574.69" cy="93.00" r="1.5" fill="#47ad4b" stroke="#1d5e22" stroke-width="0.7"/>
<circle cx="575.40" cy="80.50" r="1.5" fill="#47ad4b" stroke="#1d5e22" stroke-width="0.7"/>
<rect x="571.40" y="79.40" width="7.0" height="7.00" fill="#47ad4b" stroke="#1d5e22" stroke-width="0.9"/>
<line x1="571.40" x2="578.40" y1="80.50" y2="80.50" stroke="#23702a" stroke-width="1"/>
<text transform="translate(578.80,76.70) rotate(-90)" font-size="8.4" fill="#8c8c8c">abc</text>
<line x1="584.30" x2="584.30" y1="81.40" y2="94.10" stroke="#1d5e22" stroke-width="0.9"/>
<circle cx="584.29" cy="81.40" r="1.5" fill="#47ad4b" stroke="#1d5e22" stroke-width="0.7"/>
<circle cx="583.86" cy="94.10" r="1.5" fill="#47ad4b" stroke="#1d5e22" stroke-width="0.7"/>
<circle cx="585.66" cy="88.00" r="1.5" fill="#47ad4b" stroke="#1d5e22" stroke-width="0.7"/>
<rect x="580.80" y="84.90" width="7.0" height="6.10" fill="#47ad4b" stroke="#1d5e22" stroke-width="0.9"/>
<line x1="580.80" x2="587.80" y1="88.00" y2="88.00" stroke="#23702a" stroke-width="1"/>
<text transform="translate(588.20,79.60) rotate(-90)" font-size="8.4" fill="#8c8c8c">abc</text>
<line x1="593.70" x2="593.70" y1="75.70" y2="86.00" stroke="#1d5e22" stroke-width="0.9"/>
<circle cx="594.86" cy="75.70" r="1.5" fill="#47ad4b" stroke="#1d5e22" stroke-width="0.7"/>
<circle cx="593.59" cy="86.00" r="1.5" fill="#47ad4b" stroke="#1d5e22" stroke-width="0.7"/>
<circle cx="592.00" cy="83.30" r="1.5" fill="#47ad4b" stroke="#1d5e22" stroke-width="0.7"/>
<rect x="590.20" y="80.30" width="7.0" height="6.10" fill="#47ad4b" stroke="#1d5e22" stroke-width="0.9"/>
<line x1="590.20" x2="597.20" y1="83.30" y2="83.30" stroke="#23702a" stroke-width="1"/>
<text transform="translate(597.60,73.90) rotate(-90)" font-size="8.4" fill="#8c8c8c">abc</text>
<line x1="603.10" x2="603.10" y1="91.50" y2="101.30" stroke="#1d5e22" stroke-width="0.9"/>
<circle cx="601.98" cy="91.50" r="1.5" fill="#47ad4b" stroke="#1d5e22" stroke-width="0.7"/>
<circle cx="603.99" cy="101.30" r="1.5" fill="#47ad4b" stroke="#1d5e22" stroke-width="0.7"/>
<circle cx="601.27" cy="98.70" r="1.5" fill="#47ad4b" stroke="#1d5e22" stroke-width="0.7"/>
<rect x="599.60" y="96.10" width="7.0" height="5.60" fill="#47ad4b" stroke="#1d5e22" stroke-width="0.9"/>
<line x1="599.60" x2="606.60" y1="98.70" y2="98.70" stroke="#23702a" stroke-width="1"/>
<text transform="translate(607.00,89.70) rotate(-90)" font-size="8.4" fill="#8c8c8c">abc</text>
<line x1="612.50" x2="612.50" y1="97.90" y2="107.40" stroke="#1d5e22" stroke-width="0.9"/>
<circle cx="613.00" cy="97.90" r="1.5" fill="#47ad4b" stroke="#1d5e22" stroke-width="0.7"/>
<circle cx="612.67" cy="107.40" r="1.5" fill="#47ad4b" stroke="#1d5e22" stroke-width="0.7"/>
<circle cx="611.74" cy="103.30" r="1.5" fill="#47ad4b" stroke="#1d5e22" stroke-width="0.7"/>
<rect x="609.00" y="101.30" width="7.0" height="4.00" fill="#47ad4b" stroke="#1d5e22" stroke-width="0.9"/>
<line x1="609.00" x2="616.00" y1="103.30" y2="103.30" stroke="#23702a" stroke-width="1"/>
<text transform="translate(616.40,96.10) rotate(-90)" font-size="8.4" fill="#8c8c8c">bc</text>
<line x1="621.90" x2="621.90" y1="73.40" y2="77.60" stroke="#1d5e22" stroke-width="0.9"/>
<circle cx="622.60" cy="73.40" r="1.5" fill="#47ad4b" stroke="#1d5e22" stroke-width="0.7"/>
<circle cx="620.75" cy="77.60" r="1.5" fill="#47ad4b" stroke="#1d5e22" stroke-width="0.7"/>
<circle cx="620.44" cy="76.50" r="1.5" fill="#47ad4b" stroke="#1d5e22" stroke-width="0.7"/>
<rect x="618.40" y="74.90" width="7.0" height="3.10" fill="#47ad4b" stroke="#1d5e22" stroke-width="1.15"/>
<line x1="618.40" x2="625.40" y1="76.50" y2="76.50" stroke="#23702a" stroke-width="1"/>
<text transform="translate(625.80,71.60) rotate(-90)" font-size="8.4" fill="#8c8c8c">a</text>
<line x1="631.30" x2="631.30" y1="94.10" y2="102.80" stroke="#1d5e22" stroke-width="0.9"/>
<circle cx="631.19" cy="94.10" r="1.5" fill="#47ad4b" stroke="#1d5e22" stroke-width="0.7"/>
<circle cx="630.16" cy="102.80" r="1.5" fill="#47ad4b" stroke="#1d5e22" stroke-width="0.7"/>
<circle cx="632.62" cy="97.60" r="1.5" fill="#47ad4b" stroke="#1d5e22" stroke-width="0.7"/>
<rect x="627.80" y="95.60" width="7.0" height="3.80" fill="#47ad4b" stroke="#1d5e22" stroke-width="1.15"/>
<line x1="627.80" x2="634.80" y1="97.60" y2="97.60" stroke="#23702a" stroke-width="1"/>
<text transform="translate(635.20,92.30) rotate(-90)" font-size="8.4" fill="#8c8c8c">abc</text>
<line x1="640.70" x2="640.70" y1="98.30" y2="101.30" stroke="#1d5e22" stroke-width="0.9"/>
<circle cx="640.07" cy="98.30" r="1.5" fill="#47ad4b" stroke="#1d5e22" stroke-width="0.7"/>
<circle cx="639.84" cy="101.30" r="1.5" fill="#47ad4b" stroke="#1d5e22" stroke-width="0.7"/>
<circle cx="638.89" cy="99.80" r="1.5" fill="#47ad4b" stroke="#1d5e22" stroke-width="0.7"/>
<rect x="637.20" y="97.90" width="7.0" height="3.80" fill="#47ad4b" stroke="#1d5e22" stroke-width="1.15"/>
<line x1="637.20" x2="644.20" y1="99.80" y2="99.80" stroke="#23702a" stroke-width="1"/>
<text transform="translate(644.60,95.30) rotate(-90)" font-size="8.4" fill="#8c8c8c">abc</text>
<line x1="650.10" x2="650.10" y1="82.30" y2="94.10" stroke="#1d5e22" stroke-width="0.9"/>
<circle cx="650.41" cy="82.30" r="1.5" fill="#47ad4b" stroke="#1d5e22" stroke-width="0.7"/>
<circle cx="649.97" cy="94.10" r="1.5" fill="#47ad4b" stroke="#1d5e22" stroke-width="0.7"/>
<circle cx="650.62" cy="86.90" r="1.5" fill="#47ad4b" stroke="#1d5e22" stroke-width="0.7"/>
<rect x="646.60" y="84.90" width="7.0" height="4.60" fill="#47ad4b" stroke="#1d5e22" stroke-width="0.9"/>
<line x1="646.60" x2="653.60" y1="86.90" y2="86.90" stroke="#23702a" stroke-width="1"/>
<text transform="translate(654.00,80.50) rotate(-90)" font-size="8.4" fill="#8c8c8c">abc</text>
<line x1="659.50" x2="659.50" y1="79.50" y2="93.30" stroke="#1d5e22" stroke-width="0.9"/>
<circle cx="659.87" cy="79.50" r="1.5" fill="#47ad4b" stroke="#1d5e22" stroke-width="0.7"/>
<circle cx="660.24" cy="93.30" r="1.5" fill="#47ad4b" stroke="#1d5e22" stroke-width="0.7"/>
<circle cx="661.33" cy="88.00" r="1.5" fill="#47ad4b" stroke="#1d5e22" stroke-width="0.7"/>
<rect x="656.00" y="84.40" width="7.0" height="6.20" fill="#47ad4b" stroke="#1d5e22" stroke-width="0.9"/>
<line x1="656.00" x2="663.00" y1="88.00" y2="88.00" stroke="#23702a" stroke-width="1"/>
<text transform="translate(663.40,77.70) rotate(-90)" font-size="8.4" fill="#8c8c8c">abc</text>
<line x1="668.90" x2="668.90" y1="80.70" y2="97.90" stroke="#1d5e22" stroke-width="0.9"/>
<circle cx="669.34" cy="80.70" r="1.5" fill="#47ad4b" stroke="#1d5e22" stroke-width="0.7"/>
<circle cx="668.18" cy="97.90" r="1.5" fill="#47ad4b" stroke="#1d5e22" stroke-width="0.7"/>
<circle cx="668.80" cy="89.50" r="1.5" fill="#47ad4b" stroke="#1d5e22" stroke-width="0.7"/>
<rect x="665.40" y="87.50" width="7.0" height="8.10" fill="#47ad4b" stroke="#1d5e22" stroke-width="0.9"/>
<line x1="665.40" x2="672.40" y1="89.50" y2="89.50" stroke="#23702a" stroke-width="1"/>
<text transform="translate(672.80,78.90) rotate(-90)" font-size="8.4" fill="#8c8c8c">abc</text>
<line x1="678.30" x2="678.30" y1="84.10" y2="97.10" stroke="#1d5e22" stroke-width="0.9"/>
<circle cx="677.53" cy="84.10" r="1.5" fill="#47ad4b" stroke="#1d5e22" stroke-width="0.7"/>
<circle cx="677.13" cy="97.10" r="1.5" fill="#47ad4b" stroke="#1d5e22" stroke-width="0.7"/>
<circle cx="678.19" cy="88.70" r="1.5" fill="#47ad4b" stroke="#1d5e22" stroke-width="0.7"/>
<rect x="674.80" y="86.40" width="7.0" height="5.40" fill="#47ad4b" stroke="#1d5e22" stroke-width="0.9"/>
<line x1="674.80" x2="681.80" y1="88.70" y2="88.70" stroke="#23702a" stroke-width="1"/>
<text transform="translate(682.20,82.30) rotate(-90)" font-size="8.4" fill="#8c8c8c">abc</text>
</g>
<g clip-path="url(#cpRSF)">
<line x1="405.70" x2="405.70" y1="228.50" y2="231.20" stroke="#8e0f14" stroke-width="0.9"/>
<circle cx="406.21" cy="228.50" r="1.5" fill="#e31b23" stroke="#8e0f14" stroke-width="0.7"/>
<circle cx="404.93" cy="231.20" r="1.5" fill="#e31b23" stroke="#8e0f14" stroke-width="0.7"/>
<circle cx="404.79" cy="230.00" r="1.5" fill="#e31b23" stroke="#8e0f14" stroke-width="0.7"/>
<rect x="402.20" y="228.10" width="7.0" height="3.50" fill="#e31b23" stroke="#8e0f14" stroke-width="1.15"/>
<line x1="402.20" x2="409.20" y1="230.00" y2="230.00" stroke="#a8141a" stroke-width="1"/>
<text transform="translate(409.60,227.40) rotate(-90)" font-size="8.4" fill="#8c8c8c">g</text>
<line x1="415.10" x2="415.10" y1="229.00" y2="231.50" stroke="#8e0f14" stroke-width="0.9"/>
<circle cx="414.73" cy="229.00" r="1.5" fill="#e31b23" stroke="#8e0f14" stroke-width="0.7"/>
<circle cx="415.57" cy="231.50" r="1.5" fill="#e31b23" stroke="#8e0f14" stroke-width="0.7"/>
<circle cx="415.18" cy="229.50" r="1.5" fill="#e31b23" stroke="#8e0f14" stroke-width="0.7"/>
<rect x="411.60" y="228.60" width="7.0" height="1.90" fill="#e31b23" stroke="#8e0f14" stroke-width="1.15"/>
<line x1="411.60" x2="418.60" y1="229.50" y2="229.50" stroke="#a8141a" stroke-width="1"/>
<text transform="translate(419.00,227.70) rotate(-90)" font-size="8.4" fill="#8c8c8c">g</text>
<line x1="424.50" x2="424.50" y1="226.70" y2="232.30" stroke="#8e0f14" stroke-width="0.9"/>
<circle cx="424.77" cy="226.70" r="1.5" fill="#e31b23" stroke="#8e0f14" stroke-width="0.7"/>
<circle cx="425.11" cy="232.30" r="1.5" fill="#e31b23" stroke="#8e0f14" stroke-width="0.7"/>
<circle cx="424.07" cy="228.50" r="1.5" fill="#e31b23" stroke="#8e0f14" stroke-width="0.7"/>
<rect x="421.00" y="226.30" width="7.0" height="5.00" fill="#e31b23" stroke="#8e0f14" stroke-width="0.9"/>
<line x1="421.00" x2="428.00" y1="228.50" y2="228.50" stroke="#a8141a" stroke-width="1"/>
<text transform="translate(428.40,225.30) rotate(-90)" font-size="8.4" fill="#8c8c8c">defg</text>
<line x1="433.90" x2="433.90" y1="228.50" y2="230.50" stroke="#8e0f14" stroke-width="0.9"/>
<circle cx="434.60" cy="228.50" r="1.5" fill="#e31b23" stroke="#8e0f14" stroke-width="0.7"/>
<circle cx="434.87" cy="230.50" r="1.5" fill="#e31b23" stroke="#8e0f14" stroke-width="0.7"/>
<circle cx="432.25" cy="229.50" r="1.5" fill="#e31b23" stroke="#8e0f14" stroke-width="0.7"/>
<rect x="430.40" y="228.10" width="7.0" height="2.80" fill="#e31b23" stroke="#8e0f14" stroke-width="1.15"/>
<line x1="430.40" x2="437.40" y1="229.50" y2="229.50" stroke="#a8141a" stroke-width="1"/>
<text transform="translate(437.80,227.20) rotate(-90)" font-size="8.4" fill="#8c8c8c">g</text>
<line x1="443.30" x2="443.30" y1="231.30" y2="232.90" stroke="#8e0f14" stroke-width="0.9"/>
<circle cx="444.34" cy="231.30" r="1.5" fill="#e31b23" stroke="#8e0f14" stroke-width="0.7"/>
<circle cx="443.83" cy="232.90" r="1.5" fill="#e31b23" stroke="#8e0f14" stroke-width="0.7"/>
<circle cx="441.82" cy="232.00" r="1.5" fill="#e31b23" stroke="#8e0f14" stroke-width="0.7"/>
<rect x="439.80" y="230.90" width="7.0" height="2.40" fill="#e31b23" stroke="#8e0f14" stroke-width="1.15"/>
<line x1="439.80" x2="446.80" y1="232.00" y2="232.00" stroke="#a8141a" stroke-width="1"/>
<text transform="translate(447.20,230.20) rotate(-90)" font-size="8.4" fill="#8c8c8c">g</text>
<line x1="452.70" x2="452.70" y1="229.20" y2="231.20" stroke="#8e0f14" stroke-width="0.9"/>
<circle cx="452.59" cy="229.20" r="1.5" fill="#e31b23" stroke="#8e0f14" stroke-width="0.7"/>
<circle cx="453.00" cy="231.20" r="1.5" fill="#e31b23" stroke="#8e0f14" stroke-width="0.7"/>
<circle cx="454.34" cy="230.00" r="1.5" fill="#e31b23" stroke="#8e0f14" stroke-width="0.7"/>
<rect x="449.20" y="228.80" width="7.0" height="2.80" fill="#e31b23" stroke="#8e0f14" stroke-width="1.15"/>
<line x1="449.20" x2="456.20" y1="230.00" y2="230.00" stroke="#a8141a" stroke-width="1"/>
<text transform="translate(456.60,227.90) rotate(-90)" font-size="8.4" fill="#8c8c8c">fg</text>
<line x1="462.10" x2="462.10" y1="229.00" y2="230.90" stroke="#8e0f14" stroke-width="0.9"/>
<circle cx="461.80" cy="229.00" r="1.5" fill="#e31b23" stroke="#8e0f14" stroke-width="0.7"/>
<circle cx="462.27" cy="230.90" r="1.5" fill="#e31b23" stroke="#8e0f14" stroke-width="0.7"/>
<circle cx="463.62" cy="230.00" r="1.5" fill="#e31b23" stroke="#8e0f14" stroke-width="0.7"/>
<rect x="458.60" y="228.60" width="7.0" height="2.70" fill="#e31b23" stroke="#8e0f14" stroke-width="1.15"/>
<line x1="458.60" x2="465.60" y1="230.00" y2="230.00" stroke="#a8141a" stroke-width="1"/>
<text transform="translate(466.00,227.90) rotate(-90)" font-size="8.4" fill="#8c8c8c">g</text>
<line x1="471.50" x2="471.50" y1="226.50" y2="228.40" stroke="#1d5e22" stroke-width="0.9"/>
<circle cx="472.21" cy="226.50" r="1.5" fill="#47ad4b" stroke="#1d5e22" stroke-width="0.7"/>
<circle cx="472.57" cy="228.40" r="1.5" fill="#47ad4b" stroke="#1d5e22" stroke-width="0.7"/>
<circle cx="471.35" cy="227.50" r="1.5" fill="#47ad4b" stroke="#1d5e22" stroke-width="0.7"/>
<rect x="468.00" y="226.10" width="7.0" height="2.70" fill="#47ad4b" stroke="#1d5e22" stroke-width="1.15"/>
<line x1="468.00" x2="475.00" y1="227.50" y2="227.50" stroke="#23702a" stroke-width="1"/>
<text transform="translate(475.40,225.40) rotate(-90)" font-size="8.4" fill="#8c8c8c">defg</text>
<line x1="480.90" x2="480.90" y1="226.20" y2="228.40" stroke="#1d5e22" stroke-width="0.9"/>
<circle cx="481.26" cy="226.20" r="1.5" fill="#47ad4b" stroke="#1d5e22" stroke-width="0.7"/>
<circle cx="480.19" cy="228.40" r="1.5" fill="#47ad4b" stroke="#1d5e22" stroke-width="0.7"/>
<circle cx="481.79" cy="227.30" r="1.5" fill="#47ad4b" stroke="#1d5e22" stroke-width="0.7"/>
<rect x="477.40" y="225.80" width="7.0" height="3.00" fill="#47ad4b" stroke="#1d5e22" stroke-width="1.15"/>
<line x1="477.40" x2="484.40" y1="227.30" y2="227.30" stroke="#23702a" stroke-width="1"/>
<text transform="translate(484.80,225.10) rotate(-90)" font-size="8.4" fill="#8c8c8c">defg</text>
<line x1="490.30" x2="490.30" y1="228.50" y2="230.50" stroke="#1d5e22" stroke-width="0.9"/>
<circle cx="491.06" cy="228.50" r="1.5" fill="#47ad4b" stroke="#1d5e22" stroke-width="0.7"/>
<circle cx="490.64" cy="230.50" r="1.5" fill="#47ad4b" stroke="#1d5e22" stroke-width="0.7"/>
<circle cx="491.17" cy="229.50" r="1.5" fill="#47ad4b" stroke="#1d5e22" stroke-width="0.7"/>
<rect x="486.80" y="228.10" width="7.0" height="2.80" fill="#47ad4b" stroke="#1d5e22" stroke-width="1.15"/>
<line x1="486.80" x2="493.80" y1="229.50" y2="229.50" stroke="#23702a" stroke-width="1"/>
<text transform="translate(494.20,227.30) rotate(-90)" font-size="8.4" fill="#8c8c8c">fg</text>
<line x1="499.70" x2="499.70" y1="223.70" y2="225.40" stroke="#1d5e22" stroke-width="0.9"/>
<circle cx="499.01" cy="223.70" r="1.5" fill="#47ad4b" stroke="#1d5e22" stroke-width="0.7"/>
<circle cx="500.66" cy="225.40" r="1.5" fill="#47ad4b" stroke="#1d5e22" stroke-width="0.7"/>
<circle cx="501.62" cy="224.50" r="1.5" fill="#47ad4b" stroke="#1d5e22" stroke-width="0.7"/>
<rect x="496.20" y="223.30" width="7.0" height="2.50" fill="#47ad4b" stroke="#1d5e22" stroke-width="1.15"/>
<line x1="496.20" x2="503.20" y1="224.50" y2="224.50" stroke="#23702a" stroke-width="1"/>
<text transform="translate(503.60,222.60) rotate(-90)" font-size="8.4" fill="#8c8c8c">abcd</text>
<line x1="509.10" x2="509.10" y1="223.40" y2="225.00" stroke="#1d5e22" stroke-width="0.9"/>
<circle cx="510.25" cy="223.40" r="1.5" fill="#47ad4b" stroke="#1d5e22" stroke-width="0.7"/>
<circle cx="509.19" cy="225.00" r="1.5" fill="#47ad4b" stroke="#1d5e22" stroke-width="0.7"/>
<circle cx="510.26" cy="224.20" r="1.5" fill="#47ad4b" stroke="#1d5e22" stroke-width="0.7"/>
<rect x="505.60" y="223.00" width="7.0" height="2.40" fill="#47ad4b" stroke="#1d5e22" stroke-width="1.15"/>
<line x1="505.60" x2="512.60" y1="224.20" y2="224.20" stroke="#23702a" stroke-width="1"/>
<text transform="translate(513.00,222.30) rotate(-90)" font-size="8.4" fill="#8c8c8c">abc</text>
<line x1="518.50" x2="518.50" y1="224.40" y2="226.40" stroke="#1d5e22" stroke-width="0.9"/>
<circle cx="518.07" cy="224.40" r="1.5" fill="#47ad4b" stroke="#1d5e22" stroke-width="0.7"/>
<circle cx="519.48" cy="226.40" r="1.5" fill="#47ad4b" stroke="#1d5e22" stroke-width="0.7"/>
<circle cx="519.92" cy="225.40" r="1.5" fill="#47ad4b" stroke="#1d5e22" stroke-width="0.7"/>
<rect x="515.00" y="224.00" width="7.0" height="2.80" fill="#47ad4b" stroke="#1d5e22" stroke-width="1.15"/>
<line x1="515.00" x2="522.00" y1="225.40" y2="225.40" stroke="#23702a" stroke-width="1"/>
<text transform="translate(522.40,223.30) rotate(-90)" font-size="8.4" fill="#8c8c8c">abcde</text>
<line x1="527.90" x2="527.90" y1="225.10" y2="227.00" stroke="#1d5e22" stroke-width="0.9"/>
<circle cx="527.54" cy="225.10" r="1.5" fill="#47ad4b" stroke="#1d5e22" stroke-width="0.7"/>
<circle cx="526.90" cy="227.00" r="1.5" fill="#47ad4b" stroke="#1d5e22" stroke-width="0.7"/>
<circle cx="527.66" cy="226.00" r="1.5" fill="#47ad4b" stroke="#1d5e22" stroke-width="0.7"/>
<rect x="524.40" y="224.70" width="7.0" height="2.70" fill="#47ad4b" stroke="#1d5e22" stroke-width="1.15"/>
<line x1="524.40" x2="531.40" y1="226.00" y2="226.00" stroke="#23702a" stroke-width="1"/>
<text transform="translate(531.80,223.90) rotate(-90)" font-size="8.4" fill="#8c8c8c">abcdef</text>
<line x1="537.30" x2="537.30" y1="227.20" y2="229.80" stroke="#1d5e22" stroke-width="0.9"/>
<circle cx="537.42" cy="227.20" r="1.5" fill="#47ad4b" stroke="#1d5e22" stroke-width="0.7"/>
<circle cx="537.94" cy="229.80" r="1.5" fill="#47ad4b" stroke="#1d5e22" stroke-width="0.7"/>
<circle cx="537.25" cy="228.50" r="1.5" fill="#47ad4b" stroke="#1d5e22" stroke-width="0.7"/>
<rect x="533.80" y="226.80" width="7.0" height="3.40" fill="#47ad4b" stroke="#1d5e22" stroke-width="1.15"/>
<line x1="533.80" x2="540.80" y1="228.50" y2="228.50" stroke="#23702a" stroke-width="1"/>
<text transform="translate(541.20,226.10) rotate(-90)" font-size="8.4" fill="#8c8c8c">efg</text>
<line x1="546.70" x2="546.70" y1="225.10" y2="227.70" stroke="#1d5e22" stroke-width="0.9"/>
<circle cx="545.57" cy="225.10" r="1.5" fill="#47ad4b" stroke="#1d5e22" stroke-width="0.7"/>
<circle cx="547.44" cy="227.70" r="1.5" fill="#47ad4b" stroke="#1d5e22" stroke-width="0.7"/>
<circle cx="544.96" cy="226.40" r="1.5" fill="#47ad4b" stroke="#1d5e22" stroke-width="0.7"/>
<rect x="543.20" y="224.70" width="7.0" height="3.40" fill="#47ad4b" stroke="#1d5e22" stroke-width="1.15"/>
<line x1="543.20" x2="550.20" y1="226.40" y2="226.40" stroke="#23702a" stroke-width="1"/>
<text transform="translate(550.60,223.90) rotate(-90)" font-size="8.4" fill="#8c8c8c">bcdefg</text>
<line x1="556.10" x2="556.10" y1="225.80" y2="227.70" stroke="#1d5e22" stroke-width="0.9"/>
<circle cx="556.82" cy="225.80" r="1.5" fill="#47ad4b" stroke="#1d5e22" stroke-width="0.7"/>
<circle cx="555.31" cy="227.70" r="1.5" fill="#47ad4b" stroke="#1d5e22" stroke-width="0.7"/>
<circle cx="555.44" cy="226.70" r="1.5" fill="#47ad4b" stroke="#1d5e22" stroke-width="0.7"/>
<rect x="552.60" y="225.40" width="7.0" height="2.70" fill="#47ad4b" stroke="#1d5e22" stroke-width="1.15"/>
<line x1="552.60" x2="559.60" y1="226.70" y2="226.70" stroke="#23702a" stroke-width="1"/>
<text transform="translate(560.00,224.70) rotate(-90)" font-size="8.4" fill="#8c8c8c">cdefg</text>
<line x1="565.50" x2="565.50" y1="220.60" y2="224.30" stroke="#1d5e22" stroke-width="0.9"/>
<circle cx="566.19" cy="220.60" r="1.5" fill="#47ad4b" stroke="#1d5e22" stroke-width="0.7"/>
<circle cx="564.64" cy="224.30" r="1.5" fill="#47ad4b" stroke="#1d5e22" stroke-width="0.7"/>
<circle cx="564.09" cy="222.50" r="1.5" fill="#47ad4b" stroke="#1d5e22" stroke-width="0.7"/>
<rect x="562.00" y="220.20" width="7.0" height="4.50" fill="#47ad4b" stroke="#1d5e22" stroke-width="0.9"/>
<line x1="562.00" x2="569.00" y1="222.50" y2="222.50" stroke="#23702a" stroke-width="1"/>
<text transform="translate(569.40,219.50) rotate(-90)" font-size="8.4" fill="#8c8c8c">ab</text>
<line x1="574.90" x2="574.90" y1="218.80" y2="222.20" stroke="#1d5e22" stroke-width="0.9"/>
<circle cx="574.94" cy="218.80" r="1.5" fill="#47ad4b" stroke="#1d5e22" stroke-width="0.7"/>
<circle cx="575.44" cy="222.20" r="1.5" fill="#47ad4b" stroke="#1d5e22" stroke-width="0.7"/>
<circle cx="576.26" cy="220.50" r="1.5" fill="#47ad4b" stroke="#1d5e22" stroke-width="0.7"/>
<rect x="571.40" y="218.40" width="7.0" height="4.20" fill="#47ad4b" stroke="#1d5e22" stroke-width="0.9"/>
<line x1="571.40" x2="578.40" y1="220.50" y2="220.50" stroke="#23702a" stroke-width="1"/>
<text transform="translate(578.80,217.70) rotate(-90)" font-size="8.4" fill="#8c8c8c">a</text>
<line x1="584.30" x2="584.30" y1="221.30" y2="223.00" stroke="#1d5e22" stroke-width="0.9"/>
<circle cx="584.75" cy="221.30" r="1.5" fill="#47ad4b" stroke="#1d5e22" stroke-width="0.7"/>
<circle cx="585.37" cy="223.00" r="1.5" fill="#47ad4b" stroke="#1d5e22" stroke-width="0.7"/>
<circle cx="584.27" cy="222.20" r="1.5" fill="#47ad4b" stroke="#1d5e22" stroke-width="0.7"/>
<rect x="580.80" y="220.90" width="7.0" height="2.50" fill="#47ad4b" stroke="#1d5e22" stroke-width="1.15"/>
<line x1="580.80" x2="587.80" y1="222.20" y2="222.20" stroke="#23702a" stroke-width="1"/>
<text transform="translate(588.20,220.20) rotate(-90)" font-size="8.4" fill="#8c8c8c">ab</text>
<line x1="593.70" x2="593.70" y1="221.40" y2="224.10" stroke="#1d5e22" stroke-width="0.9"/>
<circle cx="594.78" cy="221.40" r="1.5" fill="#47ad4b" stroke="#1d5e22" stroke-width="0.7"/>
<circle cx="592.71" cy="224.10" r="1.5" fill="#47ad4b" stroke="#1d5e22" stroke-width="0.7"/>
<circle cx="592.59" cy="222.70" r="1.5" fill="#47ad4b" stroke="#1d5e22" stroke-width="0.7"/>
<rect x="590.20" y="221.00" width="7.0" height="3.50" fill="#47ad4b" stroke="#1d5e22" stroke-width="1.15"/>
<line x1="590.20" x2="597.20" y1="222.70" y2="222.70" stroke="#23702a" stroke-width="1"/>
<text transform="translate(597.60,220.30) rotate(-90)" font-size="8.4" fill="#8c8c8c">ab</text>
<line x1="603.10" x2="603.10" y1="224.40" y2="226.70" stroke="#1d5e22" stroke-width="0.9"/>
<circle cx="603.16" cy="224.40" r="1.5" fill="#47ad4b" stroke="#1d5e22" stroke-width="0.7"/>
<circle cx="602.60" cy="226.70" r="1.5" fill="#47ad4b" stroke="#1d5e22" stroke-width="0.7"/>
<circle cx="604.02" cy="225.50" r="1.5" fill="#47ad4b" stroke="#1d5e22" stroke-width="0.7"/>
<rect x="599.60" y="224.00" width="7.0" height="3.10" fill="#47ad4b" stroke="#1d5e22" stroke-width="1.15"/>
<line x1="599.60" x2="606.60" y1="225.50" y2="225.50" stroke="#23702a" stroke-width="1"/>
<text transform="translate(607.00,223.30) rotate(-90)" font-size="8.4" fill="#8c8c8c">abcde</text>
<line x1="612.50" x2="612.50" y1="222.90" y2="227.20" stroke="#1d5e22" stroke-width="0.9"/>
<circle cx="612.83" cy="222.90" r="1.5" fill="#47ad4b" stroke="#1d5e22" stroke-width="0.7"/>
<circle cx="612.55" cy="227.20" r="1.5" fill="#47ad4b" stroke="#1d5e22" stroke-width="0.7"/>
<circle cx="613.87" cy="225.00" r="1.5" fill="#47ad4b" stroke="#1d5e22" stroke-width="0.7"/>
<rect x="609.00" y="222.50" width="7.0" height="5.10" fill="#47ad4b" stroke="#1d5e22" stroke-width="0.9"/>
<line x1="609.00" x2="616.00" y1="225.00" y2="225.00" stroke="#23702a" stroke-width="1"/>
<text transform="translate(616.40,221.80) rotate(-90)" font-size="8.4" fill="#8c8c8c">abcde</text>
<line x1="621.90" x2="621.90" y1="225.70" y2="227.90" stroke="#1d5e22" stroke-width="0.9"/>
<circle cx="622.04" cy="225.70" r="1.5" fill="#47ad4b" stroke="#1d5e22" stroke-width="0.7"/>
<circle cx="621.45" cy="227.90" r="1.5" fill="#47ad4b" stroke="#1d5e22" stroke-width="0.7"/>
<circle cx="621.42" cy="226.80" r="1.5" fill="#47ad4b" stroke="#1d5e22" stroke-width="0.7"/>
<rect x="618.40" y="225.30" width="7.0" height="3.00" fill="#47ad4b" stroke="#1d5e22" stroke-width="1.15"/>
<line x1="618.40" x2="625.40" y1="226.80" y2="226.80" stroke="#23702a" stroke-width="1"/>
<text transform="translate(625.80,224.60) rotate(-90)" font-size="8.4" fill="#8c8c8c">bcdefg</text>
<line x1="631.30" x2="631.30" y1="224.40" y2="226.10" stroke="#1d5e22" stroke-width="0.9"/>
<circle cx="632.13" cy="224.40" r="1.5" fill="#47ad4b" stroke="#1d5e22" stroke-width="0.7"/>
<circle cx="632.26" cy="226.10" r="1.5" fill="#47ad4b" stroke="#1d5e22" stroke-width="0.7"/>
<circle cx="630.13" cy="225.20" r="1.5" fill="#47ad4b" stroke="#1d5e22" stroke-width="0.7"/>
<rect x="627.80" y="224.00" width="7.0" height="2.50" fill="#47ad4b" stroke="#1d5e22" stroke-width="1.15"/>
<line x1="627.80" x2="634.80" y1="225.20" y2="225.20" stroke="#23702a" stroke-width="1"/>
<text transform="translate(635.20,223.30) rotate(-90)" font-size="8.4" fill="#8c8c8c">abcde</text>
<line x1="640.70" x2="640.70" y1="220.70" y2="223.60" stroke="#1d5e22" stroke-width="0.9"/>
<circle cx="641.54" cy="220.70" r="1.5" fill="#47ad4b" stroke="#1d5e22" stroke-width="0.7"/>
<circle cx="641.82" cy="223.60" r="1.5" fill="#47ad4b" stroke="#1d5e22" stroke-width="0.7"/>
<circle cx="640.80" cy="222.10" r="1.5" fill="#47ad4b" stroke="#1d5e22" stroke-width="0.7"/>
<rect x="637.20" y="220.30" width="7.0" height="3.70" fill="#47ad4b" stroke="#1d5e22" stroke-width="1.15"/>
<line x1="637.20" x2="644.20" y1="222.10" y2="222.10" stroke="#23702a" stroke-width="1"/>
<text transform="translate(644.60,219.60) rotate(-90)" font-size="8.4" fill="#8c8c8c">ab</text>
<line x1="650.10" x2="650.10" y1="224.40" y2="227.60" stroke="#1d5e22" stroke-width="0.9"/>
<circle cx="650.28" cy="224.40" r="1.5" fill="#47ad4b" stroke="#1d5e22" stroke-width="0.7"/>
<circle cx="649.38" cy="227.60" r="1.5" fill="#47ad4b" stroke="#1d5e22" stroke-width="0.7"/>
<circle cx="650.24" cy="226.00" r="1.5" fill="#47ad4b" stroke="#1d5e22" stroke-width="0.7"/>
<rect x="646.60" y="224.00" width="7.0" height="4.00" fill="#47ad4b" stroke="#1d5e22" stroke-width="0.9"/>
<line x1="646.60" x2="653.60" y1="226.00" y2="226.00" stroke="#23702a" stroke-width="1"/>
<text transform="translate(654.00,223.30) rotate(-90)" font-size="8.4" fill="#8c8c8c">abcdef</text>
<line x1="659.50" x2="659.50" y1="224.40" y2="225.20" stroke="#1d5e22" stroke-width="0.9"/>
<circle cx="659.51" cy="224.40" r="1.5" fill="#47ad4b" stroke="#1d5e22" stroke-width="0.7"/>
<circle cx="659.75" cy="225.20" r="1.5" fill="#47ad4b" stroke="#1d5e22" stroke-width="0.7"/>
<circle cx="657.61" cy="224.80" r="1.5" fill="#47ad4b" stroke="#1d5e22" stroke-width="0.7"/>
<rect x="656.00" y="224.00" width="7.0" height="1.60" fill="#47ad4b" stroke="#1d5e22" stroke-width="1.15"/>
<line x1="656.00" x2="663.00" y1="224.80" y2="224.80" stroke="#23702a" stroke-width="1"/>
<text transform="translate(663.40,223.30) rotate(-90)" font-size="8.4" fill="#8c8c8c">abcd</text>
<line x1="668.90" x2="668.90" y1="225.40" y2="226.40" stroke="#1d5e22" stroke-width="0.9"/>
<circle cx="670.03" cy="225.40" r="1.5" fill="#47ad4b" stroke="#1d5e22" stroke-width="0.7"/>
<circle cx="668.94" cy="226.40" r="1.5" fill="#47ad4b" stroke="#1d5e22" stroke-width="0.7"/>
<circle cx="668.50" cy="225.90" r="1.5" fill="#47ad4b" stroke="#1d5e22" stroke-width="0.7"/>
<rect x="665.40" y="225.00" width="7.0" height="1.80" fill="#47ad4b" stroke="#1d5e22" stroke-width="1.15"/>
<line x1="665.40" x2="672.40" y1="225.90" y2="225.90" stroke="#23702a" stroke-width="1"/>
<text transform="translate(672.80,224.30) rotate(-90)" font-size="8.4" fill="#8c8c8c">abcde</text>
<line x1="678.30" x2="678.30" y1="224.90" y2="226.40" stroke="#1d5e22" stroke-width="0.9"/>
<circle cx="679.02" cy="224.90" r="1.5" fill="#47ad4b" stroke="#1d5e22" stroke-width="0.7"/>
<circle cx="678.45" cy="226.40" r="1.5" fill="#47ad4b" stroke="#1d5e22" stroke-width="0.7"/>
<circle cx="678.26" cy="225.60" r="1.5" fill="#47ad4b" stroke="#1d5e22" stroke-width="0.7"/>
<rect x="674.80" y="224.50" width="7.0" height="2.30" fill="#47ad4b" stroke="#1d5e22" stroke-width="1.15"/>
<line x1="674.80" x2="681.80" y1="225.60" y2="225.60" stroke="#23702a" stroke-width="1"/>
<text transform="translate(682.20,223.80) rotate(-90)" font-size="8.4" fill="#8c8c8c">abcde</text>
</g>
<g clip-path="url(#cpEFB)">
<line x1="115.00" x2="115.00" y1="321.80" y2="323.80" stroke="#8e0f14" stroke-width="0.9"/>
<circle cx="115.46" cy="321.80" r="1.5" fill="#e31b23" stroke="#8e0f14" stroke-width="0.7"/>
<circle cx="113.96" cy="323.80" r="1.5" fill="#e31b23" stroke="#8e0f14" stroke-width="0.7"/>
<circle cx="115.15" cy="322.80" r="1.5" fill="#e31b23" stroke="#8e0f14" stroke-width="0.7"/>
<rect x="111.50" y="321.40" width="7.0" height="2.80" fill="#e31b23" stroke="#8e0f14" stroke-width="1.15"/>
<line x1="111.50" x2="118.50" y1="322.80" y2="322.80" stroke="#a8141a" stroke-width="1"/>
<text transform="translate(118.90,317.80) rotate(-90)" font-size="8.4" fill="#8c8c8c">a</text>
<line x1="124.40" x2="124.40" y1="318.40" y2="330.40" stroke="#8e0f14" stroke-width="0.9"/>
<circle cx="124.19" cy="318.40" r="1.5" fill="#e31b23" stroke="#8e0f14" stroke-width="0.7"/>
<circle cx="125.50" cy="330.40" r="1.5" fill="#e31b23" stroke="#8e0f14" stroke-width="0.7"/>
<circle cx="126.09" cy="323.80" r="1.5" fill="#e31b23" stroke="#8e0f14" stroke-width="0.7"/>
<rect x="120.90" y="320.70" width="7.0" height="6.30" fill="#e31b23" stroke="#8e0f14" stroke-width="0.9"/>
<line x1="120.90" x2="127.90" y1="323.80" y2="323.80" stroke="#a8141a" stroke-width="1"/>
<text transform="translate(128.30,315.20) rotate(-90)" font-size="8.4" fill="#8c8c8c">a</text>
<line x1="133.80" x2="133.80" y1="319.10" y2="321.00" stroke="#8e0f14" stroke-width="0.9"/>
<circle cx="133.25" cy="319.10" r="1.5" fill="#e31b23" stroke="#8e0f14" stroke-width="0.7"/>
<circle cx="133.74" cy="321.00" r="1.5" fill="#e31b23" stroke="#8e0f14" stroke-width="0.7"/>
<circle cx="132.31" cy="320.00" r="1.5" fill="#e31b23" stroke="#8e0f14" stroke-width="0.7"/>
<rect x="130.30" y="318.70" width="7.0" height="2.70" fill="#e31b23" stroke="#8e0f14" stroke-width="1.15"/>
<line x1="130.30" x2="137.30" y1="320.00" y2="320.00" stroke="#a8141a" stroke-width="1"/>
<text transform="translate(137.70,315.50) rotate(-90)" font-size="8.4" fill="#8c8c8c">a</text>
<line x1="143.20" x2="143.20" y1="319.80" y2="323.20" stroke="#8e0f14" stroke-width="0.9"/>
<circle cx="143.04" cy="319.80" r="1.5" fill="#e31b23" stroke="#8e0f14" stroke-width="0.7"/>
<circle cx="143.96" cy="323.20" r="1.5" fill="#e31b23" stroke="#8e0f14" stroke-width="0.7"/>
<circle cx="144.80" cy="320.50" r="1.5" fill="#e31b23" stroke="#8e0f14" stroke-width="0.7"/>
<rect x="139.70" y="319.40" width="7.0" height="2.70" fill="#e31b23" stroke="#8e0f14" stroke-width="1.15"/>
<line x1="139.70" x2="146.70" y1="320.50" y2="320.50" stroke="#a8141a" stroke-width="1"/>
<text transform="translate(147.10,315.50) rotate(-90)" font-size="8.4" fill="#8c8c8c">a</text>
<line x1="152.60" x2="152.60" y1="320.00" y2="326.30" stroke="#8e0f14" stroke-width="0.9"/>
<circle cx="152.54" cy="320.00" r="1.5" fill="#e31b23" stroke="#8e0f14" stroke-width="0.7"/>
<circle cx="152.16" cy="326.30" r="1.5" fill="#e31b23" stroke="#8e0f14" stroke-width="0.7"/>
<circle cx="151.37" cy="323.20" r="1.5" fill="#e31b23" stroke="#8e0f14" stroke-width="0.7"/>
<rect x="149.10" y="321.40" width="7.0" height="3.50" fill="#e31b23" stroke="#8e0f14" stroke-width="1.15"/>
<line x1="149.10" x2="156.10" y1="323.20" y2="323.20" stroke="#a8141a" stroke-width="1"/>
<text transform="translate(156.50,316.80) rotate(-90)" font-size="8.4" fill="#8c8c8c">a</text>
<line x1="162.00" x2="162.00" y1="321.80" y2="326.30" stroke="#8e0f14" stroke-width="0.9"/>
<circle cx="162.28" cy="321.80" r="1.5" fill="#e31b23" stroke="#8e0f14" stroke-width="0.7"/>
<circle cx="163.02" cy="326.30" r="1.5" fill="#e31b23" stroke="#8e0f14" stroke-width="0.7"/>
<circle cx="160.52" cy="322.80" r="1.5" fill="#e31b23" stroke="#8e0f14" stroke-width="0.7"/>
<rect x="158.50" y="321.40" width="7.0" height="3.20" fill="#e31b23" stroke="#8e0f14" stroke-width="1.15"/>
<line x1="158.50" x2="165.50" y1="322.80" y2="322.80" stroke="#a8141a" stroke-width="1"/>
<text transform="translate(165.90,317.50) rotate(-90)" font-size="8.4" fill="#8c8c8c">a</text>
<line x1="171.40" x2="171.40" y1="320.60" y2="320.80" stroke="#8e0f14" stroke-width="0.9"/>
<circle cx="172.07" cy="320.60" r="1.5" fill="#e31b23" stroke="#8e0f14" stroke-width="0.7"/>
<circle cx="170.25" cy="320.80" r="1.5" fill="#e31b23" stroke="#8e0f14" stroke-width="0.7"/>
<circle cx="170.18" cy="320.70" r="1.5" fill="#e31b23" stroke="#8e0f14" stroke-width="0.7"/>
<rect x="167.90" y="320.20" width="7.0" height="1.00" fill="#e31b23" stroke="#8e0f14" stroke-width="1.15"/>
<line x1="167.90" x2="174.90" y1="320.70" y2="320.70" stroke="#a8141a" stroke-width="1"/>
<text transform="translate(175.30,316.80) rotate(-90)" font-size="8.4" fill="#8c8c8c">a</text>
<line x1="180.80" x2="180.80" y1="322.10" y2="333.00" stroke="#1d5e22" stroke-width="0.9"/>
<circle cx="180.15" cy="322.10" r="1.5" fill="#47ad4b" stroke="#1d5e22" stroke-width="0.7"/>
<circle cx="181.25" cy="333.00" r="1.5" fill="#47ad4b" stroke="#1d5e22" stroke-width="0.7"/>
<circle cx="180.09" cy="328.40" r="1.5" fill="#47ad4b" stroke="#1d5e22" stroke-width="0.7"/>
<rect x="177.30" y="325.60" width="7.0" height="4.80" fill="#47ad4b" stroke="#1d5e22" stroke-width="0.9"/>
<line x1="177.30" x2="184.30" y1="328.40" y2="328.40" stroke="#23702a" stroke-width="1"/>
<text transform="translate(184.70,318.90) rotate(-90)" font-size="8.4" fill="#8c8c8c">a</text>
<line x1="190.20" x2="190.20" y1="320.00" y2="334.60" stroke="#1d5e22" stroke-width="0.9"/>
<circle cx="189.85" cy="320.00" r="1.5" fill="#47ad4b" stroke="#1d5e22" stroke-width="0.7"/>
<circle cx="190.49" cy="334.60" r="1.5" fill="#47ad4b" stroke="#1d5e22" stroke-width="0.7"/>
<circle cx="188.62" cy="324.20" r="1.5" fill="#47ad4b" stroke="#1d5e22" stroke-width="0.7"/>
<rect x="186.70" y="322.10" width="7.0" height="6.30" fill="#47ad4b" stroke="#1d5e22" stroke-width="0.9"/>
<line x1="186.70" x2="193.70" y1="324.20" y2="324.20" stroke="#23702a" stroke-width="1"/>
<text transform="translate(194.10,316.80) rotate(-90)" font-size="8.4" fill="#8c8c8c">a</text>
<line x1="199.60" x2="199.60" y1="318.70" y2="328.40" stroke="#1d5e22" stroke-width="0.9"/>
<circle cx="200.15" cy="318.70" r="1.5" fill="#47ad4b" stroke="#1d5e22" stroke-width="0.7"/>
<circle cx="198.69" cy="328.40" r="1.5" fill="#47ad4b" stroke="#1d5e22" stroke-width="0.7"/>
<circle cx="199.64" cy="323.20" r="1.5" fill="#47ad4b" stroke="#1d5e22" stroke-width="0.7"/>
<rect x="196.10" y="321.20" width="7.0" height="4.40" fill="#47ad4b" stroke="#1d5e22" stroke-width="0.9"/>
<line x1="196.10" x2="203.10" y1="323.20" y2="323.20" stroke="#23702a" stroke-width="1"/>
<text transform="translate(203.50,315.50) rotate(-90)" font-size="8.4" fill="#8c8c8c">a</text>
<line x1="209.00" x2="209.00" y1="323.90" y2="329.30" stroke="#1d5e22" stroke-width="0.9"/>
<circle cx="208.40" cy="323.90" r="1.5" fill="#47ad4b" stroke="#1d5e22" stroke-width="0.7"/>
<circle cx="208.27" cy="329.30" r="1.5" fill="#47ad4b" stroke="#1d5e22" stroke-width="0.7"/>
<circle cx="209.12" cy="325.20" r="1.5" fill="#47ad4b" stroke="#1d5e22" stroke-width="0.7"/>
<rect x="205.50" y="323.50" width="7.0" height="3.90" fill="#47ad4b" stroke="#1d5e22" stroke-width="1.15"/>
<line x1="205.50" x2="212.50" y1="325.20" y2="325.20" stroke="#23702a" stroke-width="1"/>
<text transform="translate(212.90,319.60) rotate(-90)" font-size="8.4" fill="#8c8c8c">a</text>
<line x1="218.40" x2="218.40" y1="320.50" y2="374.10" stroke="#1d5e22" stroke-width="0.9"/>
<circle cx="218.25" cy="320.50" r="1.5" fill="#47ad4b" stroke="#1d5e22" stroke-width="0.7"/>
<circle cx="218.10" cy="374.10" r="1.5" fill="#47ad4b" stroke="#1d5e22" stroke-width="0.7"/>
<circle cx="218.05" cy="325.90" r="1.5" fill="#47ad4b" stroke="#1d5e22" stroke-width="0.7"/>
<rect x="214.90" y="323.20" width="7.0" height="26.90" fill="#47ad4b" stroke="#1d5e22" stroke-width="0.9"/>
<line x1="214.90" x2="221.90" y1="325.90" y2="325.90" stroke="#23702a" stroke-width="1"/>
<text transform="translate(222.30,317.30) rotate(-90)" font-size="8.4" fill="#8c8c8c">a</text>
<line x1="227.80" x2="227.80" y1="328.40" y2="340.40" stroke="#1d5e22" stroke-width="0.9"/>
<circle cx="227.87" cy="328.40" r="1.5" fill="#47ad4b" stroke="#1d5e22" stroke-width="0.7"/>
<circle cx="226.98" cy="340.40" r="1.5" fill="#47ad4b" stroke="#1d5e22" stroke-width="0.7"/>
<circle cx="226.62" cy="334.60" r="1.5" fill="#47ad4b" stroke="#1d5e22" stroke-width="0.7"/>
<rect x="224.30" y="331.80" width="7.0" height="5.60" fill="#47ad4b" stroke="#1d5e22" stroke-width="0.9"/>
<line x1="224.30" x2="231.30" y1="334.60" y2="334.60" stroke="#23702a" stroke-width="1"/>
<text transform="translate(231.70,325.20) rotate(-90)" font-size="8.4" fill="#8c8c8c">a</text>
<line x1="237.20" x2="237.20" y1="317.30" y2="324.60" stroke="#1d5e22" stroke-width="0.9"/>
<circle cx="237.52" cy="317.30" r="1.5" fill="#47ad4b" stroke="#1d5e22" stroke-width="0.7"/>
<circle cx="237.53" cy="324.60" r="1.5" fill="#47ad4b" stroke="#1d5e22" stroke-width="0.7"/>
<circle cx="237.32" cy="321.80" r="1.5" fill="#47ad4b" stroke="#1d5e22" stroke-width="0.7"/>
<rect x="233.70" y="320.00" width="7.0" height="3.50" fill="#47ad4b" stroke="#1d5e22" stroke-width="1.15"/>
<line x1="233.70" x2="240.70" y1="321.80" y2="321.80" stroke="#23702a" stroke-width="1"/>
<text transform="translate(241.10,314.10) rotate(-90)" font-size="8.4" fill="#8c8c8c">a</text>
<line x1="246.60" x2="246.60" y1="325.00" y2="328.00" stroke="#1d5e22" stroke-width="0.9"/>
<circle cx="247.44" cy="325.00" r="1.5" fill="#47ad4b" stroke="#1d5e22" stroke-width="0.7"/>
<circle cx="246.87" cy="328.00" r="1.5" fill="#47ad4b" stroke="#1d5e22" stroke-width="0.7"/>
<circle cx="248.03" cy="326.30" r="1.5" fill="#47ad4b" stroke="#1d5e22" stroke-width="0.7"/>
<rect x="243.10" y="324.60" width="7.0" height="3.80" fill="#47ad4b" stroke="#1d5e22" stroke-width="1.15"/>
<line x1="243.10" x2="250.10" y1="326.30" y2="326.30" stroke="#23702a" stroke-width="1"/>
<text transform="translate(250.50,320.60) rotate(-90)" font-size="8.4" fill="#8c8c8c">a</text>
<line x1="256.00" x2="256.00" y1="329.80" y2="352.40" stroke="#1d5e22" stroke-width="0.9"/>
<circle cx="255.36" cy="329.80" r="1.5" fill="#47ad4b" stroke="#1d5e22" stroke-width="0.7"/>
<circle cx="256.58" cy="352.40" r="1.5" fill="#47ad4b" stroke="#1d5e22" stroke-width="0.7"/>
<circle cx="257.24" cy="346.40" r="1.5" fill="#47ad4b" stroke="#1d5e22" stroke-width="0.7"/>
<rect x="252.50" y="338.10" width="7.0" height="11.50" fill="#47ad4b" stroke="#1d5e22" stroke-width="0.9"/>
<line x1="252.50" x2="259.50" y1="346.40" y2="346.40" stroke="#23702a" stroke-width="1"/>
<text transform="translate(259.90,326.60) rotate(-90)" font-size="8.4" fill="#8c8c8c">a</text>
<line x1="265.40" x2="265.40" y1="323.20" y2="327.00" stroke="#1d5e22" stroke-width="0.9"/>
<circle cx="266.37" cy="323.20" r="1.5" fill="#47ad4b" stroke="#1d5e22" stroke-width="0.7"/>
<circle cx="264.96" cy="327.00" r="1.5" fill="#47ad4b" stroke="#1d5e22" stroke-width="0.7"/>
<circle cx="264.66" cy="324.20" r="1.5" fill="#47ad4b" stroke="#1d5e22" stroke-width="0.7"/>
<rect x="261.90" y="322.80" width="7.0" height="3.20" fill="#47ad4b" stroke="#1d5e22" stroke-width="1.15"/>
<line x1="261.90" x2="268.90" y1="324.20" y2="324.20" stroke="#23702a" stroke-width="1"/>
<text transform="translate(269.30,318.90) rotate(-90)" font-size="8.4" fill="#8c8c8c">a</text>
<line x1="274.80" x2="274.80" y1="319.10" y2="342.70" stroke="#1d5e22" stroke-width="0.9"/>
<circle cx="275.81" cy="319.10" r="1.5" fill="#47ad4b" stroke="#1d5e22" stroke-width="0.7"/>
<circle cx="274.12" cy="342.70" r="1.5" fill="#47ad4b" stroke="#1d5e22" stroke-width="0.7"/>
<circle cx="276.79" cy="327.00" r="1.5" fill="#47ad4b" stroke="#1d5e22" stroke-width="0.7"/>
<rect x="271.30" y="323.20" width="7.0" height="11.70" fill="#47ad4b" stroke="#1d5e22" stroke-width="0.9"/>
<line x1="271.30" x2="278.30" y1="327.00" y2="327.00" stroke="#23702a" stroke-width="1"/>
<text transform="translate(278.70,315.90) rotate(-90)" font-size="8.4" fill="#8c8c8c">a</text>
<line x1="284.20" x2="284.20" y1="320.70" y2="344.00" stroke="#1d5e22" stroke-width="0.9"/>
<circle cx="285.13" cy="320.70" r="1.5" fill="#47ad4b" stroke="#1d5e22" stroke-width="0.7"/>
<circle cx="283.32" cy="344.00" r="1.5" fill="#47ad4b" stroke="#1d5e22" stroke-width="0.7"/>
<circle cx="283.16" cy="327.00" r="1.5" fill="#47ad4b" stroke="#1d5e22" stroke-width="0.7"/>
<rect x="280.70" y="323.80" width="7.0" height="11.50" fill="#47ad4b" stroke="#1d5e22" stroke-width="0.9"/>
<line x1="280.70" x2="287.70" y1="327.00" y2="327.00" stroke="#23702a" stroke-width="1"/>
<text transform="translate(288.10,317.50) rotate(-90)" font-size="8.4" fill="#8c8c8c">a</text>
<line x1="293.60" x2="293.60" y1="320.30" y2="334.10" stroke="#1d5e22" stroke-width="0.9"/>
<circle cx="294.14" cy="320.30" r="1.5" fill="#47ad4b" stroke="#1d5e22" stroke-width="0.7"/>
<circle cx="293.02" cy="334.10" r="1.5" fill="#47ad4b" stroke="#1d5e22" stroke-width="0.7"/>
<circle cx="291.99" cy="323.00" r="1.5" fill="#47ad4b" stroke="#1d5e22" stroke-width="0.7"/>
<rect x="290.10" y="321.40" width="7.0" height="6.60" fill="#47ad4b" stroke="#1d5e22" stroke-width="0.9"/>
<line x1="290.10" x2="297.10" y1="323.00" y2="323.00" stroke="#23702a" stroke-width="1"/>
<text transform="translate(297.50,317.10) rotate(-90)" font-size="8.4" fill="#8c8c8c">a</text>
<line x1="303.00" x2="303.00" y1="322.50" y2="328.00" stroke="#1d5e22" stroke-width="0.9"/>
<circle cx="303.80" cy="322.50" r="1.5" fill="#47ad4b" stroke="#1d5e22" stroke-width="0.7"/>
<circle cx="302.81" cy="328.00" r="1.5" fill="#47ad4b" stroke="#1d5e22" stroke-width="0.7"/>
<circle cx="304.16" cy="323.40" r="1.5" fill="#47ad4b" stroke="#1d5e22" stroke-width="0.7"/>
<rect x="299.50" y="322.10" width="7.0" height="3.10" fill="#47ad4b" stroke="#1d5e22" stroke-width="1.15"/>
<line x1="299.50" x2="306.50" y1="323.40" y2="323.40" stroke="#23702a" stroke-width="1"/>
<text transform="translate(306.90,318.20) rotate(-90)" font-size="8.4" fill="#8c8c8c">a</text>
<line x1="312.40" x2="312.40" y1="325.50" y2="330.20" stroke="#1d5e22" stroke-width="0.9"/>
<circle cx="311.50" cy="325.50" r="1.5" fill="#47ad4b" stroke="#1d5e22" stroke-width="0.7"/>
<circle cx="312.17" cy="330.20" r="1.5" fill="#47ad4b" stroke="#1d5e22" stroke-width="0.7"/>
<circle cx="313.14" cy="328.60" r="1.5" fill="#47ad4b" stroke="#1d5e22" stroke-width="0.7"/>
<rect x="308.90" y="327.00" width="7.0" height="3.60" fill="#47ad4b" stroke="#1d5e22" stroke-width="1.15"/>
<line x1="308.90" x2="315.90" y1="328.60" y2="328.60" stroke="#23702a" stroke-width="1"/>
<text transform="translate(316.30,322.30) rotate(-90)" font-size="8.4" fill="#8c8c8c">a</text>
<line x1="321.80" x2="321.80" y1="324.80" y2="328.60" stroke="#1d5e22" stroke-width="0.9"/>
<circle cx="320.64" cy="324.80" r="1.5" fill="#47ad4b" stroke="#1d5e22" stroke-width="0.7"/>
<circle cx="321.08" cy="328.60" r="1.5" fill="#47ad4b" stroke="#1d5e22" stroke-width="0.7"/>
<circle cx="322.53" cy="325.50" r="1.5" fill="#47ad4b" stroke="#1d5e22" stroke-width="0.7"/>
<rect x="318.30" y="324.40" width="7.0" height="2.60" fill="#47ad4b" stroke="#1d5e22" stroke-width="1.15"/>
<line x1="318.30" x2="325.30" y1="325.50" y2="325.50" stroke="#23702a" stroke-width="1"/>
<text transform="translate(325.70,320.50) rotate(-90)" font-size="8.4" fill="#8c8c8c">a</text>
<line x1="331.20" x2="331.20" y1="320.30" y2="347.00" stroke="#1d5e22" stroke-width="0.9"/>
<circle cx="332.19" cy="320.30" r="1.5" fill="#47ad4b" stroke="#1d5e22" stroke-width="0.7"/>
<circle cx="332.32" cy="347.00" r="1.5" fill="#47ad4b" stroke="#1d5e22" stroke-width="0.7"/>
<circle cx="329.66" cy="322.10" r="1.5" fill="#47ad4b" stroke="#1d5e22" stroke-width="0.7"/>
<rect x="327.70" y="321.40" width="7.0" height="13.30" fill="#47ad4b" stroke="#1d5e22" stroke-width="0.9"/>
<line x1="327.70" x2="334.70" y1="322.10" y2="322.10" stroke="#23702a" stroke-width="1"/>
<text transform="translate(335.10,317.10) rotate(-90)" font-size="8.4" fill="#8c8c8c">a</text>
<line x1="340.60" x2="340.60" y1="326.70" y2="366.30" stroke="#1d5e22" stroke-width="0.9"/>
<circle cx="340.61" cy="326.70" r="1.5" fill="#47ad4b" stroke="#1d5e22" stroke-width="0.7"/>
<circle cx="341.22" cy="366.30" r="1.5" fill="#47ad4b" stroke="#1d5e22" stroke-width="0.7"/>
<circle cx="340.61" cy="351.20" r="1.5" fill="#47ad4b" stroke="#1d5e22" stroke-width="0.7"/>
<rect x="337.10" y="339.00" width="7.0" height="19.60" fill="#47ad4b" stroke="#1d5e22" stroke-width="0.9"/>
<line x1="337.10" x2="344.10" y1="351.20" y2="351.20" stroke="#23702a" stroke-width="1"/>
<text transform="translate(344.50,323.50) rotate(-90)" font-size="8.4" fill="#8c8c8c">a</text>
<line x1="350.00" x2="350.00" y1="325.60" y2="327.90" stroke="#1d5e22" stroke-width="0.9"/>
<circle cx="350.45" cy="325.60" r="1.5" fill="#47ad4b" stroke="#1d5e22" stroke-width="0.7"/>
<circle cx="349.25" cy="327.90" r="1.5" fill="#47ad4b" stroke="#1d5e22" stroke-width="0.7"/>
<circle cx="348.28" cy="326.70" r="1.5" fill="#47ad4b" stroke="#1d5e22" stroke-width="0.7"/>
<rect x="346.50" y="325.20" width="7.0" height="3.10" fill="#47ad4b" stroke="#1d5e22" stroke-width="1.15"/>
<line x1="346.50" x2="353.50" y1="326.70" y2="326.70" stroke="#23702a" stroke-width="1"/>
<text transform="translate(353.90,321.20) rotate(-90)" font-size="8.4" fill="#8c8c8c">a</text>
<line x1="359.40" x2="359.40" y1="343.60" y2="355.10" stroke="#1d5e22" stroke-width="0.9"/>
<circle cx="358.45" cy="343.60" r="1.5" fill="#47ad4b" stroke="#1d5e22" stroke-width="0.7"/>
<circle cx="358.29" cy="355.10" r="1.5" fill="#47ad4b" stroke="#1d5e22" stroke-width="0.7"/>
<circle cx="359.61" cy="350.00" r="1.5" fill="#47ad4b" stroke="#1d5e22" stroke-width="0.7"/>
<rect x="355.90" y="347.00" width="7.0" height="5.80" fill="#47ad4b" stroke="#1d5e22" stroke-width="0.9"/>
<line x1="355.90" x2="362.90" y1="350.00" y2="350.00" stroke="#23702a" stroke-width="1"/>
<text transform="translate(363.30,340.40) rotate(-90)" font-size="8.4" fill="#8c8c8c">a</text>
<line x1="368.80" x2="368.80" y1="322.50" y2="357.70" stroke="#1d5e22" stroke-width="0.9"/>
<circle cx="368.84" cy="322.50" r="1.5" fill="#47ad4b" stroke="#1d5e22" stroke-width="0.7"/>
<circle cx="368.96" cy="357.70" r="1.5" fill="#47ad4b" stroke="#1d5e22" stroke-width="0.7"/>
<circle cx="367.39" cy="322.80" r="1.5" fill="#47ad4b" stroke="#1d5e22" stroke-width="0.7"/>
<rect x="365.30" y="322.10" width="7.0" height="18.10" fill="#47ad4b" stroke="#1d5e22" stroke-width="0.9"/>
<line x1="365.30" x2="372.30" y1="322.80" y2="322.80" stroke="#23702a" stroke-width="1"/>
<text transform="translate(372.70,318.20) rotate(-90)" font-size="8.4" fill="#8c8c8c">a</text>
<line x1="378.20" x2="378.20" y1="342.40" y2="359.70" stroke="#1d5e22" stroke-width="0.9"/>
<circle cx="377.44" cy="342.40" r="1.5" fill="#47ad4b" stroke="#1d5e22" stroke-width="0.7"/>
<circle cx="377.49" cy="359.70" r="1.5" fill="#47ad4b" stroke="#1d5e22" stroke-width="0.7"/>
<circle cx="379.56" cy="350.00" r="1.5" fill="#47ad4b" stroke="#1d5e22" stroke-width="0.7"/>
<rect x="374.70" y="345.10" width="7.0" height="8.40" fill="#47ad4b" stroke="#1d5e22" stroke-width="0.9"/>
<line x1="374.70" x2="381.70" y1="350.00" y2="350.00" stroke="#23702a" stroke-width="1"/>
<text transform="translate(382.10,339.20) rotate(-90)" font-size="8.4" fill="#8c8c8c">a</text>
<line x1="387.60" x2="387.60" y1="331.00" y2="340.80" stroke="#1d5e22" stroke-width="0.9"/>
<circle cx="388.78" cy="331.00" r="1.5" fill="#47ad4b" stroke="#1d5e22" stroke-width="0.7"/>
<circle cx="388.62" cy="340.80" r="1.5" fill="#47ad4b" stroke="#1d5e22" stroke-width="0.7"/>
<circle cx="385.98" cy="335.30" r="1.5" fill="#47ad4b" stroke="#1d5e22" stroke-width="0.7"/>
<rect x="384.10" y="333.20" width="7.0" height="4.30" fill="#47ad4b" stroke="#1d5e22" stroke-width="0.9"/>
<line x1="384.10" x2="391.10" y1="335.30" y2="335.30" stroke="#23702a" stroke-width="1"/>
<text transform="translate(391.50,327.80) rotate(-90)" font-size="8.4" fill="#8c8c8c">a</text>
</g>
<g clip-path="url(#cpEFF)">
<line x1="405.70" x2="405.70" y1="344.30" y2="349.50" stroke="#8e0f14" stroke-width="0.9"/>
<circle cx="404.65" cy="344.30" r="1.5" fill="#e31b23" stroke="#8e0f14" stroke-width="0.7"/>
<circle cx="406.78" cy="349.50" r="1.5" fill="#e31b23" stroke="#8e0f14" stroke-width="0.7"/>
<circle cx="405.55" cy="348.50" r="1.5" fill="#e31b23" stroke="#8e0f14" stroke-width="0.7"/>
<rect x="402.20" y="346.80" width="7.0" height="3.10" fill="#e31b23" stroke="#8e0f14" stroke-width="1.15"/>
<line x1="402.20" x2="409.20" y1="348.50" y2="348.50" stroke="#a8141a" stroke-width="1"/>
<text transform="translate(409.60,342.60) rotate(-90)" font-size="8.4" fill="#8c8c8c">abcd</text>
<line x1="415.10" x2="415.10" y1="341.30" y2="351.30" stroke="#8e0f14" stroke-width="0.9"/>
<circle cx="415.74" cy="341.30" r="1.5" fill="#e31b23" stroke="#8e0f14" stroke-width="0.7"/>
<circle cx="414.68" cy="351.30" r="1.5" fill="#e31b23" stroke="#8e0f14" stroke-width="0.7"/>
<circle cx="414.97" cy="346.40" r="1.5" fill="#e31b23" stroke="#8e0f14" stroke-width="0.7"/>
<rect x="411.60" y="344.00" width="7.0" height="4.80" fill="#e31b23" stroke="#8e0f14" stroke-width="0.9"/>
<line x1="411.60" x2="418.60" y1="346.40" y2="346.40" stroke="#a8141a" stroke-width="1"/>
<text transform="translate(419.00,339.60) rotate(-90)" font-size="8.4" fill="#8c8c8c">abcd</text>
<line x1="424.50" x2="424.50" y1="331.10" y2="341.50" stroke="#8e0f14" stroke-width="0.9"/>
<circle cx="424.54" cy="331.10" r="1.5" fill="#e31b23" stroke="#8e0f14" stroke-width="0.7"/>
<circle cx="424.33" cy="341.50" r="1.5" fill="#e31b23" stroke="#8e0f14" stroke-width="0.7"/>
<circle cx="424.90" cy="336.70" r="1.5" fill="#e31b23" stroke="#8e0f14" stroke-width="0.7"/>
<rect x="421.00" y="334.30" width="7.0" height="5.20" fill="#e31b23" stroke="#8e0f14" stroke-width="0.9"/>
<line x1="421.00" x2="428.00" y1="336.70" y2="336.70" stroke="#a8141a" stroke-width="1"/>
<text transform="translate(428.40,329.40) rotate(-90)" font-size="8.4" fill="#8c8c8c">ab</text>
<line x1="433.90" x2="433.90" y1="345.00" y2="350.60" stroke="#8e0f14" stroke-width="0.9"/>
<circle cx="432.73" cy="345.00" r="1.5" fill="#e31b23" stroke="#8e0f14" stroke-width="0.7"/>
<circle cx="434.38" cy="350.60" r="1.5" fill="#e31b23" stroke="#8e0f14" stroke-width="0.7"/>
<circle cx="435.28" cy="349.20" r="1.5" fill="#e31b23" stroke="#8e0f14" stroke-width="0.7"/>
<rect x="430.40" y="347.80" width="7.0" height="3.20" fill="#e31b23" stroke="#8e0f14" stroke-width="1.15"/>
<line x1="430.40" x2="437.40" y1="349.20" y2="349.20" stroke="#a8141a" stroke-width="1"/>
<text transform="translate(437.80,343.30) rotate(-90)" font-size="8.4" fill="#8c8c8c">abcd</text>
<line x1="443.30" x2="443.30" y1="339.50" y2="363.00" stroke="#8e0f14" stroke-width="0.9"/>
<circle cx="442.54" cy="339.50" r="1.5" fill="#e31b23" stroke="#8e0f14" stroke-width="0.7"/>
<circle cx="443.19" cy="363.00" r="1.5" fill="#e31b23" stroke="#8e0f14" stroke-width="0.7"/>
<circle cx="444.26" cy="347.80" r="1.5" fill="#e31b23" stroke="#8e0f14" stroke-width="0.7"/>
<rect x="439.80" y="344.30" width="7.0" height="11.10" fill="#e31b23" stroke="#8e0f14" stroke-width="0.9"/>
<line x1="439.80" x2="446.80" y1="347.80" y2="347.80" stroke="#a8141a" stroke-width="1"/>
<text transform="translate(447.20,337.80) rotate(-90)" font-size="8.4" fill="#8c8c8c">abcd</text>
<line x1="452.70" x2="452.70" y1="338.50" y2="358.20" stroke="#8e0f14" stroke-width="0.9"/>
<circle cx="452.47" cy="338.50" r="1.5" fill="#e31b23" stroke="#8e0f14" stroke-width="0.7"/>
<circle cx="451.97" cy="358.20" r="1.5" fill="#e31b23" stroke="#8e0f14" stroke-width="0.7"/>
<circle cx="451.36" cy="352.00" r="1.5" fill="#e31b23" stroke="#8e0f14" stroke-width="0.7"/>
<rect x="449.20" y="346.00" width="7.0" height="9.40" fill="#e31b23" stroke="#8e0f14" stroke-width="0.9"/>
<line x1="449.20" x2="456.20" y1="352.00" y2="352.00" stroke="#a8141a" stroke-width="1"/>
<text transform="translate(456.60,336.80) rotate(-90)" font-size="8.4" fill="#8c8c8c">abcd</text>
<line x1="462.10" x2="462.10" y1="344.30" y2="344.30" stroke="#8e0f14" stroke-width="0.9"/>
<circle cx="462.13" cy="344.30" r="1.5" fill="#e31b23" stroke="#8e0f14" stroke-width="0.7"/>
<circle cx="460.94" cy="344.30" r="1.5" fill="#e31b23" stroke="#8e0f14" stroke-width="0.7"/>
<circle cx="463.67" cy="344.30" r="1.5" fill="#e31b23" stroke="#8e0f14" stroke-width="0.7"/>
<rect x="458.60" y="344.00" width="7.0" height="0.60" fill="#e31b23" stroke="#8e0f14" stroke-width="1.15"/>
<line x1="458.60" x2="465.60" y1="344.30" y2="344.30" stroke="#a8141a" stroke-width="1"/>
<text transform="translate(466.00,342.60) rotate(-90)" font-size="8.4" fill="#8c8c8c">abcd</text>
<line x1="471.50" x2="471.50" y1="353.00" y2="358.20" stroke="#1d5e22" stroke-width="0.9"/>
<circle cx="472.22" cy="353.00" r="1.5" fill="#47ad4b" stroke="#1d5e22" stroke-width="0.7"/>
<circle cx="471.99" cy="358.20" r="1.5" fill="#47ad4b" stroke="#1d5e22" stroke-width="0.7"/>
<circle cx="472.94" cy="354.00" r="1.5" fill="#47ad4b" stroke="#1d5e22" stroke-width="0.7"/>
<rect x="468.00" y="352.60" width="7.0" height="3.50" fill="#47ad4b" stroke="#1d5e22" stroke-width="1.15"/>
<line x1="468.00" x2="475.00" y1="354.00" y2="354.00" stroke="#23702a" stroke-width="1"/>
<text transform="translate(475.40,350.70) rotate(-90)" font-size="8.4" fill="#8c8c8c">abcd</text>
<line x1="480.90" x2="480.90" y1="358.20" y2="383.80" stroke="#1d5e22" stroke-width="0.9"/>
<circle cx="481.21" cy="358.20" r="1.5" fill="#47ad4b" stroke="#1d5e22" stroke-width="0.7"/>
<circle cx="480.67" cy="383.80" r="1.5" fill="#47ad4b" stroke="#1d5e22" stroke-width="0.7"/>
<circle cx="481.30" cy="363.70" r="1.5" fill="#47ad4b" stroke="#1d5e22" stroke-width="0.7"/>
<rect x="477.40" y="361.20" width="7.0" height="12.20" fill="#47ad4b" stroke="#1d5e22" stroke-width="0.9"/>
<line x1="477.40" x2="484.40" y1="363.70" y2="363.70" stroke="#23702a" stroke-width="1"/>
<text transform="translate(484.80,356.50) rotate(-90)" font-size="8.4" fill="#8c8c8c">bcd</text>
<line x1="490.30" x2="490.30" y1="368.60" y2="379.70" stroke="#1d5e22" stroke-width="0.9"/>
<circle cx="490.31" cy="368.60" r="1.5" fill="#47ad4b" stroke="#1d5e22" stroke-width="0.7"/>
<circle cx="491.46" cy="379.70" r="1.5" fill="#47ad4b" stroke="#1d5e22" stroke-width="0.7"/>
<circle cx="491.52" cy="375.50" r="1.5" fill="#47ad4b" stroke="#1d5e22" stroke-width="0.7"/>
<rect x="486.80" y="372.70" width="7.0" height="5.60" fill="#47ad4b" stroke="#1d5e22" stroke-width="0.9"/>
<line x1="486.80" x2="493.80" y1="375.50" y2="375.50" stroke="#23702a" stroke-width="1"/>
<text transform="translate(494.20,366.90) rotate(-90)" font-size="8.4" fill="#8c8c8c">d</text>
<line x1="499.70" x2="499.70" y1="340.20" y2="349.70" stroke="#1d5e22" stroke-width="0.9"/>
<circle cx="499.12" cy="340.20" r="1.5" fill="#47ad4b" stroke="#1d5e22" stroke-width="0.7"/>
<circle cx="500.69" cy="349.70" r="1.5" fill="#47ad4b" stroke="#1d5e22" stroke-width="0.7"/>
<circle cx="500.68" cy="347.80" r="1.5" fill="#47ad4b" stroke="#1d5e22" stroke-width="0.7"/>
<rect x="496.20" y="345.00" width="7.0" height="5.10" fill="#47ad4b" stroke="#1d5e22" stroke-width="0.9"/>
<line x1="496.20" x2="503.20" y1="347.80" y2="347.80" stroke="#23702a" stroke-width="1"/>
<text transform="translate(503.60,338.50) rotate(-90)" font-size="8.4" fill="#8c8c8c">abcd</text>
<line x1="509.10" x2="509.10" y1="331.60" y2="383.80" stroke="#1d5e22" stroke-width="0.9"/>
<circle cx="509.77" cy="331.60" r="1.5" fill="#47ad4b" stroke="#1d5e22" stroke-width="0.7"/>
<circle cx="509.86" cy="383.80" r="1.5" fill="#47ad4b" stroke="#1d5e22" stroke-width="0.7"/>
<circle cx="508.72" cy="357.10" r="1.5" fill="#47ad4b" stroke="#1d5e22" stroke-width="0.7"/>
<rect x="505.60" y="344.30" width="7.0" height="26.40" fill="#47ad4b" stroke="#1d5e22" stroke-width="0.9"/>
<line x1="505.60" x2="512.60" y1="357.10" y2="357.10" stroke="#23702a" stroke-width="1"/>
<text transform="translate(513.00,329.90) rotate(-90)" font-size="8.4" fill="#8c8c8c">abcd</text>
<line x1="518.50" x2="518.50" y1="335.30" y2="354.70" stroke="#1d5e22" stroke-width="0.9"/>
<circle cx="519.45" cy="335.30" r="1.5" fill="#47ad4b" stroke="#1d5e22" stroke-width="0.7"/>
<circle cx="519.41" cy="354.70" r="1.5" fill="#47ad4b" stroke="#1d5e22" stroke-width="0.7"/>
<circle cx="519.28" cy="338.80" r="1.5" fill="#47ad4b" stroke="#1d5e22" stroke-width="0.7"/>
<rect x="515.00" y="337.40" width="7.0" height="9.70" fill="#47ad4b" stroke="#1d5e22" stroke-width="0.9"/>
<line x1="515.00" x2="522.00" y1="338.80" y2="338.80" stroke="#23702a" stroke-width="1"/>
<text transform="translate(522.40,333.60) rotate(-90)" font-size="8.4" fill="#8c8c8c">abcd</text>
<line x1="527.90" x2="527.90" y1="332.50" y2="342.20" stroke="#1d5e22" stroke-width="0.9"/>
<circle cx="528.54" cy="332.50" r="1.5" fill="#47ad4b" stroke="#1d5e22" stroke-width="0.7"/>
<circle cx="528.54" cy="342.20" r="1.5" fill="#47ad4b" stroke="#1d5e22" stroke-width="0.7"/>
<circle cx="527.52" cy="336.30" r="1.5" fill="#47ad4b" stroke="#1d5e22" stroke-width="0.7"/>
<rect x="524.40" y="334.30" width="7.0" height="4.70" fill="#47ad4b" stroke="#1d5e22" stroke-width="0.9"/>
<line x1="524.40" x2="531.40" y1="336.30" y2="336.30" stroke="#23702a" stroke-width="1"/>
<text transform="translate(531.80,330.80) rotate(-90)" font-size="8.4" fill="#8c8c8c">ab</text>
<line x1="537.30" x2="537.30" y1="335.70" y2="352.40" stroke="#1d5e22" stroke-width="0.9"/>
<circle cx="537.83" cy="335.70" r="1.5" fill="#47ad4b" stroke="#1d5e22" stroke-width="0.7"/>
<circle cx="536.27" cy="352.40" r="1.5" fill="#47ad4b" stroke="#1d5e22" stroke-width="0.7"/>
<circle cx="536.67" cy="347.80" r="1.5" fill="#47ad4b" stroke="#1d5e22" stroke-width="0.7"/>
<rect x="533.80" y="341.30" width="7.0" height="8.60" fill="#47ad4b" stroke="#1d5e22" stroke-width="0.9"/>
<line x1="533.80" x2="540.80" y1="347.80" y2="347.80" stroke="#23702a" stroke-width="1"/>
<text transform="translate(541.20,334.00) rotate(-90)" font-size="8.4" fill="#8c8c8c">abcd</text>
<line x1="546.70" x2="546.70" y1="343.00" y2="350.60" stroke="#1d5e22" stroke-width="0.9"/>
<circle cx="546.63" cy="343.00" r="1.5" fill="#47ad4b" stroke="#1d5e22" stroke-width="0.7"/>
<circle cx="545.53" cy="350.60" r="1.5" fill="#47ad4b" stroke="#1d5e22" stroke-width="0.7"/>
<circle cx="546.12" cy="347.40" r="1.5" fill="#47ad4b" stroke="#1d5e22" stroke-width="0.7"/>
<rect x="543.20" y="345.40" width="7.0" height="3.80" fill="#47ad4b" stroke="#1d5e22" stroke-width="1.15"/>
<line x1="543.20" x2="550.20" y1="347.40" y2="347.40" stroke="#23702a" stroke-width="1"/>
<text transform="translate(550.60,341.30) rotate(-90)" font-size="8.4" fill="#8c8c8c">abcd</text>
<line x1="556.10" x2="556.10" y1="335.30" y2="345.70" stroke="#1d5e22" stroke-width="0.9"/>
<circle cx="556.43" cy="335.30" r="1.5" fill="#47ad4b" stroke="#1d5e22" stroke-width="0.7"/>
<circle cx="556.40" cy="345.70" r="1.5" fill="#47ad4b" stroke="#1d5e22" stroke-width="0.7"/>
<circle cx="555.03" cy="339.50" r="1.5" fill="#47ad4b" stroke="#1d5e22" stroke-width="0.7"/>
<rect x="552.60" y="337.10" width="7.0" height="5.10" fill="#47ad4b" stroke="#1d5e22" stroke-width="0.9"/>
<line x1="552.60" x2="559.60" y1="339.50" y2="339.50" stroke="#23702a" stroke-width="1"/>
<text transform="translate(560.00,333.60) rotate(-90)" font-size="8.4" fill="#8c8c8c">abc</text>
<line x1="565.50" x2="565.50" y1="342.20" y2="364.80" stroke="#1d5e22" stroke-width="0.9"/>
<circle cx="566.57" cy="342.20" r="1.5" fill="#47ad4b" stroke="#1d5e22" stroke-width="0.7"/>
<circle cx="565.90" cy="364.80" r="1.5" fill="#47ad4b" stroke="#1d5e22" stroke-width="0.7"/>
<circle cx="564.85" cy="345.00" r="1.5" fill="#47ad4b" stroke="#1d5e22" stroke-width="0.7"/>
<rect x="562.00" y="344.30" width="7.0" height="11.10" fill="#47ad4b" stroke="#1d5e22" stroke-width="0.9"/>
<line x1="562.00" x2="569.00" y1="345.00" y2="345.00" stroke="#23702a" stroke-width="1"/>
<text transform="translate(569.40,340.50) rotate(-90)" font-size="8.4" fill="#8c8c8c">abcd</text>
<line x1="574.90" x2="574.90" y1="344.30" y2="356.10" stroke="#1d5e22" stroke-width="0.9"/>
<circle cx="575.28" cy="344.30" r="1.5" fill="#47ad4b" stroke="#1d5e22" stroke-width="0.7"/>
<circle cx="575.07" cy="356.10" r="1.5" fill="#47ad4b" stroke="#1d5e22" stroke-width="0.7"/>
<circle cx="575.03" cy="350.50" r="1.5" fill="#47ad4b" stroke="#1d5e22" stroke-width="0.7"/>
<rect x="571.40" y="348.20" width="7.0" height="5.10" fill="#47ad4b" stroke="#1d5e22" stroke-width="0.9"/>
<line x1="571.40" x2="578.40" y1="350.50" y2="350.50" stroke="#23702a" stroke-width="1"/>
<text transform="translate(578.80,342.60) rotate(-90)" font-size="8.4" fill="#8c8c8c">abcd</text>
<line x1="584.30" x2="584.30" y1="354.30" y2="365.80" stroke="#1d5e22" stroke-width="0.9"/>
<circle cx="584.04" cy="354.30" r="1.5" fill="#47ad4b" stroke="#1d5e22" stroke-width="0.7"/>
<circle cx="585.50" cy="365.80" r="1.5" fill="#47ad4b" stroke="#1d5e22" stroke-width="0.7"/>
<circle cx="584.87" cy="359.70" r="1.5" fill="#47ad4b" stroke="#1d5e22" stroke-width="0.7"/>
<rect x="580.80" y="357.40" width="7.0" height="5.30" fill="#47ad4b" stroke="#1d5e22" stroke-width="0.9"/>
<line x1="580.80" x2="587.80" y1="359.70" y2="359.70" stroke="#23702a" stroke-width="1"/>
<text transform="translate(588.20,352.60) rotate(-90)" font-size="8.4" fill="#8c8c8c">abcd</text>
<line x1="593.70" x2="593.70" y1="349.40" y2="366.30" stroke="#1d5e22" stroke-width="0.9"/>
<circle cx="594.18" cy="349.40" r="1.5" fill="#47ad4b" stroke="#1d5e22" stroke-width="0.7"/>
<circle cx="594.33" cy="366.30" r="1.5" fill="#47ad4b" stroke="#1d5e22" stroke-width="0.7"/>
<circle cx="595.62" cy="360.40" r="1.5" fill="#47ad4b" stroke="#1d5e22" stroke-width="0.7"/>
<rect x="590.20" y="357.10" width="7.0" height="7.90" fill="#47ad4b" stroke="#1d5e22" stroke-width="0.9"/>
<line x1="590.20" x2="597.20" y1="360.40" y2="360.40" stroke="#23702a" stroke-width="1"/>
<text transform="translate(597.60,347.70) rotate(-90)" font-size="8.4" fill="#8c8c8c">abcd</text>
<line x1="603.10" x2="603.10" y1="352.00" y2="370.40" stroke="#1d5e22" stroke-width="0.9"/>
<circle cx="601.95" cy="352.00" r="1.5" fill="#47ad4b" stroke="#1d5e22" stroke-width="0.7"/>
<circle cx="603.38" cy="370.40" r="1.5" fill="#47ad4b" stroke="#1d5e22" stroke-width="0.7"/>
<circle cx="604.06" cy="363.50" r="1.5" fill="#47ad4b" stroke="#1d5e22" stroke-width="0.7"/>
<rect x="599.60" y="359.20" width="7.0" height="9.20" fill="#47ad4b" stroke="#1d5e22" stroke-width="0.9"/>
<line x1="599.60" x2="606.60" y1="363.50" y2="363.50" stroke="#23702a" stroke-width="1"/>
<text transform="translate(607.00,350.30) rotate(-90)" font-size="8.4" fill="#8c8c8c">abcd</text>
<line x1="612.50" x2="612.50" y1="374.40" y2="379.10" stroke="#1d5e22" stroke-width="0.9"/>
<circle cx="611.92" cy="374.40" r="1.5" fill="#47ad4b" stroke="#1d5e22" stroke-width="0.7"/>
<circle cx="612.26" cy="379.10" r="1.5" fill="#47ad4b" stroke="#1d5e22" stroke-width="0.7"/>
<circle cx="610.70" cy="375.50" r="1.5" fill="#47ad4b" stroke="#1d5e22" stroke-width="0.7"/>
<rect x="609.00" y="374.00" width="7.0" height="3.00" fill="#47ad4b" stroke="#1d5e22" stroke-width="1.15"/>
<line x1="609.00" x2="616.00" y1="375.50" y2="375.50" stroke="#23702a" stroke-width="1"/>
<text transform="translate(616.40,371.80) rotate(-90)" font-size="8.4" fill="#8c8c8c">d</text>
<line x1="621.90" x2="621.90" y1="332.50" y2="336.30" stroke="#1d5e22" stroke-width="0.9"/>
<circle cx="621.17" cy="332.50" r="1.5" fill="#47ad4b" stroke="#1d5e22" stroke-width="0.7"/>
<circle cx="621.60" cy="336.30" r="1.5" fill="#47ad4b" stroke="#1d5e22" stroke-width="0.7"/>
<circle cx="620.29" cy="335.20" r="1.5" fill="#47ad4b" stroke="#1d5e22" stroke-width="0.7"/>
<rect x="618.40" y="334.10" width="7.0" height="2.60" fill="#47ad4b" stroke="#1d5e22" stroke-width="1.15"/>
<line x1="618.40" x2="625.40" y1="335.20" y2="335.20" stroke="#23702a" stroke-width="1"/>
<text transform="translate(625.80,330.80) rotate(-90)" font-size="8.4" fill="#8c8c8c">a</text>
<line x1="631.30" x2="631.30" y1="340.50" y2="366.30" stroke="#1d5e22" stroke-width="0.9"/>
<circle cx="630.70" cy="340.50" r="1.5" fill="#47ad4b" stroke="#1d5e22" stroke-width="0.7"/>
<circle cx="632.27" cy="366.30" r="1.5" fill="#47ad4b" stroke="#1d5e22" stroke-width="0.7"/>
<circle cx="631.50" cy="353.50" r="1.5" fill="#47ad4b" stroke="#1d5e22" stroke-width="0.7"/>
<rect x="627.80" y="346.60" width="7.0" height="13.10" fill="#47ad4b" stroke="#1d5e22" stroke-width="0.9"/>
<line x1="627.80" x2="634.80" y1="353.50" y2="353.50" stroke="#23702a" stroke-width="1"/>
<text transform="translate(635.20,338.80) rotate(-90)" font-size="8.4" fill="#8c8c8c">abcd</text>
<line x1="640.70" x2="640.70" y1="363.80" y2="372.60" stroke="#1d5e22" stroke-width="0.9"/>
<circle cx="640.72" cy="363.80" r="1.5" fill="#47ad4b" stroke="#1d5e22" stroke-width="0.7"/>
<circle cx="641.82" cy="372.60" r="1.5" fill="#47ad4b" stroke="#1d5e22" stroke-width="0.7"/>
<circle cx="640.97" cy="370.40" r="1.5" fill="#47ad4b" stroke="#1d5e22" stroke-width="0.7"/>
<rect x="637.20" y="368.10" width="7.0" height="4.90" fill="#47ad4b" stroke="#1d5e22" stroke-width="0.9"/>
<line x1="637.20" x2="644.20" y1="370.40" y2="370.40" stroke="#23702a" stroke-width="1"/>
<text transform="translate(644.60,362.10) rotate(-90)" font-size="8.4" fill="#8c8c8c">cd</text>
<line x1="650.10" x2="650.10" y1="341.70" y2="345.40" stroke="#1d5e22" stroke-width="0.9"/>
<circle cx="651.29" cy="341.70" r="1.5" fill="#47ad4b" stroke="#1d5e22" stroke-width="0.7"/>
<circle cx="650.43" cy="345.40" r="1.5" fill="#47ad4b" stroke="#1d5e22" stroke-width="0.7"/>
<circle cx="651.34" cy="342.00" r="1.5" fill="#47ad4b" stroke="#1d5e22" stroke-width="0.7"/>
<rect x="646.60" y="341.30" width="7.0" height="2.00" fill="#47ad4b" stroke="#1d5e22" stroke-width="1.15"/>
<line x1="646.60" x2="653.60" y1="342.00" y2="342.00" stroke="#23702a" stroke-width="1"/>
<text transform="translate(654.00,339.10) rotate(-90)" font-size="8.4" fill="#8c8c8c">abcd</text>
<line x1="659.50" x2="659.50" y1="335.60" y2="344.80" stroke="#1d5e22" stroke-width="0.9"/>
<circle cx="658.48" cy="335.60" r="1.5" fill="#47ad4b" stroke="#1d5e22" stroke-width="0.7"/>
<circle cx="659.73" cy="344.80" r="1.5" fill="#47ad4b" stroke="#1d5e22" stroke-width="0.7"/>
<circle cx="660.54" cy="340.20" r="1.5" fill="#47ad4b" stroke="#1d5e22" stroke-width="0.7"/>
<rect x="656.00" y="338.20" width="7.0" height="4.20" fill="#47ad4b" stroke="#1d5e22" stroke-width="0.9"/>
<line x1="656.00" x2="663.00" y1="340.20" y2="340.20" stroke="#23702a" stroke-width="1"/>
<text transform="translate(663.40,333.90) rotate(-90)" font-size="8.4" fill="#8c8c8c">abcd</text>
<line x1="668.90" x2="668.90" y1="342.40" y2="363.80" stroke="#1d5e22" stroke-width="0.9"/>
<circle cx="667.81" cy="342.40" r="1.5" fill="#47ad4b" stroke="#1d5e22" stroke-width="0.7"/>
<circle cx="669.93" cy="363.80" r="1.5" fill="#47ad4b" stroke="#1d5e22" stroke-width="0.7"/>
<circle cx="667.54" cy="352.00" r="1.5" fill="#47ad4b" stroke="#1d5e22" stroke-width="0.7"/>
<rect x="665.40" y="347.40" width="7.0" height="10.00" fill="#47ad4b" stroke="#1d5e22" stroke-width="0.9"/>
<line x1="665.40" x2="672.40" y1="352.00" y2="352.00" stroke="#23702a" stroke-width="1"/>
<text transform="translate(672.80,340.70) rotate(-90)" font-size="8.4" fill="#8c8c8c">abcd</text>
<line x1="678.30" x2="678.30" y1="337.50" y2="363.50" stroke="#1d5e22" stroke-width="0.9"/>
<circle cx="678.23" cy="337.50" r="1.5" fill="#47ad4b" stroke="#1d5e22" stroke-width="0.7"/>
<circle cx="677.51" cy="363.50" r="1.5" fill="#47ad4b" stroke="#1d5e22" stroke-width="0.7"/>
<circle cx="678.28" cy="341.30" r="1.5" fill="#47ad4b" stroke="#1d5e22" stroke-width="0.7"/>
<rect x="674.80" y="339.80" width="7.0" height="12.20" fill="#47ad4b" stroke="#1d5e22" stroke-width="0.9"/>
<line x1="674.80" x2="681.80" y1="341.30" y2="341.30" stroke="#23702a" stroke-width="1"/>
<text transform="translate(682.20,335.80) rotate(-90)" font-size="8.4" fill="#8c8c8c">abcd</text>
</g>
<g clip-path="url(#cpESB)">
<line x1="115.00" x2="115.00" y1="430.40" y2="433.10" stroke="#8e0f14" stroke-width="0.9"/>
<circle cx="115.27" cy="430.40" r="1.5" fill="#e31b23" stroke="#8e0f14" stroke-width="0.7"/>
<circle cx="113.94" cy="433.10" r="1.5" fill="#e31b23" stroke="#8e0f14" stroke-width="0.7"/>
<circle cx="116.78" cy="431.80" r="1.5" fill="#e31b23" stroke="#8e0f14" stroke-width="0.7"/>
<rect x="111.50" y="430.00" width="7.0" height="3.50" fill="#e31b23" stroke="#8e0f14" stroke-width="1.15"/>
<line x1="111.50" x2="118.50" y1="431.80" y2="431.80" stroke="#a8141a" stroke-width="1"/>
<text transform="translate(118.90,426.90) rotate(-90)" font-size="8.4" fill="#8c8c8c">bcdefg</text>
<line x1="124.40" x2="124.40" y1="431.80" y2="434.80" stroke="#8e0f14" stroke-width="0.9"/>
<circle cx="124.21" cy="431.80" r="1.5" fill="#e31b23" stroke="#8e0f14" stroke-width="0.7"/>
<circle cx="124.46" cy="434.80" r="1.5" fill="#e31b23" stroke="#8e0f14" stroke-width="0.7"/>
<circle cx="124.79" cy="433.20" r="1.5" fill="#e31b23" stroke="#8e0f14" stroke-width="0.7"/>
<rect x="120.90" y="431.40" width="7.0" height="3.80" fill="#e31b23" stroke="#8e0f14" stroke-width="1.15"/>
<line x1="120.90" x2="127.90" y1="433.20" y2="433.20" stroke="#a8141a" stroke-width="1"/>
<text transform="translate(128.30,428.30) rotate(-90)" font-size="8.4" fill="#8c8c8c">fg</text>
<line x1="133.80" x2="133.80" y1="430.00" y2="432.00" stroke="#8e0f14" stroke-width="0.9"/>
<circle cx="133.48" cy="430.00" r="1.5" fill="#e31b23" stroke="#8e0f14" stroke-width="0.7"/>
<circle cx="133.29" cy="432.00" r="1.5" fill="#e31b23" stroke="#8e0f14" stroke-width="0.7"/>
<circle cx="134.42" cy="431.00" r="1.5" fill="#e31b23" stroke="#8e0f14" stroke-width="0.7"/>
<rect x="130.30" y="429.60" width="7.0" height="2.80" fill="#e31b23" stroke="#8e0f14" stroke-width="1.15"/>
<line x1="130.30" x2="137.30" y1="431.00" y2="431.00" stroke="#a8141a" stroke-width="1"/>
<text transform="translate(137.70,426.50) rotate(-90)" font-size="8.4" fill="#8c8c8c">abcde</text>
<line x1="143.20" x2="143.20" y1="429.10" y2="431.00" stroke="#8e0f14" stroke-width="0.9"/>
<circle cx="143.35" cy="429.10" r="1.5" fill="#e31b23" stroke="#8e0f14" stroke-width="0.7"/>
<circle cx="142.68" cy="431.00" r="1.5" fill="#e31b23" stroke="#8e0f14" stroke-width="0.7"/>
<circle cx="144.07" cy="430.00" r="1.5" fill="#e31b23" stroke="#8e0f14" stroke-width="0.7"/>
<rect x="139.70" y="428.70" width="7.0" height="2.70" fill="#e31b23" stroke="#8e0f14" stroke-width="1.15"/>
<line x1="139.70" x2="146.70" y1="430.00" y2="430.00" stroke="#a8141a" stroke-width="1"/>
<text transform="translate(147.10,425.60) rotate(-90)" font-size="8.4" fill="#8c8c8c">abcd</text>
<line x1="152.60" x2="152.60" y1="429.40" y2="431.00" stroke="#8e0f14" stroke-width="0.9"/>
<circle cx="152.11" cy="429.40" r="1.5" fill="#e31b23" stroke="#8e0f14" stroke-width="0.7"/>
<circle cx="151.43" cy="431.00" r="1.5" fill="#e31b23" stroke="#8e0f14" stroke-width="0.7"/>
<circle cx="151.58" cy="430.20" r="1.5" fill="#e31b23" stroke="#8e0f14" stroke-width="0.7"/>
<rect x="149.10" y="429.00" width="7.0" height="2.40" fill="#e31b23" stroke="#8e0f14" stroke-width="1.15"/>
<line x1="149.10" x2="156.10" y1="430.20" y2="430.20" stroke="#a8141a" stroke-width="1"/>
<text transform="translate(156.50,425.90) rotate(-90)" font-size="8.4" fill="#8c8c8c">abcde</text>
<line x1="162.00" x2="162.00" y1="429.80" y2="431.70" stroke="#8e0f14" stroke-width="0.9"/>
<circle cx="160.90" cy="429.80" r="1.5" fill="#e31b23" stroke="#8e0f14" stroke-width="0.7"/>
<circle cx="161.18" cy="431.70" r="1.5" fill="#e31b23" stroke="#8e0f14" stroke-width="0.7"/>
<circle cx="163.02" cy="430.80" r="1.5" fill="#e31b23" stroke="#8e0f14" stroke-width="0.7"/>
<rect x="158.50" y="429.40" width="7.0" height="2.70" fill="#e31b23" stroke="#8e0f14" stroke-width="1.15"/>
<line x1="158.50" x2="165.50" y1="430.80" y2="430.80" stroke="#a8141a" stroke-width="1"/>
<text transform="translate(165.90,426.30) rotate(-90)" font-size="8.4" fill="#8c8c8c">abcde</text>
<line x1="171.40" x2="171.40" y1="431.80" y2="433.80" stroke="#8e0f14" stroke-width="0.9"/>
<circle cx="171.14" cy="431.80" r="1.5" fill="#e31b23" stroke="#8e0f14" stroke-width="0.7"/>
<circle cx="172.35" cy="433.80" r="1.5" fill="#e31b23" stroke="#8e0f14" stroke-width="0.7"/>
<circle cx="172.39" cy="432.80" r="1.5" fill="#e31b23" stroke="#8e0f14" stroke-width="0.7"/>
<rect x="167.90" y="431.40" width="7.0" height="2.80" fill="#e31b23" stroke="#8e0f14" stroke-width="1.15"/>
<line x1="167.90" x2="174.90" y1="432.80" y2="432.80" stroke="#a8141a" stroke-width="1"/>
<text transform="translate(175.30,428.30) rotate(-90)" font-size="8.4" fill="#8c8c8c">efg</text>
<line x1="180.80" x2="180.80" y1="429.80" y2="431.70" stroke="#1d5e22" stroke-width="0.9"/>
<circle cx="179.72" cy="429.80" r="1.5" fill="#47ad4b" stroke="#1d5e22" stroke-width="0.7"/>
<circle cx="181.97" cy="431.70" r="1.5" fill="#47ad4b" stroke="#1d5e22" stroke-width="0.7"/>
<circle cx="182.58" cy="430.80" r="1.5" fill="#47ad4b" stroke="#1d5e22" stroke-width="0.7"/>
<rect x="177.30" y="429.40" width="7.0" height="2.70" fill="#47ad4b" stroke="#1d5e22" stroke-width="1.15"/>
<line x1="177.30" x2="184.30" y1="430.80" y2="430.80" stroke="#23702a" stroke-width="1"/>
<text transform="translate(184.70,426.30) rotate(-90)" font-size="8.4" fill="#8c8c8c">abcde</text>
<line x1="190.20" x2="190.20" y1="430.40" y2="432.80" stroke="#1d5e22" stroke-width="0.9"/>
<circle cx="189.18" cy="430.40" r="1.5" fill="#47ad4b" stroke="#1d5e22" stroke-width="0.7"/>
<circle cx="191.17" cy="432.80" r="1.5" fill="#47ad4b" stroke="#1d5e22" stroke-width="0.7"/>
<circle cx="189.92" cy="431.60" r="1.5" fill="#47ad4b" stroke="#1d5e22" stroke-width="0.7"/>
<rect x="186.70" y="430.00" width="7.0" height="3.20" fill="#47ad4b" stroke="#1d5e22" stroke-width="1.15"/>
<line x1="186.70" x2="193.70" y1="431.60" y2="431.60" stroke="#23702a" stroke-width="1"/>
<text transform="translate(194.10,426.90) rotate(-90)" font-size="8.4" fill="#8c8c8c">defg</text>
<line x1="199.60" x2="199.60" y1="429.80" y2="431.70" stroke="#1d5e22" stroke-width="0.9"/>
<circle cx="199.55" cy="429.80" r="1.5" fill="#47ad4b" stroke="#1d5e22" stroke-width="0.7"/>
<circle cx="200.74" cy="431.70" r="1.5" fill="#47ad4b" stroke="#1d5e22" stroke-width="0.7"/>
<circle cx="198.57" cy="430.80" r="1.5" fill="#47ad4b" stroke="#1d5e22" stroke-width="0.7"/>
<rect x="196.10" y="429.40" width="7.0" height="2.70" fill="#47ad4b" stroke="#1d5e22" stroke-width="1.15"/>
<line x1="196.10" x2="203.10" y1="430.80" y2="430.80" stroke="#23702a" stroke-width="1"/>
<text transform="translate(203.50,426.30) rotate(-90)" font-size="8.4" fill="#8c8c8c">abcde</text>
<line x1="209.00" x2="209.00" y1="429.80" y2="431.70" stroke="#1d5e22" stroke-width="0.9"/>
<circle cx="209.06" cy="429.80" r="1.5" fill="#47ad4b" stroke="#1d5e22" stroke-width="0.7"/>
<circle cx="210.05" cy="431.70" r="1.5" fill="#47ad4b" stroke="#1d5e22" stroke-width="0.7"/>
<circle cx="209.89" cy="430.80" r="1.5" fill="#47ad4b" stroke="#1d5e22" stroke-width="0.7"/>
<rect x="205.50" y="429.40" width="7.0" height="2.70" fill="#47ad4b" stroke="#1d5e22" stroke-width="1.15"/>
<line x1="205.50" x2="212.50" y1="430.80" y2="430.80" stroke="#23702a" stroke-width="1"/>
<text transform="translate(212.90,426.30) rotate(-90)" font-size="8.4" fill="#8c8c8c">abcde</text>
<line x1="218.40" x2="218.40" y1="429.10" y2="431.70" stroke="#1d5e22" stroke-width="0.9"/>
<circle cx="218.32" cy="429.10" r="1.5" fill="#47ad4b" stroke="#1d5e22" stroke-width="0.7"/>
<circle cx="219.55" cy="431.70" r="1.5" fill="#47ad4b" stroke="#1d5e22" stroke-width="0.7"/>
<circle cx="219.67" cy="430.40" r="1.5" fill="#47ad4b" stroke="#1d5e22" stroke-width="0.7"/>
<rect x="214.90" y="428.70" width="7.0" height="3.40" fill="#47ad4b" stroke="#1d5e22" stroke-width="1.15"/>
<line x1="214.90" x2="221.90" y1="430.40" y2="430.40" stroke="#23702a" stroke-width="1"/>
<text transform="translate(222.30,425.60) rotate(-90)" font-size="8.4" fill="#8c8c8c">abcde</text>
<line x1="227.80" x2="227.80" y1="428.60" y2="430.30" stroke="#1d5e22" stroke-width="0.9"/>
<circle cx="228.05" cy="428.60" r="1.5" fill="#47ad4b" stroke="#1d5e22" stroke-width="0.7"/>
<circle cx="226.88" cy="430.30" r="1.5" fill="#47ad4b" stroke="#1d5e22" stroke-width="0.7"/>
<circle cx="228.30" cy="429.50" r="1.5" fill="#47ad4b" stroke="#1d5e22" stroke-width="0.7"/>
<rect x="224.30" y="428.20" width="7.0" height="2.50" fill="#47ad4b" stroke="#1d5e22" stroke-width="1.15"/>
<line x1="224.30" x2="231.30" y1="429.50" y2="429.50" stroke="#23702a" stroke-width="1"/>
<text transform="translate(231.70,425.10) rotate(-90)" font-size="8.4" fill="#8c8c8c">ab</text>
<line x1="237.20" x2="237.20" y1="429.80" y2="432.00" stroke="#1d5e22" stroke-width="0.9"/>
<circle cx="237.09" cy="429.80" r="1.5" fill="#47ad4b" stroke="#1d5e22" stroke-width="0.7"/>
<circle cx="236.49" cy="432.00" r="1.5" fill="#47ad4b" stroke="#1d5e22" stroke-width="0.7"/>
<circle cx="235.41" cy="430.90" r="1.5" fill="#47ad4b" stroke="#1d5e22" stroke-width="0.7"/>
<rect x="233.70" y="429.40" width="7.0" height="3.00" fill="#47ad4b" stroke="#1d5e22" stroke-width="1.15"/>
<line x1="233.70" x2="240.70" y1="430.90" y2="430.90" stroke="#23702a" stroke-width="1"/>
<text transform="translate(241.10,426.30) rotate(-90)" font-size="8.4" fill="#8c8c8c">abcde</text>
<line x1="246.60" x2="246.60" y1="428.10" y2="429.60" stroke="#1d5e22" stroke-width="0.9"/>
<circle cx="246.67" cy="428.10" r="1.5" fill="#47ad4b" stroke="#1d5e22" stroke-width="0.7"/>
<circle cx="245.70" cy="429.60" r="1.5" fill="#47ad4b" stroke="#1d5e22" stroke-width="0.7"/>
<circle cx="246.37" cy="428.80" r="1.5" fill="#47ad4b" stroke="#1d5e22" stroke-width="0.7"/>
<rect x="243.10" y="427.70" width="7.0" height="2.30" fill="#47ad4b" stroke="#1d5e22" stroke-width="1.15"/>
<line x1="243.10" x2="250.10" y1="428.80" y2="428.80" stroke="#23702a" stroke-width="1"/>
<text transform="translate(250.50,424.60) rotate(-90)" font-size="8.4" fill="#8c8c8c">a</text>
<line x1="256.00" x2="256.00" y1="429.10" y2="432.00" stroke="#1d5e22" stroke-width="0.9"/>
<circle cx="256.40" cy="429.10" r="1.5" fill="#47ad4b" stroke="#1d5e22" stroke-width="0.7"/>
<circle cx="255.89" cy="432.00" r="1.5" fill="#47ad4b" stroke="#1d5e22" stroke-width="0.7"/>
<circle cx="255.05" cy="430.50" r="1.5" fill="#47ad4b" stroke="#1d5e22" stroke-width="0.7"/>
<rect x="252.50" y="428.70" width="7.0" height="3.70" fill="#47ad4b" stroke="#1d5e22" stroke-width="1.15"/>
<line x1="252.50" x2="259.50" y1="430.50" y2="430.50" stroke="#23702a" stroke-width="1"/>
<text transform="translate(259.90,425.60) rotate(-90)" font-size="8.4" fill="#8c8c8c">abcde</text>
<line x1="265.40" x2="265.40" y1="428.40" y2="430.10" stroke="#1d5e22" stroke-width="0.9"/>
<circle cx="265.60" cy="428.40" r="1.5" fill="#47ad4b" stroke="#1d5e22" stroke-width="0.7"/>
<circle cx="265.21" cy="430.10" r="1.5" fill="#47ad4b" stroke="#1d5e22" stroke-width="0.7"/>
<circle cx="266.51" cy="429.20" r="1.5" fill="#47ad4b" stroke="#1d5e22" stroke-width="0.7"/>
<rect x="261.90" y="428.00" width="7.0" height="2.50" fill="#47ad4b" stroke="#1d5e22" stroke-width="1.15"/>
<line x1="261.90" x2="268.90" y1="429.20" y2="429.20" stroke="#23702a" stroke-width="1"/>
<text transform="translate(269.30,424.90) rotate(-90)" font-size="8.4" fill="#8c8c8c">abc</text>
<line x1="274.80" x2="274.80" y1="435.30" y2="439.40" stroke="#1d5e22" stroke-width="0.9"/>
<circle cx="274.87" cy="435.30" r="1.5" fill="#47ad4b" stroke="#1d5e22" stroke-width="0.7"/>
<circle cx="275.99" cy="439.40" r="1.5" fill="#47ad4b" stroke="#1d5e22" stroke-width="0.7"/>
<circle cx="276.61" cy="437.40" r="1.5" fill="#47ad4b" stroke="#1d5e22" stroke-width="0.7"/>
<rect x="271.30" y="434.90" width="7.0" height="4.90" fill="#47ad4b" stroke="#1d5e22" stroke-width="0.9"/>
<line x1="271.30" x2="278.30" y1="437.40" y2="437.40" stroke="#23702a" stroke-width="1"/>
<text transform="translate(278.70,431.80) rotate(-90)" font-size="8.4" fill="#8c8c8c">g</text>
<line x1="284.20" x2="284.20" y1="429.10" y2="431.00" stroke="#1d5e22" stroke-width="0.9"/>
<circle cx="284.76" cy="429.10" r="1.5" fill="#47ad4b" stroke="#1d5e22" stroke-width="0.7"/>
<circle cx="283.57" cy="431.00" r="1.5" fill="#47ad4b" stroke="#1d5e22" stroke-width="0.7"/>
<circle cx="282.66" cy="430.00" r="1.5" fill="#47ad4b" stroke="#1d5e22" stroke-width="0.7"/>
<rect x="280.70" y="428.70" width="7.0" height="2.70" fill="#47ad4b" stroke="#1d5e22" stroke-width="1.15"/>
<line x1="280.70" x2="287.70" y1="430.00" y2="430.00" stroke="#23702a" stroke-width="1"/>
<text transform="translate(288.10,425.60) rotate(-90)" font-size="8.4" fill="#8c8c8c">abcde</text>
<line x1="293.60" x2="293.60" y1="433.30" y2="436.60" stroke="#1d5e22" stroke-width="0.9"/>
<circle cx="294.54" cy="433.30" r="1.5" fill="#47ad4b" stroke="#1d5e22" stroke-width="0.7"/>
<circle cx="294.28" cy="436.60" r="1.5" fill="#47ad4b" stroke="#1d5e22" stroke-width="0.7"/>
<circle cx="294.10" cy="435.00" r="1.5" fill="#47ad4b" stroke="#1d5e22" stroke-width="0.7"/>
<rect x="290.10" y="432.90" width="7.0" height="4.10" fill="#47ad4b" stroke="#1d5e22" stroke-width="0.9"/>
<line x1="290.10" x2="297.10" y1="435.00" y2="435.00" stroke="#23702a" stroke-width="1"/>
<text transform="translate(297.50,429.80) rotate(-90)" font-size="8.4" fill="#8c8c8c">efg</text>
<line x1="303.00" x2="303.00" y1="430.70" y2="434.80" stroke="#1d5e22" stroke-width="0.9"/>
<circle cx="302.66" cy="430.70" r="1.5" fill="#47ad4b" stroke="#1d5e22" stroke-width="0.7"/>
<circle cx="302.45" cy="434.80" r="1.5" fill="#47ad4b" stroke="#1d5e22" stroke-width="0.7"/>
<circle cx="303.74" cy="432.80" r="1.5" fill="#47ad4b" stroke="#1d5e22" stroke-width="0.7"/>
<rect x="299.50" y="430.30" width="7.0" height="4.90" fill="#47ad4b" stroke="#1d5e22" stroke-width="0.9"/>
<line x1="299.50" x2="306.50" y1="432.80" y2="432.80" stroke="#23702a" stroke-width="1"/>
<text transform="translate(306.90,427.20) rotate(-90)" font-size="8.4" fill="#8c8c8c">efg</text>
<line x1="312.40" x2="312.40" y1="429.80" y2="432.00" stroke="#1d5e22" stroke-width="0.9"/>
<circle cx="312.56" cy="429.80" r="1.5" fill="#47ad4b" stroke="#1d5e22" stroke-width="0.7"/>
<circle cx="312.62" cy="432.00" r="1.5" fill="#47ad4b" stroke="#1d5e22" stroke-width="0.7"/>
<circle cx="312.93" cy="430.90" r="1.5" fill="#47ad4b" stroke="#1d5e22" stroke-width="0.7"/>
<rect x="308.90" y="429.40" width="7.0" height="3.00" fill="#47ad4b" stroke="#1d5e22" stroke-width="1.15"/>
<line x1="308.90" x2="315.90" y1="430.90" y2="430.90" stroke="#23702a" stroke-width="1"/>
<text transform="translate(316.30,426.30) rotate(-90)" font-size="8.4" fill="#8c8c8c">cdefg</text>
<line x1="321.80" x2="321.80" y1="428.70" y2="431.00" stroke="#1d5e22" stroke-width="0.9"/>
<circle cx="322.41" cy="428.70" r="1.5" fill="#47ad4b" stroke="#1d5e22" stroke-width="0.7"/>
<circle cx="321.06" cy="431.00" r="1.5" fill="#47ad4b" stroke="#1d5e22" stroke-width="0.7"/>
<circle cx="320.80" cy="429.80" r="1.5" fill="#47ad4b" stroke="#1d5e22" stroke-width="0.7"/>
<rect x="318.30" y="428.30" width="7.0" height="3.10" fill="#47ad4b" stroke="#1d5e22" stroke-width="1.15"/>
<line x1="318.30" x2="325.30" y1="429.80" y2="429.80" stroke="#23702a" stroke-width="1"/>
<text transform="translate(325.70,425.20) rotate(-90)" font-size="8.4" fill="#8c8c8c">abcd</text>
<line x1="331.20" x2="331.20" y1="429.80" y2="431.70" stroke="#1d5e22" stroke-width="0.9"/>
<circle cx="332.35" cy="429.80" r="1.5" fill="#47ad4b" stroke="#1d5e22" stroke-width="0.7"/>
<circle cx="332.20" cy="431.70" r="1.5" fill="#47ad4b" stroke="#1d5e22" stroke-width="0.7"/>
<circle cx="332.72" cy="430.80" r="1.5" fill="#47ad4b" stroke="#1d5e22" stroke-width="0.7"/>
<rect x="327.70" y="429.40" width="7.0" height="2.70" fill="#47ad4b" stroke="#1d5e22" stroke-width="1.15"/>
<line x1="327.70" x2="334.70" y1="430.80" y2="430.80" stroke="#23702a" stroke-width="1"/>
<text transform="translate(335.10,426.30) rotate(-90)" font-size="8.4" fill="#8c8c8c">cdefg</text>
<line x1="340.60" x2="340.60" y1="429.40" y2="432.50" stroke="#1d5e22" stroke-width="0.9"/>
<circle cx="339.49" cy="429.40" r="1.5" fill="#47ad4b" stroke="#1d5e22" stroke-width="0.7"/>
<circle cx="339.55" cy="432.50" r="1.5" fill="#47ad4b" stroke="#1d5e22" stroke-width="0.7"/>
<circle cx="339.68" cy="431.00" r="1.5" fill="#47ad4b" stroke="#1d5e22" stroke-width="0.7"/>
<rect x="337.10" y="429.00" width="7.0" height="3.90" fill="#47ad4b" stroke="#1d5e22" stroke-width="1.15"/>
<line x1="337.10" x2="344.10" y1="431.00" y2="431.00" stroke="#23702a" stroke-width="1"/>
<text transform="translate(344.50,425.90) rotate(-90)" font-size="8.4" fill="#8c8c8c">abcde</text>
<line x1="350.00" x2="350.00" y1="428.70" y2="431.00" stroke="#1d5e22" stroke-width="0.9"/>
<circle cx="349.82" cy="428.70" r="1.5" fill="#47ad4b" stroke="#1d5e22" stroke-width="0.7"/>
<circle cx="350.30" cy="431.00" r="1.5" fill="#47ad4b" stroke="#1d5e22" stroke-width="0.7"/>
<circle cx="348.41" cy="429.80" r="1.5" fill="#47ad4b" stroke="#1d5e22" stroke-width="0.7"/>
<rect x="346.50" y="428.30" width="7.0" height="3.10" fill="#47ad4b" stroke="#1d5e22" stroke-width="1.15"/>
<line x1="346.50" x2="353.50" y1="429.80" y2="429.80" stroke="#23702a" stroke-width="1"/>
<text transform="translate(353.90,425.20) rotate(-90)" font-size="8.4" fill="#8c8c8c">abcd</text>
<line x1="359.40" x2="359.40" y1="429.80" y2="433.30" stroke="#1d5e22" stroke-width="0.9"/>
<circle cx="359.50" cy="429.80" r="1.5" fill="#47ad4b" stroke="#1d5e22" stroke-width="0.7"/>
<circle cx="358.37" cy="433.30" r="1.5" fill="#47ad4b" stroke="#1d5e22" stroke-width="0.7"/>
<circle cx="357.75" cy="431.50" r="1.5" fill="#47ad4b" stroke="#1d5e22" stroke-width="0.7"/>
<rect x="355.90" y="429.40" width="7.0" height="4.30" fill="#47ad4b" stroke="#1d5e22" stroke-width="0.9"/>
<line x1="355.90" x2="362.90" y1="431.50" y2="431.50" stroke="#23702a" stroke-width="1"/>
<text transform="translate(363.30,426.30) rotate(-90)" font-size="8.4" fill="#8c8c8c">cdefg</text>
<line x1="368.80" x2="368.80" y1="429.40" y2="431.70" stroke="#1d5e22" stroke-width="0.9"/>
<circle cx="369.22" cy="429.40" r="1.5" fill="#47ad4b" stroke="#1d5e22" stroke-width="0.7"/>
<circle cx="368.92" cy="431.70" r="1.5" fill="#47ad4b" stroke="#1d5e22" stroke-width="0.7"/>
<circle cx="369.32" cy="430.50" r="1.5" fill="#47ad4b" stroke="#1d5e22" stroke-width="0.7"/>
<rect x="365.30" y="429.00" width="7.0" height="3.10" fill="#47ad4b" stroke="#1d5e22" stroke-width="1.15"/>
<line x1="365.30" x2="372.30" y1="430.50" y2="430.50" stroke="#23702a" stroke-width="1"/>
<text transform="translate(372.70,425.90) rotate(-90)" font-size="8.4" fill="#8c8c8c">abcde</text>
<line x1="378.20" x2="378.20" y1="429.20" y2="431.40" stroke="#1d5e22" stroke-width="0.9"/>
<circle cx="377.90" cy="429.20" r="1.5" fill="#47ad4b" stroke="#1d5e22" stroke-width="0.7"/>
<circle cx="378.15" cy="431.40" r="1.5" fill="#47ad4b" stroke="#1d5e22" stroke-width="0.7"/>
<circle cx="377.04" cy="430.30" r="1.5" fill="#47ad4b" stroke="#1d5e22" stroke-width="0.7"/>
<rect x="374.70" y="428.80" width="7.0" height="3.00" fill="#47ad4b" stroke="#1d5e22" stroke-width="1.15"/>
<line x1="374.70" x2="381.70" y1="430.30" y2="430.30" stroke="#23702a" stroke-width="1"/>
<text transform="translate(382.10,425.70) rotate(-90)" font-size="8.4" fill="#8c8c8c">abcd</text>
<line x1="387.60" x2="387.60" y1="428.70" y2="431.70" stroke="#1d5e22" stroke-width="0.9"/>
<circle cx="387.22" cy="428.70" r="1.5" fill="#47ad4b" stroke="#1d5e22" stroke-width="0.7"/>
<circle cx="388.19" cy="431.70" r="1.5" fill="#47ad4b" stroke="#1d5e22" stroke-width="0.7"/>
<circle cx="388.95" cy="430.20" r="1.5" fill="#47ad4b" stroke="#1d5e22" stroke-width="0.7"/>
<rect x="384.10" y="428.30" width="7.0" height="3.80" fill="#47ad4b" stroke="#1d5e22" stroke-width="1.15"/>
<line x1="384.10" x2="391.10" y1="430.20" y2="430.20" stroke="#23702a" stroke-width="1"/>
<text transform="translate(391.50,425.20) rotate(-90)" font-size="8.4" fill="#8c8c8c">abcde</text>
</g>
<g clip-path="url(#cpESF)">
<line x1="405.70" x2="405.70" y1="449.00" y2="458.50" stroke="#8e0f14" stroke-width="0.9"/>
<circle cx="404.68" cy="449.00" r="1.5" fill="#e31b23" stroke="#8e0f14" stroke-width="0.7"/>
<circle cx="404.79" cy="458.50" r="1.5" fill="#e31b23" stroke="#8e0f14" stroke-width="0.7"/>
<circle cx="406.94" cy="453.00" r="1.5" fill="#e31b23" stroke="#8e0f14" stroke-width="0.7"/>
<rect x="402.20" y="450.80" width="7.0" height="4.60" fill="#e31b23" stroke="#8e0f14" stroke-width="0.9"/>
<line x1="402.20" x2="409.20" y1="453.00" y2="453.00" stroke="#a8141a" stroke-width="1"/>
<text transform="translate(409.60,447.20) rotate(-90)" font-size="8.4" fill="#8c8c8c">abcd</text>
<line x1="415.10" x2="415.10" y1="447.10" y2="456.80" stroke="#8e0f14" stroke-width="0.9"/>
<circle cx="415.40" cy="447.10" r="1.5" fill="#e31b23" stroke="#8e0f14" stroke-width="0.7"/>
<circle cx="415.75" cy="456.80" r="1.5" fill="#e31b23" stroke="#8e0f14" stroke-width="0.7"/>
<circle cx="413.95" cy="452.60" r="1.5" fill="#e31b23" stroke="#8e0f14" stroke-width="0.7"/>
<rect x="411.60" y="450.20" width="7.0" height="5.20" fill="#e31b23" stroke="#8e0f14" stroke-width="0.9"/>
<line x1="411.60" x2="418.60" y1="452.60" y2="452.60" stroke="#a8141a" stroke-width="1"/>
<text transform="translate(419.00,445.30) rotate(-90)" font-size="8.4" fill="#8c8c8c">abcd</text>
<line x1="424.50" x2="424.50" y1="450.80" y2="457.40" stroke="#8e0f14" stroke-width="0.9"/>
<circle cx="424.32" cy="450.80" r="1.5" fill="#e31b23" stroke="#8e0f14" stroke-width="0.7"/>
<circle cx="423.92" cy="457.40" r="1.5" fill="#e31b23" stroke="#8e0f14" stroke-width="0.7"/>
<circle cx="425.74" cy="453.60" r="1.5" fill="#e31b23" stroke="#8e0f14" stroke-width="0.7"/>
<rect x="421.00" y="452.20" width="7.0" height="3.50" fill="#e31b23" stroke="#8e0f14" stroke-width="1.15"/>
<line x1="421.00" x2="428.00" y1="453.60" y2="453.60" stroke="#a8141a" stroke-width="1"/>
<text transform="translate(428.40,449.00) rotate(-90)" font-size="8.4" fill="#8c8c8c">cd</text>
<line x1="433.90" x2="433.90" y1="452.60" y2="454.20" stroke="#8e0f14" stroke-width="0.9"/>
<circle cx="433.59" cy="452.60" r="1.5" fill="#e31b23" stroke="#8e0f14" stroke-width="0.7"/>
<circle cx="434.27" cy="454.20" r="1.5" fill="#e31b23" stroke="#8e0f14" stroke-width="0.7"/>
<circle cx="435.86" cy="453.20" r="1.5" fill="#e31b23" stroke="#8e0f14" stroke-width="0.7"/>
<rect x="430.40" y="452.20" width="7.0" height="2.40" fill="#e31b23" stroke="#8e0f14" stroke-width="1.15"/>
<line x1="430.40" x2="437.40" y1="453.20" y2="453.20" stroke="#a8141a" stroke-width="1"/>
<text transform="translate(437.80,450.00) rotate(-90)" font-size="8.4" fill="#8c8c8c">d</text>
<line x1="443.30" x2="443.30" y1="450.80" y2="457.40" stroke="#8e0f14" stroke-width="0.9"/>
<circle cx="442.88" cy="450.80" r="1.5" fill="#e31b23" stroke="#8e0f14" stroke-width="0.7"/>
<circle cx="443.42" cy="457.40" r="1.5" fill="#e31b23" stroke="#8e0f14" stroke-width="0.7"/>
<circle cx="444.28" cy="453.60" r="1.5" fill="#e31b23" stroke="#8e0f14" stroke-width="0.7"/>
<rect x="439.80" y="452.20" width="7.0" height="3.20" fill="#e31b23" stroke="#8e0f14" stroke-width="1.15"/>
<line x1="439.80" x2="446.80" y1="453.60" y2="453.60" stroke="#a8141a" stroke-width="1"/>
<text transform="translate(447.20,449.00) rotate(-90)" font-size="8.4" fill="#8c8c8c">bcd</text>
<line x1="452.70" x2="452.70" y1="451.50" y2="456.40" stroke="#8e0f14" stroke-width="0.9"/>
<circle cx="453.71" cy="451.50" r="1.5" fill="#e31b23" stroke="#8e0f14" stroke-width="0.7"/>
<circle cx="452.53" cy="456.40" r="1.5" fill="#e31b23" stroke="#8e0f14" stroke-width="0.7"/>
<circle cx="452.18" cy="455.40" r="1.5" fill="#e31b23" stroke="#8e0f14" stroke-width="0.7"/>
<rect x="449.20" y="453.60" width="7.0" height="3.20" fill="#e31b23" stroke="#8e0f14" stroke-width="1.15"/>
<line x1="449.20" x2="456.20" y1="455.40" y2="455.40" stroke="#a8141a" stroke-width="1"/>
<text transform="translate(456.60,449.70) rotate(-90)" font-size="8.4" fill="#8c8c8c">d</text>
<line x1="462.10" x2="462.10" y1="445.30" y2="449.80" stroke="#8e0f14" stroke-width="0.9"/>
<circle cx="461.13" cy="445.30" r="1.5" fill="#e31b23" stroke="#8e0f14" stroke-width="0.7"/>
<circle cx="463.00" cy="449.80" r="1.5" fill="#e31b23" stroke="#8e0f14" stroke-width="0.7"/>
<circle cx="460.41" cy="448.00" r="1.5" fill="#e31b23" stroke="#8e0f14" stroke-width="0.7"/>
<rect x="458.60" y="446.70" width="7.0" height="3.50" fill="#e31b23" stroke="#8e0f14" stroke-width="1.15"/>
<line x1="458.60" x2="465.60" y1="448.00" y2="448.00" stroke="#a8141a" stroke-width="1"/>
<text transform="translate(466.00,443.50) rotate(-90)" font-size="8.4" fill="#8c8c8c">abcd</text>
<line x1="471.50" x2="471.50" y1="448.80" y2="455.70" stroke="#1d5e22" stroke-width="0.9"/>
<circle cx="470.50" cy="448.80" r="1.5" fill="#47ad4b" stroke="#1d5e22" stroke-width="0.7"/>
<circle cx="471.65" cy="455.70" r="1.5" fill="#47ad4b" stroke="#1d5e22" stroke-width="0.7"/>
<circle cx="471.44" cy="451.80" r="1.5" fill="#47ad4b" stroke="#1d5e22" stroke-width="0.7"/>
<rect x="468.00" y="450.20" width="7.0" height="3.00" fill="#47ad4b" stroke="#1d5e22" stroke-width="1.15"/>
<line x1="468.00" x2="475.00" y1="451.80" y2="451.80" stroke="#23702a" stroke-width="1"/>
<text transform="translate(475.40,447.00) rotate(-90)" font-size="8.4" fill="#8c8c8c">abcd</text>
<line x1="480.90" x2="480.90" y1="445.30" y2="451.50" stroke="#1d5e22" stroke-width="0.9"/>
<circle cx="481.34" cy="445.30" r="1.5" fill="#47ad4b" stroke="#1d5e22" stroke-width="0.7"/>
<circle cx="480.42" cy="451.50" r="1.5" fill="#47ad4b" stroke="#1d5e22" stroke-width="0.7"/>
<circle cx="482.00" cy="447.40" r="1.5" fill="#47ad4b" stroke="#1d5e22" stroke-width="0.7"/>
<rect x="477.40" y="446.30" width="7.0" height="3.20" fill="#47ad4b" stroke="#1d5e22" stroke-width="1.15"/>
<line x1="477.40" x2="484.40" y1="447.40" y2="447.40" stroke="#23702a" stroke-width="1"/>
<text transform="translate(484.80,443.50) rotate(-90)" font-size="8.4" fill="#8c8c8c">abcd</text>
<line x1="490.30" x2="490.30" y1="450.60" y2="453.90" stroke="#1d5e22" stroke-width="0.9"/>
<circle cx="489.28" cy="450.60" r="1.5" fill="#47ad4b" stroke="#1d5e22" stroke-width="0.7"/>
<circle cx="489.61" cy="453.90" r="1.5" fill="#47ad4b" stroke="#1d5e22" stroke-width="0.7"/>
<circle cx="490.95" cy="452.00" r="1.5" fill="#47ad4b" stroke="#1d5e22" stroke-width="0.7"/>
<rect x="486.80" y="450.20" width="7.0" height="4.10" fill="#47ad4b" stroke="#1d5e22" stroke-width="0.9"/>
<line x1="486.80" x2="493.80" y1="452.00" y2="452.00" stroke="#23702a" stroke-width="1"/>
<text transform="translate(494.20,447.70) rotate(-90)" font-size="8.4" fill="#8c8c8c">abcd</text>
<line x1="499.70" x2="499.70" y1="446.70" y2="453.60" stroke="#1d5e22" stroke-width="0.9"/>
<circle cx="498.70" cy="446.70" r="1.5" fill="#47ad4b" stroke="#1d5e22" stroke-width="0.7"/>
<circle cx="499.23" cy="453.60" r="1.5" fill="#47ad4b" stroke="#1d5e22" stroke-width="0.7"/>
<circle cx="500.60" cy="449.90" r="1.5" fill="#47ad4b" stroke="#1d5e22" stroke-width="0.7"/>
<rect x="496.20" y="448.10" width="7.0" height="3.40" fill="#47ad4b" stroke="#1d5e22" stroke-width="1.15"/>
<line x1="496.20" x2="503.20" y1="449.90" y2="449.90" stroke="#23702a" stroke-width="1"/>
<text transform="translate(503.60,444.90) rotate(-90)" font-size="8.4" fill="#8c8c8c">abcd</text>
<line x1="509.10" x2="509.10" y1="446.70" y2="450.20" stroke="#1d5e22" stroke-width="0.9"/>
<circle cx="509.57" cy="446.70" r="1.5" fill="#47ad4b" stroke="#1d5e22" stroke-width="0.7"/>
<circle cx="508.58" cy="450.20" r="1.5" fill="#47ad4b" stroke="#1d5e22" stroke-width="0.7"/>
<circle cx="507.67" cy="447.40" r="1.5" fill="#47ad4b" stroke="#1d5e22" stroke-width="0.7"/>
<rect x="505.60" y="446.30" width="7.0" height="2.50" fill="#47ad4b" stroke="#1d5e22" stroke-width="1.15"/>
<line x1="505.60" x2="512.60" y1="447.40" y2="447.40" stroke="#23702a" stroke-width="1"/>
<text transform="translate(513.00,443.90) rotate(-90)" font-size="8.4" fill="#8c8c8c">abcd</text>
<line x1="518.50" x2="518.50" y1="447.50" y2="452.20" stroke="#1d5e22" stroke-width="0.9"/>
<circle cx="518.16" cy="447.50" r="1.5" fill="#47ad4b" stroke="#1d5e22" stroke-width="0.7"/>
<circle cx="519.04" cy="452.20" r="1.5" fill="#47ad4b" stroke="#1d5e22" stroke-width="0.7"/>
<circle cx="517.97" cy="448.80" r="1.5" fill="#47ad4b" stroke="#1d5e22" stroke-width="0.7"/>
<rect x="515.00" y="447.10" width="7.0" height="3.70" fill="#47ad4b" stroke="#1d5e22" stroke-width="1.15"/>
<line x1="515.00" x2="522.00" y1="448.80" y2="448.80" stroke="#23702a" stroke-width="1"/>
<text transform="translate(522.40,444.90) rotate(-90)" font-size="8.4" fill="#8c8c8c">abcd</text>
<line x1="527.90" x2="527.90" y1="448.50" y2="453.60" stroke="#1d5e22" stroke-width="0.9"/>
<circle cx="526.98" cy="448.50" r="1.5" fill="#47ad4b" stroke="#1d5e22" stroke-width="0.7"/>
<circle cx="528.40" cy="453.60" r="1.5" fill="#47ad4b" stroke="#1d5e22" stroke-width="0.7"/>
<circle cx="528.18" cy="450.20" r="1.5" fill="#47ad4b" stroke="#1d5e22" stroke-width="0.7"/>
<rect x="524.40" y="448.10" width="7.0" height="4.10" fill="#47ad4b" stroke="#1d5e22" stroke-width="0.9"/>
<line x1="524.40" x2="531.40" y1="450.20" y2="450.20" stroke="#23702a" stroke-width="1"/>
<text transform="translate(531.80,445.90) rotate(-90)" font-size="8.4" fill="#8c8c8c">abcd</text>
<line x1="537.30" x2="537.30" y1="448.50" y2="457.80" stroke="#1d5e22" stroke-width="0.9"/>
<circle cx="538.30" cy="448.50" r="1.5" fill="#47ad4b" stroke="#1d5e22" stroke-width="0.7"/>
<circle cx="538.36" cy="457.80" r="1.5" fill="#47ad4b" stroke="#1d5e22" stroke-width="0.7"/>
<circle cx="538.95" cy="453.60" r="1.5" fill="#47ad4b" stroke="#1d5e22" stroke-width="0.7"/>
<rect x="533.80" y="451.50" width="7.0" height="4.20" fill="#47ad4b" stroke="#1d5e22" stroke-width="0.9"/>
<line x1="533.80" x2="540.80" y1="453.60" y2="453.60" stroke="#23702a" stroke-width="1"/>
<text transform="translate(541.20,446.70) rotate(-90)" font-size="8.4" fill="#8c8c8c">bcd</text>
<line x1="546.70" x2="546.70" y1="446.30" y2="449.50" stroke="#1d5e22" stroke-width="0.9"/>
<circle cx="546.55" cy="446.30" r="1.5" fill="#47ad4b" stroke="#1d5e22" stroke-width="0.7"/>
<circle cx="547.43" cy="449.50" r="1.5" fill="#47ad4b" stroke="#1d5e22" stroke-width="0.7"/>
<circle cx="545.92" cy="448.50" r="1.5" fill="#47ad4b" stroke="#1d5e22" stroke-width="0.7"/>
<rect x="543.20" y="447.40" width="7.0" height="2.50" fill="#47ad4b" stroke="#1d5e22" stroke-width="1.15"/>
<line x1="543.20" x2="550.20" y1="448.50" y2="448.50" stroke="#23702a" stroke-width="1"/>
<text transform="translate(550.60,444.50) rotate(-90)" font-size="8.4" fill="#8c8c8c">abcd</text>
<line x1="556.10" x2="556.10" y1="451.20" y2="453.60" stroke="#1d5e22" stroke-width="0.9"/>
<circle cx="555.66" cy="451.20" r="1.5" fill="#47ad4b" stroke="#1d5e22" stroke-width="0.7"/>
<circle cx="555.86" cy="453.60" r="1.5" fill="#47ad4b" stroke="#1d5e22" stroke-width="0.7"/>
<circle cx="557.84" cy="452.20" r="1.5" fill="#47ad4b" stroke="#1d5e22" stroke-width="0.7"/>
<rect x="552.60" y="450.80" width="7.0" height="3.20" fill="#47ad4b" stroke="#1d5e22" stroke-width="1.15"/>
<line x1="552.60" x2="559.60" y1="452.20" y2="452.20" stroke="#23702a" stroke-width="1"/>
<text transform="translate(560.00,448.40) rotate(-90)" font-size="8.4" fill="#8c8c8c">bcd</text>
<line x1="565.50" x2="565.50" y1="443.20" y2="451.50" stroke="#1d5e22" stroke-width="0.9"/>
<circle cx="566.45" cy="443.20" r="1.5" fill="#47ad4b" stroke="#1d5e22" stroke-width="0.7"/>
<circle cx="564.90" cy="451.50" r="1.5" fill="#47ad4b" stroke="#1d5e22" stroke-width="0.7"/>
<circle cx="564.95" cy="447.10" r="1.5" fill="#47ad4b" stroke="#1d5e22" stroke-width="0.7"/>
<rect x="562.00" y="445.30" width="7.0" height="3.50" fill="#47ad4b" stroke="#1d5e22" stroke-width="1.15"/>
<line x1="562.00" x2="569.00" y1="447.10" y2="447.10" stroke="#23702a" stroke-width="1"/>
<text transform="translate(569.40,441.40) rotate(-90)" font-size="8.4" fill="#8c8c8c">abcd</text>
<line x1="574.90" x2="574.90" y1="443.20" y2="452.20" stroke="#1d5e22" stroke-width="0.9"/>
<circle cx="574.58" cy="443.20" r="1.5" fill="#47ad4b" stroke="#1d5e22" stroke-width="0.7"/>
<circle cx="574.57" cy="452.20" r="1.5" fill="#47ad4b" stroke="#1d5e22" stroke-width="0.7"/>
<circle cx="574.48" cy="449.00" r="1.5" fill="#47ad4b" stroke="#1d5e22" stroke-width="0.7"/>
<rect x="571.40" y="447.10" width="7.0" height="3.70" fill="#47ad4b" stroke="#1d5e22" stroke-width="1.15"/>
<line x1="571.40" x2="578.40" y1="449.00" y2="449.00" stroke="#23702a" stroke-width="1"/>
<text transform="translate(578.80,441.40) rotate(-90)" font-size="8.4" fill="#8c8c8c">abcd</text>
<line x1="584.30" x2="584.30" y1="447.10" y2="449.20" stroke="#1d5e22" stroke-width="0.9"/>
<circle cx="584.03" cy="447.10" r="1.5" fill="#47ad4b" stroke="#1d5e22" stroke-width="0.7"/>
<circle cx="583.57" cy="449.20" r="1.5" fill="#47ad4b" stroke="#1d5e22" stroke-width="0.7"/>
<circle cx="584.56" cy="448.20" r="1.5" fill="#47ad4b" stroke="#1d5e22" stroke-width="0.7"/>
<rect x="580.80" y="446.70" width="7.0" height="2.90" fill="#47ad4b" stroke="#1d5e22" stroke-width="1.15"/>
<line x1="580.80" x2="587.80" y1="448.20" y2="448.20" stroke="#23702a" stroke-width="1"/>
<text transform="translate(588.20,444.30) rotate(-90)" font-size="8.4" fill="#8c8c8c">abcd</text>
<line x1="593.70" x2="593.70" y1="445.60" y2="447.40" stroke="#1d5e22" stroke-width="0.9"/>
<circle cx="594.41" cy="445.60" r="1.5" fill="#47ad4b" stroke="#1d5e22" stroke-width="0.7"/>
<circle cx="593.80" cy="447.40" r="1.5" fill="#47ad4b" stroke="#1d5e22" stroke-width="0.7"/>
<circle cx="595.05" cy="446.40" r="1.5" fill="#47ad4b" stroke="#1d5e22" stroke-width="0.7"/>
<rect x="590.20" y="445.20" width="7.0" height="2.60" fill="#47ad4b" stroke="#1d5e22" stroke-width="1.15"/>
<line x1="590.20" x2="597.20" y1="446.40" y2="446.40" stroke="#23702a" stroke-width="1"/>
<text transform="translate(597.60,442.80) rotate(-90)" font-size="8.4" fill="#8c8c8c">abc</text>
<line x1="603.10" x2="603.10" y1="443.20" y2="450.80" stroke="#1d5e22" stroke-width="0.9"/>
<circle cx="603.25" cy="443.20" r="1.5" fill="#47ad4b" stroke="#1d5e22" stroke-width="0.7"/>
<circle cx="602.32" cy="450.80" r="1.5" fill="#47ad4b" stroke="#1d5e22" stroke-width="0.7"/>
<circle cx="604.14" cy="447.50" r="1.5" fill="#47ad4b" stroke="#1d5e22" stroke-width="0.7"/>
<rect x="599.60" y="445.90" width="7.0" height="3.80" fill="#47ad4b" stroke="#1d5e22" stroke-width="1.15"/>
<line x1="599.60" x2="606.60" y1="447.50" y2="447.50" stroke="#23702a" stroke-width="1"/>
<text transform="translate(607.00,441.40) rotate(-90)" font-size="8.4" fill="#8c8c8c">abcd</text>
<line x1="612.50" x2="612.50" y1="444.50" y2="447.10" stroke="#1d5e22" stroke-width="0.9"/>
<circle cx="613.41" cy="444.50" r="1.5" fill="#47ad4b" stroke="#1d5e22" stroke-width="0.7"/>
<circle cx="611.98" cy="447.10" r="1.5" fill="#47ad4b" stroke="#1d5e22" stroke-width="0.7"/>
<circle cx="610.59" cy="445.60" r="1.5" fill="#47ad4b" stroke="#1d5e22" stroke-width="0.7"/>
<rect x="609.00" y="444.10" width="7.0" height="3.40" fill="#47ad4b" stroke="#1d5e22" stroke-width="1.15"/>
<line x1="609.00" x2="616.00" y1="445.60" y2="445.60" stroke="#23702a" stroke-width="1"/>
<text transform="translate(616.40,441.70) rotate(-90)" font-size="8.4" fill="#8c8c8c">abc</text>
<line x1="621.90" x2="621.90" y1="451.20" y2="453.20" stroke="#1d5e22" stroke-width="0.9"/>
<circle cx="621.94" cy="451.20" r="1.5" fill="#47ad4b" stroke="#1d5e22" stroke-width="0.7"/>
<circle cx="622.01" cy="453.20" r="1.5" fill="#47ad4b" stroke="#1d5e22" stroke-width="0.7"/>
<circle cx="622.17" cy="452.00" r="1.5" fill="#47ad4b" stroke="#1d5e22" stroke-width="0.7"/>
<rect x="618.40" y="450.80" width="7.0" height="2.80" fill="#47ad4b" stroke="#1d5e22" stroke-width="1.15"/>
<line x1="618.40" x2="625.40" y1="452.00" y2="452.00" stroke="#23702a" stroke-width="1"/>
<text transform="translate(625.80,448.40) rotate(-90)" font-size="8.4" fill="#8c8c8c">abcd</text>
<line x1="631.30" x2="631.30" y1="445.60" y2="447.40" stroke="#1d5e22" stroke-width="0.9"/>
<circle cx="632.42" cy="445.60" r="1.5" fill="#47ad4b" stroke="#1d5e22" stroke-width="0.7"/>
<circle cx="631.66" cy="447.40" r="1.5" fill="#47ad4b" stroke="#1d5e22" stroke-width="0.7"/>
<circle cx="632.52" cy="446.40" r="1.5" fill="#47ad4b" stroke="#1d5e22" stroke-width="0.7"/>
<rect x="627.80" y="445.20" width="7.0" height="2.60" fill="#47ad4b" stroke="#1d5e22" stroke-width="1.15"/>
<line x1="627.80" x2="634.80" y1="446.40" y2="446.40" stroke="#23702a" stroke-width="1"/>
<text transform="translate(635.20,442.80) rotate(-90)" font-size="8.4" fill="#8c8c8c">ab</text>
<line x1="640.70" x2="640.70" y1="440.60" y2="448.20" stroke="#1d5e22" stroke-width="0.9"/>
<circle cx="639.65" cy="440.60" r="1.5" fill="#47ad4b" stroke="#1d5e22" stroke-width="0.7"/>
<circle cx="640.81" cy="448.20" r="1.5" fill="#47ad4b" stroke="#1d5e22" stroke-width="0.7"/>
<circle cx="641.85" cy="443.60" r="1.5" fill="#47ad4b" stroke="#1d5e22" stroke-width="0.7"/>
<rect x="637.20" y="442.10" width="7.0" height="3.10" fill="#47ad4b" stroke="#1d5e22" stroke-width="1.15"/>
<line x1="637.20" x2="644.20" y1="443.60" y2="443.60" stroke="#23702a" stroke-width="1"/>
<text transform="translate(644.60,438.80) rotate(-90)" font-size="8.4" fill="#8c8c8c">a</text>
<line x1="650.10" x2="650.10" y1="447.90" y2="451.60" stroke="#1d5e22" stroke-width="0.9"/>
<circle cx="649.10" cy="447.90" r="1.5" fill="#47ad4b" stroke="#1d5e22" stroke-width="0.7"/>
<circle cx="649.10" cy="451.60" r="1.5" fill="#47ad4b" stroke="#1d5e22" stroke-width="0.7"/>
<circle cx="651.05" cy="449.50" r="1.5" fill="#47ad4b" stroke="#1d5e22" stroke-width="0.7"/>
<rect x="646.60" y="447.50" width="7.0" height="4.50" fill="#47ad4b" stroke="#1d5e22" stroke-width="0.9"/>
<line x1="646.60" x2="653.60" y1="449.50" y2="449.50" stroke="#23702a" stroke-width="1"/>
<text transform="translate(654.00,445.10) rotate(-90)" font-size="8.4" fill="#8c8c8c">abcd</text>
<line x1="659.50" x2="659.50" y1="445.60" y2="447.80" stroke="#1d5e22" stroke-width="0.9"/>
<circle cx="660.46" cy="445.60" r="1.5" fill="#47ad4b" stroke="#1d5e22" stroke-width="0.7"/>
<circle cx="658.50" cy="447.80" r="1.5" fill="#47ad4b" stroke="#1d5e22" stroke-width="0.7"/>
<circle cx="660.04" cy="446.70" r="1.5" fill="#47ad4b" stroke="#1d5e22" stroke-width="0.7"/>
<rect x="656.00" y="445.20" width="7.0" height="3.00" fill="#47ad4b" stroke="#1d5e22" stroke-width="1.15"/>
<line x1="656.00" x2="663.00" y1="446.70" y2="446.70" stroke="#23702a" stroke-width="1"/>
<text transform="translate(663.40,442.80) rotate(-90)" font-size="8.4" fill="#8c8c8c">abcd</text>
<line x1="668.90" x2="668.90" y1="451.70" y2="454.40" stroke="#1d5e22" stroke-width="0.9"/>
<circle cx="668.05" cy="451.70" r="1.5" fill="#47ad4b" stroke="#1d5e22" stroke-width="0.7"/>
<circle cx="669.49" cy="454.40" r="1.5" fill="#47ad4b" stroke="#1d5e22" stroke-width="0.7"/>
<circle cx="669.50" cy="453.00" r="1.5" fill="#47ad4b" stroke="#1d5e22" stroke-width="0.7"/>
<rect x="665.40" y="451.30" width="7.0" height="3.50" fill="#47ad4b" stroke="#1d5e22" stroke-width="1.15"/>
<line x1="665.40" x2="672.40" y1="453.00" y2="453.00" stroke="#23702a" stroke-width="1"/>
<text transform="translate(672.80,448.90) rotate(-90)" font-size="8.4" fill="#8c8c8c">bcd</text>
<line x1="678.30" x2="678.30" y1="447.50" y2="454.80" stroke="#1d5e22" stroke-width="0.9"/>
<circle cx="677.69" cy="447.50" r="1.5" fill="#47ad4b" stroke="#1d5e22" stroke-width="0.7"/>
<circle cx="677.63" cy="454.80" r="1.5" fill="#47ad4b" stroke="#1d5e22" stroke-width="0.7"/>
<circle cx="679.36" cy="450.90" r="1.5" fill="#47ad4b" stroke="#1d5e22" stroke-width="0.7"/>
<rect x="674.80" y="449.00" width="7.0" height="3.80" fill="#47ad4b" stroke="#1d5e22" stroke-width="1.15"/>
<line x1="674.80" x2="681.80" y1="450.90" y2="450.90" stroke="#23702a" stroke-width="1"/>
<text transform="translate(682.20,445.70) rotate(-90)" font-size="8.4" fill="#8c8c8c">abcd</text>
</g>
<g clip-path="url(#cpDFB)">
<line x1="115.00" x2="115.00" y1="619.50" y2="620.90" stroke="#8e0f14" stroke-width="0.9"/>
<circle cx="115.05" cy="619.50" r="1.5" fill="#e31b23" stroke="#8e0f14" stroke-width="0.7"/>
<circle cx="115.64" cy="620.90" r="1.5" fill="#e31b23" stroke="#8e0f14" stroke-width="0.7"/>
<circle cx="114.58" cy="620.20" r="1.5" fill="#e31b23" stroke="#8e0f14" stroke-width="0.7"/>
<rect x="111.50" y="619.10" width="7.0" height="2.20" fill="#e31b23" stroke="#8e0f14" stroke-width="1.15"/>
<line x1="111.50" x2="118.50" y1="620.20" y2="620.20" stroke="#a8141a" stroke-width="1"/>
<text transform="translate(118.90,617.70) rotate(-90)" font-size="8.4" fill="#8c8c8c">a</text>
<line x1="124.40" x2="124.40" y1="607.70" y2="623.00" stroke="#8e0f14" stroke-width="0.9"/>
<circle cx="124.01" cy="607.70" r="1.5" fill="#e31b23" stroke="#8e0f14" stroke-width="0.7"/>
<circle cx="125.52" cy="623.00" r="1.5" fill="#e31b23" stroke="#8e0f14" stroke-width="0.7"/>
<circle cx="125.09" cy="614.00" r="1.5" fill="#e31b23" stroke="#8e0f14" stroke-width="0.7"/>
<rect x="120.90" y="610.50" width="7.0" height="7.20" fill="#e31b23" stroke="#8e0f14" stroke-width="0.9"/>
<line x1="120.90" x2="127.90" y1="614.00" y2="614.00" stroke="#a8141a" stroke-width="1"/>
<text transform="translate(128.30,606.60) rotate(-90)" font-size="8.4" fill="#8c8c8c">a</text>
<line x1="133.80" x2="133.80" y1="614.70" y2="620.20" stroke="#8e0f14" stroke-width="0.9"/>
<circle cx="133.78" cy="614.70" r="1.5" fill="#e31b23" stroke="#8e0f14" stroke-width="0.7"/>
<circle cx="133.89" cy="620.20" r="1.5" fill="#e31b23" stroke="#8e0f14" stroke-width="0.7"/>
<circle cx="134.68" cy="617.20" r="1.5" fill="#e31b23" stroke="#8e0f14" stroke-width="0.7"/>
<rect x="130.30" y="615.80" width="7.0" height="3.00" fill="#e31b23" stroke="#8e0f14" stroke-width="1.15"/>
<line x1="130.30" x2="137.30" y1="617.20" y2="617.20" stroke="#a8141a" stroke-width="1"/>
<text transform="translate(137.70,613.60) rotate(-90)" font-size="8.4" fill="#8c8c8c">a</text>
<line x1="143.20" x2="143.20" y1="613.00" y2="616.80" stroke="#8e0f14" stroke-width="0.9"/>
<circle cx="143.70" cy="613.00" r="1.5" fill="#e31b23" stroke="#8e0f14" stroke-width="0.7"/>
<circle cx="144.20" cy="616.80" r="1.5" fill="#e31b23" stroke="#8e0f14" stroke-width="0.7"/>
<circle cx="142.84" cy="615.80" r="1.5" fill="#e31b23" stroke="#8e0f14" stroke-width="0.7"/>
<rect x="139.70" y="614.70" width="7.0" height="2.50" fill="#e31b23" stroke="#8e0f14" stroke-width="1.15"/>
<line x1="139.70" x2="146.70" y1="615.80" y2="615.80" stroke="#a8141a" stroke-width="1"/>
<text transform="translate(147.10,611.90) rotate(-90)" font-size="8.4" fill="#8c8c8c">a</text>
<line x1="152.60" x2="152.60" y1="614.00" y2="621.90" stroke="#8e0f14" stroke-width="0.9"/>
<circle cx="153.38" cy="614.00" r="1.5" fill="#e31b23" stroke="#8e0f14" stroke-width="0.7"/>
<circle cx="153.00" cy="621.90" r="1.5" fill="#e31b23" stroke="#8e0f14" stroke-width="0.7"/>
<circle cx="154.01" cy="617.50" r="1.5" fill="#e31b23" stroke="#8e0f14" stroke-width="0.7"/>
<rect x="149.10" y="615.80" width="7.0" height="3.70" fill="#e31b23" stroke="#8e0f14" stroke-width="1.15"/>
<line x1="149.10" x2="156.10" y1="617.50" y2="617.50" stroke="#a8141a" stroke-width="1"/>
<text transform="translate(156.50,612.90) rotate(-90)" font-size="8.4" fill="#8c8c8c">a</text>
<line x1="162.00" x2="162.00" y1="612.20" y2="619.10" stroke="#8e0f14" stroke-width="0.9"/>
<circle cx="162.73" cy="612.20" r="1.5" fill="#e31b23" stroke="#8e0f14" stroke-width="0.7"/>
<circle cx="162.80" cy="619.10" r="1.5" fill="#e31b23" stroke="#8e0f14" stroke-width="0.7"/>
<circle cx="163.55" cy="614.70" r="1.5" fill="#e31b23" stroke="#8e0f14" stroke-width="0.7"/>
<rect x="158.50" y="613.30" width="7.0" height="3.50" fill="#e31b23" stroke="#8e0f14" stroke-width="1.15"/>
<line x1="158.50" x2="165.50" y1="614.70" y2="614.70" stroke="#a8141a" stroke-width="1"/>
<text transform="translate(165.90,611.10) rotate(-90)" font-size="8.4" fill="#8c8c8c">a</text>
<line x1="171.40" x2="171.40" y1="618.50" y2="619.10" stroke="#8e0f14" stroke-width="0.9"/>
<circle cx="172.50" cy="618.50" r="1.5" fill="#e31b23" stroke="#8e0f14" stroke-width="0.7"/>
<circle cx="171.74" cy="619.10" r="1.5" fill="#e31b23" stroke="#8e0f14" stroke-width="0.7"/>
<circle cx="171.50" cy="618.80" r="1.5" fill="#e31b23" stroke="#8e0f14" stroke-width="0.7"/>
<rect x="167.90" y="618.10" width="7.0" height="1.40" fill="#e31b23" stroke="#8e0f14" stroke-width="1.15"/>
<line x1="167.90" x2="174.90" y1="618.80" y2="618.80" stroke="#a8141a" stroke-width="1"/>
<text transform="translate(175.30,616.70) rotate(-90)" font-size="8.4" fill="#8c8c8c">a</text>
<line x1="180.80" x2="180.80" y1="623.10" y2="625.40" stroke="#1d5e22" stroke-width="0.9"/>
<circle cx="181.30" cy="623.10" r="1.5" fill="#47ad4b" stroke="#1d5e22" stroke-width="0.7"/>
<circle cx="181.53" cy="625.40" r="1.5" fill="#47ad4b" stroke="#1d5e22" stroke-width="0.7"/>
<circle cx="180.49" cy="624.10" r="1.5" fill="#47ad4b" stroke="#1d5e22" stroke-width="0.7"/>
<rect x="177.30" y="622.70" width="7.0" height="3.10" fill="#47ad4b" stroke="#1d5e22" stroke-width="1.15"/>
<line x1="177.30" x2="184.30" y1="624.10" y2="624.10" stroke="#23702a" stroke-width="1"/>
<text transform="translate(184.70,621.20) rotate(-90)" font-size="8.4" fill="#8c8c8c">a</text>
<line x1="190.20" x2="190.20" y1="617.70" y2="625.50" stroke="#1d5e22" stroke-width="0.9"/>
<circle cx="190.01" cy="617.70" r="1.5" fill="#47ad4b" stroke="#1d5e22" stroke-width="0.7"/>
<circle cx="189.35" cy="625.50" r="1.5" fill="#47ad4b" stroke="#1d5e22" stroke-width="0.7"/>
<circle cx="191.16" cy="621.60" r="1.5" fill="#47ad4b" stroke="#1d5e22" stroke-width="0.7"/>
<rect x="186.70" y="620.50" width="7.0" height="3.60" fill="#47ad4b" stroke="#1d5e22" stroke-width="1.15"/>
<line x1="186.70" x2="193.70" y1="621.60" y2="621.60" stroke="#23702a" stroke-width="1"/>
<text transform="translate(194.10,616.60) rotate(-90)" font-size="8.4" fill="#8c8c8c">a</text>
<line x1="199.60" x2="199.60" y1="611.20" y2="621.30" stroke="#1d5e22" stroke-width="0.9"/>
<circle cx="200.78" cy="611.20" r="1.5" fill="#47ad4b" stroke="#1d5e22" stroke-width="0.7"/>
<circle cx="199.30" cy="621.30" r="1.5" fill="#47ad4b" stroke="#1d5e22" stroke-width="0.7"/>
<circle cx="198.27" cy="615.40" r="1.5" fill="#47ad4b" stroke="#1d5e22" stroke-width="0.7"/>
<rect x="196.10" y="613.00" width="7.0" height="4.70" fill="#47ad4b" stroke="#1d5e22" stroke-width="0.9"/>
<line x1="196.10" x2="203.10" y1="615.40" y2="615.40" stroke="#23702a" stroke-width="1"/>
<text transform="translate(203.50,610.10) rotate(-90)" font-size="8.4" fill="#8c8c8c">a</text>
<line x1="209.00" x2="209.00" y1="616.70" y2="622.30" stroke="#1d5e22" stroke-width="0.9"/>
<circle cx="208.29" cy="616.70" r="1.5" fill="#47ad4b" stroke="#1d5e22" stroke-width="0.7"/>
<circle cx="208.82" cy="622.30" r="1.5" fill="#47ad4b" stroke="#1d5e22" stroke-width="0.7"/>
<circle cx="208.17" cy="617.70" r="1.5" fill="#47ad4b" stroke="#1d5e22" stroke-width="0.7"/>
<rect x="205.50" y="616.30" width="7.0" height="3.20" fill="#47ad4b" stroke="#1d5e22" stroke-width="1.15"/>
<line x1="205.50" x2="212.50" y1="617.70" y2="617.70" stroke="#23702a" stroke-width="1"/>
<text transform="translate(212.90,614.70) rotate(-90)" font-size="8.4" fill="#8c8c8c">a</text>
<line x1="218.40" x2="218.40" y1="612.60" y2="644.10" stroke="#1d5e22" stroke-width="0.9"/>
<circle cx="219.53" cy="612.60" r="1.5" fill="#47ad4b" stroke="#1d5e22" stroke-width="0.7"/>
<circle cx="217.34" cy="644.10" r="1.5" fill="#47ad4b" stroke="#1d5e22" stroke-width="0.7"/>
<circle cx="217.63" cy="612.60" r="1.5" fill="#47ad4b" stroke="#1d5e22" stroke-width="0.7"/>
<rect x="214.90" y="612.60" width="7.0" height="15.80" fill="#47ad4b" stroke="#1d5e22" stroke-width="0.9"/>
<line x1="214.90" x2="221.90" y1="612.60" y2="612.60" stroke="#23702a" stroke-width="1"/>
<text transform="translate(222.30,611.50) rotate(-90)" font-size="8.4" fill="#8c8c8c">a</text>
<line x1="227.80" x2="227.80" y1="624.10" y2="638.00" stroke="#1d5e22" stroke-width="0.9"/>
<circle cx="226.88" cy="624.10" r="1.5" fill="#47ad4b" stroke="#1d5e22" stroke-width="0.7"/>
<circle cx="228.16" cy="638.00" r="1.5" fill="#47ad4b" stroke="#1d5e22" stroke-width="0.7"/>
<circle cx="228.90" cy="629.20" r="1.5" fill="#47ad4b" stroke="#1d5e22" stroke-width="0.7"/>
<rect x="224.30" y="627.20" width="7.0" height="6.20" fill="#47ad4b" stroke="#1d5e22" stroke-width="0.9"/>
<line x1="224.30" x2="231.30" y1="629.20" y2="629.20" stroke="#23702a" stroke-width="1"/>
<text transform="translate(231.70,623.00) rotate(-90)" font-size="8.4" fill="#8c8c8c">a</text>
<line x1="237.20" x2="237.20" y1="613.40" y2="615.90" stroke="#1d5e22" stroke-width="0.9"/>
<circle cx="236.43" cy="613.40" r="1.5" fill="#47ad4b" stroke="#1d5e22" stroke-width="0.7"/>
<circle cx="236.15" cy="615.90" r="1.5" fill="#47ad4b" stroke="#1d5e22" stroke-width="0.7"/>
<circle cx="237.04" cy="614.40" r="1.5" fill="#47ad4b" stroke="#1d5e22" stroke-width="0.7"/>
<rect x="233.70" y="613.00" width="7.0" height="3.30" fill="#47ad4b" stroke="#1d5e22" stroke-width="1.15"/>
<line x1="233.70" x2="240.70" y1="614.40" y2="614.40" stroke="#23702a" stroke-width="1"/>
<text transform="translate(241.10,611.10) rotate(-90)" font-size="8.4" fill="#8c8c8c">a</text>
<line x1="246.60" x2="246.60" y1="620.40" y2="621.90" stroke="#1d5e22" stroke-width="0.9"/>
<circle cx="246.80" cy="620.40" r="1.5" fill="#47ad4b" stroke="#1d5e22" stroke-width="0.7"/>
<circle cx="247.58" cy="621.90" r="1.5" fill="#47ad4b" stroke="#1d5e22" stroke-width="0.7"/>
<circle cx="244.75" cy="621.00" r="1.5" fill="#47ad4b" stroke="#1d5e22" stroke-width="0.7"/>
<rect x="243.10" y="620.00" width="7.0" height="2.30" fill="#47ad4b" stroke="#1d5e22" stroke-width="1.15"/>
<line x1="243.10" x2="250.10" y1="621.00" y2="621.00" stroke="#23702a" stroke-width="1"/>
<text transform="translate(250.50,618.60) rotate(-90)" font-size="8.4" fill="#8c8c8c">a</text>
<line x1="256.00" x2="256.00" y1="622.30" y2="633.40" stroke="#1d5e22" stroke-width="0.9"/>
<circle cx="255.06" cy="622.30" r="1.5" fill="#47ad4b" stroke="#1d5e22" stroke-width="0.7"/>
<circle cx="255.24" cy="633.40" r="1.5" fill="#47ad4b" stroke="#1d5e22" stroke-width="0.7"/>
<circle cx="254.87" cy="627.80" r="1.5" fill="#47ad4b" stroke="#1d5e22" stroke-width="0.7"/>
<rect x="252.50" y="626.90" width="7.0" height="5.50" fill="#47ad4b" stroke="#1d5e22" stroke-width="0.9"/>
<line x1="252.50" x2="259.50" y1="627.80" y2="627.80" stroke="#23702a" stroke-width="1"/>
<text transform="translate(259.90,621.20) rotate(-90)" font-size="8.4" fill="#8c8c8c">a</text>
<line x1="265.40" x2="265.40" y1="616.70" y2="621.60" stroke="#1d5e22" stroke-width="0.9"/>
<circle cx="264.76" cy="616.70" r="1.5" fill="#47ad4b" stroke="#1d5e22" stroke-width="0.7"/>
<circle cx="265.92" cy="621.60" r="1.5" fill="#47ad4b" stroke="#1d5e22" stroke-width="0.7"/>
<circle cx="265.78" cy="617.40" r="1.5" fill="#47ad4b" stroke="#1d5e22" stroke-width="0.7"/>
<rect x="261.90" y="616.30" width="7.0" height="3.20" fill="#47ad4b" stroke="#1d5e22" stroke-width="1.15"/>
<line x1="261.90" x2="268.90" y1="617.40" y2="617.40" stroke="#23702a" stroke-width="1"/>
<text transform="translate(269.30,615.00) rotate(-90)" font-size="8.4" fill="#8c8c8c">a</text>
<line x1="274.80" x2="274.80" y1="609.80" y2="627.20" stroke="#1d5e22" stroke-width="0.9"/>
<circle cx="274.14" cy="609.80" r="1.5" fill="#47ad4b" stroke="#1d5e22" stroke-width="0.7"/>
<circle cx="274.04" cy="627.20" r="1.5" fill="#47ad4b" stroke="#1d5e22" stroke-width="0.7"/>
<circle cx="273.92" cy="617.40" r="1.5" fill="#47ad4b" stroke="#1d5e22" stroke-width="0.7"/>
<rect x="271.30" y="613.60" width="7.0" height="8.70" fill="#47ad4b" stroke="#1d5e22" stroke-width="0.9"/>
<line x1="271.30" x2="278.30" y1="617.40" y2="617.40" stroke="#23702a" stroke-width="1"/>
<text transform="translate(278.70,608.70) rotate(-90)" font-size="8.4" fill="#8c8c8c">a</text>
<line x1="284.20" x2="284.20" y1="612.20" y2="627.90" stroke="#1d5e22" stroke-width="0.9"/>
<circle cx="283.41" cy="612.20" r="1.5" fill="#47ad4b" stroke="#1d5e22" stroke-width="0.7"/>
<circle cx="284.82" cy="627.90" r="1.5" fill="#47ad4b" stroke="#1d5e22" stroke-width="0.7"/>
<circle cx="283.45" cy="618.80" r="1.5" fill="#47ad4b" stroke="#1d5e22" stroke-width="0.7"/>
<rect x="280.70" y="615.40" width="7.0" height="6.90" fill="#47ad4b" stroke="#1d5e22" stroke-width="0.9"/>
<line x1="280.70" x2="287.70" y1="618.80" y2="618.80" stroke="#23702a" stroke-width="1"/>
<text transform="translate(288.10,611.10) rotate(-90)" font-size="8.4" fill="#8c8c8c">a</text>
<line x1="293.60" x2="293.60" y1="610.70" y2="622.60" stroke="#1d5e22" stroke-width="0.9"/>
<circle cx="293.72" cy="610.70" r="1.5" fill="#47ad4b" stroke="#1d5e22" stroke-width="0.7"/>
<circle cx="294.36" cy="622.60" r="1.5" fill="#47ad4b" stroke="#1d5e22" stroke-width="0.7"/>
<circle cx="293.52" cy="614.70" r="1.5" fill="#47ad4b" stroke="#1d5e22" stroke-width="0.7"/>
<rect x="290.10" y="612.50" width="7.0" height="5.50" fill="#47ad4b" stroke="#1d5e22" stroke-width="0.9"/>
<line x1="290.10" x2="297.10" y1="614.70" y2="614.70" stroke="#23702a" stroke-width="1"/>
<text transform="translate(297.50,609.60) rotate(-90)" font-size="8.4" fill="#8c8c8c">a</text>
<line x1="303.00" x2="303.00" y1="610.30" y2="616.00" stroke="#1d5e22" stroke-width="0.9"/>
<circle cx="302.43" cy="610.30" r="1.5" fill="#47ad4b" stroke="#1d5e22" stroke-width="0.7"/>
<circle cx="303.93" cy="616.00" r="1.5" fill="#47ad4b" stroke="#1d5e22" stroke-width="0.7"/>
<circle cx="304.66" cy="612.50" r="1.5" fill="#47ad4b" stroke="#1d5e22" stroke-width="0.7"/>
<rect x="299.50" y="611.40" width="7.0" height="2.60" fill="#47ad4b" stroke="#1d5e22" stroke-width="1.15"/>
<line x1="299.50" x2="306.50" y1="612.50" y2="612.50" stroke="#23702a" stroke-width="1"/>
<text transform="translate(306.90,609.20) rotate(-90)" font-size="8.4" fill="#8c8c8c">a</text>
<line x1="312.40" x2="312.40" y1="620.20" y2="627.50" stroke="#1d5e22" stroke-width="0.9"/>
<circle cx="312.02" cy="620.20" r="1.5" fill="#47ad4b" stroke="#1d5e22" stroke-width="0.7"/>
<circle cx="312.51" cy="627.50" r="1.5" fill="#47ad4b" stroke="#1d5e22" stroke-width="0.7"/>
<circle cx="314.23" cy="624.10" r="1.5" fill="#47ad4b" stroke="#1d5e22" stroke-width="0.7"/>
<rect x="308.90" y="622.20" width="7.0" height="4.10" fill="#47ad4b" stroke="#1d5e22" stroke-width="0.9"/>
<line x1="308.90" x2="315.90" y1="624.10" y2="624.10" stroke="#23702a" stroke-width="1"/>
<text transform="translate(316.30,619.10) rotate(-90)" font-size="8.4" fill="#8c8c8c">a</text>
<line x1="321.80" x2="321.80" y1="619.10" y2="626.70" stroke="#1d5e22" stroke-width="0.9"/>
<circle cx="321.76" cy="619.10" r="1.5" fill="#47ad4b" stroke="#1d5e22" stroke-width="0.7"/>
<circle cx="321.13" cy="626.70" r="1.5" fill="#47ad4b" stroke="#1d5e22" stroke-width="0.7"/>
<circle cx="320.00" cy="621.40" r="1.5" fill="#47ad4b" stroke="#1d5e22" stroke-width="0.7"/>
<rect x="318.30" y="620.20" width="7.0" height="3.50" fill="#47ad4b" stroke="#1d5e22" stroke-width="1.15"/>
<line x1="318.30" x2="325.30" y1="621.40" y2="621.40" stroke="#23702a" stroke-width="1"/>
<text transform="translate(325.70,618.00) rotate(-90)" font-size="8.4" fill="#8c8c8c">a</text>
<line x1="331.20" x2="331.20" y1="609.10" y2="627.80" stroke="#1d5e22" stroke-width="0.9"/>
<circle cx="332.27" cy="609.10" r="1.5" fill="#47ad4b" stroke="#1d5e22" stroke-width="0.7"/>
<circle cx="331.92" cy="627.80" r="1.5" fill="#47ad4b" stroke="#1d5e22" stroke-width="0.7"/>
<circle cx="330.74" cy="612.20" r="1.5" fill="#47ad4b" stroke="#1d5e22" stroke-width="0.7"/>
<rect x="327.70" y="611.40" width="7.0" height="9.20" fill="#47ad4b" stroke="#1d5e22" stroke-width="0.9"/>
<line x1="327.70" x2="334.70" y1="612.20" y2="612.20" stroke="#23702a" stroke-width="1"/>
<text transform="translate(335.10,608.00) rotate(-90)" font-size="8.4" fill="#8c8c8c">a</text>
<line x1="340.60" x2="340.60" y1="616.50" y2="641.00" stroke="#1d5e22" stroke-width="0.9"/>
<circle cx="340.67" cy="616.50" r="1.5" fill="#47ad4b" stroke="#1d5e22" stroke-width="0.7"/>
<circle cx="340.64" cy="641.00" r="1.5" fill="#47ad4b" stroke="#1d5e22" stroke-width="0.7"/>
<circle cx="339.70" cy="634.40" r="1.5" fill="#47ad4b" stroke="#1d5e22" stroke-width="0.7"/>
<rect x="337.10" y="626.30" width="7.0" height="11.90" fill="#47ad4b" stroke="#1d5e22" stroke-width="0.9"/>
<line x1="337.10" x2="344.10" y1="634.40" y2="634.40" stroke="#23702a" stroke-width="1"/>
<text transform="translate(344.50,615.40) rotate(-90)" font-size="8.4" fill="#8c8c8c">a</text>
<line x1="350.00" x2="350.00" y1="619.10" y2="624.50" stroke="#1d5e22" stroke-width="0.9"/>
<circle cx="351.18" cy="619.10" r="1.5" fill="#47ad4b" stroke="#1d5e22" stroke-width="0.7"/>
<circle cx="350.38" cy="624.50" r="1.5" fill="#47ad4b" stroke="#1d5e22" stroke-width="0.7"/>
<circle cx="348.95" cy="621.40" r="1.5" fill="#47ad4b" stroke="#1d5e22" stroke-width="0.7"/>
<rect x="346.50" y="620.20" width="7.0" height="2.40" fill="#47ad4b" stroke="#1d5e22" stroke-width="1.15"/>
<line x1="346.50" x2="353.50" y1="621.40" y2="621.40" stroke="#23702a" stroke-width="1"/>
<text transform="translate(353.90,618.00) rotate(-90)" font-size="8.4" fill="#8c8c8c">a</text>
<line x1="359.40" x2="359.40" y1="630.20" y2="632.50" stroke="#1d5e22" stroke-width="0.9"/>
<circle cx="358.23" cy="630.20" r="1.5" fill="#47ad4b" stroke="#1d5e22" stroke-width="0.7"/>
<circle cx="359.33" cy="632.50" r="1.5" fill="#47ad4b" stroke="#1d5e22" stroke-width="0.7"/>
<circle cx="358.89" cy="631.30" r="1.5" fill="#47ad4b" stroke="#1d5e22" stroke-width="0.7"/>
<rect x="355.90" y="629.80" width="7.0" height="3.10" fill="#47ad4b" stroke="#1d5e22" stroke-width="1.15"/>
<line x1="355.90" x2="362.90" y1="631.30" y2="631.30" stroke="#23702a" stroke-width="1"/>
<text transform="translate(363.30,627.90) rotate(-90)" font-size="8.4" fill="#8c8c8c">a</text>
<line x1="368.80" x2="368.80" y1="612.60" y2="636.40" stroke="#1d5e22" stroke-width="0.9"/>
<circle cx="369.51" cy="612.60" r="1.5" fill="#47ad4b" stroke="#1d5e22" stroke-width="0.7"/>
<circle cx="369.31" cy="636.40" r="1.5" fill="#47ad4b" stroke="#1d5e22" stroke-width="0.7"/>
<circle cx="369.22" cy="613.00" r="1.5" fill="#47ad4b" stroke="#1d5e22" stroke-width="0.7"/>
<rect x="365.30" y="612.20" width="7.0" height="12.60" fill="#47ad4b" stroke="#1d5e22" stroke-width="0.9"/>
<line x1="365.30" x2="372.30" y1="613.00" y2="613.00" stroke="#23702a" stroke-width="1"/>
<text transform="translate(372.70,610.30) rotate(-90)" font-size="8.4" fill="#8c8c8c">a</text>
<line x1="378.20" x2="378.20" y1="624.80" y2="637.50" stroke="#1d5e22" stroke-width="0.9"/>
<circle cx="377.38" cy="624.80" r="1.5" fill="#47ad4b" stroke="#1d5e22" stroke-width="0.7"/>
<circle cx="377.38" cy="637.50" r="1.5" fill="#47ad4b" stroke="#1d5e22" stroke-width="0.7"/>
<circle cx="377.49" cy="629.80" r="1.5" fill="#47ad4b" stroke="#1d5e22" stroke-width="0.7"/>
<rect x="374.70" y="627.50" width="7.0" height="6.10" fill="#47ad4b" stroke="#1d5e22" stroke-width="0.9"/>
<line x1="374.70" x2="381.70" y1="629.80" y2="629.80" stroke="#23702a" stroke-width="1"/>
<text transform="translate(382.10,623.70) rotate(-90)" font-size="8.4" fill="#8c8c8c">a</text>
<line x1="387.60" x2="387.60" y1="617.10" y2="626.70" stroke="#1d5e22" stroke-width="0.9"/>
<circle cx="387.02" cy="617.10" r="1.5" fill="#47ad4b" stroke="#1d5e22" stroke-width="0.7"/>
<circle cx="388.49" cy="626.70" r="1.5" fill="#47ad4b" stroke="#1d5e22" stroke-width="0.7"/>
<circle cx="387.66" cy="622.90" r="1.5" fill="#47ad4b" stroke="#1d5e22" stroke-width="0.7"/>
<rect x="384.10" y="621.10" width="7.0" height="4.60" fill="#47ad4b" stroke="#1d5e22" stroke-width="0.9"/>
<line x1="384.10" x2="391.10" y1="622.90" y2="622.90" stroke="#23702a" stroke-width="1"/>
<text transform="translate(391.50,616.00) rotate(-90)" font-size="8.4" fill="#8c8c8c">a</text>
</g>
<g clip-path="url(#cpDFF)">
<line x1="405.70" x2="405.70" y1="612.70" y2="617.60" stroke="#8e0f14" stroke-width="0.9"/>
<circle cx="406.03" cy="612.70" r="1.5" fill="#e31b23" stroke="#8e0f14" stroke-width="0.7"/>
<circle cx="406.88" cy="617.60" r="1.5" fill="#e31b23" stroke="#8e0f14" stroke-width="0.7"/>
<circle cx="404.77" cy="616.20" r="1.5" fill="#e31b23" stroke="#8e0f14" stroke-width="0.7"/>
<rect x="402.20" y="614.80" width="7.0" height="3.20" fill="#e31b23" stroke="#8e0f14" stroke-width="1.15"/>
<line x1="402.20" x2="409.20" y1="616.20" y2="616.20" stroke="#a8141a" stroke-width="1"/>
<text transform="translate(409.60,611.30) rotate(-90)" font-size="8.4" fill="#8c8c8c">abcd</text>
<line x1="415.10" x2="415.10" y1="611.00" y2="618.30" stroke="#8e0f14" stroke-width="0.9"/>
<circle cx="415.18" cy="611.00" r="1.5" fill="#e31b23" stroke="#8e0f14" stroke-width="0.7"/>
<circle cx="414.26" cy="618.30" r="1.5" fill="#e31b23" stroke="#8e0f14" stroke-width="0.7"/>
<circle cx="416.18" cy="614.80" r="1.5" fill="#e31b23" stroke="#8e0f14" stroke-width="0.7"/>
<rect x="411.60" y="613.00" width="7.0" height="3.90" fill="#e31b23" stroke="#8e0f14" stroke-width="1.15"/>
<line x1="411.60" x2="418.60" y1="614.80" y2="614.80" stroke="#a8141a" stroke-width="1"/>
<text transform="translate(419.00,609.60) rotate(-90)" font-size="8.4" fill="#8c8c8c">abcd</text>
<line x1="424.50" x2="424.50" y1="604.10" y2="609.70" stroke="#8e0f14" stroke-width="0.9"/>
<circle cx="423.30" cy="604.10" r="1.5" fill="#e31b23" stroke="#8e0f14" stroke-width="0.7"/>
<circle cx="425.27" cy="609.70" r="1.5" fill="#e31b23" stroke="#8e0f14" stroke-width="0.7"/>
<circle cx="425.88" cy="606.90" r="1.5" fill="#e31b23" stroke="#8e0f14" stroke-width="0.7"/>
<rect x="421.00" y="605.50" width="7.0" height="3.00" fill="#e31b23" stroke="#8e0f14" stroke-width="1.15"/>
<line x1="421.00" x2="428.00" y1="606.90" y2="606.90" stroke="#a8141a" stroke-width="1"/>
<text transform="translate(428.40,602.70) rotate(-90)" font-size="8.4" fill="#8c8c8c">ab</text>
<line x1="433.90" x2="433.90" y1="613.00" y2="619.00" stroke="#8e0f14" stroke-width="0.9"/>
<circle cx="434.67" cy="613.00" r="1.5" fill="#e31b23" stroke="#8e0f14" stroke-width="0.7"/>
<circle cx="432.90" cy="619.00" r="1.5" fill="#e31b23" stroke="#8e0f14" stroke-width="0.7"/>
<circle cx="432.98" cy="617.10" r="1.5" fill="#e31b23" stroke="#8e0f14" stroke-width="0.7"/>
<rect x="430.40" y="615.80" width="7.0" height="3.60" fill="#e31b23" stroke="#8e0f14" stroke-width="1.15"/>
<line x1="430.40" x2="437.40" y1="617.10" y2="617.10" stroke="#a8141a" stroke-width="1"/>
<text transform="translate(437.80,611.60) rotate(-90)" font-size="8.4" fill="#8c8c8c">abcd</text>
<line x1="443.30" x2="443.30" y1="610.20" y2="628.20" stroke="#8e0f14" stroke-width="0.9"/>
<circle cx="443.82" cy="610.20" r="1.5" fill="#e31b23" stroke="#8e0f14" stroke-width="0.7"/>
<circle cx="442.33" cy="628.20" r="1.5" fill="#e31b23" stroke="#8e0f14" stroke-width="0.7"/>
<circle cx="443.22" cy="616.20" r="1.5" fill="#e31b23" stroke="#8e0f14" stroke-width="0.7"/>
<rect x="439.80" y="613.00" width="7.0" height="9.40" fill="#e31b23" stroke="#8e0f14" stroke-width="0.9"/>
<line x1="439.80" x2="446.80" y1="616.20" y2="616.20" stroke="#a8141a" stroke-width="1"/>
<text transform="translate(447.20,608.80) rotate(-90)" font-size="8.4" fill="#8c8c8c">abcd</text>
<line x1="452.70" x2="452.70" y1="609.70" y2="623.80" stroke="#8e0f14" stroke-width="0.9"/>
<circle cx="452.62" cy="609.70" r="1.5" fill="#e31b23" stroke="#8e0f14" stroke-width="0.7"/>
<circle cx="453.79" cy="623.80" r="1.5" fill="#e31b23" stroke="#8e0f14" stroke-width="0.7"/>
<circle cx="453.05" cy="618.30" r="1.5" fill="#e31b23" stroke="#8e0f14" stroke-width="0.7"/>
<rect x="449.20" y="615.20" width="7.0" height="6.50" fill="#e31b23" stroke="#8e0f14" stroke-width="0.9"/>
<line x1="449.20" x2="456.20" y1="618.30" y2="618.30" stroke="#a8141a" stroke-width="1"/>
<text transform="translate(456.60,608.30) rotate(-90)" font-size="8.4" fill="#8c8c8c">abcd</text>
<line x1="462.10" x2="462.10" y1="612.40" y2="612.40" stroke="#8e0f14" stroke-width="0.9"/>
<circle cx="462.96" cy="612.40" r="1.5" fill="#e31b23" stroke="#8e0f14" stroke-width="0.7"/>
<circle cx="461.63" cy="612.40" r="1.5" fill="#e31b23" stroke="#8e0f14" stroke-width="0.7"/>
<circle cx="463.26" cy="612.40" r="1.5" fill="#e31b23" stroke="#8e0f14" stroke-width="0.7"/>
<rect x="458.60" y="612.10" width="7.0" height="0.60" fill="#e31b23" stroke="#8e0f14" stroke-width="1.15"/>
<line x1="458.60" x2="465.60" y1="612.40" y2="612.40" stroke="#a8141a" stroke-width="1"/>
<text transform="translate(466.00,611.00) rotate(-90)" font-size="8.4" fill="#8c8c8c">abcd</text>
<line x1="471.50" x2="471.50" y1="620.30" y2="625.90" stroke="#1d5e22" stroke-width="0.9"/>
<circle cx="471.30" cy="620.30" r="1.5" fill="#47ad4b" stroke="#1d5e22" stroke-width="0.7"/>
<circle cx="472.50" cy="625.90" r="1.5" fill="#47ad4b" stroke="#1d5e22" stroke-width="0.7"/>
<circle cx="469.86" cy="621.00" r="1.5" fill="#47ad4b" stroke="#1d5e22" stroke-width="0.7"/>
<rect x="468.00" y="619.90" width="7.0" height="3.20" fill="#47ad4b" stroke="#1d5e22" stroke-width="1.15"/>
<line x1="468.00" x2="475.00" y1="621.00" y2="621.00" stroke="#23702a" stroke-width="1"/>
<text transform="translate(475.40,618.20) rotate(-90)" font-size="8.4" fill="#8c8c8c">abcd</text>
<line x1="480.90" x2="480.90" y1="624.90" y2="644.30" stroke="#1d5e22" stroke-width="0.9"/>
<circle cx="481.68" cy="624.90" r="1.5" fill="#47ad4b" stroke="#1d5e22" stroke-width="0.7"/>
<circle cx="480.20" cy="644.30" r="1.5" fill="#47ad4b" stroke="#1d5e22" stroke-width="0.7"/>
<circle cx="481.07" cy="629.10" r="1.5" fill="#47ad4b" stroke="#1d5e22" stroke-width="0.7"/>
<rect x="477.40" y="627.70" width="7.0" height="9.30" fill="#47ad4b" stroke="#1d5e22" stroke-width="0.9"/>
<line x1="477.40" x2="484.40" y1="629.10" y2="629.10" stroke="#23702a" stroke-width="1"/>
<text transform="translate(484.80,623.50) rotate(-90)" font-size="8.4" fill="#8c8c8c">cd</text>
<line x1="490.30" x2="490.30" y1="633.20" y2="641.40" stroke="#1d5e22" stroke-width="0.9"/>
<circle cx="490.36" cy="633.20" r="1.5" fill="#47ad4b" stroke="#1d5e22" stroke-width="0.7"/>
<circle cx="489.48" cy="641.40" r="1.5" fill="#47ad4b" stroke="#1d5e22" stroke-width="0.7"/>
<circle cx="491.63" cy="638.80" r="1.5" fill="#47ad4b" stroke="#1d5e22" stroke-width="0.7"/>
<rect x="486.80" y="637.00" width="7.0" height="4.80" fill="#47ad4b" stroke="#1d5e22" stroke-width="0.9"/>
<line x1="486.80" x2="493.80" y1="638.80" y2="638.80" stroke="#23702a" stroke-width="1"/>
<text transform="translate(494.20,631.80) rotate(-90)" font-size="8.4" fill="#8c8c8c">d</text>
<line x1="499.70" x2="499.70" y1="612.40" y2="621.00" stroke="#1d5e22" stroke-width="0.9"/>
<circle cx="499.25" cy="612.40" r="1.5" fill="#47ad4b" stroke="#1d5e22" stroke-width="0.7"/>
<circle cx="499.25" cy="621.00" r="1.5" fill="#47ad4b" stroke="#1d5e22" stroke-width="0.7"/>
<circle cx="498.00" cy="616.60" r="1.5" fill="#47ad4b" stroke="#1d5e22" stroke-width="0.7"/>
<rect x="496.20" y="614.80" width="7.0" height="3.70" fill="#47ad4b" stroke="#1d5e22" stroke-width="1.15"/>
<line x1="496.20" x2="503.20" y1="616.60" y2="616.60" stroke="#23702a" stroke-width="1"/>
<text transform="translate(503.60,611.00) rotate(-90)" font-size="8.4" fill="#8c8c8c">abcd</text>
<line x1="509.10" x2="509.10" y1="601.60" y2="644.60" stroke="#1d5e22" stroke-width="0.9"/>
<circle cx="508.63" cy="601.60" r="1.5" fill="#47ad4b" stroke="#1d5e22" stroke-width="0.7"/>
<circle cx="509.02" cy="644.60" r="1.5" fill="#47ad4b" stroke="#1d5e22" stroke-width="0.7"/>
<circle cx="509.96" cy="621.00" r="1.5" fill="#47ad4b" stroke="#1d5e22" stroke-width="0.7"/>
<rect x="505.60" y="611.60" width="7.0" height="21.60" fill="#47ad4b" stroke="#1d5e22" stroke-width="0.9"/>
<line x1="505.60" x2="512.60" y1="621.00" y2="621.00" stroke="#23702a" stroke-width="1"/>
<text transform="translate(513.00,600.20) rotate(-90)" font-size="8.4" fill="#8c8c8c">abcd</text>
<line x1="518.50" x2="518.50" y1="604.70" y2="621.70" stroke="#1d5e22" stroke-width="0.9"/>
<circle cx="518.16" cy="604.70" r="1.5" fill="#47ad4b" stroke="#1d5e22" stroke-width="0.7"/>
<circle cx="518.95" cy="621.70" r="1.5" fill="#47ad4b" stroke="#1d5e22" stroke-width="0.7"/>
<circle cx="516.92" cy="607.90" r="1.5" fill="#47ad4b" stroke="#1d5e22" stroke-width="0.7"/>
<rect x="515.00" y="606.50" width="7.0" height="8.30" fill="#47ad4b" stroke="#1d5e22" stroke-width="0.9"/>
<line x1="515.00" x2="522.00" y1="607.90" y2="607.90" stroke="#23702a" stroke-width="1"/>
<text transform="translate(522.40,603.30) rotate(-90)" font-size="8.4" fill="#8c8c8c">abcd</text>
<line x1="527.90" x2="527.90" y1="601.60" y2="612.00" stroke="#1d5e22" stroke-width="0.9"/>
<circle cx="527.65" cy="601.60" r="1.5" fill="#47ad4b" stroke="#1d5e22" stroke-width="0.7"/>
<circle cx="527.81" cy="612.00" r="1.5" fill="#47ad4b" stroke="#1d5e22" stroke-width="0.7"/>
<circle cx="529.77" cy="604.70" r="1.5" fill="#47ad4b" stroke="#1d5e22" stroke-width="0.7"/>
<rect x="524.40" y="603.30" width="7.0" height="5.00" fill="#47ad4b" stroke="#1d5e22" stroke-width="0.9"/>
<line x1="524.40" x2="531.40" y1="604.70" y2="604.70" stroke="#23702a" stroke-width="1"/>
<text transform="translate(531.80,600.20) rotate(-90)" font-size="8.4" fill="#8c8c8c">ab</text>
<line x1="537.30" x2="537.30" y1="604.70" y2="619.90" stroke="#1d5e22" stroke-width="0.9"/>
<circle cx="538.09" cy="604.70" r="1.5" fill="#47ad4b" stroke="#1d5e22" stroke-width="0.7"/>
<circle cx="537.67" cy="619.90" r="1.5" fill="#47ad4b" stroke="#1d5e22" stroke-width="0.7"/>
<circle cx="535.35" cy="615.50" r="1.5" fill="#47ad4b" stroke="#1d5e22" stroke-width="0.7"/>
<rect x="533.80" y="609.70" width="7.0" height="7.40" fill="#47ad4b" stroke="#1d5e22" stroke-width="0.9"/>
<line x1="533.80" x2="540.80" y1="615.50" y2="615.50" stroke="#23702a" stroke-width="1"/>
<text transform="translate(541.20,603.30) rotate(-90)" font-size="8.4" fill="#8c8c8c">abcd</text>
<line x1="546.70" x2="546.70" y1="612.00" y2="616.20" stroke="#1d5e22" stroke-width="0.9"/>
<circle cx="546.41" cy="612.00" r="1.5" fill="#47ad4b" stroke="#1d5e22" stroke-width="0.7"/>
<circle cx="547.20" cy="616.20" r="1.5" fill="#47ad4b" stroke="#1d5e22" stroke-width="0.7"/>
<circle cx="545.65" cy="615.50" r="1.5" fill="#47ad4b" stroke="#1d5e22" stroke-width="0.7"/>
<rect x="543.20" y="613.80" width="7.0" height="2.80" fill="#47ad4b" stroke="#1d5e22" stroke-width="1.15"/>
<line x1="543.20" x2="550.20" y1="615.50" y2="615.50" stroke="#23702a" stroke-width="1"/>
<text transform="translate(550.60,610.60) rotate(-90)" font-size="8.4" fill="#8c8c8c">abcd</text>
<line x1="556.10" x2="556.10" y1="604.70" y2="613.00" stroke="#1d5e22" stroke-width="0.9"/>
<circle cx="556.25" cy="604.70" r="1.5" fill="#47ad4b" stroke="#1d5e22" stroke-width="0.7"/>
<circle cx="556.00" cy="613.00" r="1.5" fill="#47ad4b" stroke="#1d5e22" stroke-width="0.7"/>
<circle cx="554.14" cy="608.30" r="1.5" fill="#47ad4b" stroke="#1d5e22" stroke-width="0.7"/>
<rect x="552.60" y="606.50" width="7.0" height="3.70" fill="#47ad4b" stroke="#1d5e22" stroke-width="1.15"/>
<line x1="552.60" x2="559.60" y1="608.30" y2="608.30" stroke="#23702a" stroke-width="1"/>
<text transform="translate(560.00,603.30) rotate(-90)" font-size="8.4" fill="#8c8c8c">abc</text>
<line x1="565.50" x2="565.50" y1="608.50" y2="629.10" stroke="#1d5e22" stroke-width="0.9"/>
<circle cx="566.68" cy="608.50" r="1.5" fill="#47ad4b" stroke="#1d5e22" stroke-width="0.7"/>
<circle cx="566.22" cy="629.10" r="1.5" fill="#47ad4b" stroke="#1d5e22" stroke-width="0.7"/>
<circle cx="564.33" cy="611.60" r="1.5" fill="#47ad4b" stroke="#1d5e22" stroke-width="0.7"/>
<rect x="562.00" y="610.60" width="7.0" height="9.70" fill="#47ad4b" stroke="#1d5e22" stroke-width="0.9"/>
<line x1="562.00" x2="569.00" y1="611.60" y2="611.60" stroke="#23702a" stroke-width="1"/>
<text transform="translate(569.40,607.10) rotate(-90)" font-size="8.4" fill="#8c8c8c">abcd</text>
<line x1="574.90" x2="574.90" y1="612.00" y2="623.10" stroke="#1d5e22" stroke-width="0.9"/>
<circle cx="575.18" cy="612.00" r="1.5" fill="#47ad4b" stroke="#1d5e22" stroke-width="0.7"/>
<circle cx="574.40" cy="623.10" r="1.5" fill="#47ad4b" stroke="#1d5e22" stroke-width="0.7"/>
<circle cx="574.40" cy="617.10" r="1.5" fill="#47ad4b" stroke="#1d5e22" stroke-width="0.7"/>
<rect x="571.40" y="614.80" width="7.0" height="5.10" fill="#47ad4b" stroke="#1d5e22" stroke-width="0.9"/>
<line x1="571.40" x2="578.40" y1="617.10" y2="617.10" stroke="#23702a" stroke-width="1"/>
<text transform="translate(578.80,610.60) rotate(-90)" font-size="8.4" fill="#8c8c8c">abcd</text>
<line x1="584.30" x2="584.30" y1="619.80" y2="630.20" stroke="#1d5e22" stroke-width="0.9"/>
<circle cx="584.40" cy="619.80" r="1.5" fill="#47ad4b" stroke="#1d5e22" stroke-width="0.7"/>
<circle cx="583.82" cy="630.20" r="1.5" fill="#47ad4b" stroke="#1d5e22" stroke-width="0.7"/>
<circle cx="583.65" cy="625.00" r="1.5" fill="#47ad4b" stroke="#1d5e22" stroke-width="0.7"/>
<rect x="580.80" y="622.80" width="7.0" height="5.40" fill="#47ad4b" stroke="#1d5e22" stroke-width="0.9"/>
<line x1="580.80" x2="587.80" y1="625.00" y2="625.00" stroke="#23702a" stroke-width="1"/>
<text transform="translate(588.20,618.40) rotate(-90)" font-size="8.4" fill="#8c8c8c">abcd</text>
<line x1="593.70" x2="593.70" y1="615.50" y2="629.30" stroke="#1d5e22" stroke-width="0.9"/>
<circle cx="593.44" cy="615.50" r="1.5" fill="#47ad4b" stroke="#1d5e22" stroke-width="0.7"/>
<circle cx="594.10" cy="629.30" r="1.5" fill="#47ad4b" stroke="#1d5e22" stroke-width="0.7"/>
<circle cx="592.73" cy="626.00" r="1.5" fill="#47ad4b" stroke="#1d5e22" stroke-width="0.7"/>
<rect x="590.20" y="622.50" width="7.0" height="7.20" fill="#47ad4b" stroke="#1d5e22" stroke-width="0.9"/>
<line x1="590.20" x2="597.20" y1="626.00" y2="626.00" stroke="#23702a" stroke-width="1"/>
<text transform="translate(597.60,614.10) rotate(-90)" font-size="8.4" fill="#8c8c8c">abcd</text>
<line x1="603.10" x2="603.10" y1="619.00" y2="634.80" stroke="#1d5e22" stroke-width="0.9"/>
<circle cx="602.38" cy="619.00" r="1.5" fill="#47ad4b" stroke="#1d5e22" stroke-width="0.7"/>
<circle cx="603.66" cy="634.80" r="1.5" fill="#47ad4b" stroke="#1d5e22" stroke-width="0.7"/>
<circle cx="602.42" cy="629.00" r="1.5" fill="#47ad4b" stroke="#1d5e22" stroke-width="0.7"/>
<rect x="599.60" y="625.90" width="7.0" height="6.90" fill="#47ad4b" stroke="#1d5e22" stroke-width="0.9"/>
<line x1="599.60" x2="606.60" y1="629.00" y2="629.00" stroke="#23702a" stroke-width="1"/>
<text transform="translate(607.00,617.60) rotate(-90)" font-size="8.4" fill="#8c8c8c">bcd</text>
<line x1="612.50" x2="612.50" y1="637.00" y2="641.20" stroke="#1d5e22" stroke-width="0.9"/>
<circle cx="613.57" cy="637.00" r="1.5" fill="#47ad4b" stroke="#1d5e22" stroke-width="0.7"/>
<circle cx="612.65" cy="641.20" r="1.5" fill="#47ad4b" stroke="#1d5e22" stroke-width="0.7"/>
<circle cx="613.40" cy="637.40" r="1.5" fill="#47ad4b" stroke="#1d5e22" stroke-width="0.7"/>
<rect x="609.00" y="636.60" width="7.0" height="2.30" fill="#47ad4b" stroke="#1d5e22" stroke-width="1.15"/>
<line x1="609.00" x2="616.00" y1="637.40" y2="637.40" stroke="#23702a" stroke-width="1"/>
<text transform="translate(616.40,634.50) rotate(-90)" font-size="8.4" fill="#8c8c8c">d</text>
<line x1="621.90" x2="621.90" y1="601.70" y2="605.60" stroke="#1d5e22" stroke-width="0.9"/>
<circle cx="621.50" cy="601.70" r="1.5" fill="#47ad4b" stroke="#1d5e22" stroke-width="0.7"/>
<circle cx="622.68" cy="605.60" r="1.5" fill="#47ad4b" stroke="#1d5e22" stroke-width="0.7"/>
<circle cx="620.27" cy="604.80" r="1.5" fill="#47ad4b" stroke="#1d5e22" stroke-width="0.7"/>
<rect x="618.40" y="603.70" width="7.0" height="2.30" fill="#47ad4b" stroke="#1d5e22" stroke-width="1.15"/>
<line x1="618.40" x2="625.40" y1="604.80" y2="604.80" stroke="#23702a" stroke-width="1"/>
<text transform="translate(625.80,600.30) rotate(-90)" font-size="8.4" fill="#8c8c8c">a</text>
<line x1="631.30" x2="631.30" y1="611.30" y2="630.80" stroke="#1d5e22" stroke-width="0.9"/>
<circle cx="630.44" cy="611.30" r="1.5" fill="#47ad4b" stroke="#1d5e22" stroke-width="0.7"/>
<circle cx="630.33" cy="630.80" r="1.5" fill="#47ad4b" stroke="#1d5e22" stroke-width="0.7"/>
<circle cx="632.01" cy="621.30" r="1.5" fill="#47ad4b" stroke="#1d5e22" stroke-width="0.7"/>
<rect x="627.80" y="616.40" width="7.0" height="9.80" fill="#47ad4b" stroke="#1d5e22" stroke-width="0.9"/>
<line x1="627.80" x2="634.80" y1="621.30" y2="621.30" stroke="#23702a" stroke-width="1"/>
<text transform="translate(635.20,609.90) rotate(-90)" font-size="8.4" fill="#8c8c8c">abcd</text>
<line x1="640.70" x2="640.70" y1="629.70" y2="636.20" stroke="#1d5e22" stroke-width="0.9"/>
<circle cx="641.20" cy="629.70" r="1.5" fill="#47ad4b" stroke="#1d5e22" stroke-width="0.7"/>
<circle cx="639.93" cy="636.20" r="1.5" fill="#47ad4b" stroke="#1d5e22" stroke-width="0.7"/>
<circle cx="640.31" cy="634.80" r="1.5" fill="#47ad4b" stroke="#1d5e22" stroke-width="0.7"/>
<rect x="637.20" y="632.80" width="7.0" height="3.80" fill="#47ad4b" stroke="#1d5e22" stroke-width="1.15"/>
<line x1="637.20" x2="644.20" y1="634.80" y2="634.80" stroke="#23702a" stroke-width="1"/>
<text transform="translate(644.60,628.30) rotate(-90)" font-size="8.4" fill="#8c8c8c">cd</text>
<line x1="650.10" x2="650.10" y1="610.70" y2="615.20" stroke="#1d5e22" stroke-width="0.9"/>
<circle cx="650.91" cy="610.70" r="1.5" fill="#47ad4b" stroke="#1d5e22" stroke-width="0.7"/>
<circle cx="650.32" cy="615.20" r="1.5" fill="#47ad4b" stroke="#1d5e22" stroke-width="0.7"/>
<circle cx="648.46" cy="611.40" r="1.5" fill="#47ad4b" stroke="#1d5e22" stroke-width="0.7"/>
<rect x="646.60" y="610.30" width="7.0" height="2.10" fill="#47ad4b" stroke="#1d5e22" stroke-width="1.15"/>
<line x1="646.60" x2="653.60" y1="611.40" y2="611.40" stroke="#23702a" stroke-width="1"/>
<text transform="translate(654.00,608.40) rotate(-90)" font-size="8.4" fill="#8c8c8c">abcd</text>
<line x1="659.50" x2="659.50" y1="606.80" y2="612.00" stroke="#1d5e22" stroke-width="0.9"/>
<circle cx="658.84" cy="606.80" r="1.5" fill="#47ad4b" stroke="#1d5e22" stroke-width="0.7"/>
<circle cx="658.68" cy="612.00" r="1.5" fill="#47ad4b" stroke="#1d5e22" stroke-width="0.7"/>
<circle cx="658.00" cy="610.60" r="1.5" fill="#47ad4b" stroke="#1d5e22" stroke-width="0.7"/>
<rect x="656.00" y="608.70" width="7.0" height="3.70" fill="#47ad4b" stroke="#1d5e22" stroke-width="1.15"/>
<line x1="656.00" x2="663.00" y1="610.60" y2="610.60" stroke="#23702a" stroke-width="1"/>
<text transform="translate(663.40,605.40) rotate(-90)" font-size="8.4" fill="#8c8c8c">abcd</text>
<line x1="668.90" x2="668.90" y1="610.60" y2="629.00" stroke="#1d5e22" stroke-width="0.9"/>
<circle cx="668.68" cy="610.60" r="1.5" fill="#47ad4b" stroke="#1d5e22" stroke-width="0.7"/>
<circle cx="667.87" cy="629.00" r="1.5" fill="#47ad4b" stroke="#1d5e22" stroke-width="0.7"/>
<circle cx="670.58" cy="620.50" r="1.5" fill="#47ad4b" stroke="#1d5e22" stroke-width="0.7"/>
<rect x="665.40" y="616.00" width="7.0" height="8.40" fill="#47ad4b" stroke="#1d5e22" stroke-width="0.9"/>
<line x1="665.40" x2="672.40" y1="620.50" y2="620.50" stroke="#23702a" stroke-width="1"/>
<text transform="translate(672.80,609.20) rotate(-90)" font-size="8.4" fill="#8c8c8c">abcd</text>
<line x1="678.30" x2="678.30" y1="607.50" y2="629.00" stroke="#1d5e22" stroke-width="0.9"/>
<circle cx="678.12" cy="607.50" r="1.5" fill="#47ad4b" stroke="#1d5e22" stroke-width="0.7"/>
<circle cx="678.33" cy="629.00" r="1.5" fill="#47ad4b" stroke="#1d5e22" stroke-width="0.7"/>
<circle cx="678.89" cy="612.10" r="1.5" fill="#47ad4b" stroke="#1d5e22" stroke-width="0.7"/>
<rect x="674.80" y="609.00" width="7.0" height="10.00" fill="#47ad4b" stroke="#1d5e22" stroke-width="0.9"/>
<line x1="674.80" x2="681.80" y1="612.10" y2="612.10" stroke="#23702a" stroke-width="1"/>
<text transform="translate(682.20,606.10) rotate(-90)" font-size="8.4" fill="#8c8c8c">abcd</text>
</g>
<g clip-path="url(#cpDSB)">
<line x1="115.00" x2="115.00" y1="694.20" y2="700.70" stroke="#8e0f14" stroke-width="0.9"/>
<circle cx="115.64" cy="694.20" r="1.5" fill="#e31b23" stroke="#8e0f14" stroke-width="0.7"/>
<circle cx="115.77" cy="700.70" r="1.5" fill="#e31b23" stroke="#8e0f14" stroke-width="0.7"/>
<circle cx="114.54" cy="697.20" r="1.5" fill="#e31b23" stroke="#8e0f14" stroke-width="0.7"/>
<rect x="111.50" y="695.80" width="7.0" height="2.80" fill="#e31b23" stroke="#8e0f14" stroke-width="1.15"/>
<line x1="111.50" x2="118.50" y1="697.20" y2="697.20" stroke="#a8141a" stroke-width="1"/>
<text transform="translate(118.90,690.50) rotate(-90)" font-size="8.4" fill="#8c8c8c">abcd</text>
<line x1="124.40" x2="124.40" y1="696.50" y2="702.80" stroke="#8e0f14" stroke-width="0.9"/>
<circle cx="124.00" cy="696.50" r="1.5" fill="#e31b23" stroke="#8e0f14" stroke-width="0.7"/>
<circle cx="124.19" cy="702.80" r="1.5" fill="#e31b23" stroke="#8e0f14" stroke-width="0.7"/>
<circle cx="122.46" cy="699.30" r="1.5" fill="#e31b23" stroke="#8e0f14" stroke-width="0.7"/>
<rect x="120.90" y="697.90" width="7.0" height="2.80" fill="#e31b23" stroke="#8e0f14" stroke-width="1.15"/>
<line x1="120.90" x2="127.90" y1="699.30" y2="699.30" stroke="#a8141a" stroke-width="1"/>
<text transform="translate(128.30,692.80) rotate(-90)" font-size="8.4" fill="#8c8c8c">cd</text>
<line x1="133.80" x2="133.80" y1="694.20" y2="695.70" stroke="#8e0f14" stroke-width="0.9"/>
<circle cx="133.56" cy="694.20" r="1.5" fill="#e31b23" stroke="#8e0f14" stroke-width="0.7"/>
<circle cx="134.28" cy="695.70" r="1.5" fill="#e31b23" stroke="#8e0f14" stroke-width="0.7"/>
<circle cx="135.73" cy="694.70" r="1.5" fill="#e31b23" stroke="#8e0f14" stroke-width="0.7"/>
<rect x="130.30" y="693.80" width="7.0" height="2.30" fill="#e31b23" stroke="#8e0f14" stroke-width="1.15"/>
<line x1="130.30" x2="137.30" y1="694.70" y2="694.70" stroke="#a8141a" stroke-width="1"/>
<text transform="translate(137.70,689.60) rotate(-90)" font-size="8.4" fill="#8c8c8c">abc</text>
<line x1="143.20" x2="143.20" y1="693.70" y2="695.20" stroke="#8e0f14" stroke-width="0.9"/>
<circle cx="143.90" cy="693.70" r="1.5" fill="#e31b23" stroke="#8e0f14" stroke-width="0.7"/>
<circle cx="143.58" cy="695.20" r="1.5" fill="#e31b23" stroke="#8e0f14" stroke-width="0.7"/>
<circle cx="143.63" cy="694.40" r="1.5" fill="#e31b23" stroke="#8e0f14" stroke-width="0.7"/>
<rect x="139.70" y="693.30" width="7.0" height="2.30" fill="#e31b23" stroke="#8e0f14" stroke-width="1.15"/>
<line x1="139.70" x2="146.70" y1="694.40" y2="694.40" stroke="#a8141a" stroke-width="1"/>
<text transform="translate(147.10,689.10) rotate(-90)" font-size="8.4" fill="#8c8c8c">ab</text>
<line x1="152.60" x2="152.60" y1="694.20" y2="695.70" stroke="#8e0f14" stroke-width="0.9"/>
<circle cx="151.44" cy="694.20" r="1.5" fill="#e31b23" stroke="#8e0f14" stroke-width="0.7"/>
<circle cx="152.19" cy="695.70" r="1.5" fill="#e31b23" stroke="#8e0f14" stroke-width="0.7"/>
<circle cx="151.97" cy="694.70" r="1.5" fill="#e31b23" stroke="#8e0f14" stroke-width="0.7"/>
<rect x="149.10" y="693.80" width="7.0" height="2.30" fill="#e31b23" stroke="#8e0f14" stroke-width="1.15"/>
<line x1="149.10" x2="156.10" y1="694.70" y2="694.70" stroke="#a8141a" stroke-width="1"/>
<text transform="translate(156.50,689.60) rotate(-90)" font-size="8.4" fill="#8c8c8c">abc</text>
<line x1="162.00" x2="162.00" y1="694.20" y2="697.50" stroke="#8e0f14" stroke-width="0.9"/>
<circle cx="162.36" cy="694.20" r="1.5" fill="#e31b23" stroke="#8e0f14" stroke-width="0.7"/>
<circle cx="161.06" cy="697.50" r="1.5" fill="#e31b23" stroke="#8e0f14" stroke-width="0.7"/>
<circle cx="161.51" cy="695.10" r="1.5" fill="#e31b23" stroke="#8e0f14" stroke-width="0.7"/>
<rect x="158.50" y="693.80" width="7.0" height="2.70" fill="#e31b23" stroke="#8e0f14" stroke-width="1.15"/>
<line x1="158.50" x2="165.50" y1="695.10" y2="695.10" stroke="#a8141a" stroke-width="1"/>
<text transform="translate(165.90,689.60) rotate(-90)" font-size="8.4" fill="#8c8c8c">abc</text>
<line x1="171.40" x2="171.40" y1="700.40" y2="701.70" stroke="#8e0f14" stroke-width="0.9"/>
<circle cx="171.42" cy="700.40" r="1.5" fill="#e31b23" stroke="#8e0f14" stroke-width="0.7"/>
<circle cx="172.09" cy="701.70" r="1.5" fill="#e31b23" stroke="#8e0f14" stroke-width="0.7"/>
<circle cx="172.70" cy="701.10" r="1.5" fill="#e31b23" stroke="#8e0f14" stroke-width="0.7"/>
<rect x="167.90" y="700.00" width="7.0" height="2.10" fill="#e31b23" stroke="#8e0f14" stroke-width="1.15"/>
<line x1="167.90" x2="174.90" y1="701.10" y2="701.10" stroke="#a8141a" stroke-width="1"/>
<text transform="translate(175.30,695.60) rotate(-90)" font-size="8.4" fill="#8c8c8c">cd</text>
<line x1="180.80" x2="180.80" y1="694.60" y2="698.30" stroke="#1d5e22" stroke-width="0.9"/>
<circle cx="181.07" cy="694.60" r="1.5" fill="#47ad4b" stroke="#1d5e22" stroke-width="0.7"/>
<circle cx="179.98" cy="698.30" r="1.5" fill="#47ad4b" stroke="#1d5e22" stroke-width="0.7"/>
<circle cx="181.87" cy="695.10" r="1.5" fill="#47ad4b" stroke="#1d5e22" stroke-width="0.7"/>
<rect x="177.30" y="694.20" width="7.0" height="2.30" fill="#47ad4b" stroke="#1d5e22" stroke-width="1.15"/>
<line x1="177.30" x2="184.30" y1="695.10" y2="695.10" stroke="#23702a" stroke-width="1"/>
<text transform="translate(184.70,689.60) rotate(-90)" font-size="8.4" fill="#8c8c8c">abcd</text>
<line x1="190.20" x2="190.20" y1="694.20" y2="698.20" stroke="#1d5e22" stroke-width="0.9"/>
<circle cx="191.17" cy="694.20" r="1.5" fill="#47ad4b" stroke="#1d5e22" stroke-width="0.7"/>
<circle cx="190.32" cy="698.20" r="1.5" fill="#47ad4b" stroke="#1d5e22" stroke-width="0.7"/>
<circle cx="189.61" cy="697.00" r="1.5" fill="#47ad4b" stroke="#1d5e22" stroke-width="0.7"/>
<rect x="186.70" y="695.60" width="7.0" height="3.00" fill="#47ad4b" stroke="#1d5e22" stroke-width="1.15"/>
<line x1="186.70" x2="193.70" y1="697.00" y2="697.00" stroke="#23702a" stroke-width="1"/>
<text transform="translate(194.10,690.50) rotate(-90)" font-size="8.4" fill="#8c8c8c">abcd</text>
<line x1="199.60" x2="199.60" y1="693.30" y2="698.90" stroke="#1d5e22" stroke-width="0.9"/>
<circle cx="199.60" cy="693.30" r="1.5" fill="#47ad4b" stroke="#1d5e22" stroke-width="0.7"/>
<circle cx="198.74" cy="698.90" r="1.5" fill="#47ad4b" stroke="#1d5e22" stroke-width="0.7"/>
<circle cx="200.45" cy="696.50" r="1.5" fill="#47ad4b" stroke="#1d5e22" stroke-width="0.7"/>
<rect x="196.10" y="695.10" width="7.0" height="2.80" fill="#47ad4b" stroke="#1d5e22" stroke-width="1.15"/>
<line x1="196.10" x2="203.10" y1="696.50" y2="696.50" stroke="#23702a" stroke-width="1"/>
<text transform="translate(203.50,689.60) rotate(-90)" font-size="8.4" fill="#8c8c8c">abcd</text>
<line x1="209.00" x2="209.00" y1="695.50" y2="697.50" stroke="#1d5e22" stroke-width="0.9"/>
<circle cx="210.17" cy="695.50" r="1.5" fill="#47ad4b" stroke="#1d5e22" stroke-width="0.7"/>
<circle cx="209.04" cy="697.50" r="1.5" fill="#47ad4b" stroke="#1d5e22" stroke-width="0.7"/>
<circle cx="209.86" cy="696.50" r="1.5" fill="#47ad4b" stroke="#1d5e22" stroke-width="0.7"/>
<rect x="205.50" y="695.10" width="7.0" height="2.80" fill="#47ad4b" stroke="#1d5e22" stroke-width="1.15"/>
<line x1="205.50" x2="212.50" y1="696.50" y2="696.50" stroke="#23702a" stroke-width="1"/>
<text transform="translate(212.90,690.80) rotate(-90)" font-size="8.4" fill="#8c8c8c">abcd</text>
<line x1="218.40" x2="218.40" y1="695.10" y2="699.30" stroke="#1d5e22" stroke-width="0.9"/>
<circle cx="219.21" cy="695.10" r="1.5" fill="#47ad4b" stroke="#1d5e22" stroke-width="0.7"/>
<circle cx="217.67" cy="699.30" r="1.5" fill="#47ad4b" stroke="#1d5e22" stroke-width="0.7"/>
<circle cx="220.18" cy="696.20" r="1.5" fill="#47ad4b" stroke="#1d5e22" stroke-width="0.7"/>
<rect x="214.90" y="694.70" width="7.0" height="3.20" fill="#47ad4b" stroke="#1d5e22" stroke-width="1.15"/>
<line x1="214.90" x2="221.90" y1="696.20" y2="696.20" stroke="#23702a" stroke-width="1"/>
<text transform="translate(222.30,690.50) rotate(-90)" font-size="8.4" fill="#8c8c8c">abcd</text>
<line x1="227.80" x2="227.80" y1="693.20" y2="694.70" stroke="#1d5e22" stroke-width="0.9"/>
<circle cx="228.11" cy="693.20" r="1.5" fill="#47ad4b" stroke="#1d5e22" stroke-width="0.7"/>
<circle cx="227.07" cy="694.70" r="1.5" fill="#47ad4b" stroke="#1d5e22" stroke-width="0.7"/>
<circle cx="226.13" cy="694.00" r="1.5" fill="#47ad4b" stroke="#1d5e22" stroke-width="0.7"/>
<rect x="224.30" y="692.80" width="7.0" height="2.30" fill="#47ad4b" stroke="#1d5e22" stroke-width="1.15"/>
<line x1="224.30" x2="231.30" y1="694.00" y2="694.00" stroke="#23702a" stroke-width="1"/>
<text transform="translate(231.70,688.50) rotate(-90)" font-size="8.4" fill="#8c8c8c">a</text>
<line x1="237.20" x2="237.20" y1="696.50" y2="700.00" stroke="#1d5e22" stroke-width="0.9"/>
<circle cx="236.59" cy="696.50" r="1.5" fill="#47ad4b" stroke="#1d5e22" stroke-width="0.7"/>
<circle cx="237.38" cy="700.00" r="1.5" fill="#47ad4b" stroke="#1d5e22" stroke-width="0.7"/>
<circle cx="237.99" cy="697.30" r="1.5" fill="#47ad4b" stroke="#1d5e22" stroke-width="0.7"/>
<rect x="233.70" y="696.10" width="7.0" height="2.50" fill="#47ad4b" stroke="#1d5e22" stroke-width="1.15"/>
<line x1="233.70" x2="240.70" y1="697.30" y2="697.30" stroke="#23702a" stroke-width="1"/>
<text transform="translate(241.10,691.80) rotate(-90)" font-size="8.4" fill="#8c8c8c">abcd</text>
<line x1="246.60" x2="246.60" y1="691.00" y2="695.40" stroke="#1d5e22" stroke-width="0.9"/>
<circle cx="246.19" cy="691.00" r="1.5" fill="#47ad4b" stroke="#1d5e22" stroke-width="0.7"/>
<circle cx="247.63" cy="695.40" r="1.5" fill="#47ad4b" stroke="#1d5e22" stroke-width="0.7"/>
<circle cx="246.04" cy="694.20" r="1.5" fill="#47ad4b" stroke="#1d5e22" stroke-width="0.7"/>
<rect x="243.10" y="692.80" width="7.0" height="3.00" fill="#47ad4b" stroke="#1d5e22" stroke-width="1.15"/>
<line x1="243.10" x2="250.10" y1="694.20" y2="694.20" stroke="#23702a" stroke-width="1"/>
<text transform="translate(250.50,687.30) rotate(-90)" font-size="8.4" fill="#8c8c8c">ab</text>
<line x1="256.00" x2="256.00" y1="693.70" y2="696.10" stroke="#1d5e22" stroke-width="0.9"/>
<circle cx="255.91" cy="693.70" r="1.5" fill="#47ad4b" stroke="#1d5e22" stroke-width="0.7"/>
<circle cx="255.10" cy="696.10" r="1.5" fill="#47ad4b" stroke="#1d5e22" stroke-width="0.7"/>
<circle cx="257.89" cy="694.90" r="1.5" fill="#47ad4b" stroke="#1d5e22" stroke-width="0.7"/>
<rect x="252.50" y="693.30" width="7.0" height="3.20" fill="#47ad4b" stroke="#1d5e22" stroke-width="1.15"/>
<line x1="252.50" x2="259.50" y1="694.90" y2="694.90" stroke="#23702a" stroke-width="1"/>
<text transform="translate(259.90,689.00) rotate(-90)" font-size="8.4" fill="#8c8c8c">abc</text>
<line x1="265.40" x2="265.40" y1="694.20" y2="695.70" stroke="#1d5e22" stroke-width="0.9"/>
<circle cx="264.53" cy="694.20" r="1.5" fill="#47ad4b" stroke="#1d5e22" stroke-width="0.7"/>
<circle cx="266.37" cy="695.70" r="1.5" fill="#47ad4b" stroke="#1d5e22" stroke-width="0.7"/>
<circle cx="265.57" cy="695.00" r="1.5" fill="#47ad4b" stroke="#1d5e22" stroke-width="0.7"/>
<rect x="261.90" y="693.80" width="7.0" height="2.30" fill="#47ad4b" stroke="#1d5e22" stroke-width="1.15"/>
<line x1="261.90" x2="268.90" y1="695.00" y2="695.00" stroke="#23702a" stroke-width="1"/>
<text transform="translate(269.30,689.50) rotate(-90)" font-size="8.4" fill="#8c8c8c">abc</text>
<line x1="274.80" x2="274.80" y1="704.90" y2="712.50" stroke="#1d5e22" stroke-width="0.9"/>
<circle cx="274.95" cy="704.90" r="1.5" fill="#47ad4b" stroke="#1d5e22" stroke-width="0.7"/>
<circle cx="274.94" cy="712.50" r="1.5" fill="#47ad4b" stroke="#1d5e22" stroke-width="0.7"/>
<circle cx="273.86" cy="709.00" r="1.5" fill="#47ad4b" stroke="#1d5e22" stroke-width="0.7"/>
<rect x="271.30" y="707.00" width="7.0" height="4.10" fill="#47ad4b" stroke="#1d5e22" stroke-width="0.9"/>
<line x1="271.30" x2="278.30" y1="709.00" y2="709.00" stroke="#23702a" stroke-width="1"/>
<text transform="translate(278.70,701.20) rotate(-90)" font-size="8.4" fill="#8c8c8c">d</text>
<line x1="284.20" x2="284.20" y1="694.80" y2="699.30" stroke="#1d5e22" stroke-width="0.9"/>
<circle cx="285.18" cy="694.80" r="1.5" fill="#47ad4b" stroke="#1d5e22" stroke-width="0.7"/>
<circle cx="285.38" cy="699.30" r="1.5" fill="#47ad4b" stroke="#1d5e22" stroke-width="0.7"/>
<circle cx="285.47" cy="696.20" r="1.5" fill="#47ad4b" stroke="#1d5e22" stroke-width="0.7"/>
<rect x="280.70" y="694.40" width="7.0" height="3.50" fill="#47ad4b" stroke="#1d5e22" stroke-width="1.15"/>
<line x1="280.70" x2="287.70" y1="696.20" y2="696.20" stroke="#23702a" stroke-width="1"/>
<text transform="translate(288.10,690.10) rotate(-90)" font-size="8.4" fill="#8c8c8c">abcd</text>
<line x1="293.60" x2="293.60" y1="699.90" y2="706.80" stroke="#1d5e22" stroke-width="0.9"/>
<circle cx="293.84" cy="699.90" r="1.5" fill="#47ad4b" stroke="#1d5e22" stroke-width="0.7"/>
<circle cx="292.69" cy="706.80" r="1.5" fill="#47ad4b" stroke="#1d5e22" stroke-width="0.7"/>
<circle cx="294.90" cy="702.50" r="1.5" fill="#47ad4b" stroke="#1d5e22" stroke-width="0.7"/>
<rect x="290.10" y="701.50" width="7.0" height="2.20" fill="#47ad4b" stroke="#1d5e22" stroke-width="1.15"/>
<line x1="290.10" x2="297.10" y1="702.50" y2="702.50" stroke="#23702a" stroke-width="1"/>
<text transform="translate(297.50,696.20) rotate(-90)" font-size="8.4" fill="#8c8c8c">cd</text>
<line x1="303.00" x2="303.00" y1="696.10" y2="703.70" stroke="#1d5e22" stroke-width="0.9"/>
<circle cx="302.49" cy="696.10" r="1.5" fill="#47ad4b" stroke="#1d5e22" stroke-width="0.7"/>
<circle cx="303.95" cy="703.70" r="1.5" fill="#47ad4b" stroke="#1d5e22" stroke-width="0.7"/>
<circle cx="301.96" cy="699.00" r="1.5" fill="#47ad4b" stroke="#1d5e22" stroke-width="0.7"/>
<rect x="299.50" y="697.20" width="7.0" height="3.50" fill="#47ad4b" stroke="#1d5e22" stroke-width="1.15"/>
<line x1="299.50" x2="306.50" y1="699.00" y2="699.00" stroke="#23702a" stroke-width="1"/>
<text transform="translate(306.90,692.40) rotate(-90)" font-size="8.4" fill="#8c8c8c">cd</text>
<line x1="312.40" x2="312.40" y1="695.70" y2="697.20" stroke="#1d5e22" stroke-width="0.9"/>
<circle cx="312.58" cy="695.70" r="1.5" fill="#47ad4b" stroke="#1d5e22" stroke-width="0.7"/>
<circle cx="313.19" cy="697.20" r="1.5" fill="#47ad4b" stroke="#1d5e22" stroke-width="0.7"/>
<circle cx="311.14" cy="696.50" r="1.5" fill="#47ad4b" stroke="#1d5e22" stroke-width="0.7"/>
<rect x="308.90" y="695.30" width="7.0" height="2.30" fill="#47ad4b" stroke="#1d5e22" stroke-width="1.15"/>
<line x1="308.90" x2="315.90" y1="696.50" y2="696.50" stroke="#23702a" stroke-width="1"/>
<text transform="translate(316.30,691.00) rotate(-90)" font-size="8.4" fill="#8c8c8c">abcd</text>
<line x1="321.80" x2="321.80" y1="693.40" y2="694.90" stroke="#1d5e22" stroke-width="0.9"/>
<circle cx="321.91" cy="693.40" r="1.5" fill="#47ad4b" stroke="#1d5e22" stroke-width="0.7"/>
<circle cx="320.78" cy="694.90" r="1.5" fill="#47ad4b" stroke="#1d5e22" stroke-width="0.7"/>
<circle cx="319.93" cy="694.20" r="1.5" fill="#47ad4b" stroke="#1d5e22" stroke-width="0.7"/>
<rect x="318.30" y="693.00" width="7.0" height="2.30" fill="#47ad4b" stroke="#1d5e22" stroke-width="1.15"/>
<line x1="318.30" x2="325.30" y1="694.20" y2="694.20" stroke="#23702a" stroke-width="1"/>
<text transform="translate(325.70,688.70) rotate(-90)" font-size="8.4" fill="#8c8c8c">ab</text>
<line x1="331.20" x2="331.20" y1="696.00" y2="698.80" stroke="#1d5e22" stroke-width="0.9"/>
<circle cx="330.43" cy="696.00" r="1.5" fill="#47ad4b" stroke="#1d5e22" stroke-width="0.7"/>
<circle cx="332.37" cy="698.80" r="1.5" fill="#47ad4b" stroke="#1d5e22" stroke-width="0.7"/>
<circle cx="332.96" cy="697.40" r="1.5" fill="#47ad4b" stroke="#1d5e22" stroke-width="0.7"/>
<rect x="327.70" y="695.60" width="7.0" height="3.60" fill="#47ad4b" stroke="#1d5e22" stroke-width="1.15"/>
<line x1="327.70" x2="334.70" y1="697.40" y2="697.40" stroke="#23702a" stroke-width="1"/>
<text transform="translate(335.10,691.30) rotate(-90)" font-size="8.4" fill="#8c8c8c">bcd</text>
<line x1="340.60" x2="340.60" y1="696.90" y2="698.80" stroke="#1d5e22" stroke-width="0.9"/>
<circle cx="340.98" cy="696.90" r="1.5" fill="#47ad4b" stroke="#1d5e22" stroke-width="0.7"/>
<circle cx="340.14" cy="698.80" r="1.5" fill="#47ad4b" stroke="#1d5e22" stroke-width="0.7"/>
<circle cx="341.28" cy="697.90" r="1.5" fill="#47ad4b" stroke="#1d5e22" stroke-width="0.7"/>
<rect x="337.10" y="696.50" width="7.0" height="2.70" fill="#47ad4b" stroke="#1d5e22" stroke-width="1.15"/>
<line x1="337.10" x2="344.10" y1="697.90" y2="697.90" stroke="#23702a" stroke-width="1"/>
<text transform="translate(344.50,692.20) rotate(-90)" font-size="8.4" fill="#8c8c8c">bcd</text>
<line x1="350.00" x2="350.00" y1="693.90" y2="696.10" stroke="#1d5e22" stroke-width="0.9"/>
<circle cx="350.57" cy="693.90" r="1.5" fill="#47ad4b" stroke="#1d5e22" stroke-width="0.7"/>
<circle cx="349.72" cy="696.10" r="1.5" fill="#47ad4b" stroke="#1d5e22" stroke-width="0.7"/>
<circle cx="350.37" cy="695.00" r="1.5" fill="#47ad4b" stroke="#1d5e22" stroke-width="0.7"/>
<rect x="346.50" y="693.50" width="7.0" height="3.00" fill="#47ad4b" stroke="#1d5e22" stroke-width="1.15"/>
<line x1="346.50" x2="353.50" y1="695.00" y2="695.00" stroke="#23702a" stroke-width="1"/>
<text transform="translate(353.90,689.20) rotate(-90)" font-size="8.4" fill="#8c8c8c">abc</text>
<line x1="359.40" x2="359.40" y1="694.50" y2="701.50" stroke="#1d5e22" stroke-width="0.9"/>
<circle cx="360.13" cy="694.50" r="1.5" fill="#47ad4b" stroke="#1d5e22" stroke-width="0.7"/>
<circle cx="358.24" cy="701.50" r="1.5" fill="#47ad4b" stroke="#1d5e22" stroke-width="0.7"/>
<circle cx="358.20" cy="698.20" r="1.5" fill="#47ad4b" stroke="#1d5e22" stroke-width="0.7"/>
<rect x="355.90" y="696.50" width="7.0" height="3.40" fill="#47ad4b" stroke="#1d5e22" stroke-width="1.15"/>
<line x1="355.90" x2="362.90" y1="698.20" y2="698.20" stroke="#23702a" stroke-width="1"/>
<text transform="translate(363.30,690.80) rotate(-90)" font-size="8.4" fill="#8c8c8c">bcd</text>
<line x1="368.80" x2="368.80" y1="696.50" y2="698.80" stroke="#1d5e22" stroke-width="0.9"/>
<circle cx="368.72" cy="696.50" r="1.5" fill="#47ad4b" stroke="#1d5e22" stroke-width="0.7"/>
<circle cx="367.94" cy="698.80" r="1.5" fill="#47ad4b" stroke="#1d5e22" stroke-width="0.7"/>
<circle cx="368.35" cy="697.70" r="1.5" fill="#47ad4b" stroke="#1d5e22" stroke-width="0.7"/>
<rect x="365.30" y="696.10" width="7.0" height="3.10" fill="#47ad4b" stroke="#1d5e22" stroke-width="1.15"/>
<line x1="365.30" x2="372.30" y1="697.70" y2="697.70" stroke="#23702a" stroke-width="1"/>
<text transform="translate(372.70,691.80) rotate(-90)" font-size="8.4" fill="#8c8c8c">abcd</text>
<line x1="378.20" x2="378.20" y1="693.00" y2="694.20" stroke="#1d5e22" stroke-width="0.9"/>
<circle cx="378.37" cy="693.00" r="1.5" fill="#47ad4b" stroke="#1d5e22" stroke-width="0.7"/>
<circle cx="377.42" cy="694.20" r="1.5" fill="#47ad4b" stroke="#1d5e22" stroke-width="0.7"/>
<circle cx="378.28" cy="693.60" r="1.5" fill="#47ad4b" stroke="#1d5e22" stroke-width="0.7"/>
<rect x="374.70" y="692.60" width="7.0" height="2.00" fill="#47ad4b" stroke="#1d5e22" stroke-width="1.15"/>
<line x1="374.70" x2="381.70" y1="693.60" y2="693.60" stroke="#23702a" stroke-width="1"/>
<text transform="translate(382.10,688.30) rotate(-90)" font-size="8.4" fill="#8c8c8c">a</text>
<line x1="387.60" x2="387.60" y1="693.40" y2="695.70" stroke="#1d5e22" stroke-width="0.9"/>
<circle cx="387.03" cy="693.40" r="1.5" fill="#47ad4b" stroke="#1d5e22" stroke-width="0.7"/>
<circle cx="387.76" cy="695.70" r="1.5" fill="#47ad4b" stroke="#1d5e22" stroke-width="0.7"/>
<circle cx="386.93" cy="694.50" r="1.5" fill="#47ad4b" stroke="#1d5e22" stroke-width="0.7"/>
<rect x="384.10" y="693.00" width="7.0" height="3.10" fill="#47ad4b" stroke="#1d5e22" stroke-width="1.15"/>
<line x1="384.10" x2="391.10" y1="694.50" y2="694.50" stroke="#23702a" stroke-width="1"/>
<text transform="translate(391.50,688.70) rotate(-90)" font-size="8.4" fill="#8c8c8c">abc</text>
</g>
<g clip-path="url(#cpDSF)">
<line x1="405.70" x2="405.70" y1="737.10" y2="748.00" stroke="#8e0f14" stroke-width="0.9"/>
<circle cx="406.04" cy="737.10" r="1.5" fill="#e31b23" stroke="#8e0f14" stroke-width="0.7"/>
<circle cx="404.59" cy="748.00" r="1.5" fill="#e31b23" stroke="#8e0f14" stroke-width="0.7"/>
<circle cx="406.38" cy="741.30" r="1.5" fill="#e31b23" stroke="#8e0f14" stroke-width="0.7"/>
<rect x="402.20" y="738.90" width="7.0" height="5.20" fill="#e31b23" stroke="#8e0f14" stroke-width="0.9"/>
<line x1="402.20" x2="409.20" y1="741.30" y2="741.30" stroke="#a8141a" stroke-width="1"/>
<text transform="translate(409.60,734.70) rotate(-90)" font-size="8.4" fill="#8c8c8c">efg</text>
<line x1="415.10" x2="415.10" y1="735.20" y2="744.90" stroke="#8e0f14" stroke-width="0.9"/>
<circle cx="414.25" cy="735.20" r="1.5" fill="#e31b23" stroke="#8e0f14" stroke-width="0.7"/>
<circle cx="416.20" cy="744.90" r="1.5" fill="#e31b23" stroke="#8e0f14" stroke-width="0.7"/>
<circle cx="415.50" cy="740.70" r="1.5" fill="#e31b23" stroke="#8e0f14" stroke-width="0.7"/>
<rect x="411.60" y="738.50" width="7.0" height="4.60" fill="#e31b23" stroke="#8e0f14" stroke-width="0.9"/>
<line x1="411.60" x2="418.60" y1="740.70" y2="740.70" stroke="#a8141a" stroke-width="1"/>
<text transform="translate(419.00,732.80) rotate(-90)" font-size="8.4" fill="#8c8c8c">defg</text>
<line x1="424.50" x2="424.50" y1="736.90" y2="746.30" stroke="#8e0f14" stroke-width="0.9"/>
<circle cx="424.43" cy="736.90" r="1.5" fill="#e31b23" stroke="#8e0f14" stroke-width="0.7"/>
<circle cx="424.29" cy="746.30" r="1.5" fill="#e31b23" stroke="#8e0f14" stroke-width="0.7"/>
<circle cx="425.00" cy="741.00" r="1.5" fill="#e31b23" stroke="#8e0f14" stroke-width="0.7"/>
<rect x="421.00" y="739.40" width="7.0" height="4.10" fill="#e31b23" stroke="#8e0f14" stroke-width="0.9"/>
<line x1="421.00" x2="428.00" y1="741.00" y2="741.00" stroke="#a8141a" stroke-width="1"/>
<text transform="translate(428.40,734.50) rotate(-90)" font-size="8.4" fill="#8c8c8c">efg</text>
<line x1="433.90" x2="433.90" y1="741.70" y2="743.10" stroke="#8e0f14" stroke-width="0.9"/>
<circle cx="434.35" cy="741.70" r="1.5" fill="#e31b23" stroke="#8e0f14" stroke-width="0.7"/>
<circle cx="434.52" cy="743.10" r="1.5" fill="#e31b23" stroke="#8e0f14" stroke-width="0.7"/>
<circle cx="434.91" cy="742.40" r="1.5" fill="#e31b23" stroke="#8e0f14" stroke-width="0.7"/>
<rect x="430.40" y="741.30" width="7.0" height="2.20" fill="#e31b23" stroke="#8e0f14" stroke-width="1.15"/>
<line x1="430.40" x2="437.40" y1="742.40" y2="742.40" stroke="#a8141a" stroke-width="1"/>
<text transform="translate(437.80,738.60) rotate(-90)" font-size="8.4" fill="#8c8c8c">fg</text>
<line x1="443.30" x2="443.30" y1="741.00" y2="748.00" stroke="#8e0f14" stroke-width="0.9"/>
<circle cx="443.27" cy="741.00" r="1.5" fill="#e31b23" stroke="#8e0f14" stroke-width="0.7"/>
<circle cx="444.49" cy="748.00" r="1.5" fill="#e31b23" stroke="#8e0f14" stroke-width="0.7"/>
<circle cx="444.65" cy="743.50" r="1.5" fill="#e31b23" stroke="#8e0f14" stroke-width="0.7"/>
<rect x="439.80" y="742.10" width="7.0" height="2.80" fill="#e31b23" stroke="#8e0f14" stroke-width="1.15"/>
<line x1="439.80" x2="446.80" y1="743.50" y2="743.50" stroke="#a8141a" stroke-width="1"/>
<text transform="translate(447.20,738.60) rotate(-90)" font-size="8.4" fill="#8c8c8c">g</text>
<line x1="452.70" x2="452.70" y1="740.30" y2="745.10" stroke="#8e0f14" stroke-width="0.9"/>
<circle cx="453.55" cy="740.30" r="1.5" fill="#e31b23" stroke="#8e0f14" stroke-width="0.7"/>
<circle cx="452.48" cy="745.10" r="1.5" fill="#e31b23" stroke="#8e0f14" stroke-width="0.7"/>
<circle cx="452.44" cy="744.10" r="1.5" fill="#e31b23" stroke="#8e0f14" stroke-width="0.7"/>
<rect x="449.20" y="743.10" width="7.0" height="2.40" fill="#e31b23" stroke="#8e0f14" stroke-width="1.15"/>
<line x1="449.20" x2="456.20" y1="744.10" y2="744.10" stroke="#a8141a" stroke-width="1"/>
<text transform="translate(456.60,737.90) rotate(-90)" font-size="8.4" fill="#8c8c8c">g</text>
<line x1="462.10" x2="462.10" y1="733.80" y2="737.20" stroke="#8e0f14" stroke-width="0.9"/>
<circle cx="462.26" cy="733.80" r="1.5" fill="#e31b23" stroke="#8e0f14" stroke-width="0.7"/>
<circle cx="463.07" cy="737.20" r="1.5" fill="#e31b23" stroke="#8e0f14" stroke-width="0.7"/>
<circle cx="462.20" cy="736.20" r="1.5" fill="#e31b23" stroke="#8e0f14" stroke-width="0.7"/>
<rect x="458.60" y="734.80" width="7.0" height="2.80" fill="#e31b23" stroke="#8e0f14" stroke-width="1.15"/>
<line x1="458.60" x2="465.60" y1="736.20" y2="736.20" stroke="#a8141a" stroke-width="1"/>
<text transform="translate(466.00,731.40) rotate(-90)" font-size="8.4" fill="#8c8c8c">abcdefg</text>
<line x1="471.50" x2="471.50" y1="735.50" y2="742.70" stroke="#1d5e22" stroke-width="0.9"/>
<circle cx="471.56" cy="735.50" r="1.5" fill="#47ad4b" stroke="#1d5e22" stroke-width="0.7"/>
<circle cx="471.34" cy="742.70" r="1.5" fill="#47ad4b" stroke="#1d5e22" stroke-width="0.7"/>
<circle cx="473.12" cy="739.60" r="1.5" fill="#47ad4b" stroke="#1d5e22" stroke-width="0.7"/>
<rect x="468.00" y="737.60" width="7.0" height="4.10" fill="#47ad4b" stroke="#1d5e22" stroke-width="0.9"/>
<line x1="468.00" x2="475.00" y1="739.60" y2="739.60" stroke="#23702a" stroke-width="1"/>
<text transform="translate(475.40,733.10) rotate(-90)" font-size="8.4" fill="#8c8c8c">cdefg</text>
<line x1="480.90" x2="480.90" y1="732.40" y2="737.10" stroke="#1d5e22" stroke-width="0.9"/>
<circle cx="480.47" cy="732.40" r="1.5" fill="#47ad4b" stroke="#1d5e22" stroke-width="0.7"/>
<circle cx="479.83" cy="737.10" r="1.5" fill="#47ad4b" stroke="#1d5e22" stroke-width="0.7"/>
<circle cx="481.80" cy="734.40" r="1.5" fill="#47ad4b" stroke="#1d5e22" stroke-width="0.7"/>
<rect x="477.40" y="733.40" width="7.0" height="2.10" fill="#47ad4b" stroke="#1d5e22" stroke-width="1.15"/>
<line x1="477.40" x2="484.40" y1="734.40" y2="734.40" stroke="#23702a" stroke-width="1"/>
<text transform="translate(484.80,730.00) rotate(-90)" font-size="8.4" fill="#8c8c8c">abcdefg</text>
<line x1="490.30" x2="490.30" y1="739.30" y2="741.30" stroke="#1d5e22" stroke-width="0.9"/>
<circle cx="491.26" cy="739.30" r="1.5" fill="#47ad4b" stroke="#1d5e22" stroke-width="0.7"/>
<circle cx="490.86" cy="741.30" r="1.5" fill="#47ad4b" stroke="#1d5e22" stroke-width="0.7"/>
<circle cx="490.69" cy="740.30" r="1.5" fill="#47ad4b" stroke="#1d5e22" stroke-width="0.7"/>
<rect x="486.80" y="738.90" width="7.0" height="2.80" fill="#47ad4b" stroke="#1d5e22" stroke-width="1.15"/>
<line x1="486.80" x2="493.80" y1="740.30" y2="740.30" stroke="#23702a" stroke-width="1"/>
<text transform="translate(494.20,735.90) rotate(-90)" font-size="8.4" fill="#8c8c8c">efg</text>
<line x1="499.70" x2="499.70" y1="732.00" y2="737.20" stroke="#1d5e22" stroke-width="0.9"/>
<circle cx="500.30" cy="732.00" r="1.5" fill="#47ad4b" stroke="#1d5e22" stroke-width="0.7"/>
<circle cx="499.23" cy="737.20" r="1.5" fill="#47ad4b" stroke="#1d5e22" stroke-width="0.7"/>
<circle cx="500.07" cy="735.50" r="1.5" fill="#47ad4b" stroke="#1d5e22" stroke-width="0.7"/>
<rect x="496.20" y="733.80" width="7.0" height="3.80" fill="#47ad4b" stroke="#1d5e22" stroke-width="1.15"/>
<line x1="496.20" x2="503.20" y1="735.50" y2="735.50" stroke="#23702a" stroke-width="1"/>
<text transform="translate(503.60,729.60) rotate(-90)" font-size="8.4" fill="#8c8c8c">abcdefg</text>
<line x1="509.10" x2="509.10" y1="731.00" y2="734.40" stroke="#1d5e22" stroke-width="0.9"/>
<circle cx="508.07" cy="731.00" r="1.5" fill="#47ad4b" stroke="#1d5e22" stroke-width="0.7"/>
<circle cx="508.20" cy="734.40" r="1.5" fill="#47ad4b" stroke="#1d5e22" stroke-width="0.7"/>
<circle cx="508.89" cy="732.00" r="1.5" fill="#47ad4b" stroke="#1d5e22" stroke-width="0.7"/>
<rect x="505.60" y="730.60" width="7.0" height="2.80" fill="#47ad4b" stroke="#1d5e22" stroke-width="1.15"/>
<line x1="505.60" x2="512.60" y1="732.00" y2="732.00" stroke="#23702a" stroke-width="1"/>
<text transform="translate(513.00,727.30) rotate(-90)" font-size="8.4" fill="#8c8c8c">abcd</text>
<line x1="518.50" x2="518.50" y1="731.00" y2="738.00" stroke="#1d5e22" stroke-width="0.9"/>
<circle cx="518.51" cy="731.00" r="1.5" fill="#47ad4b" stroke="#1d5e22" stroke-width="0.7"/>
<circle cx="518.25" cy="738.00" r="1.5" fill="#47ad4b" stroke="#1d5e22" stroke-width="0.7"/>
<circle cx="516.71" cy="733.40" r="1.5" fill="#47ad4b" stroke="#1d5e22" stroke-width="0.7"/>
<rect x="515.00" y="732.00" width="7.0" height="2.80" fill="#47ad4b" stroke="#1d5e22" stroke-width="1.15"/>
<line x1="515.00" x2="522.00" y1="733.40" y2="733.40" stroke="#23702a" stroke-width="1"/>
<text transform="translate(522.40,728.60) rotate(-90)" font-size="8.4" fill="#8c8c8c">abcde</text>
<line x1="527.90" x2="527.90" y1="732.70" y2="741.00" stroke="#1d5e22" stroke-width="0.9"/>
<circle cx="528.37" cy="732.70" r="1.5" fill="#47ad4b" stroke="#1d5e22" stroke-width="0.7"/>
<circle cx="527.96" cy="741.00" r="1.5" fill="#47ad4b" stroke="#1d5e22" stroke-width="0.7"/>
<circle cx="526.86" cy="735.80" r="1.5" fill="#47ad4b" stroke="#1d5e22" stroke-width="0.7"/>
<rect x="524.40" y="734.40" width="7.0" height="3.20" fill="#47ad4b" stroke="#1d5e22" stroke-width="1.15"/>
<line x1="524.40" x2="531.40" y1="735.80" y2="735.80" stroke="#23702a" stroke-width="1"/>
<text transform="translate(531.80,730.30) rotate(-90)" font-size="8.4" fill="#8c8c8c">abcdefg</text>
<line x1="537.30" x2="537.30" y1="735.50" y2="746.60" stroke="#1d5e22" stroke-width="0.9"/>
<circle cx="536.84" cy="735.50" r="1.5" fill="#47ad4b" stroke="#1d5e22" stroke-width="0.7"/>
<circle cx="537.05" cy="746.60" r="1.5" fill="#47ad4b" stroke="#1d5e22" stroke-width="0.7"/>
<circle cx="536.24" cy="741.70" r="1.5" fill="#47ad4b" stroke="#1d5e22" stroke-width="0.7"/>
<rect x="533.80" y="739.40" width="7.0" height="5.10" fill="#47ad4b" stroke="#1d5e22" stroke-width="0.9"/>
<line x1="533.80" x2="540.80" y1="741.70" y2="741.70" stroke="#23702a" stroke-width="1"/>
<text transform="translate(541.20,733.10) rotate(-90)" font-size="8.4" fill="#8c8c8c">efg</text>
<line x1="546.70" x2="546.70" y1="733.40" y2="734.40" stroke="#1d5e22" stroke-width="0.9"/>
<circle cx="545.66" cy="733.40" r="1.5" fill="#47ad4b" stroke="#1d5e22" stroke-width="0.7"/>
<circle cx="547.69" cy="734.40" r="1.5" fill="#47ad4b" stroke="#1d5e22" stroke-width="0.7"/>
<circle cx="548.57" cy="734.00" r="1.5" fill="#47ad4b" stroke="#1d5e22" stroke-width="0.7"/>
<rect x="543.20" y="733.00" width="7.0" height="1.80" fill="#47ad4b" stroke="#1d5e22" stroke-width="1.15"/>
<line x1="543.20" x2="550.20" y1="734.00" y2="734.00" stroke="#23702a" stroke-width="1"/>
<text transform="translate(550.60,730.00) rotate(-90)" font-size="8.4" fill="#8c8c8c">abcdef</text>
<line x1="556.10" x2="556.10" y1="738.00" y2="740.60" stroke="#1d5e22" stroke-width="0.9"/>
<circle cx="556.50" cy="738.00" r="1.5" fill="#47ad4b" stroke="#1d5e22" stroke-width="0.7"/>
<circle cx="556.98" cy="740.60" r="1.5" fill="#47ad4b" stroke="#1d5e22" stroke-width="0.7"/>
<circle cx="555.79" cy="740.00" r="1.5" fill="#47ad4b" stroke="#1d5e22" stroke-width="0.7"/>
<rect x="552.60" y="739.40" width="7.0" height="1.60" fill="#47ad4b" stroke="#1d5e22" stroke-width="1.15"/>
<line x1="552.60" x2="559.60" y1="740.00" y2="740.00" stroke="#23702a" stroke-width="1"/>
<text transform="translate(560.00,735.60) rotate(-90)" font-size="8.4" fill="#8c8c8c">cdefg</text>
<line x1="565.50" x2="565.50" y1="725.50" y2="735.80" stroke="#1d5e22" stroke-width="0.9"/>
<circle cx="566.23" cy="725.50" r="1.5" fill="#47ad4b" stroke="#1d5e22" stroke-width="0.7"/>
<circle cx="564.83" cy="735.80" r="1.5" fill="#47ad4b" stroke="#1d5e22" stroke-width="0.7"/>
<circle cx="566.49" cy="730.20" r="1.5" fill="#47ad4b" stroke="#1d5e22" stroke-width="0.7"/>
<rect x="562.00" y="728.30" width="7.0" height="4.10" fill="#47ad4b" stroke="#1d5e22" stroke-width="0.9"/>
<line x1="562.00" x2="569.00" y1="730.20" y2="730.20" stroke="#23702a" stroke-width="1"/>
<text transform="translate(569.40,723.10) rotate(-90)" font-size="8.4" fill="#8c8c8c">abc</text>
<line x1="574.90" x2="574.90" y1="725.10" y2="736.20" stroke="#1d5e22" stroke-width="0.9"/>
<circle cx="575.06" cy="725.10" r="1.5" fill="#47ad4b" stroke="#1d5e22" stroke-width="0.7"/>
<circle cx="575.87" cy="736.20" r="1.5" fill="#47ad4b" stroke="#1d5e22" stroke-width="0.7"/>
<circle cx="573.29" cy="732.00" r="1.5" fill="#47ad4b" stroke="#1d5e22" stroke-width="0.7"/>
<rect x="571.40" y="729.90" width="7.0" height="4.50" fill="#47ad4b" stroke="#1d5e22" stroke-width="0.9"/>
<line x1="571.40" x2="578.40" y1="732.00" y2="732.00" stroke="#23702a" stroke-width="1"/>
<text transform="translate(578.80,722.70) rotate(-90)" font-size="8.4" fill="#8c8c8c">abcde</text>
<line x1="584.30" x2="584.30" y1="729.80" y2="733.20" stroke="#1d5e22" stroke-width="0.9"/>
<circle cx="585.00" cy="729.80" r="1.5" fill="#47ad4b" stroke="#1d5e22" stroke-width="0.7"/>
<circle cx="583.40" cy="733.20" r="1.5" fill="#47ad4b" stroke="#1d5e22" stroke-width="0.7"/>
<circle cx="584.45" cy="732.20" r="1.5" fill="#47ad4b" stroke="#1d5e22" stroke-width="0.7"/>
<rect x="580.80" y="730.90" width="7.0" height="2.70" fill="#47ad4b" stroke="#1d5e22" stroke-width="1.15"/>
<line x1="580.80" x2="587.80" y1="732.20" y2="732.20" stroke="#23702a" stroke-width="1"/>
<text transform="translate(588.20,727.40) rotate(-90)" font-size="8.4" fill="#8c8c8c">abcde</text>
<line x1="593.70" x2="593.70" y1="728.70" y2="730.20" stroke="#1d5e22" stroke-width="0.9"/>
<circle cx="594.78" cy="728.70" r="1.5" fill="#47ad4b" stroke="#1d5e22" stroke-width="0.7"/>
<circle cx="592.50" cy="730.20" r="1.5" fill="#47ad4b" stroke="#1d5e22" stroke-width="0.7"/>
<circle cx="592.68" cy="729.40" r="1.5" fill="#47ad4b" stroke="#1d5e22" stroke-width="0.7"/>
<rect x="590.20" y="728.30" width="7.0" height="2.30" fill="#47ad4b" stroke="#1d5e22" stroke-width="1.15"/>
<line x1="590.20" x2="597.20" y1="729.40" y2="729.40" stroke="#23702a" stroke-width="1"/>
<text transform="translate(597.60,725.40) rotate(-90)" font-size="8.4" fill="#8c8c8c">a</text>
<line x1="603.10" x2="603.10" y1="726.80" y2="736.00" stroke="#1d5e22" stroke-width="0.9"/>
<circle cx="602.62" cy="726.80" r="1.5" fill="#47ad4b" stroke="#1d5e22" stroke-width="0.7"/>
<circle cx="602.68" cy="736.00" r="1.5" fill="#47ad4b" stroke="#1d5e22" stroke-width="0.7"/>
<circle cx="601.35" cy="732.40" r="1.5" fill="#47ad4b" stroke="#1d5e22" stroke-width="0.7"/>
<rect x="599.60" y="730.30" width="7.0" height="4.10" fill="#47ad4b" stroke="#1d5e22" stroke-width="0.9"/>
<line x1="599.60" x2="606.60" y1="732.40" y2="732.40" stroke="#23702a" stroke-width="1"/>
<text transform="translate(607.00,724.40) rotate(-90)" font-size="8.4" fill="#8c8c8c">abcde</text>
<line x1="612.50" x2="612.50" y1="729.10" y2="734.40" stroke="#1d5e22" stroke-width="0.9"/>
<circle cx="613.45" cy="729.10" r="1.5" fill="#47ad4b" stroke="#1d5e22" stroke-width="0.7"/>
<circle cx="613.26" cy="734.40" r="1.5" fill="#47ad4b" stroke="#1d5e22" stroke-width="0.7"/>
<circle cx="612.09" cy="729.80" r="1.5" fill="#47ad4b" stroke="#1d5e22" stroke-width="0.7"/>
<rect x="609.00" y="728.70" width="7.0" height="3.40" fill="#47ad4b" stroke="#1d5e22" stroke-width="1.15"/>
<line x1="609.00" x2="616.00" y1="729.80" y2="729.80" stroke="#23702a" stroke-width="1"/>
<text transform="translate(616.40,725.40) rotate(-90)" font-size="8.4" fill="#8c8c8c">ab</text>
<line x1="621.90" x2="621.90" y1="737.90" y2="739.40" stroke="#1d5e22" stroke-width="0.9"/>
<circle cx="621.56" cy="737.90" r="1.5" fill="#47ad4b" stroke="#1d5e22" stroke-width="0.7"/>
<circle cx="622.11" cy="739.40" r="1.5" fill="#47ad4b" stroke="#1d5e22" stroke-width="0.7"/>
<circle cx="620.08" cy="738.60" r="1.5" fill="#47ad4b" stroke="#1d5e22" stroke-width="0.7"/>
<rect x="618.40" y="737.50" width="7.0" height="2.30" fill="#47ad4b" stroke="#1d5e22" stroke-width="1.15"/>
<line x1="618.40" x2="625.40" y1="738.60" y2="738.60" stroke="#23702a" stroke-width="1"/>
<text transform="translate(625.80,734.60) rotate(-90)" font-size="8.4" fill="#8c8c8c">bcdefg</text>
<line x1="631.30" x2="631.30" y1="729.80" y2="731.70" stroke="#1d5e22" stroke-width="0.9"/>
<circle cx="630.17" cy="729.80" r="1.5" fill="#47ad4b" stroke="#1d5e22" stroke-width="0.7"/>
<circle cx="632.26" cy="731.70" r="1.5" fill="#47ad4b" stroke="#1d5e22" stroke-width="0.7"/>
<circle cx="630.53" cy="730.60" r="1.5" fill="#47ad4b" stroke="#1d5e22" stroke-width="0.7"/>
<rect x="627.80" y="729.40" width="7.0" height="2.70" fill="#47ad4b" stroke="#1d5e22" stroke-width="1.15"/>
<line x1="627.80" x2="634.80" y1="730.60" y2="730.60" stroke="#23702a" stroke-width="1"/>
<text transform="translate(635.20,726.60) rotate(-90)" font-size="8.4" fill="#8c8c8c">ab</text>
<line x1="640.70" x2="640.70" y1="721.70" y2="731.80" stroke="#1d5e22" stroke-width="0.9"/>
<circle cx="640.70" cy="721.70" r="1.5" fill="#47ad4b" stroke="#1d5e22" stroke-width="0.7"/>
<circle cx="641.74" cy="731.80" r="1.5" fill="#47ad4b" stroke="#1d5e22" stroke-width="0.7"/>
<circle cx="642.61" cy="726.30" r="1.5" fill="#47ad4b" stroke="#1d5e22" stroke-width="0.7"/>
<rect x="637.20" y="724.50" width="7.0" height="3.80" fill="#47ad4b" stroke="#1d5e22" stroke-width="1.15"/>
<line x1="637.20" x2="644.20" y1="726.30" y2="726.30" stroke="#23702a" stroke-width="1"/>
<text transform="translate(644.60,719.30) rotate(-90)" font-size="8.4" fill="#8c8c8c">a</text>
<line x1="650.10" x2="650.10" y1="732.40" y2="737.80" stroke="#1d5e22" stroke-width="0.9"/>
<circle cx="650.03" cy="732.40" r="1.5" fill="#47ad4b" stroke="#1d5e22" stroke-width="0.7"/>
<circle cx="649.40" cy="737.80" r="1.5" fill="#47ad4b" stroke="#1d5e22" stroke-width="0.7"/>
<circle cx="649.28" cy="736.40" r="1.5" fill="#47ad4b" stroke="#1d5e22" stroke-width="0.7"/>
<rect x="646.60" y="734.40" width="7.0" height="3.80" fill="#47ad4b" stroke="#1d5e22" stroke-width="1.15"/>
<line x1="646.60" x2="653.60" y1="736.40" y2="736.40" stroke="#23702a" stroke-width="1"/>
<text transform="translate(654.00,730.00) rotate(-90)" font-size="8.4" fill="#8c8c8c">abcdefg</text>
<line x1="659.50" x2="659.50" y1="729.00" y2="733.20" stroke="#1d5e22" stroke-width="0.9"/>
<circle cx="660.51" cy="729.00" r="1.5" fill="#47ad4b" stroke="#1d5e22" stroke-width="0.7"/>
<circle cx="660.45" cy="733.20" r="1.5" fill="#47ad4b" stroke="#1d5e22" stroke-width="0.7"/>
<circle cx="658.28" cy="732.10" r="1.5" fill="#47ad4b" stroke="#1d5e22" stroke-width="0.7"/>
<rect x="656.00" y="730.30" width="7.0" height="3.30" fill="#47ad4b" stroke="#1d5e22" stroke-width="1.15"/>
<line x1="656.00" x2="663.00" y1="732.10" y2="732.10" stroke="#23702a" stroke-width="1"/>
<text transform="translate(663.40,726.60) rotate(-90)" font-size="8.4" fill="#8c8c8c">abcd</text>
<line x1="668.90" x2="668.90" y1="737.90" y2="739.70" stroke="#1d5e22" stroke-width="0.9"/>
<circle cx="669.71" cy="737.90" r="1.5" fill="#47ad4b" stroke="#1d5e22" stroke-width="0.7"/>
<circle cx="668.55" cy="739.70" r="1.5" fill="#47ad4b" stroke="#1d5e22" stroke-width="0.7"/>
<circle cx="668.79" cy="739.00" r="1.5" fill="#47ad4b" stroke="#1d5e22" stroke-width="0.7"/>
<rect x="665.40" y="737.50" width="7.0" height="2.60" fill="#47ad4b" stroke="#1d5e22" stroke-width="1.15"/>
<line x1="665.40" x2="672.40" y1="739.00" y2="739.00" stroke="#23702a" stroke-width="1"/>
<text transform="translate(672.80,734.60) rotate(-90)" font-size="8.4" fill="#8c8c8c">bcdefg</text>
<line x1="678.30" x2="678.30" y1="732.90" y2="740.10" stroke="#1d5e22" stroke-width="0.9"/>
<circle cx="677.51" cy="732.90" r="1.5" fill="#47ad4b" stroke="#1d5e22" stroke-width="0.7"/>
<circle cx="679.21" cy="740.10" r="1.5" fill="#47ad4b" stroke="#1d5e22" stroke-width="0.7"/>
<circle cx="680.28" cy="736.70" r="1.5" fill="#47ad4b" stroke="#1d5e22" stroke-width="0.7"/>
<rect x="674.80" y="734.90" width="7.0" height="3.70" fill="#47ad4b" stroke="#1d5e22" stroke-width="1.15"/>
<line x1="674.80" x2="681.80" y1="736.70" y2="736.70" stroke="#23702a" stroke-width="1"/>
<text transform="translate(682.20,730.50) rotate(-90)" font-size="8.4" fill="#8c8c8c">abcdefg</text>
</g>
<rect x="109.7" y="32.0" width="283.70" height="103.80" fill="none" stroke="#333" stroke-width="1.3"/>
<rect x="400.4" y="32.0" width="283.20" height="103.80" fill="none" stroke="#333" stroke-width="1.3"/>
<rect x="109.7" y="142.3" width="283.70" height="103.50" fill="none" stroke="#333" stroke-width="1.3"/>
<rect x="400.4" y="142.3" width="283.20" height="103.50" fill="none" stroke="#333" stroke-width="1.3"/>
<rect x="109.7" y="292.5" width="283.70" height="103.40" fill="none" stroke="#333" stroke-width="1.3"/>
<rect x="400.4" y="292.5" width="283.20" height="103.40" fill="none" stroke="#333" stroke-width="1.3"/>
<rect x="109.7" y="402.6" width="283.70" height="103.50" fill="none" stroke="#333" stroke-width="1.3"/>
<rect x="400.4" y="402.6" width="283.20" height="103.50" fill="none" stroke="#333" stroke-width="1.3"/>
<rect x="109.7" y="545.8" width="283.70" height="103.70" fill="none" stroke="#333" stroke-width="1.3"/>
<rect x="400.4" y="545.8" width="283.20" height="103.70" fill="none" stroke="#333" stroke-width="1.3"/>
<rect x="109.7" y="655.9" width="283.70" height="103.70" fill="none" stroke="#333" stroke-width="1.3"/>
<rect x="400.4" y="655.9" width="283.20" height="103.70" fill="none" stroke="#333" stroke-width="1.3"/>
</svg></body></html>
